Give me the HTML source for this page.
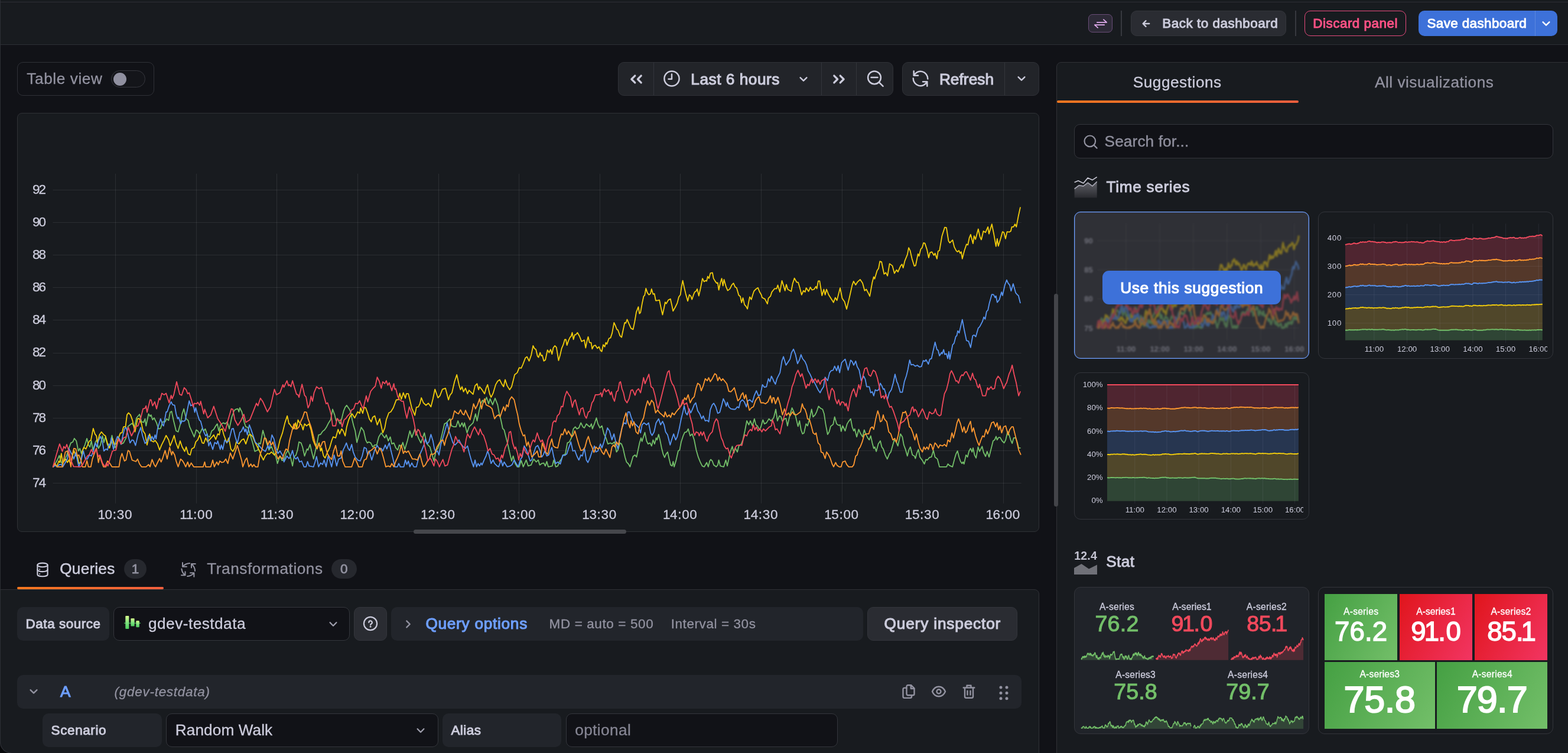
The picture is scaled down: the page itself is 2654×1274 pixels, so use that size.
<!DOCTYPE html>
<html lang="en"><head><meta charset="utf-8"><title>Edit panel - Grafana</title>
<style>
html,body{margin:0;padding:0;background:#111217;}
#app{width:2654px;height:1274px;overflow:hidden;position:relative;font-family:"Liberation Sans",sans-serif;}
.b{position:absolute;display:block;}
.t{position:absolute;white-space:nowrap;display:block;}
svg text{font-family:"Liberation Sans",sans-serif;}
</style></head><body><div id="app">
<div class="b" style="left:0px;top:0px;width:2654px;height:76px;background:#181b1f;"></div>
<div class="b" style="left:0px;top:3px;width:2654px;height:1px;background:#2d2f35;"></div>
<div class="b" style="left:0px;top:75px;width:2654px;height:1px;background:#2d2f35;"></div>
<div class="b" style="left:1842px;top:24px;width:41px;height:31px;background:#2d2a37;border:1px solid #6a4d78;border-radius:7px;box-sizing:border-box;"></div>
<svg class="b" style="left:1844.70px;top:21.60px;" width="36" height="36" viewBox="-18 -18 36 36" fill="none" stroke="#e3acf0" stroke-width="1.7" stroke-linecap="round" stroke-linejoin="round"><path d="M-6.2 -2.15H10.2L4.9 -6.9M6.2 2.15H-10.2L-4.9 6.9"/></svg>
<div class="b" style="left:1897px;top:18px;width:2px;height:43px;background:#37393f;"></div>
<div class="b" style="left:1914px;top:18px;width:263px;height:43px;background:#2a2c32;border:1px solid #33353b;border-radius:10px;box-sizing:border-box;"></div>
<svg class="b" style="left:1921.50px;top:21.60px;" width="36" height="36" viewBox="-18 -18 36 36" fill="none" stroke="#ccccdc" stroke-width="2.3" stroke-linecap="round" stroke-linejoin="round"><path d="M5.3 0H-5.3M-0.5 -4.9L-5.4 0 -0.5 4.9"/></svg>
<span class="t" style="left:1967.20px;top:25.04px;font-size:22.464000000000002px;line-height:29px;color:#ccccdc;letter-spacing:0.523px;-webkit-text-stroke:0.95px #ccccdc;">Back to dashboard</span>
<div class="b" style="left:2192px;top:18px;width:2px;height:43px;background:#37393f;"></div>
<div class="b" style="left:2208px;top:18px;width:172px;height:43px;border:1.5px solid #e64b7d;border-radius:10px;box-sizing:border-box;"></div>
<span class="t" style="left:2222.30px;top:25.04px;font-size:22.464000000000002px;line-height:29px;color:#ff5286;letter-spacing:0.487px;-webkit-text-stroke:0.95px #ff5286;">Discard panel</span>
<div class="b" style="left:2401px;top:18px;width:235px;height:43px;background:#3d71d9;border-radius:10px;"></div>
<div class="b" style="left:2597.5px;top:18px;width:1px;height:43px;background:#5b86de;"></div>
<span class="t" style="left:2415.50px;top:25.04px;font-size:22.464000000000002px;line-height:29px;color:#ffffff;letter-spacing:0.368px;-webkit-text-stroke:0.95px #ffffff;">Save dashboard</span>
<svg class="b" style="left:2599.20px;top:21.80px;" width="36" height="36" viewBox="-18 -18 36 36" fill="none" stroke="#ffffff" stroke-width="2.4" stroke-linecap="round" stroke-linejoin="round"><path d="M-5.4 -2.7L0 2.7 5.4 -2.7"/></svg>
<div class="b" style="left:29px;top:105px;width:232px;height:57px;border:1px solid #2f3137;border-radius:10px;box-sizing:border-box;"></div>
<span class="t" style="left:45.30px;top:116.43px;font-size:26.208px;line-height:34px;color:#9292a0;letter-spacing:0.593px;-webkit-text-stroke:0.3px #9292a0;">Table view</span>
<div class="b" style="left:188px;top:119px;width:58px;height:29px;background:#14151a;border:1px solid #36373e;border-radius:15px;box-sizing:border-box;"></div>
<div class="b" style="left:191.5px;top:122.5px;width:22px;height:22px;background:#9090a0;border-radius:11px;"></div>
<div class="b" style="left:1046px;top:105px;width:466px;height:57px;background:#222429;border:1px solid #2f3137;border-radius:10px;box-sizing:border-box;"></div>
<div class="b" style="left:1106px;top:106px;width:1px;height:55px;background:#33353b;"></div>
<div class="b" style="left:1390px;top:106px;width:1px;height:55px;background:#33353b;"></div>
<div class="b" style="left:1449px;top:106px;width:1px;height:55px;background:#33353b;"></div>
<svg class="b" style="left:1058.50px;top:115.80px;" width="36" height="36" viewBox="-18 -18 36 36" fill="none" stroke="#ccccdc" stroke-width="3.3" stroke-linecap="round" stroke-linejoin="round"><path d="M-2.2 -5.9L-8.1 0 -2.2 5.9M8.2 -5.9L2.4 0 8.2 5.9"/></svg>
<svg class="b" style="left:1119.30px;top:115.30px;" width="36" height="36" viewBox="-18 -18 36 36" fill="none" stroke="#ccccdc" stroke-width="2.5" stroke-linecap="round" stroke-linejoin="round"><circle cx="0" cy="0" r="12.6"/><path d="M0 -7.500V0.800H-5.500"/></svg>
<span class="t" style="left:1169.30px;top:117.13px;font-size:26.208px;line-height:34px;color:#ccccdc;letter-spacing:0.542px;-webkit-text-stroke:1.1px #ccccdc;">Last 6 hours</span>
<svg class="b" style="left:1341.50px;top:115.80px;" width="36" height="36" viewBox="-18 -18 36 36" fill="none" stroke="#ccccdc" stroke-width="2.4" stroke-linecap="round" stroke-linejoin="round"><path d="M-5.4 -2.7L0 2.7 5.4 -2.7"/></svg>
<svg class="b" style="left:1401.70px;top:115.80px;" width="36" height="36" viewBox="-18 -18 36 36" fill="none" stroke="#ccccdc" stroke-width="3.3" stroke-linecap="round" stroke-linejoin="round"><path d="M2.2 -5.9L8.1 0 2.2 5.9M-8.2 -5.9L-2.4 0 -8.2 5.9"/></svg>
<svg class="b" style="left:1462.70px;top:115.40px;" width="36" height="36" viewBox="-18 -18 36 36" fill="none" stroke="#ccccdc" stroke-width="2.5" stroke-linecap="round" stroke-linejoin="round"><circle cx="-1" cy="-1.700" r="10.9"/><path d="M7 6.300L13.600 12.900M-6.500 -1.900H4.500"/></svg>
<div class="b" style="left:1527px;top:105px;width:232px;height:57px;background:#222429;border:1px solid #2f3137;border-radius:10px;box-sizing:border-box;"></div>
<div class="b" style="left:1700px;top:106px;width:1px;height:55px;background:#33353b;"></div>
<svg class="b" style="left:1540.20px;top:115.00px;" width="36" height="36" viewBox="-18 -18 36 36" fill="none" stroke="#ccccdc" stroke-width="2.5" stroke-linecap="round" stroke-linejoin="round"><path d="M-11.300 -12.800V-5.200H-4"/><path d="M-11 -5.400A12.300 12.300 0 0 1 12.300 0.400"/><path d="M11.300 12.800V5.200H4"/><path d="M11 5.400A12.300 12.300 0 0 1 -12.300 -0.400"/></svg>
<span class="t" style="left:1589.90px;top:117.13px;font-size:26.208px;line-height:34px;color:#ccccdc;letter-spacing:0.072px;-webkit-text-stroke:1.1px #ccccdc;">Refresh</span>
<svg class="b" style="left:1711.30px;top:115.40px;" width="36" height="36" viewBox="-18 -18 36 36" fill="none" stroke="#ccccdc" stroke-width="2.4" stroke-linecap="round" stroke-linejoin="round"><path d="M-5.4 -2.7L0 2.7 5.4 -2.7"/></svg>
<div class="b" style="left:29px;top:191px;width:1730px;height:709px;background:#181b1f;border:1px solid #2f3136;border-radius:8px;box-sizing:border-box;"></div>
<svg class="b" style="left:0px;top:0px;" width="1790" height="900"><rect x="195" y="293.9" width="1" height="557.8" fill="rgba(204,204,220,0.105)"/><rect x="332" y="293.9" width="1" height="557.8" fill="rgba(204,204,220,0.105)"/><rect x="468" y="293.9" width="1" height="557.8" fill="rgba(204,204,220,0.105)"/><rect x="605" y="293.9" width="1" height="557.8" fill="rgba(204,204,220,0.105)"/><rect x="742" y="293.9" width="1" height="557.8" fill="rgba(204,204,220,0.105)"/><rect x="878" y="293.9" width="1" height="557.8" fill="rgba(204,204,220,0.105)"/><rect x="1015" y="293.9" width="1" height="557.8" fill="rgba(204,204,220,0.105)"/><rect x="1151" y="293.9" width="1" height="557.8" fill="rgba(204,204,220,0.105)"/><rect x="1288" y="293.9" width="1" height="557.8" fill="rgba(204,204,220,0.105)"/><rect x="1425" y="293.9" width="1" height="557.8" fill="rgba(204,204,220,0.105)"/><rect x="1561" y="293.9" width="1" height="557.8" fill="rgba(204,204,220,0.105)"/><rect x="1698" y="293.9" width="1" height="557.8" fill="rgba(204,204,220,0.105)"/><rect x="89.5" y="817" width="1639.1" height="1" fill="rgba(204,204,220,0.105)"/><rect x="89.5" y="762" width="1639.1" height="1" fill="rgba(204,204,220,0.105)"/><rect x="89.5" y="707" width="1639.1" height="1" fill="rgba(204,204,220,0.105)"/><rect x="89.5" y="652" width="1639.1" height="1" fill="rgba(204,204,220,0.105)"/><rect x="89.5" y="597" width="1639.1" height="1" fill="rgba(204,204,220,0.105)"/><rect x="89.5" y="541" width="1639.1" height="1" fill="rgba(204,204,220,0.105)"/><rect x="89.5" y="486" width="1639.1" height="1" fill="rgba(204,204,220,0.105)"/><rect x="89.5" y="431" width="1639.1" height="1" fill="rgba(204,204,220,0.105)"/><rect x="89.5" y="376" width="1639.1" height="1" fill="rgba(204,204,220,0.105)"/><rect x="89.5" y="321" width="1639.1" height="1" fill="rgba(204,204,220,0.105)"/><path d="M89.8 789.8L93.6 784.2L97.0 778.3L100.4 770.6L102.9 780.0L105.5 785.0L108.9 778.3L113.1 769.8L115.7 761.3L119.9 749.4L123.3 747.7L125.8 741.8L129.2 746.0L132.6 763.0L135.2 758.7L137.7 767.2L140.3 760.4L143.7 752.8L147.1 741.8L149.6 752.8L152.2 756.2L154.7 746.0L157.2 761.3L161.5 747.7L164.0 744.3L166.6 758.7L170.0 752.8L173.4 737.5L175.9 748.5L178.5 739.2L181.9 752.8L185.3 757.9L189.5 736.7L192.0 749.4L195.4 757.9L198.8 747.7L202.2 742.6L205.6 751.1L209.0 749.4L213.3 740.9L216.7 721.4L220.1 718.8L223.5 716.3L227.7 722.2L231.1 707.0L236.2 701.0L239.6 713.7L243.0 714.6L245.5 708.6L247.2 720.5L251.5 700.2L254.0 704.4L255.7 701.9L258.3 710.3L260.8 707.0L265.0 715.4L268.4 725.6L271.8 724.8L275.2 713.7L279.5 713.7L282.0 708.6L285.4 711.2L288.0 697.6L290.5 695.9L293.9 712.0L298.1 729.0L301.5 730.7L305.8 715.4L308.3 700.2L311.2 691.7L315.1 708.6L318.5 711.2L321.1 722.2L326.2 733.3L328.7 739.2L332.1 727.3L334.6 729.0L338.0 734.1L342.3 724.8L344.8 729.0L347.4 725.6L351.6 737.5L355.0 739.2L358.4 729.0L361.8 726.5L365.2 720.5L367.8 717.1L370.3 729.0L373.7 718.0L377.9 715.4L381.3 717.1L384.7 713.7L388.1 725.6L392.4 705.3L396.6 694.2L399.2 692.5L402.6 691.7L404.3 696.8L405.9 690.0L409.3 696.8L413.6 715.4L416.1 722.2L419.5 723.1L422.9 734.1L427.2 747.7L431.4 763.8L436.5 761.3L438.2 749.4L440.8 751.1L445.0 728.2L448.4 740.1L451.8 751.1L455.2 761.3L459.4 755.3L463.7 766.4L467.1 773.2L469.6 784.2L473.9 771.5L477.3 779.1L480.6 778.3L484.0 767.2L487.4 762.1L490.0 768.1L492.5 776.6L495.1 788.4L497.6 773.2L501.0 769.8L503.6 761.3L506.1 747.7L509.5 749.4L512.1 756.2L515.5 771.5L519.7 759.6L521.4 761.3L524.8 751.9L527.3 763.0L530.7 776.6L534.1 761.3L536.7 749.4L539.2 735.8L542.6 735.0L546.0 729.9L549.4 727.3L552.8 722.2L556.2 715.4L559.6 710.3L563.0 692.5L566.4 701.9L568.9 712.0L571.5 708.6L575.7 717.1L578.3 708.6L581.7 695.1L584.2 689.1L586.8 685.7L591.0 691.7L593.6 696.8L596.1 710.3L598.6 720.5L601.2 729.0L604.1 748.5L607.1 737.5L611.4 723.1L615.6 729.0L619.0 744.3L621.6 749.4L624.1 747.7L627.5 749.4L630.9 756.2L634.3 752.8L637.7 752.8L641.1 739.2L645.3 732.4L648.7 737.5L651.3 740.9L653.8 735.8L657.2 746.0L660.6 739.2L663.2 751.1L666.6 749.4L670.0 757.9L673.3 761.3L675.9 752.8L679.3 756.2L681.8 748.5L685.2 760.4L689.5 746.0L693.7 729.0L697.1 740.1L700.5 730.7L702.2 725.6L705.6 734.1L709.0 742.6L712.4 749.4L714.9 742.6L718.3 732.4L720.9 744.3L724.3 752.8L727.7 756.2L731.1 768.1L734.5 780.0L737.9 763.0L741.3 757.9L744.6 749.4L748.0 735.8L752.3 717.1L755.7 715.4L759.9 710.3L761.6 708.6L764.2 720.5L768.4 722.2L771.8 722.2L775.2 712.0L778.6 722.2L782.0 715.4L784.5 722.2L786.2 715.4L790.5 732.4L793.9 722.2L797.3 718.8L800.7 715.4L804.9 700.2L807.5 712.0L810.9 695.1L814.3 681.5L816.8 677.2L820.2 680.6L823.6 672.2L827.0 683.2L829.5 674.7L833.8 684.9L838.0 673.8L842.3 684.9L844.8 698.5L848.2 712.0L850.8 724.8L853.3 727.3L856.7 740.9L860.1 754.5L863.5 769.8L866.0 780.0L868.6 771.5L872.0 784.2L875.4 789.8L878.8 789.8L882.2 779.1L885.6 789.8L890.6 778.3L894.0 788.4L899.1 786.7L900.0 784.2L903.4 776.6L907.6 781.6L911.0 778.3L913.6 786.7L917.0 784.2L920.4 783.3L922.9 788.4L925.5 780.8L928.0 789.8L934.8 788.4L937.3 778.3L940.7 789.8L944.1 788.4L946.7 781.6L950.1 776.6L953.5 769.8L956.9 768.1L960.3 749.4L963.7 747.7L967.1 740.9L970.5 725.6L973.8 722.2L976.4 725.6L979.8 723.9L983.2 715.4L986.6 722.2L989.1 723.9L992.5 717.1L995.9 720.5L998.5 722.2L1001.0 717.1L1002.7 725.6L1006.1 717.1L1009.5 707.0L1012.0 717.1L1015.4 723.9L1018.8 720.5L1022.2 734.1L1025.6 740.9L1029.0 751.1L1033.3 749.4L1035.8 751.1L1040.1 747.7L1043.5 764.7L1046.0 761.3L1049.4 749.4L1051.9 751.1L1054.5 757.9L1057.9 773.2L1060.4 781.6L1063.8 785.0L1066.4 789.8L1069.8 778.3L1071.5 772.3L1074.9 769.8L1077.4 773.2L1080.0 761.3L1082.5 749.4L1085.0 740.9L1086.7 746.8L1091.5 731.6L1094.4 746.0L1096.9 751.1L1100.3 749.4L1102.9 754.5L1105.4 744.3L1108.0 751.1L1110.5 740.9L1112.2 744.3L1114.8 735.0L1117.3 745.1L1119.8 757.9L1122.4 768.1L1124.9 774.0L1127.5 768.1L1130.0 764.7L1132.6 776.6L1135.1 786.7L1137.7 788.4L1139.4 780.8L1141.1 789.8L1144.5 778.3L1147.9 763.0L1150.4 761.3L1153.0 747.7L1156.3 737.5L1158.9 731.6L1162.3 730.7L1164.8 725.6L1168.2 737.5L1171.6 734.1L1175.0 744.3L1178.4 761.3L1181.8 773.2L1185.2 781.6L1188.6 788.4L1192.0 789.8L1196.2 782.5L1198.8 789.8L1201.3 780.0L1203.0 777.4L1205.6 780.0L1208.1 786.7L1212.4 789.8L1214.9 786.7L1216.6 778.3L1219.2 788.4L1225.1 789.8L1228.5 778.3L1231.0 788.4L1233.6 776.6L1236.1 764.7L1239.5 755.3L1242.1 766.4L1244.6 757.9L1248.0 764.7L1250.6 754.5L1254.8 751.1L1257.4 744.3L1260.8 729.0L1264.1 712.0L1267.5 718.8L1270.1 712.0L1273.5 720.5L1276.9 708.6L1279.4 718.8L1282.0 720.5L1285.4 727.3L1287.9 722.2L1291.3 710.3L1293.9 717.1L1297.3 715.4L1301.5 708.6L1304.9 712.0L1308.3 708.6L1310.0 705.3L1313.1 692.5L1315.9 712.0L1319.3 703.6L1321.9 705.3L1324.4 712.9L1327.8 708.6L1330.4 707.8L1332.9 720.5L1335.5 708.6L1338.0 698.5L1340.6 690.0L1344.0 697.6L1346.5 703.6L1350.7 721.4L1353.3 712.0L1355.8 727.3L1358.4 734.1L1360.9 732.4L1364.3 717.1L1366.9 720.5L1370.3 708.6L1373.7 692.5L1376.2 705.3L1379.6 701.9L1382.2 696.8L1385.5 687.4L1388.9 690.8L1392.3 692.5L1394.9 700.2L1397.4 717.1L1400.8 735.0L1403.4 730.7L1405.9 721.4L1410.2 718.0L1412.7 705.3L1416.1 717.1L1419.5 719.7L1422.0 718.8L1423.7 729.9L1426.3 720.5L1430.5 729.0L1433.9 717.1L1436.5 712.9L1439.9 708.6L1442.4 722.2L1445.0 729.0L1446.7 725.6L1450.1 739.2L1453.5 726.5L1456.8 734.1L1460.2 739.2L1462.8 727.3L1465.3 734.1L1468.7 740.9L1471.3 744.3L1473.8 737.5L1476.4 749.4L1478.9 758.7L1480.6 756.2L1483.2 763.8L1486.6 751.1L1490.0 746.0L1492.5 756.2L1495.0 759.6L1498.4 769.8L1501.8 776.6L1505.2 768.1L1507.8 764.7L1511.2 752.8L1513.7 744.3L1517.1 747.7L1519.7 754.5L1524.2 734.1L1527.3 739.2L1529.8 752.8L1532.4 759.6L1535.8 771.5L1538.3 761.3L1540.9 756.2L1544.3 769.8L1547.7 771.5L1549.4 775.7L1551.9 766.4L1554.5 760.4L1557.0 773.2L1561.3 779.1L1564.6 785.0L1567.2 777.4L1569.7 778.3L1573.1 774.0L1576.5 773.2L1579.9 762.1L1582.5 773.2L1586.7 776.6L1590.1 789.8L1602.0 789.8L1604.5 785.0L1607.1 787.6L1612.2 789.8L1615.6 776.6L1618.1 768.1L1620.7 763.0L1623.2 773.2L1625.8 780.8L1628.3 784.2L1630.0 781.6L1631.7 785.0L1635.1 769.8L1637.6 773.2L1640.2 763.0L1642.7 758.7L1645.3 764.7L1647.0 757.9L1649.5 769.8L1652.1 774.9L1655.5 756.2L1658.0 763.8L1662.3 755.3L1664.8 765.5L1668.2 772.3L1670.8 763.8L1674.1 773.2L1677.5 759.6L1680.9 746.0L1683.5 744.3L1686.0 738.4L1687.7 744.3L1690.3 740.1L1692.8 740.1L1696.2 746.0L1699.6 749.4L1702.2 744.3L1705.6 729.9L1708.1 735.8L1710.6 744.3L1713.2 750.2L1715.7 740.9L1719.1 740.9L1721.7 747.7L1724.2 757.9L1726.8 757.9" fill="none" stroke="#73bf69" stroke-width="1.8" stroke-linejoin="round" stroke-linecap="round"/><path d="M89.8 789.8L92.7 784.2L96.1 789.8L99.5 780.0L101.2 782.5L103.8 767.2L106.3 783.3L111.4 776.6L114.0 782.5L116.5 778.3L119.9 785.9L122.4 773.2L125.0 762.1L128.4 771.5L130.9 769.8L133.5 784.2L136.9 781.6L139.4 763.0L142.0 757.0L145.4 759.6L151.3 746.0L153.8 745.1L157.8 724.8L160.6 734.1L163.2 737.5L164.9 749.4L168.3 735.8L171.7 730.7L175.9 735.8L178.5 737.5L181.9 750.2L185.3 757.9L188.6 747.7L190.3 741.8L193.7 752.8L197.1 750.2L200.5 740.9L203.9 732.4L206.5 732.4L209.0 722.2L212.4 722.2L215.0 701.9L217.5 698.5L220.9 701.9L224.3 711.2L228.5 730.7L232.8 708.6L235.3 707.8L239.6 717.1L242.1 729.0L245.5 734.1L248.9 752.8L253.2 734.1L256.6 746.0L260.0 747.7L262.5 745.1L266.7 751.1L270.1 761.3L273.5 752.8L277.8 744.3L281.2 736.7L285.4 744.3L288.0 754.5L292.2 744.3L294.8 736.7L297.3 747.7L301.5 758.7L304.9 746.0L308.3 756.2L312.6 763.8L315.1 756.2L318.5 768.1L321.9 769.8L324.5 759.6L328.7 757.0L331.3 747.7L334.6 744.3L338.0 735.8L342.3 749.4L344.8 750.2L348.2 740.9L351.6 747.7L355.9 742.6L361.8 735.8L365.2 743.5L368.6 734.1L371.1 735.8L372.8 727.3L376.2 725.6L378.8 735.8L383.9 749.4L387.3 740.9L390.7 759.6L394.1 763.8L397.5 757.9L400.0 747.7L404.3 751.1L409.3 744.3L412.7 742.6L416.1 751.1L421.2 735.8L423.8 735.0L428.0 739.2L431.4 747.7L436.5 757.9L439.1 763.0L442.4 771.5L445.8 778.3L448.4 772.3L452.6 767.2L456.0 768.1L459.4 764.7L464.5 769.8L467.9 765.5L470.5 758.7L473.9 744.3L478.1 732.4L482.3 715.4L486.2 703.6L489.1 717.1L490.0 717.1L493.4 722.2L496.8 725.6L500.2 715.4L501.9 725.6L504.4 710.3L507.0 715.4L510.4 718.8L512.9 727.3L515.5 717.1L518.9 720.5L523.1 717.1L526.5 727.3L529.9 744.3L533.3 752.8L536.7 759.6L540.1 749.4L542.6 763.0L544.3 757.9L547.7 771.5L550.3 774.9L554.5 764.7L557.9 757.9L561.3 746.0L563.8 739.2L568.1 740.9L572.3 726.5L574.9 734.1L578.3 725.6L580.8 729.0L584.2 737.5L586.8 722.2L590.2 710.3L592.7 704.4L596.1 700.2L600.3 707.0L603.7 700.2L605.4 696.8L608.8 699.3L610.5 690.0L613.9 699.3L616.5 689.1L619.0 690.0L622.4 699.3L625.0 708.6L628.4 713.7L630.9 706.1L634.3 703.6L638.5 718.8L642.8 708.6L647.9 732.4L651.3 723.9L653.8 710.3L658.1 698.5L661.5 696.8L665.7 690.0L670.8 676.4L674.2 676.4L676.7 665.4L679.3 675.5L682.7 664.5L686.1 673.8L687.8 666.2L691.2 666.2L693.7 676.4L697.1 690.8L702.2 702.7L704.8 689.1L708.1 688.3L710.7 683.2L713.2 673.0L716.6 681.5L720.9 685.7L725.1 682.3L729.4 688.3L732.8 674.7L736.2 658.6L741.3 673.0L744.6 669.6L748.9 658.6L754.0 656.9L759.1 676.4L761.6 668.8L765.0 664.5L769.3 645.8L773.2 634.0L776.9 650.9L779.5 659.4L782.0 654.3L784.5 662.8L787.9 656.9L791.3 666.2L793.9 660.3L800.7 667.1L804.1 652.6L807.5 649.2L810.0 659.4L811.7 654.3L815.9 659.4L820.2 666.2L822.7 656.9L825.3 650.9L828.7 666.2L831.2 672.2L834.6 665.4L838.9 650.9L842.3 645.0L845.7 642.4L849.1 649.2L852.4 654.3L855.0 642.4L858.4 652.6L862.6 659.4L866.0 654.3L871.1 634.0L875.4 630.6L878.8 622.1L882.2 622.9L884.9 617.0L889.3 605.4L892.0 603.6L895.6 610.8L899.1 601.0L902.3 585.0L904.5 589.4L907.1 591.2L909.8 602.7L911.6 604.5L914.2 596.5L916.0 601.9L917.8 601.0L920.5 610.8L923.1 609.0L926.7 592.1L929.4 596.5L932.0 591.2L934.3 599.2L936.5 588.5L939.1 585.0L941.8 587.6L945.4 609.9L948.0 601.0L950.7 589.4L953.4 583.2L956.0 574.3L957.8 574.3L959.6 584.1L962.3 576.1L964.9 570.7L966.7 569.0L968.5 562.7L970.6 574.3L972.9 566.3L974.7 566.3L977.4 562.7L980.9 569.0L984.5 577.8L988.9 575.2L991.3 588.5L993.4 577.8L995.5 569.8L997.8 579.6L1000.5 579.6L1002.3 590.3L1004.9 585.0L1007.6 584.1L1011.2 589.4L1013.8 586.7L1016.5 593.0L1018.6 594.7L1021.0 583.2L1023.6 586.7L1025.4 579.6L1027.2 582.3L1030.7 572.5L1033.4 571.6L1036.1 563.6L1039.3 545.8L1041.4 550.3L1044.1 557.4L1045.9 558.3L1049.4 568.1L1052.1 570.7L1054.7 558.3L1057.4 545.8L1059.2 546.7L1061.5 540.5L1064.5 547.6L1068.1 555.6L1071.6 557.4L1074.3 544.1L1077.0 528.1L1080.5 519.2L1082.3 530.7L1084.1 528.9L1086.8 513.8L1089.4 501.4L1091.2 499.6L1093.3 488.0L1095.7 495.1L1098.3 498.7L1101.0 496.9L1102.8 488.9L1105.4 497.8L1107.6 496.9L1109.9 508.5L1112.5 508.5L1116.1 507.6L1118.8 520.9L1121.4 532.5L1123.2 524.5L1125.9 511.2L1127.7 513.8L1131.2 507.6L1134.8 505.8L1137.4 517.4L1139.2 526.3L1142.8 520.0L1146.3 512.9L1149.0 502.3L1151.7 498.7L1153.5 485.4L1155.6 474.7L1157.9 485.4L1160.6 496.9L1164.1 509.4L1166.8 498.7L1169.5 501.4L1171.2 506.7L1173.9 498.7L1175.7 494.3L1178.4 492.5L1180.1 488.9L1182.8 500.5L1185.5 488.9L1189.0 471.1L1191.7 476.5L1194.4 474.7L1196.1 475.6L1197.9 467.6L1200.0 471.1L1202.4 462.2L1205.9 461.4L1207.7 471.1L1210.4 475.6L1213.0 479.1L1214.8 478.3L1216.6 490.7L1219.3 478.3L1221.6 471.1L1223.7 483.6L1225.5 472.9L1229.0 485.4L1231.7 491.6L1235.3 488.9L1238.8 481.8L1241.5 479.1L1244.2 485.4L1246.8 487.1L1250.4 499.6L1253.0 501.4L1255.2 512.0L1257.5 504.0L1260.2 515.6L1262.8 518.3L1265.1 522.7L1267.3 510.3L1269.1 502.3L1271.7 506.7L1274.4 497.8L1276.2 492.5L1279.7 488.9L1282.9 486.8L1285.9 494.3L1288.6 498.7L1290.0 503.5L1294.7 505.9L1298.9 514.1L1300.6 504.7L1304.1 501.2L1306.4 494.1L1311.1 488.3L1314.6 488.3L1316.5 482.4L1320.0 494.1L1323.5 474.9L1326.3 483.6L1328.7 491.8L1331.0 481.3L1333.4 489.5L1339.2 493.0L1341.6 480.1L1344.6 470.7L1348.6 477.7L1351.0 477.7L1353.8 487.1L1356.8 498.8L1359.9 491.8L1362.7 494.1L1364.6 487.1L1368.6 493.0L1371.6 485.9L1374.4 490.6L1377.9 489.5L1381.0 484.8L1382.6 488.3L1385.0 475.4L1387.3 475.4L1391.3 500.0L1394.4 489.5L1396.7 498.8L1399.0 489.5L1402.6 498.8L1407.2 505.9L1410.8 511.7L1413.8 503.5L1416.6 508.2L1422.0 487.1L1425.5 504.7L1429.5 510.6L1433.0 523.0L1437.7 503.5L1442.4 482.4L1444.8 475.9L1448.3 482.0L1451.8 476.6L1456.0 473.0L1460.0 478.9L1463.5 491.8L1466.3 489.5L1469.4 495.3L1472.2 501.2L1476.4 477.7L1478.8 468.4L1480.4 471.9L1484.6 457.8L1487.0 454.3L1489.3 442.1L1492.1 443.0L1496.4 463.7L1499.4 461.3L1502.2 466.7L1505.7 446.1L1510.4 449.6L1513.9 462.5L1517.5 456.6L1519.8 460.1L1524.5 449.6L1526.8 447.2L1528.7 453.1L1531.5 441.4L1535.8 430.8L1538.1 419.1L1540.4 423.8L1543.7 437.9L1547.5 450.1L1549.8 449.1L1553.8 429.7L1555.5 433.2L1558.5 421.5L1560.8 419.1L1563.2 410.9L1565.5 411.6L1569.1 422.6L1571.9 436.0L1574.2 427.3L1577.3 426.1L1580.8 432.0L1582.7 428.5L1585.9 437.9L1587.8 425.0L1590.2 423.8L1594.4 399.2L1599.1 384.6L1601.9 385.1L1605.4 407.4L1607.7 410.9L1612.4 406.2L1615.2 417.9L1618.3 423.8L1620.6 426.1L1623.0 423.8L1625.3 428.5L1627.0 426.1L1628.8 437.9L1632.4 423.8L1635.9 413.2L1638.2 414.4L1640.6 402.7L1642.9 396.8L1646.9 412.1L1648.8 399.2L1651.1 405.0L1655.8 387.5L1658.6 400.3L1661.0 405.5L1664.5 391.0L1668.0 393.3L1672.2 383.9L1673.9 395.7L1678.8 379.2L1682.1 395.7L1685.8 416.8L1687.9 403.9L1689.8 416.3L1693.3 405.0L1696.9 392.1L1699.2 393.3L1702.0 403.9L1704.6 392.1L1708.6 392.6L1710.9 391.0L1712.6 383.9L1715.6 383.9L1718.0 379.2L1720.3 383.9L1723.8 365.2L1726.9 351.1" fill="none" stroke="#f2cc0c" stroke-width="1.8" stroke-linejoin="round" stroke-linecap="round"/><path d="M89.8 789.8L93.6 787.6L97.0 789.8L100.4 785.9L103.8 785.9L106.3 789.8L110.6 782.5L114.0 776.6L116.5 758.7L119.9 765.5L122.4 769.8L125.0 776.6L128.4 765.5L130.9 778.3L133.5 789.8L136.9 780.0L138.6 773.2L141.1 763.0L144.5 776.6L147.9 776.6L151.3 769.8L154.7 771.5L158.1 763.0L161.5 749.4L164.0 756.2L166.6 746.0L170.0 738.4L173.4 747.7L175.9 763.0L179.3 759.6L181.9 761.3L184.4 751.1L186.1 753.6L188.6 740.9L192.0 760.4L195.4 747.7L198.8 738.4L202.2 742.6L204.8 751.9L208.2 735.8L210.7 725.6L213.3 723.1L215.8 732.4L220.1 749.4L223.5 744.3L226.0 745.1L229.4 753.6L233.6 735.8L238.2 723.1L241.3 737.5L245.5 750.2L248.1 747.7L251.5 736.7L254.9 746.0L257.4 738.4L260.0 744.3L262.5 735.8L264.2 742.6L266.7 725.6L271.8 708.6L275.2 718.8L276.9 720.5L281.2 696.8L282.9 696.8L286.3 686.6L289.7 679.8L292.2 684.9L295.6 685.7L298.1 700.2L300.7 708.6L302.4 706.1L305.8 717.1L308.3 712.0L310.9 712.9L313.4 711.2L316.8 695.1L320.2 678.1L322.8 686.6L325.3 684.9L327.9 688.3L329.6 697.6L331.3 690.0L334.6 701.9L337.2 710.3L339.7 712.9L343.1 725.6L345.7 732.4L348.2 737.5L350.8 734.1L353.3 754.5L355.9 747.7L360.1 760.4L363.5 748.5L366.9 751.1L368.6 746.0L372.8 760.4L374.5 752.8L377.1 760.4L380.5 744.3L383.9 748.5L387.3 746.0L392.4 725.6L394.9 724.8L398.3 739.2L401.7 750.2L405.9 731.6L408.5 729.9L411.9 722.2L414.4 730.7L416.1 725.6L418.7 735.8L422.1 718.8L424.6 725.6L428.0 735.8L432.3 748.5L436.5 751.9L443.3 759.6L449.2 763.8L453.5 753.6L456.0 759.6L460.3 735.8L463.7 742.6L467.1 757.9L470.5 767.2L473.9 763.0L478.9 771.5L480.6 781.6L485.7 771.5L489.1 775.7L490.0 774.9L492.5 769.8L495.1 762.1L497.6 773.2L501.0 776.6L503.6 773.2L507.0 781.6L510.4 780.0L514.6 789.8L518.0 789.8L520.6 780.8L523.1 788.4L530.7 789.8L533.3 781.6L535.8 772.3L539.2 789.8L542.6 783.3L546.0 785.9L548.6 778.3L552.0 789.8L555.4 771.5L557.9 778.3L561.3 789.8L565.5 769.8L569.8 788.4L573.2 776.6L577.4 774.9L580.8 761.3L583.4 756.2L586.3 749.4L589.3 758.7L591.9 762.1L595.3 751.9L597.8 764.7L601.2 773.2L605.4 778.3L609.7 780.0L613.1 771.5L616.5 757.0L619.9 758.7L622.4 769.8L625.0 763.0L629.2 778.3L631.8 769.8L634.3 761.3L638.5 753.6L641.9 759.6L645.3 758.7L647.9 763.0L652.1 752.8L654.7 759.6L658.9 749.4L661.5 761.3L664.9 774.9L668.3 789.8L672.5 789.8L675.0 784.2L677.6 789.8L683.5 789.8L686.1 778.3L688.6 785.9L691.2 780.0L693.7 789.8L697.1 783.3L700.5 789.8L704.8 789.8L708.1 776.6L711.5 767.2L714.1 761.3L717.5 752.8L720.0 742.6L722.6 751.1L726.0 747.7L729.4 735.0L732.8 746.0L735.3 759.6L737.9 764.7L740.4 763.0L743.0 769.8L746.3 751.1L749.7 740.9L753.1 729.0L756.9 715.4L759.9 729.0L763.3 739.2L766.7 749.4L770.1 752.8L773.5 749.4L776.9 744.3L780.3 751.1L784.5 756.2L787.9 758.7L791.3 754.5L794.7 768.1L798.1 780.0L801.5 789.8L804.1 778.3L806.6 789.8L809.2 784.2L811.7 788.4L814.3 783.3L815.9 786.7L820.2 776.6L822.7 771.5L825.3 763.0L827.8 769.8L831.2 784.2L834.6 778.3L837.2 784.2L841.4 788.4L844.0 789.8L848.2 778.3L850.8 788.4L853.3 781.6L858.4 789.8L863.5 788.4L866.9 785.9L870.3 778.3L873.7 784.2L877.1 789.8L881.3 776.6L883.9 773.2L887.3 754.5L890.6 760.4L894.0 769.8L897.4 780.0L900.0 778.3L903.4 766.4L906.8 756.2L910.2 753.6L913.6 761.3L917.0 773.2L919.5 769.8L922.1 763.0L925.5 771.5L928.9 769.8L931.4 763.0L934.0 757.0L937.3 773.2L940.7 784.2L944.1 781.6L948.4 785.0L952.6 769.8L956.0 770.6L959.4 768.1L962.0 759.6L966.2 747.7L969.6 763.0L973.0 762.1L976.4 771.5L979.8 778.3L983.2 769.8L985.7 771.5L989.1 757.9L992.5 778.3L995.1 782.5L998.5 774.9L1001.9 764.7L1006.1 754.5L1008.6 764.7L1012.0 763.0L1016.3 751.1L1018.8 757.9L1022.2 747.7L1025.6 734.1L1028.2 723.9L1031.6 729.0L1035.8 744.3L1039.2 734.1L1042.6 749.4L1046.0 759.6L1049.4 737.5L1052.8 723.9L1056.2 715.4L1059.6 717.1L1063.0 696.8L1065.5 696.8L1068.1 705.3L1071.5 713.7L1074.9 717.1L1078.3 720.5L1081.6 723.9L1084.2 732.4L1086.7 718.8L1090.1 715.4L1094.4 718.8L1097.8 715.4L1101.2 732.4L1103.7 736.7L1107.1 730.7L1110.5 715.4L1114.8 708.6L1118.1 718.8L1121.5 712.9L1124.1 718.8L1126.6 730.7L1130.0 735.8L1134.3 752.8L1136.8 744.3L1140.2 734.1L1143.6 744.3L1146.2 739.2L1149.6 725.6L1153.0 708.6L1156.3 695.1L1158.0 686.6L1160.6 698.5L1163.1 701.9L1166.5 691.7L1169.1 698.5L1171.6 693.4L1175.0 684.9L1177.6 681.5L1181.0 695.1L1184.4 700.2L1187.8 708.6L1190.3 703.6L1193.7 712.0L1197.1 711.2L1199.6 713.7L1202.2 693.4L1205.6 684.9L1208.1 682.3L1211.5 688.3L1214.9 699.3L1218.3 697.6L1221.7 684.9L1224.3 674.7L1226.8 679.8L1229.3 687.4L1231.0 680.6L1233.6 688.3L1237.0 691.7L1241.2 692.5L1244.6 692.5L1248.0 688.3L1250.6 690.0L1253.1 679.8L1256.5 676.4L1259.9 679.8L1263.3 688.3L1265.8 678.1L1269.2 676.4L1273.5 680.6L1276.9 668.8L1280.3 661.1L1283.7 669.6L1287.1 667.9L1290.5 650.9L1293.9 655.2L1297.3 654.3L1300.6 640.7L1303.2 645.8L1305.7 636.5L1308.3 641.6L1310.0 645.8L1312.5 650.1L1315.1 640.7L1320.2 630.6L1323.6 610.2L1326.1 603.4L1330.4 617.8L1333.8 612.7L1337.2 607.6L1339.7 596.6L1343.1 590.7L1346.5 600.0L1349.9 615.3L1353.3 608.5L1355.8 600.0L1358.4 606.8L1362.6 611.9L1365.2 617.8L1367.7 627.2L1371.1 633.1L1374.5 640.7L1377.9 645.8L1380.5 650.9L1384.7 659.4L1388.1 664.5L1390.6 659.4L1394.0 654.3L1396.6 638.2L1400.8 644.1L1404.2 630.6L1406.8 627.2L1410.2 626.3L1412.7 619.5L1416.1 627.2L1418.6 618.7L1421.2 630.6L1424.6 613.6L1427.1 611.0L1430.5 607.6L1435.6 626.3L1439.9 609.3L1442.4 611.9L1445.0 617.8L1448.4 611.0L1450.9 620.4L1454.3 626.3L1457.7 644.1L1461.9 636.5L1464.5 641.6L1467.0 654.3L1471.3 654.3L1473.8 664.5L1476.4 662.8L1478.9 669.6L1481.5 659.4L1484.0 661.1L1487.4 659.4L1490.0 648.4L1492.5 652.6L1495.0 658.6L1496.7 657.7L1499.3 666.2L1501.8 676.4L1505.2 664.5L1508.6 659.4L1512.0 647.5L1514.9 633.1L1518.0 645.8L1519.7 649.2L1523.9 663.7L1527.3 663.7L1530.7 645.8L1534.1 635.7L1536.6 625.5L1539.7 609.1L1542.1 617.3L1545.6 616.6L1549.1 619.6L1552.6 618.0L1556.2 620.8L1559.7 620.1L1562.7 610.2L1565.5 611.4L1567.4 608.6L1571.4 616.1L1573.7 607.9L1576.6 606.7L1582.7 579.0L1585.9 591.5L1587.8 592.6L1590.2 602.0L1593.7 596.2L1594.8 598.5L1597.2 591.5L1599.1 599.7L1601.9 598.5L1604.2 606.7L1606.1 595.0L1607.7 607.9L1612.4 583.3L1614.8 580.9L1617.8 569.2L1619.5 568.0L1621.1 559.8L1623.5 563.3L1628.8 540.6L1632.4 559.8L1635.9 576.2L1639.4 577.4L1642.9 587.9L1646.4 568.0L1648.8 566.8L1651.6 569.7L1655.8 555.1L1658.2 552.8L1662.9 543.9L1665.2 536.4L1667.5 539.9L1669.9 527.0L1672.2 524.6L1674.6 512.9L1678.8 498.1L1681.6 498.4L1684.4 503.5L1685.8 500.7L1687.9 511.7L1691.5 507.0L1695.2 494.1L1696.9 500.0L1700.8 482.4L1703.9 473.7L1706.2 478.9L1709.0 482.4L1711.4 492.3L1714.9 480.1L1719.1 495.3L1722.6 499.3L1723.8 500.0L1726.9 512.4" fill="none" stroke="#5794f2" stroke-width="1.8" stroke-linejoin="round" stroke-linecap="round"/><path d="M89.8 789.8L92.7 784.2L97.0 789.8L105.5 789.8L108.0 776.6L110.6 764.7L114.0 763.0L117.3 773.2L119.9 789.8L122.4 769.8L125.0 758.7L128.4 759.6L130.9 771.5L133.5 769.8L136.9 778.3L139.4 789.8L144.5 789.8L147.1 779.1L149.6 789.8L153.8 789.8L156.4 776.6L158.9 769.8L163.2 758.7L166.6 782.5L169.1 771.5L171.7 780.8L175.1 789.8L179.3 789.8L181.9 780.0L186.1 784.2L189.5 789.8L201.4 789.8L203.9 774.9L206.5 767.2L210.7 780.0L213.3 778.3L216.7 762.1L219.2 763.8L223.5 778.3L227.7 780.0L230.2 780.8L232.8 776.6L236.2 785.0L239.6 789.8L247.2 789.8L251.5 785.9L254.0 789.8L257.4 777.4L260.8 785.9L263.3 789.8L266.7 782.5L270.1 775.7L272.7 781.6L275.2 775.7L279.5 762.1L282.9 776.6L287.1 757.0L290.5 769.8L292.2 763.8L295.6 769.8L298.1 780.0L301.5 789.8L305.8 776.6L309.2 780.0L311.7 784.2L314.3 789.8L317.7 781.6L320.2 789.8L323.6 783.3L327.9 789.8L344.0 789.8L346.5 781.6L348.2 789.8L356.7 789.8L360.1 778.3L362.7 789.8L366.9 781.6L369.5 786.7L372.0 780.0L375.4 782.5L378.8 781.6L382.2 776.6L385.6 784.2L389.8 766.4L394.1 776.6L397.5 766.4L401.7 753.6L405.9 768.1L409.3 780.0L411.0 789.8L415.3 778.3L417.8 774.9L421.2 789.8L424.6 785.0L427.2 789.8L429.7 785.9L432.3 789.8L436.5 789.8L439.9 769.8L443.3 761.3L447.5 740.9L450.1 741.8L453.5 752.8L456.0 746.0L459.4 752.8L462.0 747.7L464.5 756.2L467.9 769.8L470.5 776.6L473.9 771.5L478.1 776.6L480.6 768.1L484.0 759.6L487.4 762.1L490.0 746.0L492.5 735.8L495.1 725.6L497.6 717.1L499.3 725.6L502.7 725.6L506.1 722.2L509.5 712.0L512.1 707.0L515.5 696.8L518.9 697.6L521.4 708.6L524.0 715.4L526.5 722.2L529.9 735.8L533.3 749.4L536.7 758.7L539.2 751.1L542.6 756.2L546.0 747.7L549.4 746.8L552.0 759.6L554.5 768.1L557.9 773.2L561.3 777.4L564.7 763.0L568.1 753.6L571.5 771.5L574.9 771.5L577.4 763.0L580.0 780.0L584.2 789.8L595.3 789.8L600.3 774.9L603.7 781.6L607.1 789.8L613.1 789.8L616.5 778.3L619.9 776.6L624.1 763.8L626.7 763.0L630.9 759.6L634.3 756.2L638.5 768.1L642.8 757.9L646.2 764.7L649.6 776.6L653.0 789.8L657.2 788.4L660.6 789.8L663.2 784.2L666.6 789.8L670.0 780.0L672.5 774.9L675.9 766.4L679.3 752.8L682.7 767.2L685.2 763.0L687.8 765.5L691.2 763.0L694.6 769.8L698.0 776.6L702.2 776.6L706.5 778.3L710.7 768.1L714.1 781.6L716.6 789.8L720.0 786.7L723.4 780.0L726.8 776.6L729.4 768.1L732.8 768.9L736.2 766.4L739.6 756.2L743.8 749.4L747.2 745.1L749.7 744.3L752.3 753.6L754.8 742.6L758.2 734.1L761.6 722.2L763.3 710.3L765.9 708.6L769.3 695.1L772.7 698.5L776.1 700.2L779.5 693.4L782.8 700.2L785.4 701.9L787.9 694.2L791.3 701.9L795.6 710.3L799.8 691.7L801.5 683.2L804.9 691.7L808.3 684.9L811.7 674.7L815.1 691.7L817.6 681.5L820.2 674.7L822.7 684.9L826.1 686.6L829.5 688.3L832.9 691.7L837.2 708.6L840.6 703.6L844.0 701.9L846.5 705.3L849.9 695.1L852.4 688.3L855.0 695.1L857.5 684.9L860.1 688.3L862.6 676.4L866.0 671.3L870.3 676.4L873.7 691.7L876.2 701.9L878.8 717.1L882.2 729.0L885.6 737.5L888.1 735.8L891.5 754.5L894.0 747.7L897.4 759.6L900.0 773.2L903.4 769.8L906.8 766.4L909.3 763.0L911.9 773.2L915.3 773.2L917.8 749.4L920.4 756.2L923.8 764.7L927.2 768.9L930.6 752.8L934.0 742.6L936.5 754.5L939.9 757.0L944.1 757.9L947.5 742.6L950.1 734.1L952.6 735.8L956.0 725.6L959.4 735.0L962.0 729.0L965.4 735.0L967.9 739.2L970.5 735.8L973.0 729.0L976.4 740.9L979.8 752.8L983.2 762.1L986.6 761.3L990.0 757.0L993.4 744.3L995.9 738.4L999.3 751.1L1001.9 756.2L1005.3 765.5L1008.6 756.2L1012.0 759.6L1015.4 757.0L1018.8 764.7L1022.2 768.9L1025.6 759.6L1029.0 767.2L1032.4 774.0L1035.8 756.2L1038.4 752.8L1040.9 756.2L1043.5 747.7L1046.8 752.8L1050.2 737.5L1052.8 723.9L1056.2 708.6L1059.6 698.5L1063.0 715.4L1066.4 723.9L1068.1 712.0L1070.6 720.5L1073.2 713.7L1076.6 730.7L1080.0 734.1L1082.5 722.2L1085.9 713.7L1089.3 707.0L1092.7 690.0L1096.1 678.1L1099.5 685.7L1102.9 677.2L1106.3 681.5L1109.7 698.5L1113.1 693.4L1116.5 698.5L1120.7 701.9L1124.1 705.3L1125.8 696.8L1129.2 705.3L1132.6 701.9L1135.1 706.1L1137.7 698.5L1141.1 701.9L1144.5 696.8L1147.9 692.5L1150.4 690.0L1153.8 684.9L1156.3 679.8L1158.9 673.0L1161.4 676.4L1164.8 667.9L1168.2 681.5L1171.6 674.7L1175.0 671.3L1178.4 656.0L1181.0 648.4L1184.4 650.9L1186.9 661.1L1190.3 652.6L1193.7 640.7L1197.1 644.1L1199.6 639.0L1202.2 645.8L1205.6 640.7L1209.8 632.3L1212.4 634.0L1214.9 644.1L1217.5 638.2L1220.9 644.1L1223.4 640.7L1226.8 645.0L1230.2 649.2L1233.6 662.0L1237.0 662.8L1240.4 659.4L1242.9 656.0L1245.5 665.4L1248.9 678.1L1252.3 674.7L1254.8 667.9L1257.4 664.5L1259.9 674.7L1262.4 667.9L1265.0 679.8L1268.4 694.2L1271.8 690.0L1275.2 688.3L1278.6 678.1L1282.0 673.0L1284.5 671.3L1287.9 681.5L1292.2 681.5L1295.6 683.2L1299.8 679.8L1304.0 669.6L1306.6 681.5L1308.3 673.0L1310.0 673.0L1312.5 683.2L1316.8 672.2L1320.2 683.2L1324.4 701.9L1327.8 691.7L1331.2 702.7L1334.6 698.5L1337.2 703.6L1341.4 696.8L1344.0 701.0L1348.2 701.9L1355.0 696.8L1357.9 683.2L1360.1 690.0L1362.6 692.5L1365.2 700.2L1366.9 708.6L1370.3 710.3L1373.7 722.2L1376.2 732.4L1379.6 735.0L1381.3 732.4L1384.7 749.4L1388.1 752.8L1389.8 764.7L1393.2 766.4L1396.6 775.7L1399.1 764.7L1402.5 769.8L1405.1 774.9L1408.5 785.0L1411.0 789.8L1414.4 782.5L1417.0 787.6L1420.3 789.8L1423.7 789.8L1426.3 781.6L1430.5 780.0L1433.1 785.9L1436.5 789.8L1442.4 789.8L1445.0 786.7L1448.4 771.5L1450.9 769.8L1453.5 759.6L1456.0 756.2L1459.4 747.7L1462.8 735.8L1466.2 734.1L1470.4 734.1L1473.8 723.9L1476.4 722.2L1478.9 726.5L1482.3 708.6L1485.7 695.1L1488.3 703.6L1490.0 713.7L1492.5 712.0L1495.0 701.9L1496.7 708.6L1501.0 713.7L1504.4 730.7L1507.8 734.1L1511.2 744.3L1514.6 741.8L1517.1 748.5L1520.5 735.8L1523.1 718.8L1525.6 708.6L1528.1 697.6L1530.7 698.5L1532.7 695.9L1535.8 705.3L1539.2 722.2L1541.7 723.9L1545.1 732.4L1548.5 744.3L1551.1 734.1L1554.5 749.4L1557.0 757.9L1561.3 764.7L1563.8 756.2L1566.3 760.4L1568.9 756.2L1571.4 760.4L1574.0 751.1L1576.5 752.8L1579.1 761.3L1582.5 749.4L1585.0 751.9L1588.4 757.9L1591.0 752.8L1595.2 754.5L1598.6 751.9L1602.0 755.3L1604.5 744.3L1607.9 747.7L1611.3 732.4L1613.9 740.9L1617.3 727.3L1619.8 715.4L1622.4 708.6L1625.8 717.1L1629.2 730.7L1631.7 722.2L1634.3 732.4L1636.8 729.0L1639.3 720.5L1642.7 712.9L1645.3 730.7L1647.8 723.9L1651.2 737.5L1654.6 747.7L1657.2 753.6L1659.7 746.0L1663.1 737.5L1665.7 739.2L1669.1 726.5L1671.6 734.1L1675.0 725.6L1678.4 715.4L1681.8 713.7L1685.2 722.2L1687.7 715.4L1690.3 727.3L1692.8 720.5L1695.4 732.4L1698.8 722.2L1702.2 720.5L1706.4 735.8L1708.9 727.3L1712.3 722.2L1714.9 722.2L1717.4 732.4L1720.8 746.0L1724.2 761.3L1727.6 768.9" fill="none" stroke="#ff9830" stroke-width="1.8" stroke-linejoin="round" stroke-linecap="round"/><path d="M89.8 789.3L95.3 769.8L100.9 751.1L105.5 763.8L108.0 755.3L110.6 758.7L113.1 751.9L116.5 763.0L120.7 780.0L124.5 789.3L136.0 789.8L139.4 786.7L147.9 771.5L151.3 768.9L154.7 760.4L158.1 768.1L162.3 759.6L166.6 772.3L169.1 769.8L173.4 783.3L177.6 789.8L180.2 783.3L182.7 788.4L186.1 776.6L190.3 763.0L196.3 761.3L200.5 742.6L204.8 751.1L209.0 740.9L213.3 739.2L217.2 723.1L222.6 737.5L226.0 730.7L229.4 721.4L233.6 720.5L237.9 708.6L242.1 691.7L245.5 690.8L247.2 686.6L248.9 697.6L254.0 676.4L255.7 676.4L258.3 686.6L262.0 679.8L265.0 691.7L269.3 673.8L271.0 676.4L273.9 665.4L277.8 667.9L281.2 665.4L286.3 681.5L289.7 668.8L291.4 674.7L294.2 667.9L299.0 645.8L304.1 667.1L307.5 668.8L311.7 656.0L315.1 659.4L317.7 666.2L320.2 664.5L324.5 678.1L327.0 688.3L328.7 682.3L333.0 683.2L334.6 680.6L338.0 685.7L339.7 678.9L344.8 700.2L346.5 692.5L351.6 707.0L356.7 701.9L361.8 687.4L368.6 708.6L375.4 718.8L381.3 729.9L385.6 712.0L391.5 691.7L394.1 692.5L397.5 710.3L402.6 719.7L407.6 712.0L412.7 701.0L416.1 714.6L422.9 710.3L428.0 697.6L434.0 682.3L436.5 686.6L440.8 673.8L445.0 679.8L452.6 696.8L457.7 688.3L464.5 658.6L467.9 667.9L473.9 664.5L478.9 650.9L480.6 655.2L485.7 644.1L488.3 652.6L490.0 650.9L492.5 654.3L495.1 644.1L498.5 656.0L501.9 667.1L504.4 667.9L506.1 672.2L511.2 650.1L515.5 668.8L518.0 671.3L521.4 690.0L524.0 684.9L526.5 670.5L529.0 678.9L531.6 664.5L535.8 654.3L540.1 657.7L544.3 655.2L547.7 667.9L552.0 683.2L554.5 681.5L558.8 695.1L560.5 701.9L563.0 720.5L568.1 720.5L570.6 707.8L574.0 712.0L576.6 710.3L579.1 722.2L582.5 710.3L585.1 708.6L588.5 703.6L591.9 700.2L595.3 693.4L598.6 691.7L602.0 682.3L605.4 683.2L608.8 678.1L612.2 686.6L614.8 691.7L619.9 669.6L622.4 679.8L627.5 662.0L630.9 657.7L635.1 653.5L638.5 638.2L641.9 645.0L645.3 656.9L647.9 645.8L651.3 649.2L653.8 644.1L656.4 651.8L658.9 647.5L663.2 661.1L666.6 649.2L668.3 658.6L670.0 657.7L673.3 671.3L676.7 676.4L680.1 678.9L682.7 678.9L685.2 693.4L688.6 707.8L692.9 688.3L696.3 696.8L699.7 709.5L702.2 722.2L703.9 736.7L707.3 726.5L709.8 729.0L712.4 737.5L715.8 740.9L718.3 752.8L720.9 763.0L724.3 780.0L727.7 774.9L730.2 778.3L734.5 788.4L737.0 776.6L739.6 780.0L743.8 789.8L746.3 784.2L749.7 777.4L753.1 788.4L757.4 786.7L761.6 771.5L765.0 759.6L767.6 753.6L771.0 738.4L775.2 747.7L778.6 749.4L782.0 754.5L785.4 764.7L788.8 744.3L791.3 734.1L795.6 740.9L799.0 730.7L803.2 722.2L806.6 729.0L810.0 735.8L812.6 725.6L815.9 734.1L818.5 736.7L822.7 749.4L826.1 763.0L829.5 758.7L832.9 768.1L836.3 769.8L839.7 776.6L843.1 774.9L845.7 780.8L849.1 769.8L850.8 774.9L855.0 757.9L859.2 749.4L861.8 731.6L864.3 729.9L867.7 749.4L871.1 759.6L872.8 756.2L876.2 768.1L877.9 778.3L880.5 767.2L883.0 773.2L886.4 757.0L889.8 765.5L894.0 769.8L897.4 757.9L900.0 749.4L902.5 744.3L905.1 747.7L909.3 732.4L912.7 742.6L915.3 747.7L917.8 744.3L921.2 752.8L923.8 763.0L927.2 744.3L929.7 738.4L932.3 735.8L935.7 715.4L938.2 712.0L940.7 713.7L943.3 703.6L946.7 700.2L950.1 687.4L952.6 688.3L956.0 671.3L959.4 662.0L962.8 667.9L965.4 671.3L968.8 689.1L971.3 679.8L973.8 676.4L977.2 690.0L980.6 701.9L983.2 691.7L986.6 690.0L990.0 703.6L992.5 707.8L995.9 696.8L998.5 695.9L1001.9 681.5L1004.4 678.1L1007.8 667.9L1012.0 667.9L1015.4 667.1L1017.1 664.5L1018.8 671.3L1021.4 661.1L1023.1 657.7L1025.6 662.8L1029.9 659.4L1033.3 667.9L1035.0 662.8L1037.5 673.0L1040.1 678.9L1043.5 662.8L1046.0 661.1L1048.5 647.5L1050.2 645.8L1052.8 657.7L1055.3 664.5L1057.9 676.4L1061.3 681.5L1064.7 674.7L1068.1 660.3L1070.6 659.4L1074.9 668.8L1077.4 661.1L1080.8 657.7L1084.2 664.5L1086.7 652.6L1089.3 639.0L1091.8 649.2L1095.2 640.7L1098.3 633.1L1102.0 654.3L1105.4 656.9L1108.8 669.6L1112.2 686.6L1113.9 691.7L1117.3 679.8L1120.7 666.2L1124.1 652.6L1127.5 639.0L1130.0 629.7L1132.6 627.2L1135.1 642.4L1137.7 649.2L1140.2 652.6L1143.6 662.8L1147.0 674.7L1150.4 690.0L1153.0 684.9L1155.5 676.4L1158.0 684.9L1162.3 681.5L1164.8 690.0L1168.2 705.3L1171.6 717.1L1174.2 732.4L1175.9 736.7L1178.4 730.7L1181.8 732.4L1183.5 737.5L1186.1 730.7L1188.6 736.7L1191.1 730.7L1194.5 742.6L1197.1 746.8L1199.6 738.4L1202.2 734.1L1205.6 730.7L1209.0 715.4L1212.4 708.6L1214.9 712.0L1217.5 725.6L1220.9 740.9L1223.4 746.0L1225.9 754.5L1229.3 759.6L1231.9 757.9L1235.3 769.8L1237.8 774.9L1241.2 765.5L1244.6 757.0L1247.2 753.6L1251.4 752.8L1255.7 753.6L1258.2 742.6L1260.8 735.8L1264.1 737.5L1266.7 730.7L1270.1 726.5L1272.6 729.0L1275.2 718.8L1277.7 727.3L1280.3 722.2L1282.8 729.0L1286.2 725.6L1289.6 730.7L1292.2 725.6L1295.6 729.0L1298.9 725.6L1302.3 722.2L1305.7 720.5L1307.4 710.3L1310.0 717.1L1312.5 727.3L1315.1 725.6L1320.2 734.1L1323.6 718.8L1327.0 705.3L1330.4 695.1L1333.8 681.5L1338.0 667.9L1340.6 654.3L1344.0 645.8L1347.3 633.1L1350.7 626.3L1355.0 637.3L1357.5 632.3L1360.9 644.1L1364.3 656.9L1366.9 650.1L1369.4 652.6L1373.7 640.7L1375.4 647.5L1379.6 640.7L1383.0 647.5L1384.7 642.4L1388.1 650.1L1390.6 644.1L1394.0 642.4L1396.6 639.9L1400.0 659.4L1403.4 676.4L1406.8 659.4L1408.5 656.9L1411.9 662.8L1413.6 674.7L1417.0 683.2L1419.5 676.4L1422.0 685.7L1424.6 679.8L1428.0 680.6L1430.5 686.6L1432.2 682.3L1435.6 695.1L1439.0 674.7L1442.4 662.8L1445.0 657.7L1449.2 671.3L1453.5 650.9L1456.0 658.6L1459.4 640.7L1463.6 623.8L1467.0 622.1L1470.4 634.0L1473.8 636.5L1478.1 626.3L1481.5 628.9L1484.9 639.0L1488.3 654.3L1491.6 673.0L1495.0 669.6L1496.7 674.7L1499.3 667.1L1502.7 679.8L1506.1 689.1L1508.6 687.4L1512.0 695.1L1515.4 705.3L1518.8 715.4L1521.9 729.0L1523.9 717.1L1526.5 714.6L1529.8 712.9L1533.2 707.8L1537.5 703.6L1540.0 701.9L1543.4 690.0L1545.1 688.3L1546.8 696.8L1548.5 692.5L1551.1 695.1L1554.5 705.3L1558.7 696.8L1561.3 691.7L1564.6 699.3L1567.2 707.0L1569.7 709.5L1573.1 696.8L1577.4 700.2L1580.8 698.5L1583.3 691.7L1585.9 700.2L1590.1 703.6L1592.7 701.9L1595.2 684.9L1598.6 666.2L1602.0 659.4L1605.4 645.8L1607.9 632.3L1610.5 627.2L1613.9 634.0L1618.1 645.0L1619.8 644.1L1622.4 648.4L1625.8 637.3L1628.3 634.0L1630.0 635.7L1633.4 629.7L1635.9 628.9L1639.3 635.7L1642.7 643.3L1646.1 631.4L1648.7 640.7L1651.2 642.4L1654.6 654.3L1656.3 656.0L1658.0 650.1L1660.6 659.4L1663.1 669.6L1668.2 669.6L1671.6 656.0L1673.3 659.4L1677.5 654.3L1680.1 658.6L1683.5 656.9L1686.0 642.4L1689.4 636.5L1692.8 640.7L1696.2 649.2L1698.8 657.7L1702.2 650.1L1703.9 647.5L1708.1 632.3L1710.6 627.2L1713.2 617.8L1716.6 634.0L1720.0 647.5L1724.2 669.6L1726.8 662.8" fill="none" stroke="#f2495c" stroke-width="1.8" stroke-linejoin="round" stroke-linecap="round"/></svg>
<span class="t" style="left:55.10px;top:801.92px;font-size:22.464000000000002px;line-height:29px;color:#ccccdc;letter-spacing:-2.088px;-webkit-text-stroke:0.3px #ccccdc;">74</span>
<span class="t" style="left:55.10px;top:746.80px;font-size:22.464000000000002px;line-height:29px;color:#ccccdc;letter-spacing:-2.088px;-webkit-text-stroke:0.3px #ccccdc;">76</span>
<span class="t" style="left:55.10px;top:691.68px;font-size:22.464000000000002px;line-height:29px;color:#ccccdc;letter-spacing:-2.088px;-webkit-text-stroke:0.3px #ccccdc;">78</span>
<span class="t" style="left:55.10px;top:636.56px;font-size:22.464000000000002px;line-height:29px;color:#ccccdc;letter-spacing:-2.088px;-webkit-text-stroke:0.3px #ccccdc;">80</span>
<span class="t" style="left:55.10px;top:581.44px;font-size:22.464000000000002px;line-height:29px;color:#ccccdc;letter-spacing:-2.088px;-webkit-text-stroke:0.3px #ccccdc;">82</span>
<span class="t" style="left:55.10px;top:526.32px;font-size:22.464000000000002px;line-height:29px;color:#ccccdc;letter-spacing:-2.088px;-webkit-text-stroke:0.3px #ccccdc;">84</span>
<span class="t" style="left:55.10px;top:471.20px;font-size:22.464000000000002px;line-height:29px;color:#ccccdc;letter-spacing:-2.088px;-webkit-text-stroke:0.3px #ccccdc;">86</span>
<span class="t" style="left:55.10px;top:416.08px;font-size:22.464000000000002px;line-height:29px;color:#ccccdc;letter-spacing:-2.088px;-webkit-text-stroke:0.3px #ccccdc;">88</span>
<span class="t" style="left:55.10px;top:360.96px;font-size:22.464000000000002px;line-height:29px;color:#ccccdc;letter-spacing:-2.088px;-webkit-text-stroke:0.3px #ccccdc;">90</span>
<span class="t" style="left:55.10px;top:305.84px;font-size:22.464000000000002px;line-height:29px;color:#ccccdc;letter-spacing:-2.088px;-webkit-text-stroke:0.3px #ccccdc;">92</span>
<span class="t" style="left:167.10px;top:855.64px;font-size:22.464000000000002px;line-height:29px;color:#ccccdc;letter-spacing:0.695px;-webkit-text-stroke:0.3px #ccccdc;"><span style="margin:0 -0.05em 0 -0.07em">1</span>0:30</span>
<span class="t" style="left:305.73px;top:855.64px;font-size:22.464000000000002px;line-height:29px;color:#ccccdc;letter-spacing:0.786px;-webkit-text-stroke:0.3px #ccccdc;"><span style="margin:0 -0.05em 0 -0.07em">1</span><span style="margin:0 -0.05em 0 -0.07em">1</span>:00</span>
<span class="t" style="left:442.36px;top:855.64px;font-size:22.464000000000002px;line-height:29px;color:#ccccdc;letter-spacing:0.786px;-webkit-text-stroke:0.3px #ccccdc;"><span style="margin:0 -0.05em 0 -0.07em">1</span><span style="margin:0 -0.05em 0 -0.07em">1</span>:30</span>
<span class="t" style="left:576.99px;top:855.64px;font-size:22.464000000000002px;line-height:29px;color:#ccccdc;letter-spacing:0.695px;-webkit-text-stroke:0.3px #ccccdc;"><span style="margin:0 -0.05em 0 -0.07em">1</span>2:00</span>
<span class="t" style="left:713.62px;top:855.64px;font-size:22.464000000000002px;line-height:29px;color:#ccccdc;letter-spacing:0.695px;-webkit-text-stroke:0.3px #ccccdc;"><span style="margin:0 -0.05em 0 -0.07em">1</span>2:30</span>
<span class="t" style="left:850.25px;top:855.64px;font-size:22.464000000000002px;line-height:29px;color:#ccccdc;letter-spacing:0.695px;-webkit-text-stroke:0.3px #ccccdc;"><span style="margin:0 -0.05em 0 -0.07em">1</span>3:00</span>
<span class="t" style="left:986.88px;top:855.64px;font-size:22.464000000000002px;line-height:29px;color:#ccccdc;letter-spacing:0.695px;-webkit-text-stroke:0.3px #ccccdc;"><span style="margin:0 -0.05em 0 -0.07em">1</span>3:30</span>
<span class="t" style="left:1123.51px;top:855.64px;font-size:22.464000000000002px;line-height:29px;color:#ccccdc;letter-spacing:0.695px;-webkit-text-stroke:0.3px #ccccdc;"><span style="margin:0 -0.05em 0 -0.07em">1</span>4:00</span>
<span class="t" style="left:1260.14px;top:855.64px;font-size:22.464000000000002px;line-height:29px;color:#ccccdc;letter-spacing:0.695px;-webkit-text-stroke:0.3px #ccccdc;"><span style="margin:0 -0.05em 0 -0.07em">1</span>4:30</span>
<span class="t" style="left:1396.77px;top:855.64px;font-size:22.464000000000002px;line-height:29px;color:#ccccdc;letter-spacing:0.695px;-webkit-text-stroke:0.3px #ccccdc;"><span style="margin:0 -0.05em 0 -0.07em">1</span>5:00</span>
<span class="t" style="left:1533.40px;top:855.64px;font-size:22.464000000000002px;line-height:29px;color:#ccccdc;letter-spacing:0.695px;-webkit-text-stroke:0.3px #ccccdc;"><span style="margin:0 -0.05em 0 -0.07em">1</span>5:30</span>
<span class="t" style="left:1670.03px;top:855.64px;font-size:22.464000000000002px;line-height:29px;color:#ccccdc;letter-spacing:0.695px;-webkit-text-stroke:0.3px #ccccdc;"><span style="margin:0 -0.05em 0 -0.07em">1</span>6:00</span>
<div class="b" style="left:700px;top:896px;width:360px;height:7px;background:#46474c;border-radius:4px;"></div>
<svg class="b" style="left:54.40px;top:946.30px;" width="36" height="36" viewBox="-18 -18 36 36" fill="none" stroke="#ccccdc" stroke-width="2.1" stroke-linecap="round" stroke-linejoin="round"><ellipse cx="0" cy="-8.1" rx="8.6" ry="3.3"/><path d="M-8.6 -8.1V7.9C-8.6 9.8 -4.8 11.2 0 11.2S8.6 9.8 8.6 7.9V-8.1"/><path d="M-8.6 -0.2C-8.6 1.7 -4.8 3.1 0 3.1S8.6 1.7 8.6 -0.2"/><circle cx="-4.9" cy="-0.7" r="1.1" fill="#ccccdc" stroke="none"/><circle cx="-4.9" cy="7" r="1.1" fill="#ccccdc" stroke="none"/></svg>
<span class="t" style="left:101.30px;top:944.93px;font-size:26.208px;line-height:34px;color:#ccccdc;letter-spacing:0.205px;-webkit-text-stroke:0.5px #ccccdc;">Queries</span>
<div class="b" style="left:210px;top:946px;width:38px;height:33px;background:#26282e;border-radius:17px;"></div>
<span class="t" style="left:222.75px;top:948.04px;font-size:22.464000000000002px;line-height:29px;color:#9292a0;-webkit-text-stroke:0.8px #9292a0;">1</span>
<div class="b" style="left:29px;top:993px;width:248px;height:4px;border-radius:2px;background:linear-gradient(90deg,#f8771f,#f55f3e);"></div>
<svg class="b" style="left:301.40px;top:946.30px;" width="36" height="36" viewBox="-18 -18 36 36" fill="none" stroke="#9292a0" stroke-width="2.0" stroke-linecap="round" stroke-linejoin="round"><path d="M-10 -12.1V-5.3H-3.1M2.1 -11.1Q-5 -11 -10 -5.3"/><path d="M11.8 -10.1H5V-3.6M5 -10.1Q11 -5 11 2"/><path d="M3 5.3H9.4V11.7M-1.9 10.9Q5 10.5 9.4 5.3"/><path d="M-5.5 3.2V9.3H-12M-11.6 -1.6Q-11 5 -5.5 9.3"/></svg>
<span class="t" style="left:350.30px;top:944.93px;font-size:26.208px;line-height:34px;color:#9292a0;letter-spacing:0.537px;-webkit-text-stroke:0.3px #9292a0;">Transformations</span>
<div class="b" style="left:561px;top:946px;width:43px;height:33px;background:#26282e;border-radius:17px;"></div>
<span class="t" style="left:576.05px;top:948.04px;font-size:22.464000000000002px;line-height:29px;color:#9292a0;-webkit-text-stroke:0.8px #9292a0;">0</span>
<div class="b" style="left:-12px;top:997px;width:1771px;height:300px;background:#181b1f;border:1px solid #2f3136;border-radius:8px;box-sizing:border-box;"></div>
<div class="b" style="left:29px;top:1027px;width:156px;height:57px;background:#22252b;border-radius:10px;"></div>
<span class="t" style="left:43.60px;top:1040.84px;font-size:22.464000000000002px;line-height:29px;color:#ccccdc;letter-spacing:0.538px;-webkit-text-stroke:0.95px #ccccdc;">Data source</span>
<div class="b" style="left:192px;top:1027px;width:400px;height:57px;background:#111217;border:1px solid #34363c;border-radius:10px;box-sizing:border-box;"></div>
<svg class="b" style="left:210px;top:1042px;" width="28" height="22"><defs><linearGradient id="dsg" x1="0" y1="0" x2="0" y2="1"><stop offset="0" stop-color="#d8fa8c"/><stop offset="0.55" stop-color="#7be07e"/><stop offset="1" stop-color="#4ccf5e"/></linearGradient></defs><rect x="0" y="11.600" width="28" height="1.500" fill="#3fa84f"/><rect x="2.300" y="0" width="6" height="22" rx="1" fill="url(#dsg)"/><rect x="11.400" y="4.200" width="6.200" height="13.200" rx="1" fill="url(#dsg)"/><rect x="20.300" y="8.200" width="5.500" height="11" rx="1" fill="url(#dsg)"/></svg>
<span class="t" style="left:251.00px;top:1038.33px;font-size:26.208px;line-height:34px;color:#ccccdc;letter-spacing:0.482px;-webkit-text-stroke:0.3px #ccccdc;">gdev-testdata</span>
<svg class="b" style="left:545.60px;top:1037.80px;" width="36" height="36" viewBox="-18 -18 36 36" fill="none" stroke="#a0a0ae" stroke-width="2.3" stroke-linecap="round" stroke-linejoin="round"><path d="M-5.4 -2.7L0 2.7 5.4 -2.7"/></svg>
<div class="b" style="left:599px;top:1027px;width:56px;height:57px;background:#2a2c32;border:1px solid #33353b;border-radius:10px;box-sizing:border-box;"></div>
<svg class="b" style="left:609.40px;top:1037.40px;" width="36" height="36" viewBox="-18 -18 36 36" fill="none" stroke="#ccccdc" stroke-width="2.2" stroke-linecap="round" stroke-linejoin="round"><circle cx="0" cy="0" r="11.1"/><path d="M-2.7 -1.8A2.75 2.75 0 1 1 1.4 0.5C0.5 1 0.1 1.5 0.1 2.5"/><circle cx="0.1" cy="5.3" r="1.4" fill="#ccccdc" stroke="none"/></svg>
<div class="b" style="left:662px;top:1027px;width:799px;height:57px;background:#22252b;border-radius:10px;"></div>
<svg class="b" style="left:673.20px;top:1037.90px;" width="36" height="36" viewBox="-18 -18 36 36" fill="none" stroke="#9292a0" stroke-width="2.4" stroke-linecap="round" stroke-linejoin="round"><path d="M-2.7 -5.4L2.7 0 -2.7 5.4"/></svg>
<span class="t" style="left:720.40px;top:1038.33px;font-size:26.208px;line-height:34px;color:#6e9fff;letter-spacing:0.736px;-webkit-text-stroke:1.1px #6e9fff;">Query options</span>
<span class="t" style="left:929.60px;top:1040.84px;font-size:22.464000000000002px;line-height:29px;color:#9292a0;letter-spacing:0.626px;-webkit-text-stroke:0.3px #9292a0;">MD = auto = 500</span>
<span class="t" style="left:1135.70px;top:1040.84px;font-size:22.464000000000002px;line-height:29px;color:#9292a0;letter-spacing:0.601px;-webkit-text-stroke:0.3px #9292a0;">Interval = 30s</span>
<div class="b" style="left:1468px;top:1027px;width:254px;height:57px;background:#2a2c32;border:1px solid #33353b;border-radius:10px;box-sizing:border-box;"></div>
<span class="t" style="left:1496.50px;top:1038.33px;font-size:26.208px;line-height:34px;color:#ccccdc;letter-spacing:0.857px;-webkit-text-stroke:1.1px #ccccdc;">Query inspector</span>
<div class="b" style="left:29px;top:1142px;width:1700px;height:57px;background:#22252b;border-radius:10px;"></div>
<svg class="b" style="left:39.40px;top:1152.20px;" width="36" height="36" viewBox="-18 -18 36 36" fill="none" stroke="#9292a0" stroke-width="2.4" stroke-linecap="round" stroke-linejoin="round"><path d="M-5.4 -2.7L0 2.7 5.4 -2.7"/></svg>
<span class="t" style="left:101.90px;top:1153.33px;font-size:26.208px;line-height:34px;color:#6e9fff;-webkit-text-stroke:1.1px #6e9fff;">A</span>
<span class="t" style="left:193.60px;top:1155.84px;font-size:22.464000000000002px;line-height:29px;color:#9292a0;letter-spacing:0.737px;font-style:italic;-webkit-text-stroke:0.3px #9292a0;">(gdev-testdata)</span>
<svg class="b" style="left:1520.20px;top:1152.40px;" width="36" height="36" viewBox="-18 -18 36 36" fill="none" stroke="#9292a0" stroke-width="2.4" stroke-linecap="round" stroke-linejoin="round"><path d="M-3.500 -6.200V-8.500A2.300 2.300 0 0 1 -1.200 -10.800H4L9.500 -5.300V4A2.300 2.300 0 0 1 7.200 6.300H5"/><path d="M3.800 -10.500V-5H9.300"/><path d="M-9.500 -3.800A2.300 2.300 0 0 1 -7.200 -6.100H-3.500V4A2.300 2.300 0 0 0 -1.200 6.300H5V8.600A2.300 2.300 0 0 1 2.700 10.900H-7.200A2.300 2.300 0 0 1 -9.500 8.600z"/></svg>
<svg class="b" style="left:1571.20px;top:1152.40px;" width="36" height="36" viewBox="-18 -18 36 36" fill="none" stroke="#9292a0" stroke-width="2.4" stroke-linecap="round" stroke-linejoin="round"><path d="M-11 0C-8.800 -5.200 -4.800 -8.300 0 -8.300S8.800 -5.200 11 0C8.800 5.200 4.800 8.300 0 8.300S-8.800 5.200 -11 0z"/><circle cx="0" cy="0" r="3.500"/></svg>
<svg class="b" style="left:1621.50px;top:1152.40px;" width="36" height="36" viewBox="-18 -18 36 36" fill="none" stroke="#9292a0" stroke-width="2.4" stroke-linecap="round" stroke-linejoin="round"><path d="M-9.300 -6.500H9.300M-3.500 -6.500V-10.300H3.500V-6.500M-7 -6.500V8.500A2.200 2.200 0 0 0 -4.800 10.700H4.800A2.200 2.200 0 0 0 7 8.500V-6.500M-2.500 -1V5.500M2.500 -1V5.500"/></svg>
<svg class="b" style="left:1691.4px;top:1159.8px;" width="16" height="25"><circle cx="3" cy="3" r="2.500" fill="#9292a0"/><circle cx="3" cy="12.4" r="2.500" fill="#9292a0"/><circle cx="3" cy="21.8" r="2.500" fill="#9292a0"/><circle cx="13" cy="3" r="2.500" fill="#9292a0"/><circle cx="13" cy="12.4" r="2.500" fill="#9292a0"/><circle cx="13" cy="21.8" r="2.500" fill="#9292a0"/></svg>
<div class="b" style="left:72px;top:1207px;width:201.5px;height:57px;background:#22252b;border-radius:10px;"></div>
<span class="t" style="left:86.60px;top:1220.84px;font-size:22.464000000000002px;line-height:29px;color:#ccccdc;letter-spacing:0.619px;-webkit-text-stroke:0.95px #ccccdc;">Scenario</span>
<div class="b" style="left:281px;top:1207px;width:460.5px;height:57px;background:#111217;border:1px solid #34363c;border-radius:10px;box-sizing:border-box;"></div>
<span class="t" style="left:296.80px;top:1218.33px;font-size:26.208px;line-height:34px;color:#ccccdc;letter-spacing:0.089px;-webkit-text-stroke:0.3px #ccccdc;">Random Walk</span>
<svg class="b" style="left:693.90px;top:1217.80px;" width="36" height="36" viewBox="-18 -18 36 36" fill="none" stroke="#a0a0ae" stroke-width="2.3" stroke-linecap="round" stroke-linejoin="round"><path d="M-5.4 -2.7L0 2.7 5.4 -2.7"/></svg>
<div class="b" style="left:749px;top:1207px;width:201px;height:57px;background:#22252b;border-radius:10px;"></div>
<span class="t" style="left:763.40px;top:1220.84px;font-size:22.464000000000002px;line-height:29px;color:#ccccdc;letter-spacing:0.477px;-webkit-text-stroke:0.95px #ccccdc;">Alias</span>
<div class="b" style="left:958px;top:1207px;width:460px;height:57px;background:#111217;border:1px solid #34363c;border-radius:10px;box-sizing:border-box;"></div>
<span class="t" style="left:973.20px;top:1218.33px;font-size:26.208px;line-height:34px;color:#858593;letter-spacing:0.399px;-webkit-text-stroke:0.3px #858593;">optional</span>
<div class="b" style="left:1788px;top:105px;width:880px;height:1200px;background:#181b1f;border:1px solid #2f3136;border-radius:8px;box-sizing:border-box;"></div>
<span class="t" style="left:1917.70px;top:121.53px;font-size:26.208px;line-height:34px;color:#ccccdc;letter-spacing:0.535px;-webkit-text-stroke:0.3px #ccccdc;">Suggestions</span>
<div class="b" style="left:1789px;top:170px;width:409px;height:4px;border-radius:2px;background:linear-gradient(90deg,#f8771f,#f55f3e);"></div>
<span class="t" style="left:2327.00px;top:121.53px;font-size:26.208px;line-height:34px;color:#9292a0;letter-spacing:0.513px;-webkit-text-stroke:0.3px #9292a0;">All visualizations</span>
<div class="b" style="left:1818px;top:210px;width:811px;height:58px;background:#111217;border:1px solid #34363c;border-radius:10px;box-sizing:border-box;"></div>
<svg class="b" style="left:1828.20px;top:221.70px;" width="36" height="36" viewBox="-18 -18 36 36" fill="none" stroke="#9292a0" stroke-width="2.2" stroke-linecap="round" stroke-linejoin="round"><circle cx="-1.2" cy="-1.2" r="9.3"/><path d="M5.6 5.6L10.6 10.6"/></svg>
<span class="t" style="left:1869.60px;top:221.93px;font-size:26.208px;line-height:34px;color:#8e8e9c;letter-spacing:0.124px;-webkit-text-stroke:0.45px #8e8e9c;">Search for...</span>
<svg class="b" style="left:1818px;top:298px;" width="39" height="37"><defs><linearGradient id="tsg" x1="0" y1="0" x2="0" y2="1"><stop offset="0" stop-color="#606168"/><stop offset="1" stop-color="#292a2f"/></linearGradient></defs><path d="M0.6 21.5L8.2 15.7 15.7 16.9 23.3 11.1 30.9 16.9 38.7 9.3V36.5H0.6z" fill="url(#tsg)"/><path d="M0.6 10.5L7 7.8 15.700 12 23.3 2.9 30.9 6.6 38.7 1.500" fill="none" stroke="#c8c8d4" stroke-width="1.700" stroke-linejoin="round"/><path d="M0.6 21.5L8.2 15.7 15.7 16.9 23.3 11.1 30.9 16.9 38.7 9.3" fill="none" stroke="#a6a6b2" stroke-width="1.700" stroke-linejoin="round"/></svg>
<span class="t" style="left:1872.60px;top:299.43px;font-size:26.208px;line-height:34px;color:#ccccdc;letter-spacing:0.674px;-webkit-text-stroke:0.9px #ccccdc;">Time series</span>
<div class="b" style="left:1818px;top:358px;width:398px;height:249px;background:#2f3036;border:1px solid #6e9fff;border-radius:11px;box-sizing:border-box;box-shadow:inset 0 0 0 0.6px rgba(110,159,255,0.55);"></div>
<svg class="b" style="left:1819px;top:359px;filter:blur(1.4px);" width="389" height="247" viewBox="1819 359 389 247"><g opacity="0.55"><rect x="1905.5" y="378" width="1.2" height="198" fill="rgba(204,204,220,0.13)"/><rect x="1962.5" y="378" width="1.2" height="198" fill="rgba(204,204,220,0.13)"/><rect x="2019.4" y="378" width="1.2" height="198" fill="rgba(204,204,220,0.13)"/><rect x="2076.3" y="378" width="1.2" height="198" fill="rgba(204,204,220,0.13)"/><rect x="2133.3" y="378" width="1.2" height="198" fill="rgba(204,204,220,0.13)"/><rect x="2190.2" y="378" width="1.2" height="198" fill="rgba(204,204,220,0.13)"/><rect x="1857.0" y="554.4" width="341.3" height="1.2" fill="rgba(204,204,220,0.13)"/><rect x="1857.0" y="505.2" width="341.3" height="1.2" fill="rgba(204,204,220,0.13)"/><rect x="1857.0" y="456.0" width="341.3" height="1.2" fill="rgba(204,204,220,0.13)"/><rect x="1857.0" y="406.8" width="341.3" height="1.2" fill="rgba(204,204,220,0.13)"/></g><g opacity="0.43"><path d="M1857.0 554.9L1858.0 552.3L1858.9 549.1L1859.9 552.3L1860.8 551.3L1861.8 548.0L1862.7 543.0L1863.7 540.3L1864.6 538.3L1865.6 543.0L1866.5 544.7L1867.5 544.5L1868.4 540.4L1869.4 541.7L1870.3 540.4L1871.3 543.4L1872.2 539.3L1873.2 543.3L1874.1 538.2L1875.1 539.2L1876.0 541.2L1877.0 542.5L1877.9 537.9L1878.9 543.4L1879.8 539.6L1880.8 540.0L1881.7 540.7L1882.7 537.6L1883.6 530.3L1884.6 529.1L1885.5 530.6L1886.5 525.3L1887.4 523.4L1888.4 528.0L1889.3 526.4L1890.3 526.0L1891.2 524.4L1892.2 526.4L1893.1 527.4L1894.1 531.7L1895.0 531.0L1896.0 527.9L1896.9 526.4L1897.9 525.4L1898.8 522.1L1899.8 529.4L1900.7 533.7L1901.7 530.2L1902.6 522.3L1903.6 523.8L1904.5 526.9L1905.5 532.3L1906.4 535.8L1907.4 533.1L1908.3 534.3L1909.3 532.9L1910.2 533.1L1911.2 534.9L1912.1 537.0L1913.1 533.2L1914.0 531.3L1915.0 530.1L1915.9 530.4L1916.9 528.7L1917.8 528.9L1918.8 530.2L1919.7 527.1L1920.7 521.8L1921.6 520.3L1922.6 521.1L1923.5 521.9L1924.5 528.9L1925.5 531.2L1926.4 535.3L1927.4 540.6L1928.3 545.7L1929.3 544.4L1930.2 540.3L1931.2 534.1L1932.1 539.6L1933.1 544.7L1934.0 542.9L1935.0 547.0L1935.9 551.6L1936.9 549.3L1937.8 551.2L1938.8 549.0L1939.7 545.5L1940.7 549.0L1941.6 552.7L1942.6 548.1L1943.5 542.0L1944.5 540.8L1945.4 546.5L1946.4 545.2L1947.3 543.0L1948.3 546.3L1949.2 547.6L1950.2 540.0L1951.1 535.6L1952.1 533.7L1953.0 532.1L1954.0 529.2L1954.9 526.3L1955.9 521.7L1956.8 527.3L1957.8 527.6L1958.7 526.4L1959.7 520.5L1960.6 518.1L1961.6 520.6L1962.5 527.0L1963.5 533.0L1964.4 538.7L1965.4 533.0L1966.3 532.8L1967.3 538.9L1968.2 540.2L1969.2 541.2L1970.1 542.4L1971.1 541.9L1972.0 536.6L1973.0 535.2L1973.9 537.5L1974.9 537.7L1975.8 537.4L1976.8 541.0L1977.7 543.1L1978.7 544.4L1979.6 542.8L1980.6 541.7L1981.5 541.9L1982.5 535.8L1983.4 536.7L1984.4 533.3L1985.3 535.3L1986.3 539.1L1987.2 538.3L1988.2 536.4L1989.1 541.6L1990.1 544.1L1991.0 549.8L1992.0 545.9L1992.9 542.9L1993.9 537.7L1994.9 530.7L1995.8 528.5L1996.8 526.6L1997.7 530.5L1998.7 531.0L1999.6 528.5L2000.6 530.9L2001.5 529.7L2002.5 530.7L2003.4 532.6L2004.4 529.9L2005.3 527.5L2006.3 524.9L2007.2 521.8L2008.2 515.9L2009.1 515.9L2010.1 513.9L2011.0 514.9L2012.0 517.3L2012.9 513.8L2013.9 518.1L2014.8 525.7L2015.8 532.2L2016.7 536.9L2017.7 543.5L2018.6 550.5L2019.6 550.2L2020.5 554.5L2021.5 554.9L2022.4 552.8L2023.4 553.0L2024.3 553.1L2025.3 554.2L2026.2 551.7L2027.2 551.6L2028.1 551.0L2029.1 553.5L2030.0 552.8L2031.0 552.8L2031.9 555.0L2032.9 554.7L2033.8 552.0L2034.8 554.8L2035.7 551.8L2036.7 549.0L2037.6 547.4L2038.6 540.5L2039.5 538.7L2040.5 532.7L2041.4 531.4L2042.4 531.7L2043.3 529.0L2044.3 531.4L2045.2 529.3L2046.2 530.7L2047.1 531.0L2048.1 528.6L2049.0 527.9L2050.0 531.5L2050.9 532.5L2051.9 537.1L2052.8 541.2L2053.8 540.8L2054.7 540.5L2055.7 545.5L2056.6 542.8L2057.6 541.5L2058.5 547.4L2059.5 552.5L2060.4 554.8L2061.4 550.1L2062.4 548.0L2063.3 545.5L2064.3 538.7L2065.2 537.5L2066.2 537.4L2067.1 541.1L2068.1 542.1L2069.0 540.3L2070.0 538.3L2070.9 537.4L2071.9 544.8L2072.8 549.3L2073.8 546.3L2074.7 552.8L2075.7 552.7L2076.6 552.2L2077.6 545.5L2078.5 540.9L2079.5 535.8L2080.4 534.1L2081.4 533.9L2082.3 535.5L2083.3 539.4L2084.2 546.7L2085.2 551.5L2086.1 554.7L2087.1 554.1L2088.0 554.4L2089.0 550.8L2089.9 553.1L2090.9 554.9L2091.8 551.4L2092.8 554.7L2093.7 554.6L2094.7 553.2L2095.6 548.7L2096.6 543.2L2097.5 544.8L2098.5 545.8L2099.4 541.8L2100.4 538.8L2101.3 531.3L2102.3 529.0L2103.2 528.2L2104.2 527.7L2105.1 529.9L2106.1 532.3L2107.0 529.2L2108.0 529.1L2108.9 527.9L2109.9 526.7L2110.8 526.4L2111.8 521.8L2112.7 526.7L2113.7 524.8L2114.6 527.0L2115.6 525.8L2116.5 527.1L2117.5 520.8L2118.4 522.2L2119.4 527.4L2120.3 527.5L2121.3 534.6L2122.2 532.5L2123.2 530.3L2124.1 524.2L2125.1 524.4L2126.0 523.1L2127.0 519.0L2127.9 519.9L2128.9 522.3L2129.8 531.6L2130.8 534.0L2131.8 530.1L2132.7 525.4L2133.7 529.4L2134.6 529.8L2135.6 530.6L2136.5 533.3L2137.5 528.4L2138.4 526.2L2139.4 532.8L2140.3 535.3L2141.3 532.5L2142.2 535.8L2143.2 533.2L2144.1 536.5L2145.1 538.5L2146.0 540.4L2147.0 543.3L2147.9 542.9L2148.9 539.5L2149.8 544.0L2150.8 548.4L2151.7 548.8L2152.7 545.6L2153.6 540.0L2154.6 540.2L2155.5 539.0L2156.5 536.5L2157.4 542.9L2158.4 548.2L2159.3 543.7L2160.3 548.0L2161.2 549.9L2162.2 545.2L2163.1 549.8L2164.1 552.3L2165.0 550.7L2166.0 550.0L2166.9 549.1L2167.9 547.0L2168.8 550.1L2169.8 555.0L2170.7 555.0L2171.7 555.0L2172.6 553.8L2173.6 554.5L2174.5 553.9L2175.5 548.0L2176.4 547.6L2177.4 552.3L2178.3 553.1L2179.3 548.3L2180.2 545.4L2181.2 545.8L2182.1 547.9L2183.1 545.9L2184.0 545.4L2185.0 544.1L2185.9 548.5L2186.9 547.3L2187.8 545.3L2188.8 539.3L2189.7 536.8L2190.7 537.3L2191.6 538.7L2192.6 540.6L2193.5 535.7L2194.5 536.6L2195.4 540.8L2196.4 537.6L2197.3 541.1L2198.3 543.7" fill="none" stroke="#73bf69" stroke-width="2.9" stroke-linejoin="round"/><path d="M1857.0 554.8L1858.0 554.3L1858.9 551.8L1859.9 547.3L1860.8 551.8L1861.8 551.7L1862.7 551.8L1863.7 549.7L1864.6 546.9L1865.6 548.5L1866.5 552.5L1867.5 544.7L1868.4 544.2L1869.4 540.9L1870.3 538.8L1871.3 532.8L1872.2 536.4L1873.2 536.6L1874.1 534.3L1875.1 536.0L1876.0 540.3L1877.0 543.0L1877.9 538.1L1878.9 541.5L1879.8 538.5L1880.8 534.6L1881.7 531.4L1882.7 528.4L1883.6 522.6L1884.6 525.2L1885.5 531.4L1886.5 528.4L1887.4 526.4L1888.4 530.9L1889.3 535.0L1890.3 540.5L1891.2 536.7L1892.2 539.9L1893.1 539.6L1894.1 542.6L1895.0 542.7L1896.0 539.3L1896.9 536.5L1897.9 540.0L1898.8 540.0L1899.8 537.1L1900.7 542.5L1901.7 540.1L1902.6 543.5L1903.6 544.7L1904.5 546.9L1905.5 546.8L1906.4 543.7L1907.4 539.8L1908.3 537.3L1909.3 539.1L1910.2 540.3L1911.2 539.0L1912.1 538.8L1913.1 536.9L1914.0 537.4L1915.0 535.5L1915.9 532.8L1916.9 533.9L1917.8 538.9L1918.8 538.3L1919.7 544.5L1920.7 544.8L1921.6 540.1L1922.6 541.0L1923.5 538.8L1924.5 539.3L1925.5 538.8L1926.4 535.6L1927.4 536.9L1928.3 540.6L1929.3 543.8L1930.2 547.5L1931.2 550.9L1932.1 548.0L1933.1 547.2L1934.0 546.1L1935.0 547.8L1935.9 545.7L1936.9 539.9L1937.8 535.0L1938.8 528.6L1939.7 525.3L1940.7 529.9L1941.6 531.9L1942.6 529.3L1943.5 527.2L1944.5 529.5L1945.4 530.9L1946.4 530.3L1947.3 529.4L1948.3 535.3L1949.2 541.1L1950.2 543.9L1951.1 543.5L1952.1 546.3L1953.0 549.4L1954.0 545.6L1954.9 541.3L1955.9 537.1L1956.8 536.6L1957.8 533.7L1958.7 532.4L1959.7 535.0L1960.6 530.5L1961.6 525.4L1962.5 523.2L1963.5 525.2L1964.4 521.9L1965.4 520.6L1966.3 521.9L1967.3 519.5L1968.2 524.4L1969.2 527.9L1970.1 524.7L1971.1 528.2L1972.0 526.9L1973.0 532.2L1973.9 531.8L1974.9 525.0L1975.8 522.1L1976.8 520.0L1977.7 516.1L1978.7 514.6L1979.6 513.0L1980.6 510.6L1981.5 511.5L1982.5 512.2L1983.4 519.0L1984.4 523.1L1985.3 519.1L1986.3 517.3L1987.2 514.8L1988.2 517.4L1989.1 517.1L1990.1 518.4L1991.0 513.5L1992.0 509.7L1992.9 513.1L1993.9 510.2L1994.9 508.0L1995.8 510.2L1996.8 513.2L1997.7 510.4L1998.7 503.4L1999.6 501.0L2000.6 507.6L2001.5 508.2L2002.5 507.7L2003.4 510.1L2004.4 509.9L2005.3 510.1L2006.3 505.4L2007.2 507.9L2008.2 508.2L2009.1 510.7L2010.1 506.4L2011.0 511.1L2012.0 511.6L2012.9 506.7L2013.9 503.3L2014.8 503.5L2015.8 506.3L2016.7 503.8L2017.7 507.5L2018.6 507.1L2019.6 501.3L2020.5 498.5L2021.5 495.2L2022.4 494.5L2023.4 490.5L2024.3 489.1L2025.3 489.6L2026.2 483.0L2027.2 484.0L2028.1 488.7L2029.1 487.4L2030.0 490.6L2031.0 488.1L2031.9 486.0L2032.9 486.2L2033.8 482.4L2034.8 485.1L2035.7 488.5L2036.7 482.6L2037.6 478.2L2038.6 480.1L2039.5 476.7L2040.5 477.3L2041.4 475.3L2042.4 475.2L2043.3 478.9L2044.3 478.6L2045.2 480.2L2046.2 479.6L2047.1 483.4L2048.1 481.8L2049.0 483.6L2050.0 484.2L2050.9 482.5L2051.9 480.8L2052.8 478.8L2053.8 476.6L2054.7 469.5L2055.7 471.2L2056.6 474.2L2057.6 476.7L2058.5 469.1L2059.5 466.3L2060.4 469.8L2061.4 471.9L2062.4 465.9L2063.3 459.4L2064.3 461.9L2065.2 453.4L2066.2 447.6L2067.1 451.0L2068.1 448.3L2069.0 450.7L2070.0 454.7L2070.9 454.4L2071.9 462.0L2072.8 456.9L2073.8 455.3L2074.7 453.8L2075.7 460.4L2076.6 458.4L2077.6 454.0L2078.5 448.9L2079.5 445.1L2080.4 451.9L2081.4 452.0L2082.3 453.6L2083.3 449.9L2084.2 447.9L2085.2 449.3L2086.1 441.4L2087.1 442.8L2088.0 440.2L2089.0 438.2L2089.9 440.5L2090.9 443.6L2091.8 447.8L2092.8 442.1L2093.7 442.0L2094.7 447.3L2095.6 447.9L2096.6 445.1L2097.5 446.1L2098.5 448.9L2099.4 452.1L2100.4 453.2L2101.3 457.9L2102.3 456.9L2103.2 453.7L2104.2 449.6L2105.1 447.6L2106.1 448.6L2107.0 452.1L2108.0 453.6L2108.9 456.4L2109.9 452.5L2110.8 449.1L2111.8 447.5L2112.7 445.6L2113.7 447.2L2114.6 445.2L2115.6 446.1L2116.5 448.2L2117.5 448.7L2118.4 441.9L2119.4 443.7L2120.3 446.3L2121.3 450.5L2122.2 449.4L2123.2 448.2L2124.1 446.8L2125.1 448.1L2126.0 446.5L2127.0 442.9L2127.9 447.9L2128.9 448.1L2129.8 448.4L2130.8 451.6L2131.8 454.1L2132.7 454.3L2133.7 454.1L2134.6 447.8L2135.6 453.6L2136.5 456.8L2137.5 456.7L2138.4 449.7L2139.4 443.5L2140.3 444.9L2141.3 442.8L2142.2 443.1L2143.2 447.5L2144.1 448.4L2145.1 451.7L2146.0 444.1L2147.0 441.2L2147.9 436.2L2148.9 431.1L2149.8 435.4L2150.8 438.0L2151.7 436.9L2152.7 433.1L2153.6 436.7L2154.6 436.3L2155.5 435.8L2156.5 433.0L2157.4 431.6L2158.4 427.2L2159.3 424.2L2160.3 430.5L2161.2 433.6L2162.2 426.7L2163.1 423.9L2164.1 420.3L2165.0 422.2L2166.0 428.7L2166.9 425.4L2167.9 427.2L2168.8 429.2L2169.8 424.3L2170.7 415.2L2171.7 410.5L2172.6 415.2L2173.6 419.6L2174.5 419.1L2175.5 424.0L2176.4 424.8L2177.4 425.5L2178.3 426.1L2179.3 420.8L2180.2 417.3L2181.2 417.6L2182.1 416.3L2183.1 413.9L2184.0 416.1L2185.0 414.7L2185.9 413.5L2186.9 410.4L2187.8 410.9L2188.8 413.2L2189.7 421.7L2190.7 421.0L2191.6 415.5L2192.6 414.2L2193.5 413.8L2194.5 413.3L2195.4 410.2L2196.4 408.6L2197.3 406.2L2198.3 398.5" fill="none" stroke="#f2cc0c" stroke-width="2.9" stroke-linejoin="round"/><path d="M1857.0 555.0L1858.0 554.6L1858.9 554.1L1859.9 553.7L1860.8 553.8L1861.8 551.0L1862.7 544.7L1863.7 547.7L1864.6 548.4L1865.6 551.5L1866.5 552.7L1867.5 546.6L1868.4 550.4L1869.4 549.2L1870.3 548.4L1871.3 544.8L1872.2 542.2L1873.2 538.5L1874.1 539.0L1875.1 545.2L1876.0 544.8L1877.0 542.1L1877.9 541.4L1878.9 540.6L1879.8 537.1L1880.8 540.8L1881.7 535.0L1882.7 531.3L1883.6 537.5L1884.6 539.4L1885.5 540.0L1886.5 539.0L1887.4 533.4L1888.4 535.4L1889.3 540.6L1890.3 538.1L1891.2 538.9L1892.2 538.0L1893.1 537.2L1894.1 530.7L1895.0 526.9L1896.0 530.0L1896.9 521.9L1897.9 518.3L1898.8 516.6L1899.8 517.9L1900.7 525.2L1901.7 527.6L1902.6 527.4L1903.6 526.7L1904.5 518.9L1905.5 518.2L1906.4 518.6L1907.4 520.2L1908.3 525.8L1909.3 529.3L1910.2 534.5L1911.2 535.5L1912.1 541.2L1913.1 543.6L1914.0 540.4L1915.0 539.8L1915.9 544.5L1916.9 544.0L1917.8 539.5L1918.8 539.6L1919.7 534.0L1920.7 533.0L1921.6 539.3L1922.6 536.1L1923.5 533.0L1924.5 533.4L1925.5 535.5L1926.4 530.7L1927.4 535.4L1928.3 540.2L1929.3 541.7L1930.2 543.5L1931.2 544.9L1932.1 544.8L1933.1 543.4L1934.0 537.4L1935.0 538.9L1935.9 545.2L1936.9 545.8L1937.8 547.8L1938.8 551.0L1939.7 549.0L1940.7 548.7L1941.6 546.6L1942.6 550.2L1943.5 550.5L1944.5 551.7L1945.4 554.7L1946.4 554.1L1947.3 554.6L1948.3 554.9L1949.2 553.1L1950.2 551.0L1951.1 553.5L1952.1 553.6L1953.0 553.5L1954.0 548.7L1954.9 553.3L1955.9 549.9L1956.8 553.2L1957.8 550.3L1958.7 548.9L1959.7 543.6L1960.6 541.7L1961.6 545.1L1962.5 543.4L1963.5 548.8L1964.4 550.9L1965.4 551.3L1966.3 546.3L1967.3 543.9L1968.2 546.8L1969.2 549.7L1970.1 546.7L1971.1 543.0L1972.0 544.3L1973.0 544.6L1973.9 542.8L1974.9 543.5L1975.8 542.7L1976.8 549.5L1977.7 555.0L1978.7 554.1L1979.6 555.0L1980.6 555.0L1981.5 552.5L1982.5 552.8L1983.4 553.1L1984.4 555.0L1985.3 553.7L1986.3 548.3L1987.2 544.2L1988.2 539.2L1989.1 540.8L1990.1 536.7L1991.0 540.0L1992.0 545.9L1992.9 547.2L1993.9 540.8L1994.9 535.7L1995.8 529.9L1996.8 533.9L1997.7 538.8L1998.7 541.7L1999.6 540.3L2000.6 540.1L2001.5 542.5L2002.5 544.0L2003.4 543.9L2004.4 550.0L2005.3 555.0L2006.3 554.1L2007.2 553.9L2008.2 553.4L2009.1 550.8L2010.1 546.7L2011.0 549.4L2012.0 551.7L2012.9 553.4L2013.9 554.8L2014.8 552.1L2015.8 553.8L2016.7 553.8L2017.7 554.9L2018.6 554.1L2019.6 551.3L2020.5 553.5L2021.5 553.0L2022.4 549.3L2023.4 543.0L2024.3 546.6L2025.3 551.3L2026.2 548.8L2027.2 543.6L2028.1 542.7L2029.1 547.2L2030.0 547.5L2031.0 547.7L2031.9 547.7L2032.9 543.6L2033.8 550.2L2034.8 552.5L2035.7 553.1L2036.7 548.8L2037.6 548.1L2038.6 545.4L2039.5 540.7L2040.5 545.5L2041.4 546.9L2042.4 550.6L2043.3 548.1L2044.3 544.7L2045.2 551.2L2046.2 550.5L2047.1 545.9L2048.1 543.2L2049.0 545.7L2050.0 541.8L2050.9 542.1L2051.9 536.3L2052.8 532.2L2053.8 536.5L2054.7 535.9L2055.7 541.2L2056.6 540.4L2057.6 532.4L2058.5 528.7L2059.5 525.4L2060.4 522.3L2061.4 527.0L2062.4 529.2L2063.3 530.8L2064.3 534.5L2065.2 529.1L2066.2 529.4L2067.1 528.6L2068.1 535.3L2069.0 534.1L2070.0 528.0L2070.9 527.5L2071.9 528.2L2072.8 531.6L2073.8 535.7L2074.7 541.9L2075.7 536.7L2076.6 538.6L2077.6 534.5L2078.5 526.9L2079.5 520.0L2080.4 523.0L2081.4 520.4L2082.3 521.3L2083.3 517.5L2084.2 519.7L2085.2 523.2L2086.1 525.2L2087.1 527.2L2088.0 527.4L2089.0 520.2L2089.9 517.0L2090.9 519.2L2091.8 522.5L2092.8 518.7L2093.7 514.9L2094.7 517.6L2095.6 519.2L2096.6 520.2L2097.5 520.4L2098.5 518.9L2099.4 516.2L2100.4 514.9L2101.3 517.6L2102.3 515.1L2103.2 515.3L2104.2 513.5L2105.1 509.2L2106.1 512.0L2107.0 507.6L2108.0 507.0L2108.9 505.1L2109.9 503.6L2110.8 501.7L2111.8 505.0L2112.7 500.8L2113.7 496.0L2114.6 488.9L2115.6 493.7L2116.5 491.3L2117.5 486.5L2118.4 484.9L2119.4 490.7L2120.3 490.5L2121.3 489.1L2122.2 491.4L2123.2 495.9L2124.1 499.4L2125.1 502.7L2126.0 505.6L2127.0 508.7L2127.9 509.3L2128.9 506.4L2129.8 502.1L2130.8 499.6L2131.8 496.9L2132.7 494.6L2133.7 496.0L2134.6 497.7L2135.6 491.7L2136.5 490.2L2137.5 496.2L2138.4 490.8L2139.4 493.2L2140.3 492.0L2141.3 496.2L2142.2 502.9L2143.2 500.8L2144.1 506.7L2145.1 507.3L2146.0 509.8L2147.0 509.5L2147.9 508.9L2148.9 504.7L2149.8 507.8L2150.8 510.7L2151.7 512.4L2152.7 508.8L2153.6 503.1L2154.6 502.7L2155.5 507.6L2156.5 510.1L2157.4 503.4L2158.4 498.0L2159.3 491.0L2160.3 493.3L2161.2 494.3L2162.2 494.1L2163.1 494.6L2164.1 491.0L2165.0 490.4L2166.0 492.4L2166.9 489.7L2167.9 482.4L2168.8 483.9L2169.8 488.0L2170.7 486.8L2171.7 487.2L2172.6 489.3L2173.6 488.8L2174.5 481.2L2175.5 476.7L2176.4 473.6L2177.4 469.4L2178.3 470.8L2179.3 478.7L2180.2 480.3L2181.2 479.0L2182.1 475.8L2183.1 473.5L2184.0 470.2L2185.0 467.0L2185.9 465.5L2186.9 460.4L2187.8 453.4L2188.8 451.1L2189.7 452.2L2190.7 454.6L2191.6 449.7L2192.6 447.3L2193.5 442.5L2194.5 445.3L2195.4 446.5L2196.4 448.4L2197.3 451.3L2198.3 456.1" fill="none" stroke="#5794f2" stroke-width="2.9" stroke-linejoin="round"/><path d="M1857.0 554.8L1858.0 554.0L1858.9 555.0L1859.9 555.0L1860.8 549.6L1861.8 545.7L1862.7 549.6L1863.7 548.8L1864.6 544.1L1865.6 548.5L1866.5 550.0L1867.5 555.0L1868.4 554.5L1869.4 554.9L1870.3 554.7L1871.3 548.3L1872.2 544.0L1873.2 550.7L1874.1 552.4L1875.1 555.0L1876.0 552.2L1877.0 553.0L1877.9 555.0L1878.9 555.0L1879.8 555.0L1880.8 549.5L1881.7 549.4L1882.7 550.9L1883.6 545.5L1884.6 549.7L1885.5 551.5L1886.5 551.1L1887.4 553.3L1888.4 555.0L1889.3 555.0L1890.3 554.2L1891.2 554.7L1892.2 552.0L1893.1 555.0L1894.1 551.6L1895.0 552.1L1896.0 547.9L1896.9 548.6L1897.9 544.8L1898.8 547.6L1899.8 547.8L1900.7 553.4L1901.7 551.8L1902.6 551.5L1903.6 554.6L1904.5 552.7L1905.5 553.4L1906.4 554.8L1907.4 555.0L1908.3 555.0L1909.3 555.0L1910.2 553.3L1911.2 555.0L1912.1 555.0L1913.1 552.1L1914.0 554.3L1915.0 553.2L1915.9 551.8L1916.9 552.3L1917.8 550.5L1918.8 551.6L1919.7 547.8L1920.7 548.6L1921.6 543.8L1922.6 545.9L1923.5 551.6L1924.5 552.3L1925.5 550.8L1926.4 554.2L1927.4 554.8L1928.3 555.0L1929.3 554.7L1930.2 546.7L1931.2 540.6L1932.1 538.3L1933.1 540.5L1934.0 541.8L1935.0 542.5L1935.9 548.6L1936.9 548.9L1937.8 550.2L1938.8 545.8L1939.7 545.1L1940.7 537.4L1941.6 531.1L1942.6 532.2L1943.5 531.3L1944.5 527.2L1945.4 523.2L1946.4 522.2L1947.3 528.0L1948.3 533.0L1949.2 539.5L1950.2 543.6L1951.1 542.5L1952.1 540.0L1953.0 542.0L1954.0 547.7L1954.9 550.0L1955.9 546.0L1956.8 543.7L1957.8 548.5L1958.7 547.0L1959.7 553.7L1960.6 555.0L1961.6 555.0L1962.5 554.0L1963.5 550.1L1964.4 553.6L1965.4 555.0L1966.3 553.3L1967.3 550.5L1968.2 546.3L1969.2 545.1L1970.1 543.6L1971.1 546.1L1972.0 544.5L1973.0 546.4L1973.9 552.3L1974.9 554.8L1975.8 555.0L1976.8 554.0L1977.7 552.3L1978.7 548.6L1979.6 543.2L1980.6 546.9L1981.5 546.3L1982.5 546.1L1983.4 549.4L1984.4 550.4L1985.3 550.9L1986.3 547.7L1987.2 553.0L1988.2 554.2L1989.1 551.4L1990.1 548.4L1991.0 547.5L1992.0 545.2L1992.9 541.6L1993.9 539.3L1994.9 540.9L1995.8 537.3L1996.8 532.5L1997.7 526.3L1998.7 521.4L1999.6 522.7L2000.6 521.2L2001.5 523.2L2002.5 521.1L2003.4 524.4L2004.4 524.7L2005.3 517.1L2006.3 519.3L2007.2 515.2L2008.2 520.0L2009.1 514.5L2010.1 517.9L2011.0 518.7L2012.0 520.7L2012.9 525.7L2013.9 524.0L2014.8 524.3L2015.8 519.7L2016.7 519.6L2017.7 517.8L2018.6 513.2L2019.6 514.4L2020.5 521.1L2021.5 529.4L2022.4 534.6L2023.4 535.8L2024.3 541.4L2025.3 544.0L2026.2 548.5L2027.2 546.9L2028.1 547.7L2029.1 548.6L2030.0 542.7L2031.0 546.5L2031.9 544.3L2032.9 538.5L2033.8 542.9L2034.8 543.6L2035.7 538.5L2036.7 535.6L2037.6 532.6L2038.6 534.2L2039.5 535.7L2040.5 536.0L2041.4 535.5L2042.4 541.2L2043.3 545.1L2044.3 544.1L2045.2 539.4L2046.2 538.9L2047.1 543.3L2048.1 545.1L2049.0 544.0L2050.0 543.6L2050.9 546.8L2051.9 545.0L2052.8 547.3L2053.8 546.5L2054.7 542.0L2055.7 540.5L2056.6 540.6L2057.6 532.7L2058.5 525.5L2059.5 525.6L2060.4 531.2L2061.4 530.2L2062.4 531.2L2063.3 535.1L2064.3 529.5L2065.2 525.9L2066.2 518.7L2067.1 516.6L2068.1 515.4L2069.0 517.6L2070.0 521.5L2070.9 522.3L2071.9 523.7L2072.8 523.0L2073.8 524.7L2074.7 524.7L2075.7 522.9L2076.6 522.4L2077.6 520.3L2078.5 518.3L2079.5 515.1L2080.4 514.4L2081.4 513.5L2082.3 514.6L2083.3 512.3L2084.2 505.8L2085.2 505.6L2086.1 507.3L2087.1 502.1L2088.0 502.4L2089.0 503.4L2089.9 500.7L2090.9 499.3L2091.8 501.9L2092.8 503.1L2093.7 502.8L2094.7 504.8L2095.6 509.6L2096.6 509.0L2097.5 508.4L2098.5 514.4L2099.4 513.5L2100.4 510.4L2101.3 512.1L2102.3 518.1L2103.2 519.8L2104.2 518.4L2105.1 514.4L2106.1 513.0L2107.0 516.4L2108.0 516.7L2108.9 516.2L2109.9 513.1L2110.8 514.7L2111.8 516.4L2112.7 513.2L2113.7 518.7L2114.6 522.3L2115.6 523.0L2116.5 522.7L2117.5 523.0L2118.4 523.4L2119.4 523.6L2120.3 522.4L2121.3 517.3L2122.2 520.2L2123.2 526.0L2124.1 528.1L2125.1 534.2L2126.0 535.0L2127.0 540.8L2127.9 545.7L2128.9 547.7L2129.8 546.7L2130.8 548.5L2131.8 552.7L2132.7 554.0L2133.7 554.3L2134.6 555.0L2135.6 552.4L2136.5 551.7L2137.5 554.6L2138.4 555.0L2139.4 554.3L2140.3 548.4L2141.3 544.3L2142.2 541.3L2143.2 536.1L2144.1 535.2L2145.1 533.9L2146.0 531.0L2147.0 529.0L2147.9 521.8L2148.9 527.9L2149.8 524.5L2150.8 527.1L2151.7 532.6L2152.7 535.6L2153.6 538.4L2154.6 540.1L2155.5 532.7L2156.5 524.9L2157.4 522.4L2158.4 524.6L2159.3 531.2L2160.3 534.2L2161.2 537.9L2162.2 539.5L2163.1 544.4L2164.1 544.2L2165.0 544.0L2166.0 543.9L2166.9 541.9L2167.9 542.4L2168.8 542.0L2169.8 542.4L2170.7 542.4L2171.7 541.8L2172.6 539.8L2173.6 539.2L2174.5 536.6L2175.5 532.3L2176.4 526.3L2177.4 530.5L2178.3 531.5L2179.3 533.9L2180.2 529.5L2181.2 533.1L2182.1 533.9L2183.1 539.4L2184.0 540.6L2185.0 536.4L2185.9 534.3L2186.9 534.6L2187.8 530.2L2188.8 528.0L2189.7 530.2L2190.7 532.5L2191.6 534.1L2192.6 530.8L2193.5 533.0L2194.5 533.0L2195.4 531.0L2196.4 535.2L2197.3 542.0L2198.3 547.1" fill="none" stroke="#ff9830" stroke-width="2.9" stroke-linejoin="round"/><path d="M1857.0 554.4L1858.0 548.6L1858.9 543.1L1859.9 544.2L1860.8 543.0L1861.8 541.7L1862.7 547.0L1863.7 552.8L1864.6 554.9L1865.6 555.0L1866.5 555.0L1867.5 553.4L1868.4 550.5L1869.4 548.1L1870.3 545.2L1871.3 547.0L1872.2 545.2L1873.2 548.4L1874.1 551.5L1875.1 554.7L1876.0 553.7L1877.0 550.6L1877.9 545.5L1878.9 545.0L1879.8 539.7L1880.8 540.8L1881.7 537.9L1882.7 537.0L1883.6 531.9L1884.6 536.2L1885.5 533.0L1886.5 530.5L1887.4 527.9L1888.4 522.2L1889.3 519.8L1890.3 520.9L1891.2 514.6L1892.2 517.8L1893.1 517.9L1894.1 515.6L1895.0 512.4L1896.0 511.4L1896.9 511.3L1897.9 516.4L1898.8 513.3L1899.8 509.7L1900.7 505.1L1901.7 511.4L1902.6 510.2L1903.6 508.0L1904.5 510.9L1905.5 513.2L1906.4 518.5L1907.4 517.0L1908.3 517.1L1909.3 517.3L1910.2 522.0L1911.2 524.0L1912.1 524.4L1913.1 521.2L1914.0 520.7L1915.0 525.8L1915.9 528.4L1916.9 531.1L1917.8 532.7L1918.8 526.1L1919.7 520.6L1920.7 523.4L1921.6 528.5L1922.6 528.9L1923.5 526.0L1924.5 525.1L1925.5 527.7L1926.4 526.6L1927.4 522.6L1928.3 518.4L1929.3 518.0L1930.2 514.0L1931.2 516.5L1932.1 520.1L1933.1 520.5L1934.0 516.1L1935.0 509.0L1935.9 511.4L1936.9 510.5L1937.8 506.7L1938.8 505.8L1939.7 504.4L1940.7 506.2L1941.6 504.2L1942.6 509.7L1943.5 512.2L1944.5 507.6L1945.4 509.9L1946.4 514.3L1947.3 518.1L1948.3 514.2L1949.2 509.6L1950.2 507.1L1951.1 507.6L1952.1 509.5L1953.0 515.4L1954.0 517.3L1954.9 522.8L1955.9 530.4L1956.8 528.9L1957.8 527.1L1958.7 529.2L1959.7 526.7L1960.6 525.0L1961.6 523.1L1962.5 520.5L1963.5 517.9L1964.4 517.0L1965.4 516.2L1966.3 519.9L1967.3 513.4L1968.2 514.3L1969.2 509.2L1970.1 507.3L1971.1 502.9L1972.0 503.4L1973.0 505.9L1973.9 504.8L1974.9 505.0L1975.8 505.7L1976.8 507.3L1977.7 508.1L1978.7 513.0L1979.6 515.0L1980.6 516.0L1981.5 524.1L1982.5 520.2L1983.4 522.3L1984.4 529.1L1985.3 534.2L1986.3 533.9L1987.2 537.3L1988.2 543.4L1989.1 551.0L1990.1 550.1L1991.0 553.4L1992.0 550.6L1992.9 553.7L1993.9 552.8L1994.9 552.5L1995.8 554.2L1996.8 550.1L1997.7 544.3L1998.7 539.0L1999.6 539.2L2000.6 540.7L2001.5 543.8L2002.5 541.0L2003.4 535.8L2004.4 536.2L2005.3 532.2L2006.3 533.0L2007.2 535.0L2008.2 534.5L2009.1 537.4L2010.1 542.8L2011.0 544.3L2012.0 547.4L2012.9 549.1L2013.9 549.9L2014.8 550.3L2015.8 548.5L2016.7 542.9L2017.7 536.9L2018.6 535.7L2019.6 542.9L2020.5 545.1L2021.5 549.3L2022.4 548.3L2023.4 544.9L2024.3 547.4L2025.3 544.0L2026.2 539.4L2027.2 538.5L2028.1 536.3L2029.1 540.0L2030.0 540.8L2031.0 544.0L2031.9 537.2L2032.9 532.8L2033.8 527.3L2034.8 525.0L2035.7 522.2L2036.7 518.8L2037.6 512.4L2038.6 510.5L2039.5 513.2L2040.5 517.3L2041.4 515.8L2042.4 522.0L2043.3 519.9L2044.3 522.0L2045.2 525.3L2046.2 521.7L2047.1 516.3L2048.1 512.8L2049.0 511.6L2050.0 511.1L2050.9 510.7L2051.9 509.2L2052.8 508.7L2053.8 510.8L2054.7 514.3L2055.7 510.4L2056.6 506.0L2057.6 507.0L2058.5 512.8L2059.5 516.4L2060.4 512.1L2061.4 508.6L2062.4 511.7L2063.3 508.4L2064.3 510.3L2065.2 502.4L2066.2 503.7L2067.1 499.6L2068.1 506.8L2069.0 509.7L2070.0 517.0L2070.9 517.4L2071.9 511.1L2072.8 504.6L2073.8 498.4L2074.7 500.7L2075.7 505.5L2076.6 509.5L2077.6 515.5L2078.5 517.9L2079.5 516.5L2080.4 516.6L2081.4 521.7L2082.3 528.1L2083.3 535.6L2084.2 534.3L2085.2 535.5L2086.1 535.8L2087.1 537.0L2088.0 538.5L2089.0 535.0L2089.9 531.3L2090.9 526.5L2091.8 530.1L2092.8 537.7L2093.7 541.9L2094.7 544.1L2095.6 547.1L2096.6 548.5L2097.5 544.2L2098.5 542.1L2099.4 542.0L2100.4 539.5L2101.3 536.0L2102.3 534.2L2103.2 532.8L2104.2 530.3L2105.1 531.0L2106.1 532.7L2107.0 533.8L2108.0 532.8L2108.9 532.4L2109.9 530.9L2110.8 526.8L2111.8 532.1L2112.7 533.1L2113.7 533.5L2114.6 526.6L2115.6 521.3L2116.5 515.1L2117.5 508.8L2118.4 503.6L2119.4 498.3L2120.3 499.0L2121.3 499.1L2122.2 504.9L2123.2 505.3L2124.1 504.2L2125.1 504.0L2126.0 502.5L2127.0 502.8L2127.9 504.0L2128.9 502.4L2129.8 506.0L2130.8 514.5L2131.8 508.0L2132.7 511.1L2133.7 517.0L2134.6 517.3L2135.6 516.0L2136.5 518.1L2137.5 520.7L2138.4 513.1L2139.4 508.4L2140.3 512.4L2141.3 505.5L2142.2 504.5L2143.2 497.4L2144.1 495.3L2145.1 499.8L2146.0 498.3L2147.0 497.5L2147.9 502.1L2148.9 510.0L2149.8 512.4L2150.8 511.6L2151.7 516.7L2152.7 518.7L2153.6 522.0L2154.6 526.9L2155.5 533.3L2156.5 528.3L2157.4 527.0L2158.4 525.0L2159.3 523.7L2160.3 519.0L2161.2 520.6L2162.2 524.1L2163.1 522.2L2164.1 521.4L2165.0 525.6L2166.0 523.4L2166.9 522.9L2167.9 522.2L2168.8 522.8L2169.8 524.3L2170.7 518.7L2171.7 510.5L2172.6 505.8L2173.6 498.5L2174.5 498.9L2175.5 502.9L2176.4 504.5L2177.4 500.2L2178.3 499.3L2179.3 497.7L2180.2 500.9L2181.2 500.1L2182.1 502.1L2183.1 506.0L2184.0 506.0L2185.0 512.2L2185.9 512.2L2186.9 507.8L2187.8 507.0L2188.8 508.0L2189.7 502.6L2190.7 500.9L2191.6 503.9L2192.6 507.2L2193.5 503.9L2194.5 498.4L2195.4 493.9L2196.4 501.3L2197.3 508.9L2198.3 509.8" fill="none" stroke="#f2495c" stroke-width="2.9" stroke-linejoin="round"/></g><g opacity="0.4" font-weight="700"><text x="1849.7" y="559.6" font-size="13" fill="#ccccdc" text-anchor="end">75</text><text x="1849.7" y="510.4" font-size="13" fill="#ccccdc" text-anchor="end">80</text><text x="1849.7" y="461.2" font-size="13" fill="#ccccdc" text-anchor="end">85</text><text x="1849.7" y="412.0" font-size="13" fill="#ccccdc" text-anchor="end">90</text><text x="1906.1" y="594.6" font-size="13" fill="#ccccdc" text-anchor="middle">11:00</text><text x="1963.0" y="594.6" font-size="13" fill="#ccccdc" text-anchor="middle">12:00</text><text x="2020.0" y="594.6" font-size="13" fill="#ccccdc" text-anchor="middle">13:00</text><text x="2076.9" y="594.6" font-size="13" fill="#ccccdc" text-anchor="middle">14:00</text><text x="2133.9" y="594.6" font-size="13" fill="#ccccdc" text-anchor="middle">15:00</text><text x="2190.8" y="594.6" font-size="13" fill="#ccccdc" text-anchor="middle">16:00</text></g></svg>
<div class="b" style="left:1866px;top:458px;width:302px;height:57px;background:#3d71d9;border-radius:11px;"></div>
<span class="t" style="left:1896.20px;top:470.13px;font-size:26.208px;line-height:34px;color:#ffffff;letter-spacing:0.715px;-webkit-text-stroke:1.1px #ffffff;">Use this suggestion</span>
<div class="b" style="left:2231px;top:358px;width:398px;height:249px;background:#181b1f;border:1px solid #33353b;border-radius:11px;box-sizing:border-box;overflow:hidden;"></div>
<svg class="b" style="left:2232px;top:359px;" width="387" height="247" viewBox="2232 359 387 247"><path d="M2277.0 558.8 L2277.9 558.7 L2278.9 558.5 L2279.8 558.7 L2280.7 558.6 L2281.6 558.5 L2282.6 558.2 L2283.5 558.1 L2284.4 558.0 L2285.4 558.2 L2286.3 558.3 L2287.2 558.3 L2288.2 558.1 L2289.1 558.2 L2290.0 558.1 L2290.9 558.3 L2291.9 558.1 L2292.8 558.3 L2293.7 558.0 L2294.7 558.1 L2295.6 558.2 L2296.5 558.2 L2297.5 558.0 L2298.4 558.3 L2299.3 558.1 L2300.2 558.1 L2301.2 558.1 L2302.1 558.0 L2303.0 557.6 L2304.0 557.6 L2304.9 557.6 L2305.8 557.4 L2306.8 557.3 L2307.7 557.5 L2308.6 557.4 L2309.5 557.4 L2310.5 557.3 L2311.4 557.4 L2312.3 557.5 L2313.3 557.7 L2314.2 557.7 L2315.1 557.5 L2316.1 557.4 L2317.0 557.4 L2317.9 557.2 L2318.8 557.6 L2319.8 557.8 L2320.7 557.6 L2321.6 557.2 L2322.6 557.3 L2323.5 557.5 L2324.4 557.7 L2325.3 557.9 L2326.3 557.8 L2327.2 557.8 L2328.1 557.8 L2329.1 557.8 L2330.0 557.8 L2330.9 557.9 L2331.9 557.8 L2332.8 557.7 L2333.7 557.6 L2334.6 557.6 L2335.6 557.5 L2336.5 557.6 L2337.4 557.6 L2338.4 557.5 L2339.3 557.2 L2340.2 557.1 L2341.2 557.2 L2342.1 557.2 L2343.0 557.6 L2343.9 557.7 L2344.9 557.9 L2345.8 558.1 L2346.7 558.4 L2347.7 558.3 L2348.6 558.1 L2349.5 557.8 L2350.5 558.1 L2351.4 558.3 L2352.3 558.2 L2353.2 558.4 L2354.2 558.7 L2355.1 558.5 L2356.0 558.6 L2357.0 558.5 L2357.9 558.4 L2358.8 558.5 L2359.8 558.7 L2360.7 558.5 L2361.6 558.2 L2362.5 558.1 L2363.5 558.4 L2364.4 558.4 L2365.3 558.2 L2366.3 558.4 L2367.2 558.5 L2368.1 558.1 L2369.1 557.9 L2370.0 557.8 L2370.9 557.7 L2371.8 557.6 L2372.8 557.4 L2373.7 557.2 L2374.6 557.5 L2375.6 557.5 L2376.5 557.4 L2377.4 557.1 L2378.3 557.0 L2379.3 557.1 L2380.2 557.5 L2381.1 557.8 L2382.1 558.0 L2383.0 557.8 L2383.9 557.7 L2384.9 558.0 L2385.8 558.1 L2386.7 558.2 L2387.6 558.2 L2388.6 558.2 L2389.5 557.9 L2390.4 557.9 L2391.4 558.0 L2392.3 558.0 L2393.2 558.0 L2394.2 558.1 L2395.1 558.2 L2396.0 558.3 L2396.9 558.2 L2397.9 558.2 L2398.8 558.2 L2399.7 557.9 L2400.7 557.9 L2401.6 557.8 L2402.5 557.9 L2403.5 558.1 L2404.4 558.0 L2405.3 557.9 L2406.2 558.2 L2407.2 558.3 L2408.1 558.6 L2409.0 558.4 L2410.0 558.2 L2410.9 558.0 L2411.8 557.6 L2412.8 557.5 L2413.7 557.4 L2414.6 557.6 L2415.5 557.7 L2416.5 557.5 L2417.4 557.7 L2418.3 557.6 L2419.3 557.6 L2420.2 557.7 L2421.1 557.6 L2422.0 557.5 L2423.0 557.4 L2423.9 557.2 L2424.8 556.9 L2425.8 556.9 L2426.7 556.8 L2427.6 556.9 L2428.6 557.0 L2429.5 556.8 L2430.4 557.0 L2431.3 557.4 L2432.3 557.7 L2433.2 557.9 L2434.1 558.3 L2435.1 558.6 L2436.0 558.6 L2436.9 558.8 L2437.9 558.8 L2438.8 558.7 L2439.7 558.7 L2440.6 558.7 L2441.6 558.8 L2442.5 558.7 L2443.4 558.7 L2444.4 558.6 L2445.3 558.8 L2446.2 558.7 L2447.2 558.7 L2448.1 558.8 L2449.0 558.8 L2449.9 558.7 L2450.9 558.8 L2451.8 558.7 L2452.7 558.5 L2453.7 558.5 L2454.6 558.1 L2455.5 558.0 L2456.5 557.7 L2457.4 557.7 L2458.3 557.7 L2459.2 557.6 L2460.2 557.7 L2461.1 557.6 L2462.0 557.6 L2463.0 557.7 L2463.9 557.5 L2464.8 557.5 L2465.8 557.7 L2466.7 557.7 L2467.6 558.0 L2468.5 558.2 L2469.5 558.1 L2470.4 558.1 L2471.3 558.4 L2472.3 558.2 L2473.2 558.2 L2474.1 558.5 L2475.0 558.7 L2476.0 558.8 L2476.9 558.6 L2477.8 558.5 L2478.8 558.4 L2479.7 558.0 L2480.6 558.0 L2481.6 558.0 L2482.5 558.2 L2483.4 558.2 L2484.3 558.1 L2485.3 558.0 L2486.2 558.0 L2487.1 558.3 L2488.1 558.5 L2489.0 558.4 L2489.9 558.7 L2490.9 558.7 L2491.8 558.7 L2492.7 558.4 L2493.6 558.1 L2494.6 557.9 L2495.5 557.8 L2496.4 557.8 L2497.4 557.9 L2498.3 558.1 L2499.2 558.4 L2500.2 558.7 L2501.1 558.8 L2502.0 558.8 L2502.9 558.8 L2503.9 558.6 L2504.8 558.7 L2505.7 558.8 L2506.7 558.7 L2507.6 558.8 L2508.5 558.8 L2509.5 558.7 L2510.4 558.5 L2511.3 558.3 L2512.2 558.3 L2513.2 558.4 L2514.1 558.2 L2515.0 558.0 L2516.0 557.7 L2516.9 557.6 L2517.8 557.5 L2518.7 557.5 L2519.7 557.6 L2520.6 557.7 L2521.5 557.6 L2522.5 557.6 L2523.4 557.5 L2524.3 557.4 L2525.3 557.4 L2526.2 557.2 L2527.1 557.4 L2528.0 557.4 L2529.0 557.5 L2529.9 557.4 L2530.8 557.5 L2531.8 557.2 L2532.7 557.2 L2533.6 557.5 L2534.6 557.5 L2535.5 557.8 L2536.4 557.7 L2537.3 557.6 L2538.3 557.3 L2539.2 557.3 L2540.1 557.3 L2541.1 557.1 L2542.0 557.1 L2542.9 557.2 L2543.9 557.7 L2544.8 557.8 L2545.7 557.6 L2546.6 557.4 L2547.6 557.6 L2548.5 557.6 L2549.4 557.6 L2550.4 557.8 L2551.3 557.5 L2552.2 557.4 L2553.2 557.7 L2554.1 557.9 L2555.0 557.7 L2555.9 557.9 L2556.9 557.8 L2557.8 557.9 L2558.7 558.0 L2559.7 558.1 L2560.6 558.3 L2561.5 558.2 L2562.5 558.1 L2563.4 558.3 L2564.3 558.5 L2565.2 558.5 L2566.2 558.4 L2567.1 558.1 L2568.0 558.1 L2569.0 558.0 L2569.9 557.9 L2570.8 558.2 L2571.7 558.5 L2572.7 558.3 L2573.6 558.5 L2574.5 558.6 L2575.5 558.4 L2576.4 558.6 L2577.3 558.7 L2578.3 558.6 L2579.2 558.6 L2580.1 558.5 L2581.0 558.4 L2582.0 558.6 L2582.9 558.8 L2583.8 558.8 L2584.8 558.8 L2585.7 558.8 L2586.6 558.8 L2587.6 558.8 L2588.5 558.5 L2589.4 558.5 L2590.3 558.7 L2591.3 558.7 L2592.2 558.5 L2593.1 558.4 L2594.1 558.4 L2595.0 558.5 L2595.9 558.4 L2596.9 558.4 L2597.8 558.3 L2598.7 558.5 L2599.6 558.5 L2600.6 558.4 L2601.5 558.1 L2602.4 557.9 L2603.4 558.0 L2604.3 558.0 L2605.2 558.1 L2606.2 557.9 L2607.1 557.9 L2608.0 558.1 L2608.9 558.0 L2609.9 558.2 L2610.8 558.3 L2610.8 575.8 L2277.0 575.8Z" fill="#2f4535"/><path d="M2277.0 522.7 L2277.9 522.6 L2278.9 522.3 L2279.8 522.2 L2280.7 522.4 L2281.6 522.2 L2282.6 522.0 L2283.5 521.8 L2284.4 521.5 L2285.4 521.8 L2286.3 522.1 L2287.2 521.7 L2288.2 521.5 L2289.1 521.4 L2290.0 521.2 L2290.9 521.1 L2291.9 521.1 L2292.8 521.3 L2293.7 520.9 L2294.7 521.0 L2295.6 521.3 L2296.5 521.5 L2297.5 521.1 L2298.4 521.5 L2299.3 521.2 L2300.2 521.0 L2301.2 520.9 L2302.1 520.6 L2303.0 520.0 L2304.0 520.0 L2304.9 520.4 L2305.8 520.0 L2306.8 519.8 L2307.7 520.2 L2308.6 520.4 L2309.5 520.6 L2310.5 520.3 L2311.4 520.6 L2312.3 520.6 L2313.3 521.0 L2314.2 521.0 L2315.1 520.6 L2316.1 520.4 L2317.0 520.6 L2317.9 520.4 L2318.8 520.6 L2319.8 521.1 L2320.7 520.8 L2321.6 520.6 L2322.6 520.7 L2323.5 521.0 L2324.4 521.2 L2325.3 521.3 L2326.3 520.9 L2327.2 520.9 L2328.1 520.9 L2329.1 520.9 L2330.0 521.0 L2330.9 521.1 L2331.9 520.8 L2332.8 520.7 L2333.7 520.6 L2334.6 520.5 L2335.6 520.4 L2336.5 520.7 L2337.4 520.7 L2338.4 520.9 L2339.3 520.6 L2340.2 520.3 L2341.2 520.4 L2342.1 520.3 L2343.0 520.7 L2343.9 520.8 L2344.9 520.8 L2345.8 521.2 L2346.7 521.6 L2347.7 521.7 L2348.6 521.7 L2349.5 521.5 L2350.5 521.6 L2351.4 521.9 L2352.3 521.7 L2353.2 522.0 L2354.2 522.1 L2355.1 521.7 L2356.0 521.6 L2357.0 521.2 L2357.9 520.8 L2358.8 521.2 L2359.8 521.5 L2360.7 521.1 L2361.6 520.7 L2362.5 520.8 L2363.5 521.1 L2364.4 521.1 L2365.3 520.9 L2366.3 521.3 L2367.2 521.7 L2368.1 521.5 L2369.1 521.2 L2370.0 521.3 L2370.9 521.3 L2371.8 521.0 L2372.8 520.7 L2373.7 520.2 L2374.6 520.5 L2375.6 520.4 L2376.5 520.2 L2377.4 520.1 L2378.3 519.7 L2379.3 519.6 L2380.2 519.8 L2381.1 520.2 L2382.1 520.3 L2383.0 520.0 L2383.9 520.0 L2384.9 520.2 L2385.8 520.5 L2386.7 520.7 L2387.6 520.6 L2388.6 520.8 L2389.5 520.5 L2390.4 520.7 L2391.4 520.8 L2392.3 520.4 L2393.2 520.3 L2394.2 520.3 L2395.1 520.3 L2396.0 520.2 L2396.9 520.1 L2397.9 519.9 L2398.8 520.0 L2399.7 519.7 L2400.7 520.1 L2401.6 520.1 L2402.5 520.0 L2403.5 520.1 L2404.4 520.0 L2405.3 520.0 L2406.2 520.2 L2407.2 520.4 L2408.1 520.5 L2409.0 520.1 L2410.0 520.1 L2410.9 519.7 L2411.8 519.3 L2412.8 519.3 L2413.7 519.3 L2414.6 519.4 L2415.5 519.0 L2416.5 518.8 L2417.4 519.2 L2418.3 519.2 L2419.3 519.2 L2420.2 519.5 L2421.1 519.3 L2422.0 519.2 L2423.0 518.8 L2423.9 518.8 L2424.8 518.5 L2425.8 518.7 L2426.7 518.4 L2427.6 518.6 L2428.6 518.8 L2429.5 518.4 L2430.4 518.4 L2431.3 518.8 L2432.3 519.2 L2433.2 519.3 L2434.1 519.9 L2435.1 520.2 L2436.0 519.9 L2436.9 520.0 L2437.9 519.8 L2438.8 519.7 L2439.7 519.5 L2440.6 519.4 L2441.6 519.5 L2442.5 519.1 L2443.4 519.1 L2444.4 519.3 L2445.3 519.4 L2446.2 519.5 L2447.2 519.4 L2448.1 519.4 L2449.0 519.4 L2449.9 519.0 L2450.9 519.3 L2451.8 519.3 L2452.7 518.9 L2453.7 518.6 L2454.6 518.4 L2455.5 518.1 L2456.5 517.8 L2457.4 517.7 L2458.3 517.7 L2459.2 517.7 L2460.2 517.9 L2461.1 517.8 L2462.0 517.9 L2463.0 518.1 L2463.9 517.9 L2464.8 517.9 L2465.8 518.1 L2466.7 518.1 L2467.6 518.2 L2468.5 518.3 L2469.5 518.2 L2470.4 517.8 L2471.3 518.2 L2472.3 518.2 L2473.2 518.3 L2474.1 518.2 L2475.0 518.3 L2476.0 518.6 L2476.9 518.4 L2477.8 518.0 L2478.8 517.6 L2479.7 517.4 L2480.6 516.9 L2481.6 516.6 L2482.5 517.0 L2483.4 516.9 L2484.3 516.9 L2485.3 517.0 L2486.2 517.0 L2487.1 517.7 L2488.1 517.7 L2489.0 517.4 L2489.9 517.7 L2490.9 518.0 L2491.8 517.9 L2492.7 517.3 L2493.6 516.9 L2494.6 516.4 L2495.5 516.7 L2496.4 516.7 L2497.4 516.8 L2498.3 516.8 L2499.2 517.1 L2500.2 517.4 L2501.1 517.2 L2502.0 517.2 L2502.9 517.1 L2503.9 516.8 L2504.8 517.0 L2505.7 517.3 L2506.7 517.3 L2507.6 517.2 L2508.5 517.2 L2509.5 517.4 L2510.4 517.2 L2511.3 516.8 L2512.2 516.9 L2513.2 517.1 L2514.1 517.1 L2515.0 517.0 L2516.0 516.8 L2516.9 516.7 L2517.8 516.5 L2518.7 516.2 L2519.7 516.3 L2520.6 516.4 L2521.5 516.4 L2522.5 516.5 L2523.4 516.6 L2524.3 516.3 L2525.3 516.2 L2526.2 515.9 L2527.1 516.0 L2528.0 516.0 L2529.0 516.0 L2529.9 516.0 L2530.8 516.2 L2531.8 515.9 L2532.7 515.6 L2533.6 515.9 L2534.6 516.1 L2535.5 516.6 L2536.4 516.5 L2537.3 516.3 L2538.3 515.9 L2539.2 516.0 L2540.1 515.9 L2541.1 515.5 L2542.0 515.8 L2542.9 515.9 L2543.9 516.4 L2544.8 516.7 L2545.7 516.6 L2546.6 516.4 L2547.6 516.6 L2548.5 516.3 L2549.4 516.6 L2550.4 516.9 L2551.3 516.6 L2552.2 516.2 L2553.2 516.2 L2554.1 516.4 L2555.0 516.2 L2555.9 516.3 L2556.9 516.4 L2557.8 516.6 L2558.7 516.9 L2559.7 516.6 L2560.6 516.6 L2561.5 516.3 L2562.5 515.9 L2563.4 516.4 L2564.3 516.7 L2565.2 516.7 L2566.2 516.3 L2567.1 516.2 L2568.0 516.2 L2569.0 516.1 L2569.9 515.9 L2570.8 516.1 L2571.7 516.2 L2572.7 515.8 L2573.6 516.3 L2574.5 516.6 L2575.5 516.0 L2576.4 516.1 L2577.3 516.0 L2578.3 516.0 L2579.2 516.3 L2580.1 516.1 L2581.0 516.1 L2582.0 516.3 L2582.9 516.4 L2583.8 515.9 L2584.8 515.7 L2585.7 515.8 L2586.6 516.1 L2587.6 516.0 L2588.5 516.0 L2589.4 516.0 L2590.3 516.3 L2591.3 516.3 L2592.2 515.8 L2593.1 515.5 L2594.1 515.6 L2595.0 515.6 L2595.9 515.4 L2596.9 515.5 L2597.8 515.3 L2598.7 515.5 L2599.6 515.3 L2600.6 515.2 L2601.5 515.0 L2602.4 515.3 L2603.4 515.3 L2604.3 515.1 L2605.2 515.2 L2606.2 514.9 L2607.1 514.9 L2608.0 515.0 L2608.9 514.7 L2609.9 514.8 L2610.8 514.5 L2610.8 558.3 L2609.9 558.2 L2608.9 558.0 L2608.0 558.1 L2607.1 557.9 L2606.2 557.9 L2605.2 558.1 L2604.3 558.0 L2603.4 558.0 L2602.4 557.9 L2601.5 558.1 L2600.6 558.4 L2599.6 558.5 L2598.7 558.5 L2597.8 558.3 L2596.9 558.4 L2595.9 558.4 L2595.0 558.5 L2594.1 558.4 L2593.1 558.4 L2592.2 558.5 L2591.3 558.7 L2590.3 558.7 L2589.4 558.5 L2588.5 558.5 L2587.6 558.8 L2586.6 558.8 L2585.7 558.8 L2584.8 558.8 L2583.8 558.8 L2582.9 558.8 L2582.0 558.6 L2581.0 558.4 L2580.1 558.5 L2579.2 558.6 L2578.3 558.6 L2577.3 558.7 L2576.4 558.6 L2575.5 558.4 L2574.5 558.6 L2573.6 558.5 L2572.7 558.3 L2571.7 558.5 L2570.8 558.2 L2569.9 557.9 L2569.0 558.0 L2568.0 558.1 L2567.1 558.1 L2566.2 558.4 L2565.2 558.5 L2564.3 558.5 L2563.4 558.3 L2562.5 558.1 L2561.5 558.2 L2560.6 558.3 L2559.7 558.1 L2558.7 558.0 L2557.8 557.9 L2556.9 557.8 L2555.9 557.9 L2555.0 557.7 L2554.1 557.9 L2553.2 557.7 L2552.2 557.4 L2551.3 557.5 L2550.4 557.8 L2549.4 557.6 L2548.5 557.6 L2547.6 557.6 L2546.6 557.4 L2545.7 557.6 L2544.8 557.8 L2543.9 557.7 L2542.9 557.2 L2542.0 557.1 L2541.1 557.1 L2540.1 557.3 L2539.2 557.3 L2538.3 557.3 L2537.3 557.6 L2536.4 557.7 L2535.5 557.8 L2534.6 557.5 L2533.6 557.5 L2532.7 557.2 L2531.8 557.2 L2530.8 557.5 L2529.9 557.4 L2529.0 557.5 L2528.0 557.4 L2527.1 557.4 L2526.2 557.2 L2525.3 557.4 L2524.3 557.4 L2523.4 557.5 L2522.5 557.6 L2521.5 557.6 L2520.6 557.7 L2519.7 557.6 L2518.7 557.5 L2517.8 557.5 L2516.9 557.6 L2516.0 557.7 L2515.0 558.0 L2514.1 558.2 L2513.2 558.4 L2512.2 558.3 L2511.3 558.3 L2510.4 558.5 L2509.5 558.7 L2508.5 558.8 L2507.6 558.8 L2506.7 558.7 L2505.7 558.8 L2504.8 558.7 L2503.9 558.6 L2502.9 558.8 L2502.0 558.8 L2501.1 558.8 L2500.2 558.7 L2499.2 558.4 L2498.3 558.1 L2497.4 557.9 L2496.4 557.8 L2495.5 557.8 L2494.6 557.9 L2493.6 558.1 L2492.7 558.4 L2491.8 558.7 L2490.9 558.7 L2489.9 558.7 L2489.0 558.4 L2488.1 558.5 L2487.1 558.3 L2486.2 558.0 L2485.3 558.0 L2484.3 558.1 L2483.4 558.2 L2482.5 558.2 L2481.6 558.0 L2480.6 558.0 L2479.7 558.0 L2478.8 558.4 L2477.8 558.5 L2476.9 558.6 L2476.0 558.8 L2475.0 558.7 L2474.1 558.5 L2473.2 558.2 L2472.3 558.2 L2471.3 558.4 L2470.4 558.1 L2469.5 558.1 L2468.5 558.2 L2467.6 558.0 L2466.7 557.7 L2465.8 557.7 L2464.8 557.5 L2463.9 557.5 L2463.0 557.7 L2462.0 557.6 L2461.1 557.6 L2460.2 557.7 L2459.2 557.6 L2458.3 557.7 L2457.4 557.7 L2456.5 557.7 L2455.5 558.0 L2454.6 558.1 L2453.7 558.5 L2452.7 558.5 L2451.8 558.7 L2450.9 558.8 L2449.9 558.7 L2449.0 558.8 L2448.1 558.8 L2447.2 558.7 L2446.2 558.7 L2445.3 558.8 L2444.4 558.6 L2443.4 558.7 L2442.5 558.7 L2441.6 558.8 L2440.6 558.7 L2439.7 558.7 L2438.8 558.7 L2437.9 558.8 L2436.9 558.8 L2436.0 558.6 L2435.1 558.6 L2434.1 558.3 L2433.2 557.9 L2432.3 557.7 L2431.3 557.4 L2430.4 557.0 L2429.5 556.8 L2428.6 557.0 L2427.6 556.9 L2426.7 556.8 L2425.8 556.9 L2424.8 556.9 L2423.9 557.2 L2423.0 557.4 L2422.0 557.5 L2421.1 557.6 L2420.2 557.7 L2419.3 557.6 L2418.3 557.6 L2417.4 557.7 L2416.5 557.5 L2415.5 557.7 L2414.6 557.6 L2413.7 557.4 L2412.8 557.5 L2411.8 557.6 L2410.9 558.0 L2410.0 558.2 L2409.0 558.4 L2408.1 558.6 L2407.2 558.3 L2406.2 558.2 L2405.3 557.9 L2404.4 558.0 L2403.5 558.1 L2402.5 557.9 L2401.6 557.8 L2400.7 557.9 L2399.7 557.9 L2398.8 558.2 L2397.9 558.2 L2396.9 558.2 L2396.0 558.3 L2395.1 558.2 L2394.2 558.1 L2393.2 558.0 L2392.3 558.0 L2391.4 558.0 L2390.4 557.9 L2389.5 557.9 L2388.6 558.2 L2387.6 558.2 L2386.7 558.2 L2385.8 558.1 L2384.9 558.0 L2383.9 557.7 L2383.0 557.8 L2382.1 558.0 L2381.1 557.8 L2380.2 557.5 L2379.3 557.1 L2378.3 557.0 L2377.4 557.1 L2376.5 557.4 L2375.6 557.5 L2374.6 557.5 L2373.7 557.2 L2372.8 557.4 L2371.8 557.6 L2370.9 557.7 L2370.0 557.8 L2369.1 557.9 L2368.1 558.1 L2367.2 558.5 L2366.3 558.4 L2365.3 558.2 L2364.4 558.4 L2363.5 558.4 L2362.5 558.1 L2361.6 558.2 L2360.7 558.5 L2359.8 558.7 L2358.8 558.5 L2357.9 558.4 L2357.0 558.5 L2356.0 558.6 L2355.1 558.5 L2354.2 558.7 L2353.2 558.4 L2352.3 558.2 L2351.4 558.3 L2350.5 558.1 L2349.5 557.8 L2348.6 558.1 L2347.7 558.3 L2346.7 558.4 L2345.8 558.1 L2344.9 557.9 L2343.9 557.7 L2343.0 557.6 L2342.1 557.2 L2341.2 557.2 L2340.2 557.1 L2339.3 557.2 L2338.4 557.5 L2337.4 557.6 L2336.5 557.6 L2335.6 557.5 L2334.6 557.6 L2333.7 557.6 L2332.8 557.7 L2331.9 557.8 L2330.9 557.9 L2330.0 557.8 L2329.1 557.8 L2328.1 557.8 L2327.2 557.8 L2326.3 557.8 L2325.3 557.9 L2324.4 557.7 L2323.5 557.5 L2322.6 557.3 L2321.6 557.2 L2320.7 557.6 L2319.8 557.8 L2318.8 557.6 L2317.9 557.2 L2317.0 557.4 L2316.1 557.4 L2315.1 557.5 L2314.2 557.7 L2313.3 557.7 L2312.3 557.5 L2311.4 557.4 L2310.5 557.3 L2309.5 557.4 L2308.6 557.4 L2307.7 557.5 L2306.8 557.3 L2305.8 557.4 L2304.9 557.6 L2304.0 557.6 L2303.0 557.6 L2302.1 558.0 L2301.2 558.1 L2300.2 558.1 L2299.3 558.1 L2298.4 558.3 L2297.5 558.0 L2296.5 558.2 L2295.6 558.2 L2294.7 558.1 L2293.7 558.0 L2292.8 558.3 L2291.9 558.1 L2290.9 558.3 L2290.0 558.1 L2289.1 558.2 L2288.2 558.1 L2287.2 558.3 L2286.3 558.3 L2285.4 558.2 L2284.4 558.0 L2283.5 558.1 L2282.6 558.2 L2281.6 558.5 L2280.7 558.6 L2279.8 558.7 L2278.9 558.5 L2277.9 558.7 L2277.0 558.8Z" fill="#50472a"/><path d="M2277.0 486.6 L2277.9 486.5 L2278.9 486.2 L2279.8 486.1 L2280.7 486.2 L2281.6 485.9 L2282.6 485.4 L2283.5 485.3 L2284.4 485.1 L2285.4 485.6 L2286.3 485.9 L2287.2 485.2 L2288.2 485.2 L2289.1 485.0 L2290.0 484.8 L2290.9 484.5 L2291.9 484.3 L2292.8 484.4 L2293.7 484.0 L2294.7 484.5 L2295.6 484.8 L2296.5 484.8 L2297.5 484.3 L2298.4 484.7 L2299.3 484.2 L2300.2 484.2 L2301.2 483.8 L2302.1 483.3 L2303.0 483.0 L2304.0 483.2 L2304.9 483.6 L2305.8 483.1 L2306.8 482.7 L2307.7 483.2 L2308.6 483.6 L2309.5 483.7 L2310.5 483.5 L2311.4 483.7 L2312.3 483.7 L2313.3 483.7 L2314.2 483.5 L2315.1 483.3 L2316.1 482.7 L2317.0 482.7 L2317.9 482.4 L2318.8 482.7 L2319.8 483.5 L2320.7 483.4 L2321.6 483.1 L2322.6 483.2 L2323.5 483.1 L2324.4 483.3 L2325.3 483.4 L2326.3 483.1 L2327.2 483.3 L2328.1 483.5 L2329.1 483.9 L2330.0 483.9 L2330.9 484.3 L2331.9 484.1 L2332.8 483.9 L2333.7 483.7 L2334.6 483.8 L2335.6 483.8 L2336.5 483.8 L2337.4 483.9 L2338.4 483.7 L2339.3 483.5 L2340.2 483.5 L2341.2 483.4 L2342.1 483.2 L2343.0 483.5 L2343.9 483.7 L2344.9 483.5 L2345.8 484.1 L2346.7 484.8 L2347.7 484.9 L2348.6 485.0 L2349.5 484.9 L2350.5 485.1 L2351.4 485.2 L2352.3 484.8 L2353.2 485.1 L2354.2 485.6 L2355.1 485.2 L2356.0 485.1 L2357.0 484.9 L2357.9 484.4 L2358.8 484.8 L2359.8 485.0 L2360.7 484.8 L2361.6 484.4 L2362.5 484.5 L2363.5 485.0 L2364.4 484.9 L2365.3 484.8 L2366.3 485.3 L2367.2 485.5 L2368.1 485.2 L2369.1 485.1 L2370.0 485.1 L2370.9 485.2 L2371.8 484.6 L2372.8 484.5 L2373.7 483.9 L2374.6 484.3 L2375.6 484.0 L2376.5 483.8 L2377.4 483.4 L2378.3 483.0 L2379.3 483.0 L2380.2 483.2 L2381.1 483.8 L2382.1 484.0 L2383.0 483.7 L2383.9 483.5 L2384.9 483.6 L2385.8 484.0 L2386.7 484.4 L2387.6 484.1 L2388.6 484.1 L2389.5 483.8 L2390.4 484.1 L2391.4 484.1 L2392.3 483.8 L2393.2 483.6 L2394.2 484.0 L2395.1 484.2 L2396.0 484.1 L2396.9 484.0 L2397.9 483.8 L2398.8 483.8 L2399.7 483.5 L2400.7 483.9 L2401.6 484.0 L2402.5 483.9 L2403.5 483.7 L2404.4 483.3 L2405.3 483.1 L2406.2 483.4 L2407.2 483.4 L2408.1 483.6 L2409.0 483.5 L2410.0 483.6 L2410.9 482.9 L2411.8 482.2 L2412.8 481.9 L2413.7 482.2 L2414.6 482.5 L2415.5 482.3 L2416.5 482.0 L2417.4 482.4 L2418.3 482.5 L2419.3 482.6 L2420.2 482.8 L2421.1 483.0 L2422.0 483.1 L2423.0 482.7 L2423.9 482.7 L2424.8 482.4 L2425.8 482.4 L2426.7 481.9 L2427.6 482.3 L2428.6 482.5 L2429.5 482.2 L2430.4 482.3 L2431.3 482.6 L2432.3 483.1 L2433.2 483.2 L2434.1 483.8 L2435.1 484.0 L2436.0 483.6 L2436.9 483.8 L2437.9 483.6 L2438.8 483.3 L2439.7 482.8 L2440.6 482.9 L2441.6 483.2 L2442.5 482.7 L2443.4 482.5 L2444.4 482.6 L2445.3 482.9 L2446.2 483.0 L2447.2 482.9 L2448.1 482.9 L2449.0 482.7 L2449.9 482.7 L2450.9 483.1 L2451.8 483.1 L2452.7 482.5 L2453.7 482.2 L2454.6 481.8 L2455.5 481.3 L2456.5 481.3 L2457.4 481.2 L2458.3 481.4 L2459.2 481.3 L2460.2 481.3 L2461.1 481.6 L2462.0 481.6 L2463.0 481.5 L2463.9 481.2 L2464.8 481.4 L2465.8 481.4 L2466.7 481.4 L2467.6 481.2 L2468.5 481.1 L2469.5 481.2 L2470.4 480.8 L2471.3 481.4 L2472.3 481.4 L2473.2 481.1 L2474.1 480.8 L2475.0 480.7 L2476.0 480.9 L2476.9 481.0 L2477.8 480.7 L2478.8 480.3 L2479.7 480.3 L2480.6 479.6 L2481.6 479.3 L2482.5 479.6 L2483.4 479.8 L2484.3 479.8 L2485.3 479.6 L2486.2 479.5 L2487.1 480.3 L2488.1 480.4 L2489.0 480.4 L2489.9 481.0 L2490.9 481.0 L2491.8 481.0 L2492.7 480.2 L2493.6 479.4 L2494.6 478.6 L2495.5 479.0 L2496.4 478.9 L2497.4 479.1 L2498.3 478.9 L2499.2 479.3 L2500.2 479.8 L2501.1 479.6 L2502.0 479.8 L2502.9 479.7 L2503.9 479.0 L2504.8 479.1 L2505.7 479.4 L2506.7 479.6 L2507.6 479.3 L2508.5 479.1 L2509.5 479.5 L2510.4 479.4 L2511.3 479.0 L2512.2 479.1 L2513.2 479.2 L2514.1 479.1 L2515.0 478.9 L2516.0 478.9 L2516.9 478.6 L2517.8 478.4 L2518.7 478.1 L2519.7 477.9 L2520.6 478.2 L2521.5 478.0 L2522.5 478.1 L2523.4 478.1 L2524.3 477.7 L2525.3 477.5 L2526.2 477.3 L2527.1 477.3 L2528.0 477.0 L2529.0 476.7 L2529.9 476.9 L2530.8 476.9 L2531.8 476.4 L2532.7 476.1 L2533.6 476.7 L2534.6 476.8 L2535.5 477.3 L2536.4 477.3 L2537.3 477.3 L2538.3 477.1 L2539.2 477.4 L2540.1 477.4 L2541.1 477.1 L2542.0 477.5 L2542.9 477.5 L2543.9 477.7 L2544.8 477.9 L2545.7 477.7 L2546.6 477.3 L2547.6 477.6 L2548.5 477.4 L2549.4 477.4 L2550.4 477.6 L2551.3 477.7 L2552.2 477.0 L2553.2 477.1 L2554.1 477.2 L2555.0 477.2 L2555.9 477.7 L2556.9 477.7 L2557.8 478.2 L2558.7 478.5 L2559.7 478.3 L2560.6 478.3 L2561.5 478.0 L2562.5 477.4 L2563.4 478.0 L2564.3 478.4 L2565.2 478.5 L2566.2 478.0 L2567.1 477.6 L2568.0 477.6 L2569.0 477.7 L2569.9 477.6 L2570.8 477.5 L2571.7 477.3 L2572.7 476.6 L2573.6 477.2 L2574.5 477.5 L2575.5 476.9 L2576.4 477.0 L2577.3 476.8 L2578.3 476.8 L2579.2 477.2 L2580.1 476.8 L2581.0 476.5 L2582.0 476.8 L2582.9 477.0 L2583.8 476.5 L2584.8 476.3 L2585.7 476.5 L2586.6 476.8 L2587.6 476.3 L2588.5 476.1 L2589.4 475.9 L2590.3 476.0 L2591.3 476.1 L2592.2 476.0 L2593.1 475.8 L2594.1 475.8 L2595.0 475.6 L2595.9 475.3 L2596.9 475.2 L2597.8 474.9 L2598.7 475.0 L2599.6 474.6 L2600.6 474.2 L2601.5 473.9 L2602.4 474.2 L2603.4 474.3 L2604.3 473.9 L2605.2 473.8 L2606.2 473.3 L2607.1 473.5 L2608.0 473.6 L2608.9 473.4 L2609.9 473.6 L2610.8 473.6 L2610.8 514.5 L2609.9 514.8 L2608.9 514.7 L2608.0 515.0 L2607.1 514.9 L2606.2 514.9 L2605.2 515.2 L2604.3 515.1 L2603.4 515.3 L2602.4 515.3 L2601.5 515.0 L2600.6 515.2 L2599.6 515.3 L2598.7 515.5 L2597.8 515.3 L2596.9 515.5 L2595.9 515.4 L2595.0 515.6 L2594.1 515.6 L2593.1 515.5 L2592.2 515.8 L2591.3 516.3 L2590.3 516.3 L2589.4 516.0 L2588.5 516.0 L2587.6 516.0 L2586.6 516.1 L2585.7 515.8 L2584.8 515.7 L2583.8 515.9 L2582.9 516.4 L2582.0 516.3 L2581.0 516.1 L2580.1 516.1 L2579.2 516.3 L2578.3 516.0 L2577.3 516.0 L2576.4 516.1 L2575.5 516.0 L2574.5 516.6 L2573.6 516.3 L2572.7 515.8 L2571.7 516.2 L2570.8 516.1 L2569.9 515.9 L2569.0 516.1 L2568.0 516.2 L2567.1 516.2 L2566.2 516.3 L2565.2 516.7 L2564.3 516.7 L2563.4 516.4 L2562.5 515.9 L2561.5 516.3 L2560.6 516.6 L2559.7 516.6 L2558.7 516.9 L2557.8 516.6 L2556.9 516.4 L2555.9 516.3 L2555.0 516.2 L2554.1 516.4 L2553.2 516.2 L2552.2 516.2 L2551.3 516.6 L2550.4 516.9 L2549.4 516.6 L2548.5 516.3 L2547.6 516.6 L2546.6 516.4 L2545.7 516.6 L2544.8 516.7 L2543.9 516.4 L2542.9 515.9 L2542.0 515.8 L2541.1 515.5 L2540.1 515.9 L2539.2 516.0 L2538.3 515.9 L2537.3 516.3 L2536.4 516.5 L2535.5 516.6 L2534.6 516.1 L2533.6 515.9 L2532.7 515.6 L2531.8 515.9 L2530.8 516.2 L2529.9 516.0 L2529.0 516.0 L2528.0 516.0 L2527.1 516.0 L2526.2 515.9 L2525.3 516.2 L2524.3 516.3 L2523.4 516.6 L2522.5 516.5 L2521.5 516.4 L2520.6 516.4 L2519.7 516.3 L2518.7 516.2 L2517.8 516.5 L2516.9 516.7 L2516.0 516.8 L2515.0 517.0 L2514.1 517.1 L2513.2 517.1 L2512.2 516.9 L2511.3 516.8 L2510.4 517.2 L2509.5 517.4 L2508.5 517.2 L2507.6 517.2 L2506.7 517.3 L2505.7 517.3 L2504.8 517.0 L2503.9 516.8 L2502.9 517.1 L2502.0 517.2 L2501.1 517.2 L2500.2 517.4 L2499.2 517.1 L2498.3 516.8 L2497.4 516.8 L2496.4 516.7 L2495.5 516.7 L2494.6 516.4 L2493.6 516.9 L2492.7 517.3 L2491.8 517.9 L2490.9 518.0 L2489.9 517.7 L2489.0 517.4 L2488.1 517.7 L2487.1 517.7 L2486.2 517.0 L2485.3 517.0 L2484.3 516.9 L2483.4 516.9 L2482.5 517.0 L2481.6 516.6 L2480.6 516.9 L2479.7 517.4 L2478.8 517.6 L2477.8 518.0 L2476.9 518.4 L2476.0 518.6 L2475.0 518.3 L2474.1 518.2 L2473.2 518.3 L2472.3 518.2 L2471.3 518.2 L2470.4 517.8 L2469.5 518.2 L2468.5 518.3 L2467.6 518.2 L2466.7 518.1 L2465.8 518.1 L2464.8 517.9 L2463.9 517.9 L2463.0 518.1 L2462.0 517.9 L2461.1 517.8 L2460.2 517.9 L2459.2 517.7 L2458.3 517.7 L2457.4 517.7 L2456.5 517.8 L2455.5 518.1 L2454.6 518.4 L2453.7 518.6 L2452.7 518.9 L2451.8 519.3 L2450.9 519.3 L2449.9 519.0 L2449.0 519.4 L2448.1 519.4 L2447.2 519.4 L2446.2 519.5 L2445.3 519.4 L2444.4 519.3 L2443.4 519.1 L2442.5 519.1 L2441.6 519.5 L2440.6 519.4 L2439.7 519.5 L2438.8 519.7 L2437.9 519.8 L2436.9 520.0 L2436.0 519.9 L2435.1 520.2 L2434.1 519.9 L2433.2 519.3 L2432.3 519.2 L2431.3 518.8 L2430.4 518.4 L2429.5 518.4 L2428.6 518.8 L2427.6 518.6 L2426.7 518.4 L2425.8 518.7 L2424.8 518.5 L2423.9 518.8 L2423.0 518.8 L2422.0 519.2 L2421.1 519.3 L2420.2 519.5 L2419.3 519.2 L2418.3 519.2 L2417.4 519.2 L2416.5 518.8 L2415.5 519.0 L2414.6 519.4 L2413.7 519.3 L2412.8 519.3 L2411.8 519.3 L2410.9 519.7 L2410.0 520.1 L2409.0 520.1 L2408.1 520.5 L2407.2 520.4 L2406.2 520.2 L2405.3 520.0 L2404.4 520.0 L2403.5 520.1 L2402.5 520.0 L2401.6 520.1 L2400.7 520.1 L2399.7 519.7 L2398.8 520.0 L2397.9 519.9 L2396.9 520.1 L2396.0 520.2 L2395.1 520.3 L2394.2 520.3 L2393.2 520.3 L2392.3 520.4 L2391.4 520.8 L2390.4 520.7 L2389.5 520.5 L2388.6 520.8 L2387.6 520.6 L2386.7 520.7 L2385.8 520.5 L2384.9 520.2 L2383.9 520.0 L2383.0 520.0 L2382.1 520.3 L2381.1 520.2 L2380.2 519.8 L2379.3 519.6 L2378.3 519.7 L2377.4 520.1 L2376.5 520.2 L2375.6 520.4 L2374.6 520.5 L2373.7 520.2 L2372.8 520.7 L2371.8 521.0 L2370.9 521.3 L2370.0 521.3 L2369.1 521.2 L2368.1 521.5 L2367.2 521.7 L2366.3 521.3 L2365.3 520.9 L2364.4 521.1 L2363.5 521.1 L2362.5 520.8 L2361.6 520.7 L2360.7 521.1 L2359.8 521.5 L2358.8 521.2 L2357.9 520.8 L2357.0 521.2 L2356.0 521.6 L2355.1 521.7 L2354.2 522.1 L2353.2 522.0 L2352.3 521.7 L2351.4 521.9 L2350.5 521.6 L2349.5 521.5 L2348.6 521.7 L2347.7 521.7 L2346.7 521.6 L2345.8 521.2 L2344.9 520.8 L2343.9 520.8 L2343.0 520.7 L2342.1 520.3 L2341.2 520.4 L2340.2 520.3 L2339.3 520.6 L2338.4 520.9 L2337.4 520.7 L2336.5 520.7 L2335.6 520.4 L2334.6 520.5 L2333.7 520.6 L2332.8 520.7 L2331.9 520.8 L2330.9 521.1 L2330.0 521.0 L2329.1 520.9 L2328.1 520.9 L2327.2 520.9 L2326.3 520.9 L2325.3 521.3 L2324.4 521.2 L2323.5 521.0 L2322.6 520.7 L2321.6 520.6 L2320.7 520.8 L2319.8 521.1 L2318.8 520.6 L2317.9 520.4 L2317.0 520.6 L2316.1 520.4 L2315.1 520.6 L2314.2 521.0 L2313.3 521.0 L2312.3 520.6 L2311.4 520.6 L2310.5 520.3 L2309.5 520.6 L2308.6 520.4 L2307.7 520.2 L2306.8 519.8 L2305.8 520.0 L2304.9 520.4 L2304.0 520.0 L2303.0 520.0 L2302.1 520.6 L2301.2 520.9 L2300.2 521.0 L2299.3 521.2 L2298.4 521.5 L2297.5 521.1 L2296.5 521.5 L2295.6 521.3 L2294.7 521.0 L2293.7 520.9 L2292.8 521.3 L2291.9 521.1 L2290.9 521.1 L2290.0 521.2 L2289.1 521.4 L2288.2 521.5 L2287.2 521.7 L2286.3 522.1 L2285.4 521.8 L2284.4 521.5 L2283.5 521.8 L2282.6 522.0 L2281.6 522.2 L2280.7 522.4 L2279.8 522.2 L2278.9 522.3 L2277.9 522.6 L2277.0 522.7Z" fill="#273650"/><path d="M2277.0 450.5 L2277.9 450.3 L2278.9 450.1 L2279.8 450.0 L2280.7 449.9 L2281.6 449.4 L2282.6 449.1 L2283.5 448.9 L2284.4 448.5 L2285.4 449.2 L2286.3 449.6 L2287.2 449.1 L2288.2 449.1 L2289.1 448.9 L2290.0 448.7 L2290.9 448.1 L2291.9 447.7 L2292.8 448.1 L2293.7 447.8 L2294.7 448.4 L2295.6 448.5 L2296.5 448.6 L2297.5 448.2 L2298.4 448.6 L2299.3 448.1 L2300.2 447.9 L2301.2 447.5 L2302.1 447.0 L2303.0 446.5 L2304.0 446.8 L2304.9 447.3 L2305.8 446.8 L2306.8 446.5 L2307.7 447.1 L2308.6 447.5 L2309.5 447.6 L2310.5 447.4 L2311.4 447.4 L2312.3 447.6 L2313.3 447.5 L2314.2 447.3 L2315.1 446.9 L2316.1 446.3 L2317.0 446.1 L2317.9 446.0 L2318.8 446.3 L2319.8 447.4 L2320.7 447.1 L2321.6 446.9 L2322.6 447.1 L2323.5 446.9 L2324.4 447.2 L2325.3 447.3 L2326.3 447.0 L2327.2 447.3 L2328.1 447.4 L2329.1 447.7 L2330.0 447.8 L2330.9 448.2 L2331.9 447.9 L2332.8 447.8 L2333.7 447.6 L2334.6 447.6 L2335.6 447.6 L2336.5 447.5 L2337.4 447.6 L2338.4 447.3 L2339.3 447.1 L2340.2 446.8 L2341.2 446.9 L2342.1 446.9 L2343.0 447.3 L2343.9 447.4 L2344.9 447.4 L2345.8 448.0 L2346.7 448.7 L2347.7 448.8 L2348.6 448.5 L2349.5 448.1 L2350.5 448.2 L2351.4 448.4 L2352.3 448.0 L2353.2 448.4 L2354.2 449.1 L2355.1 448.8 L2356.0 448.8 L2357.0 448.3 L2357.9 447.9 L2358.8 447.9 L2359.8 447.7 L2360.7 447.6 L2361.6 447.2 L2362.5 447.1 L2363.5 447.4 L2364.4 447.2 L2365.3 447.4 L2366.3 448.1 L2367.2 448.7 L2368.1 448.5 L2369.1 448.4 L2370.0 448.3 L2370.9 448.5 L2371.8 448.2 L2372.8 448.2 L2373.7 447.4 L2374.6 447.7 L2375.6 447.6 L2376.5 447.4 L2377.4 447.3 L2378.3 446.9 L2379.3 446.9 L2380.2 447.0 L2381.1 447.5 L2382.1 447.9 L2383.0 447.6 L2383.9 447.4 L2384.9 447.3 L2385.8 447.5 L2386.7 447.8 L2387.6 447.5 L2388.6 447.6 L2389.5 447.2 L2390.4 447.6 L2391.4 447.8 L2392.3 447.7 L2393.2 447.5 L2394.2 447.8 L2395.1 447.9 L2396.0 447.7 L2396.9 447.3 L2397.9 447.3 L2398.8 447.2 L2399.7 447.0 L2400.7 447.5 L2401.6 447.7 L2402.5 447.6 L2403.5 447.3 L2404.4 447.2 L2405.3 447.0 L2406.2 447.2 L2407.2 447.0 L2408.1 447.2 L2409.0 447.0 L2410.0 446.9 L2410.9 446.1 L2411.8 445.4 L2412.8 445.0 L2413.7 445.0 L2414.6 445.0 L2415.5 444.6 L2416.5 444.3 L2417.4 444.7 L2418.3 444.9 L2419.3 444.9 L2420.2 445.2 L2421.1 445.4 L2422.0 445.2 L2423.0 444.9 L2423.9 444.6 L2424.8 444.6 L2425.8 444.3 L2426.7 444.0 L2427.6 444.4 L2428.6 444.8 L2429.5 444.7 L2430.4 444.7 L2431.3 445.0 L2432.3 445.3 L2433.2 445.4 L2434.1 445.8 L2435.1 445.9 L2436.0 445.5 L2436.9 446.0 L2437.9 446.3 L2438.8 446.2 L2439.7 445.8 L2440.6 446.2 L2441.6 446.6 L2442.5 446.3 L2443.4 446.0 L2444.4 446.2 L2445.3 446.5 L2446.2 446.3 L2447.2 446.4 L2448.1 446.3 L2449.0 445.8 L2449.9 446.0 L2450.9 446.5 L2451.8 446.3 L2452.7 445.5 L2453.7 445.0 L2454.6 444.7 L2455.5 444.3 L2456.5 444.3 L2457.4 444.2 L2458.3 444.6 L2459.2 444.7 L2460.2 444.6 L2461.1 444.7 L2462.0 444.7 L2463.0 444.9 L2463.9 444.6 L2464.8 444.7 L2465.8 444.7 L2466.7 444.9 L2467.6 444.7 L2468.5 444.7 L2469.5 444.7 L2470.4 444.1 L2471.3 444.6 L2472.3 444.6 L2473.2 443.9 L2474.1 443.3 L2475.0 443.2 L2476.0 443.6 L2476.9 443.7 L2477.8 443.4 L2478.8 443.3 L2479.7 443.0 L2480.6 442.0 L2481.6 441.4 L2482.5 441.6 L2483.4 441.8 L2484.3 441.9 L2485.3 441.9 L2486.2 441.8 L2487.1 442.7 L2488.1 442.8 L2489.0 442.8 L2489.9 443.4 L2490.9 443.4 L2491.8 443.3 L2492.7 442.5 L2493.6 441.5 L2494.6 440.6 L2495.5 440.9 L2496.4 440.8 L2497.4 441.0 L2498.3 440.7 L2499.2 440.8 L2500.2 441.2 L2501.1 441.2 L2502.0 441.1 L2502.9 441.0 L2503.9 440.4 L2504.8 440.4 L2505.7 440.6 L2506.7 441.0 L2507.6 440.7 L2508.5 440.5 L2509.5 440.9 L2510.4 441.0 L2511.3 440.7 L2512.2 440.8 L2513.2 441.2 L2514.1 441.0 L2515.0 440.7 L2516.0 440.7 L2516.9 440.7 L2517.8 440.6 L2518.7 440.2 L2519.7 439.9 L2520.6 440.1 L2521.5 440.1 L2522.5 440.1 L2523.4 440.1 L2524.3 439.6 L2525.3 439.4 L2526.2 439.3 L2527.1 439.1 L2528.0 439.2 L2529.0 439.0 L2529.9 439.2 L2530.8 439.3 L2531.8 438.8 L2532.7 438.5 L2533.6 439.1 L2534.6 439.2 L2535.5 439.4 L2536.4 439.5 L2537.3 439.8 L2538.3 439.7 L2539.2 440.3 L2540.1 440.3 L2541.1 440.4 L2542.0 440.9 L2542.9 441.0 L2543.9 441.2 L2544.8 441.5 L2545.7 441.5 L2546.6 441.2 L2547.6 441.5 L2548.5 441.3 L2549.4 441.2 L2550.4 441.4 L2551.3 441.6 L2552.2 440.9 L2553.2 441.0 L2554.1 440.8 L2555.0 440.6 L2555.9 440.9 L2556.9 440.7 L2557.8 441.1 L2558.7 441.3 L2559.7 441.0 L2560.6 440.9 L2561.5 440.3 L2562.5 440.0 L2563.4 440.4 L2564.3 441.0 L2565.2 441.3 L2566.2 440.9 L2567.1 440.7 L2568.0 440.7 L2569.0 440.5 L2569.9 440.0 L2570.8 439.8 L2571.7 439.7 L2572.7 439.3 L2573.6 440.1 L2574.5 440.6 L2575.5 440.1 L2576.4 440.4 L2577.3 440.2 L2578.3 440.2 L2579.2 440.5 L2580.1 440.1 L2581.0 439.8 L2582.0 440.1 L2582.9 440.3 L2583.8 439.8 L2584.8 439.5 L2585.7 439.7 L2586.6 439.9 L2587.6 439.3 L2588.5 438.9 L2589.4 438.4 L2590.3 438.7 L2591.3 438.9 L2592.2 438.9 L2593.1 438.5 L2594.1 438.6 L2595.0 438.5 L2595.9 438.5 L2596.9 438.4 L2597.8 438.0 L2598.7 437.9 L2599.6 437.5 L2600.6 436.9 L2601.5 436.5 L2602.4 436.9 L2603.4 437.1 L2604.3 436.8 L2605.2 436.5 L2606.2 436.1 L2607.1 436.3 L2608.0 436.3 L2608.9 436.4 L2609.9 436.9 L2610.8 437.1 L2610.8 473.6 L2609.9 473.6 L2608.9 473.4 L2608.0 473.6 L2607.1 473.5 L2606.2 473.3 L2605.2 473.8 L2604.3 473.9 L2603.4 474.3 L2602.4 474.2 L2601.5 473.9 L2600.6 474.2 L2599.6 474.6 L2598.7 475.0 L2597.8 474.9 L2596.9 475.2 L2595.9 475.3 L2595.0 475.6 L2594.1 475.8 L2593.1 475.8 L2592.2 476.0 L2591.3 476.1 L2590.3 476.0 L2589.4 475.9 L2588.5 476.1 L2587.6 476.3 L2586.6 476.8 L2585.7 476.5 L2584.8 476.3 L2583.8 476.5 L2582.9 477.0 L2582.0 476.8 L2581.0 476.5 L2580.1 476.8 L2579.2 477.2 L2578.3 476.8 L2577.3 476.8 L2576.4 477.0 L2575.5 476.9 L2574.5 477.5 L2573.6 477.2 L2572.7 476.6 L2571.7 477.3 L2570.8 477.5 L2569.9 477.6 L2569.0 477.7 L2568.0 477.6 L2567.1 477.6 L2566.2 478.0 L2565.2 478.5 L2564.3 478.4 L2563.4 478.0 L2562.5 477.4 L2561.5 478.0 L2560.6 478.3 L2559.7 478.3 L2558.7 478.5 L2557.8 478.2 L2556.9 477.7 L2555.9 477.7 L2555.0 477.2 L2554.1 477.2 L2553.2 477.1 L2552.2 477.0 L2551.3 477.7 L2550.4 477.6 L2549.4 477.4 L2548.5 477.4 L2547.6 477.6 L2546.6 477.3 L2545.7 477.7 L2544.8 477.9 L2543.9 477.7 L2542.9 477.5 L2542.0 477.5 L2541.1 477.1 L2540.1 477.4 L2539.2 477.4 L2538.3 477.1 L2537.3 477.3 L2536.4 477.3 L2535.5 477.3 L2534.6 476.8 L2533.6 476.7 L2532.7 476.1 L2531.8 476.4 L2530.8 476.9 L2529.9 476.9 L2529.0 476.7 L2528.0 477.0 L2527.1 477.3 L2526.2 477.3 L2525.3 477.5 L2524.3 477.7 L2523.4 478.1 L2522.5 478.1 L2521.5 478.0 L2520.6 478.2 L2519.7 477.9 L2518.7 478.1 L2517.8 478.4 L2516.9 478.6 L2516.0 478.9 L2515.0 478.9 L2514.1 479.1 L2513.2 479.2 L2512.2 479.1 L2511.3 479.0 L2510.4 479.4 L2509.5 479.5 L2508.5 479.1 L2507.6 479.3 L2506.7 479.6 L2505.7 479.4 L2504.8 479.1 L2503.9 479.0 L2502.9 479.7 L2502.0 479.8 L2501.1 479.6 L2500.2 479.8 L2499.2 479.3 L2498.3 478.9 L2497.4 479.1 L2496.4 478.9 L2495.5 479.0 L2494.6 478.6 L2493.6 479.4 L2492.7 480.2 L2491.8 481.0 L2490.9 481.0 L2489.9 481.0 L2489.0 480.4 L2488.1 480.4 L2487.1 480.3 L2486.2 479.5 L2485.3 479.6 L2484.3 479.8 L2483.4 479.8 L2482.5 479.6 L2481.6 479.3 L2480.6 479.6 L2479.7 480.3 L2478.8 480.3 L2477.8 480.7 L2476.9 481.0 L2476.0 480.9 L2475.0 480.7 L2474.1 480.8 L2473.2 481.1 L2472.3 481.4 L2471.3 481.4 L2470.4 480.8 L2469.5 481.2 L2468.5 481.1 L2467.6 481.2 L2466.7 481.4 L2465.8 481.4 L2464.8 481.4 L2463.9 481.2 L2463.0 481.5 L2462.0 481.6 L2461.1 481.6 L2460.2 481.3 L2459.2 481.3 L2458.3 481.4 L2457.4 481.2 L2456.5 481.3 L2455.5 481.3 L2454.6 481.8 L2453.7 482.2 L2452.7 482.5 L2451.8 483.1 L2450.9 483.1 L2449.9 482.7 L2449.0 482.7 L2448.1 482.9 L2447.2 482.9 L2446.2 483.0 L2445.3 482.9 L2444.4 482.6 L2443.4 482.5 L2442.5 482.7 L2441.6 483.2 L2440.6 482.9 L2439.7 482.8 L2438.8 483.3 L2437.9 483.6 L2436.9 483.8 L2436.0 483.6 L2435.1 484.0 L2434.1 483.8 L2433.2 483.2 L2432.3 483.1 L2431.3 482.6 L2430.4 482.3 L2429.5 482.2 L2428.6 482.5 L2427.6 482.3 L2426.7 481.9 L2425.8 482.4 L2424.8 482.4 L2423.9 482.7 L2423.0 482.7 L2422.0 483.1 L2421.1 483.0 L2420.2 482.8 L2419.3 482.6 L2418.3 482.5 L2417.4 482.4 L2416.5 482.0 L2415.5 482.3 L2414.6 482.5 L2413.7 482.2 L2412.8 481.9 L2411.8 482.2 L2410.9 482.9 L2410.0 483.6 L2409.0 483.5 L2408.1 483.6 L2407.2 483.4 L2406.2 483.4 L2405.3 483.1 L2404.4 483.3 L2403.5 483.7 L2402.5 483.9 L2401.6 484.0 L2400.7 483.9 L2399.7 483.5 L2398.8 483.8 L2397.9 483.8 L2396.9 484.0 L2396.0 484.1 L2395.1 484.2 L2394.2 484.0 L2393.2 483.6 L2392.3 483.8 L2391.4 484.1 L2390.4 484.1 L2389.5 483.8 L2388.6 484.1 L2387.6 484.1 L2386.7 484.4 L2385.8 484.0 L2384.9 483.6 L2383.9 483.5 L2383.0 483.7 L2382.1 484.0 L2381.1 483.8 L2380.2 483.2 L2379.3 483.0 L2378.3 483.0 L2377.4 483.4 L2376.5 483.8 L2375.6 484.0 L2374.6 484.3 L2373.7 483.9 L2372.8 484.5 L2371.8 484.6 L2370.9 485.2 L2370.0 485.1 L2369.1 485.1 L2368.1 485.2 L2367.2 485.5 L2366.3 485.3 L2365.3 484.8 L2364.4 484.9 L2363.5 485.0 L2362.5 484.5 L2361.6 484.4 L2360.7 484.8 L2359.8 485.0 L2358.8 484.8 L2357.9 484.4 L2357.0 484.9 L2356.0 485.1 L2355.1 485.2 L2354.2 485.6 L2353.2 485.1 L2352.3 484.8 L2351.4 485.2 L2350.5 485.1 L2349.5 484.9 L2348.6 485.0 L2347.7 484.9 L2346.7 484.8 L2345.8 484.1 L2344.9 483.5 L2343.9 483.7 L2343.0 483.5 L2342.1 483.2 L2341.2 483.4 L2340.2 483.5 L2339.3 483.5 L2338.4 483.7 L2337.4 483.9 L2336.5 483.8 L2335.6 483.8 L2334.6 483.8 L2333.7 483.7 L2332.8 483.9 L2331.9 484.1 L2330.9 484.3 L2330.0 483.9 L2329.1 483.9 L2328.1 483.5 L2327.2 483.3 L2326.3 483.1 L2325.3 483.4 L2324.4 483.3 L2323.5 483.1 L2322.6 483.2 L2321.6 483.1 L2320.7 483.4 L2319.8 483.5 L2318.8 482.7 L2317.9 482.4 L2317.0 482.7 L2316.1 482.7 L2315.1 483.3 L2314.2 483.5 L2313.3 483.7 L2312.3 483.7 L2311.4 483.7 L2310.5 483.5 L2309.5 483.7 L2308.6 483.6 L2307.7 483.2 L2306.8 482.7 L2305.8 483.1 L2304.9 483.6 L2304.0 483.2 L2303.0 483.0 L2302.1 483.3 L2301.2 483.8 L2300.2 484.2 L2299.3 484.2 L2298.4 484.7 L2297.5 484.3 L2296.5 484.8 L2295.6 484.8 L2294.7 484.5 L2293.7 484.0 L2292.8 484.4 L2291.9 484.3 L2290.9 484.5 L2290.0 484.8 L2289.1 485.0 L2288.2 485.2 L2287.2 485.2 L2286.3 485.9 L2285.4 485.6 L2284.4 485.1 L2283.5 485.3 L2282.6 485.4 L2281.6 485.9 L2280.7 486.2 L2279.8 486.1 L2278.9 486.2 L2277.9 486.5 L2277.0 486.6Z" fill="#54382a"/><path d="M2277.0 414.4 L2277.9 413.9 L2278.9 413.4 L2279.8 413.4 L2280.7 413.2 L2281.6 412.7 L2282.6 412.6 L2283.5 412.7 L2284.4 412.4 L2285.4 413.1 L2286.3 413.5 L2287.2 413.0 L2288.2 412.8 L2289.1 412.5 L2290.0 412.2 L2290.9 411.6 L2291.9 411.1 L2292.8 411.7 L2293.7 411.6 L2294.7 412.3 L2295.6 412.4 L2296.5 412.3 L2297.5 411.7 L2298.4 412.0 L2299.3 411.3 L2300.2 411.1 L2301.2 410.5 L2302.1 410.1 L2303.0 409.2 L2304.0 409.8 L2304.9 410.1 L2305.8 409.5 L2306.8 409.1 L2307.7 409.4 L2308.6 409.7 L2309.5 409.8 L2310.5 409.3 L2311.4 409.5 L2312.3 409.7 L2313.3 409.4 L2314.2 409.1 L2315.1 408.7 L2316.1 408.1 L2317.0 408.1 L2317.9 407.9 L2318.8 408.0 L2319.8 408.8 L2320.7 408.9 L2321.6 408.6 L2322.6 408.7 L2323.5 408.7 L2324.4 409.0 L2325.3 409.4 L2326.3 409.1 L2327.2 409.3 L2328.1 409.5 L2329.1 410.0 L2330.0 410.2 L2330.9 410.6 L2331.9 410.2 L2332.8 410.0 L2333.7 410.0 L2334.6 410.2 L2335.6 410.3 L2336.5 410.3 L2337.4 410.1 L2338.4 409.5 L2339.3 409.4 L2340.2 409.4 L2341.2 409.5 L2342.1 409.4 L2343.0 409.8 L2343.9 410.0 L2344.9 409.9 L2345.8 410.3 L2346.7 410.8 L2347.7 410.9 L2348.6 410.4 L2349.5 410.2 L2350.5 410.4 L2351.4 410.6 L2352.3 410.0 L2353.2 410.1 L2354.2 410.9 L2355.1 410.5 L2356.0 410.4 L2357.0 409.8 L2357.9 409.3 L2358.8 409.4 L2359.8 409.2 L2360.7 409.3 L2361.6 409.0 L2362.5 408.7 L2363.5 409.1 L2364.4 409.1 L2365.3 409.5 L2366.3 410.0 L2367.2 410.4 L2368.1 410.1 L2369.1 410.0 L2370.0 410.0 L2370.9 410.4 L2371.8 410.2 L2372.8 410.5 L2373.7 410.1 L2374.6 410.3 L2375.6 410.2 L2376.5 410.0 L2377.4 409.8 L2378.3 409.3 L2379.3 409.3 L2380.2 409.2 L2381.1 409.6 L2382.1 409.9 L2383.0 409.6 L2383.9 409.5 L2384.9 409.1 L2385.8 409.4 L2386.7 409.5 L2387.6 409.1 L2388.6 408.9 L2389.5 408.6 L2390.4 409.1 L2391.4 409.3 L2392.3 409.1 L2393.2 409.0 L2394.2 409.4 L2395.1 409.6 L2396.0 409.6 L2396.9 409.3 L2397.9 409.3 L2398.8 409.6 L2399.7 409.2 L2400.7 409.8 L2401.6 410.4 L2402.5 410.5 L2403.5 410.1 L2404.4 410.2 L2405.3 410.3 L2406.2 410.9 L2407.2 410.7 L2408.1 411.0 L2409.0 410.7 L2410.0 410.7 L2410.9 409.9 L2411.8 409.2 L2412.8 408.8 L2413.7 408.7 L2414.6 408.4 L2415.5 407.7 L2416.5 407.5 L2417.4 407.9 L2418.3 408.2 L2419.3 408.1 L2420.2 408.2 L2421.1 408.4 L2422.0 408.0 L2423.0 407.7 L2423.9 407.6 L2424.8 407.5 L2425.8 407.3 L2426.7 407.3 L2427.6 407.8 L2428.6 408.3 L2429.5 408.3 L2430.4 408.4 L2431.3 408.6 L2432.3 408.9 L2433.2 408.7 L2434.1 408.9 L2435.1 408.9 L2436.0 408.9 L2436.9 409.5 L2437.9 409.9 L2438.8 409.8 L2439.7 409.2 L2440.6 409.7 L2441.6 410.0 L2442.5 409.4 L2443.4 409.1 L2444.4 409.2 L2445.3 409.7 L2446.2 409.5 L2447.2 409.8 L2448.1 409.3 L2449.0 408.6 L2449.9 408.6 L2450.9 408.9 L2451.8 408.6 L2452.7 407.6 L2453.7 406.8 L2454.6 406.4 L2455.5 406.2 L2456.5 406.3 L2457.4 406.2 L2458.3 406.9 L2459.2 406.9 L2460.2 406.9 L2461.1 407.2 L2462.0 407.0 L2463.0 406.9 L2463.9 406.5 L2464.8 406.5 L2465.8 406.5 L2466.7 406.6 L2467.6 406.3 L2468.5 406.3 L2469.5 406.5 L2470.4 406.0 L2471.3 406.3 L2472.3 406.1 L2473.2 405.4 L2474.1 405.1 L2475.0 405.2 L2476.0 405.4 L2476.9 405.3 L2477.8 405.2 L2478.8 404.9 L2479.7 404.7 L2480.6 403.4 L2481.6 402.8 L2482.5 402.8 L2483.4 403.4 L2484.3 403.6 L2485.3 403.9 L2486.2 403.9 L2487.1 404.4 L2488.1 404.2 L2489.0 404.0 L2489.9 404.6 L2490.9 404.8 L2491.8 405.0 L2492.7 404.4 L2493.6 403.6 L2494.6 402.6 L2495.5 403.0 L2496.4 403.1 L2497.4 403.6 L2498.3 403.7 L2499.2 403.7 L2500.2 404.2 L2501.1 404.2 L2502.0 404.1 L2502.9 404.1 L2503.9 403.4 L2504.8 403.1 L2505.7 403.2 L2506.7 403.6 L2507.6 403.8 L2508.5 403.8 L2509.5 404.3 L2510.4 404.6 L2511.3 404.2 L2512.2 404.1 L2513.2 404.4 L2514.1 404.2 L2515.0 403.8 L2516.0 403.7 L2516.9 403.6 L2517.8 403.5 L2518.7 402.9 L2519.7 402.6 L2520.6 402.9 L2521.5 402.9 L2522.5 402.9 L2523.4 402.9 L2524.3 402.3 L2525.3 401.9 L2526.2 402.1 L2527.1 402.0 L2528.0 402.0 L2529.0 401.5 L2529.9 401.5 L2530.8 401.2 L2531.8 400.4 L2532.7 399.9 L2533.6 400.2 L2534.6 400.3 L2535.5 400.6 L2536.4 400.9 L2537.3 401.3 L2538.3 401.2 L2539.2 401.7 L2540.1 401.6 L2541.1 401.7 L2542.0 402.3 L2542.9 402.3 L2543.9 402.7 L2544.8 403.4 L2545.7 403.1 L2546.6 403.0 L2547.6 403.5 L2548.5 403.3 L2549.4 403.2 L2550.4 403.5 L2551.3 403.8 L2552.2 402.7 L2553.2 402.6 L2554.1 402.6 L2555.0 402.1 L2555.9 402.4 L2556.9 401.8 L2557.8 402.1 L2558.7 402.5 L2559.7 402.2 L2560.6 402.0 L2561.5 401.6 L2562.5 401.7 L2563.4 402.2 L2564.3 402.8 L2565.2 403.3 L2566.2 403.1 L2567.1 403.0 L2568.0 403.3 L2569.0 403.4 L2569.9 402.6 L2570.8 402.4 L2571.7 402.1 L2572.7 401.7 L2573.6 402.2 L2574.5 402.8 L2575.5 402.5 L2576.4 402.7 L2577.3 402.4 L2578.3 402.6 L2579.2 402.9 L2580.1 402.4 L2581.0 402.1 L2582.0 402.4 L2582.9 402.7 L2583.8 401.9 L2584.8 401.3 L2585.7 401.2 L2586.6 401.1 L2587.6 400.5 L2588.5 400.2 L2589.4 399.9 L2590.3 399.9 L2591.3 400.1 L2592.2 400.0 L2593.1 399.7 L2594.1 399.8 L2595.0 399.8 L2595.9 400.0 L2596.9 400.0 L2597.8 399.8 L2598.7 399.8 L2599.6 399.1 L2600.6 398.4 L2601.5 398.1 L2602.4 398.3 L2603.4 398.4 L2604.3 398.2 L2605.2 398.1 L2606.2 397.5 L2607.1 397.4 L2608.0 397.2 L2608.9 397.7 L2609.9 398.6 L2610.8 398.8 L2610.8 437.1 L2609.9 436.9 L2608.9 436.4 L2608.0 436.3 L2607.1 436.3 L2606.2 436.1 L2605.2 436.5 L2604.3 436.8 L2603.4 437.1 L2602.4 436.9 L2601.5 436.5 L2600.6 436.9 L2599.6 437.5 L2598.7 437.9 L2597.8 438.0 L2596.9 438.4 L2595.9 438.5 L2595.0 438.5 L2594.1 438.6 L2593.1 438.5 L2592.2 438.9 L2591.3 438.9 L2590.3 438.7 L2589.4 438.4 L2588.5 438.9 L2587.6 439.3 L2586.6 439.9 L2585.7 439.7 L2584.8 439.5 L2583.8 439.8 L2582.9 440.3 L2582.0 440.1 L2581.0 439.8 L2580.1 440.1 L2579.2 440.5 L2578.3 440.2 L2577.3 440.2 L2576.4 440.4 L2575.5 440.1 L2574.5 440.6 L2573.6 440.1 L2572.7 439.3 L2571.7 439.7 L2570.8 439.8 L2569.9 440.0 L2569.0 440.5 L2568.0 440.7 L2567.1 440.7 L2566.2 440.9 L2565.2 441.3 L2564.3 441.0 L2563.4 440.4 L2562.5 440.0 L2561.5 440.3 L2560.6 440.9 L2559.7 441.0 L2558.7 441.3 L2557.8 441.1 L2556.9 440.7 L2555.9 440.9 L2555.0 440.6 L2554.1 440.8 L2553.2 441.0 L2552.2 440.9 L2551.3 441.6 L2550.4 441.4 L2549.4 441.2 L2548.5 441.3 L2547.6 441.5 L2546.6 441.2 L2545.7 441.5 L2544.8 441.5 L2543.9 441.2 L2542.9 441.0 L2542.0 440.9 L2541.1 440.4 L2540.1 440.3 L2539.2 440.3 L2538.3 439.7 L2537.3 439.8 L2536.4 439.5 L2535.5 439.4 L2534.6 439.2 L2533.6 439.1 L2532.7 438.5 L2531.8 438.8 L2530.8 439.3 L2529.9 439.2 L2529.0 439.0 L2528.0 439.2 L2527.1 439.1 L2526.2 439.3 L2525.3 439.4 L2524.3 439.6 L2523.4 440.1 L2522.5 440.1 L2521.5 440.1 L2520.6 440.1 L2519.7 439.9 L2518.7 440.2 L2517.8 440.6 L2516.9 440.7 L2516.0 440.7 L2515.0 440.7 L2514.1 441.0 L2513.2 441.2 L2512.2 440.8 L2511.3 440.7 L2510.4 441.0 L2509.5 440.9 L2508.5 440.5 L2507.6 440.7 L2506.7 441.0 L2505.7 440.6 L2504.8 440.4 L2503.9 440.4 L2502.9 441.0 L2502.0 441.1 L2501.1 441.2 L2500.2 441.2 L2499.2 440.8 L2498.3 440.7 L2497.4 441.0 L2496.4 440.8 L2495.5 440.9 L2494.6 440.6 L2493.6 441.5 L2492.7 442.5 L2491.8 443.3 L2490.9 443.4 L2489.9 443.4 L2489.0 442.8 L2488.1 442.8 L2487.1 442.7 L2486.2 441.8 L2485.3 441.9 L2484.3 441.9 L2483.4 441.8 L2482.5 441.6 L2481.6 441.4 L2480.6 442.0 L2479.7 443.0 L2478.8 443.3 L2477.8 443.4 L2476.9 443.7 L2476.0 443.6 L2475.0 443.2 L2474.1 443.3 L2473.2 443.9 L2472.3 444.6 L2471.3 444.6 L2470.4 444.1 L2469.5 444.7 L2468.5 444.7 L2467.6 444.7 L2466.7 444.9 L2465.8 444.7 L2464.8 444.7 L2463.9 444.6 L2463.0 444.9 L2462.0 444.7 L2461.1 444.7 L2460.2 444.6 L2459.2 444.7 L2458.3 444.6 L2457.4 444.2 L2456.5 444.3 L2455.5 444.3 L2454.6 444.7 L2453.7 445.0 L2452.7 445.5 L2451.8 446.3 L2450.9 446.5 L2449.9 446.0 L2449.0 445.8 L2448.1 446.3 L2447.2 446.4 L2446.2 446.3 L2445.3 446.5 L2444.4 446.2 L2443.4 446.0 L2442.5 446.3 L2441.6 446.6 L2440.6 446.2 L2439.7 445.8 L2438.8 446.2 L2437.9 446.3 L2436.9 446.0 L2436.0 445.5 L2435.1 445.9 L2434.1 445.8 L2433.2 445.4 L2432.3 445.3 L2431.3 445.0 L2430.4 444.7 L2429.5 444.7 L2428.6 444.8 L2427.6 444.4 L2426.7 444.0 L2425.8 444.3 L2424.8 444.6 L2423.9 444.6 L2423.0 444.9 L2422.0 445.2 L2421.1 445.4 L2420.2 445.2 L2419.3 444.9 L2418.3 444.9 L2417.4 444.7 L2416.5 444.3 L2415.5 444.6 L2414.6 445.0 L2413.7 445.0 L2412.8 445.0 L2411.8 445.4 L2410.9 446.1 L2410.0 446.9 L2409.0 447.0 L2408.1 447.2 L2407.2 447.0 L2406.2 447.2 L2405.3 447.0 L2404.4 447.2 L2403.5 447.3 L2402.5 447.6 L2401.6 447.7 L2400.7 447.5 L2399.7 447.0 L2398.8 447.2 L2397.9 447.3 L2396.9 447.3 L2396.0 447.7 L2395.1 447.9 L2394.2 447.8 L2393.2 447.5 L2392.3 447.7 L2391.4 447.8 L2390.4 447.6 L2389.5 447.2 L2388.6 447.6 L2387.6 447.5 L2386.7 447.8 L2385.8 447.5 L2384.9 447.3 L2383.9 447.4 L2383.0 447.6 L2382.1 447.9 L2381.1 447.5 L2380.2 447.0 L2379.3 446.9 L2378.3 446.9 L2377.4 447.3 L2376.5 447.4 L2375.6 447.6 L2374.6 447.7 L2373.7 447.4 L2372.8 448.2 L2371.8 448.2 L2370.9 448.5 L2370.0 448.3 L2369.1 448.4 L2368.1 448.5 L2367.2 448.7 L2366.3 448.1 L2365.3 447.4 L2364.4 447.2 L2363.5 447.4 L2362.5 447.1 L2361.6 447.2 L2360.7 447.6 L2359.8 447.7 L2358.8 447.9 L2357.9 447.9 L2357.0 448.3 L2356.0 448.8 L2355.1 448.8 L2354.2 449.1 L2353.2 448.4 L2352.3 448.0 L2351.4 448.4 L2350.5 448.2 L2349.5 448.1 L2348.6 448.5 L2347.7 448.8 L2346.7 448.7 L2345.8 448.0 L2344.9 447.4 L2343.9 447.4 L2343.0 447.3 L2342.1 446.9 L2341.2 446.9 L2340.2 446.8 L2339.3 447.1 L2338.4 447.3 L2337.4 447.6 L2336.5 447.5 L2335.6 447.6 L2334.6 447.6 L2333.7 447.6 L2332.8 447.8 L2331.9 447.9 L2330.9 448.2 L2330.0 447.8 L2329.1 447.7 L2328.1 447.4 L2327.2 447.3 L2326.3 447.0 L2325.3 447.3 L2324.4 447.2 L2323.5 446.9 L2322.6 447.1 L2321.6 446.9 L2320.7 447.1 L2319.8 447.4 L2318.8 446.3 L2317.9 446.0 L2317.0 446.1 L2316.1 446.3 L2315.1 446.9 L2314.2 447.3 L2313.3 447.5 L2312.3 447.6 L2311.4 447.4 L2310.5 447.4 L2309.5 447.6 L2308.6 447.5 L2307.7 447.1 L2306.8 446.5 L2305.8 446.8 L2304.9 447.3 L2304.0 446.8 L2303.0 446.5 L2302.1 447.0 L2301.2 447.5 L2300.2 447.9 L2299.3 448.1 L2298.4 448.6 L2297.5 448.2 L2296.5 448.6 L2295.6 448.5 L2294.7 448.4 L2293.7 447.8 L2292.8 448.1 L2291.9 447.7 L2290.9 448.1 L2290.0 448.7 L2289.1 448.9 L2288.2 449.1 L2287.2 449.1 L2286.3 449.6 L2285.4 449.2 L2284.4 448.5 L2283.5 448.9 L2282.6 449.1 L2281.6 449.4 L2280.7 449.9 L2279.8 450.0 L2278.9 450.1 L2277.9 450.3 L2277.0 450.5Z" fill="#4f2530"/><path d="M2277.0 558.8 L2277.9 558.7 L2278.9 558.5 L2279.8 558.7 L2280.7 558.6 L2281.6 558.5 L2282.6 558.2 L2283.5 558.1 L2284.4 558.0 L2285.4 558.2 L2286.3 558.3 L2287.2 558.3 L2288.2 558.1 L2289.1 558.2 L2290.0 558.1 L2290.9 558.3 L2291.9 558.1 L2292.8 558.3 L2293.7 558.0 L2294.7 558.1 L2295.6 558.2 L2296.5 558.2 L2297.5 558.0 L2298.4 558.3 L2299.3 558.1 L2300.2 558.1 L2301.2 558.1 L2302.1 558.0 L2303.0 557.6 L2304.0 557.6 L2304.9 557.6 L2305.8 557.4 L2306.8 557.3 L2307.7 557.5 L2308.6 557.4 L2309.5 557.4 L2310.5 557.3 L2311.4 557.4 L2312.3 557.5 L2313.3 557.7 L2314.2 557.7 L2315.1 557.5 L2316.1 557.4 L2317.0 557.4 L2317.9 557.2 L2318.8 557.6 L2319.8 557.8 L2320.7 557.6 L2321.6 557.2 L2322.6 557.3 L2323.5 557.5 L2324.4 557.7 L2325.3 557.9 L2326.3 557.8 L2327.2 557.8 L2328.1 557.8 L2329.1 557.8 L2330.0 557.8 L2330.9 557.9 L2331.9 557.8 L2332.8 557.7 L2333.7 557.6 L2334.6 557.6 L2335.6 557.5 L2336.5 557.6 L2337.4 557.6 L2338.4 557.5 L2339.3 557.2 L2340.2 557.1 L2341.2 557.2 L2342.1 557.2 L2343.0 557.6 L2343.9 557.7 L2344.9 557.9 L2345.8 558.1 L2346.7 558.4 L2347.7 558.3 L2348.6 558.1 L2349.5 557.8 L2350.5 558.1 L2351.4 558.3 L2352.3 558.2 L2353.2 558.4 L2354.2 558.7 L2355.1 558.5 L2356.0 558.6 L2357.0 558.5 L2357.9 558.4 L2358.8 558.5 L2359.8 558.7 L2360.7 558.5 L2361.6 558.2 L2362.5 558.1 L2363.5 558.4 L2364.4 558.4 L2365.3 558.2 L2366.3 558.4 L2367.2 558.5 L2368.1 558.1 L2369.1 557.9 L2370.0 557.8 L2370.9 557.7 L2371.8 557.6 L2372.8 557.4 L2373.7 557.2 L2374.6 557.5 L2375.6 557.5 L2376.5 557.4 L2377.4 557.1 L2378.3 557.0 L2379.3 557.1 L2380.2 557.5 L2381.1 557.8 L2382.1 558.0 L2383.0 557.8 L2383.9 557.7 L2384.9 558.0 L2385.8 558.1 L2386.7 558.2 L2387.6 558.2 L2388.6 558.2 L2389.5 557.9 L2390.4 557.9 L2391.4 558.0 L2392.3 558.0 L2393.2 558.0 L2394.2 558.1 L2395.1 558.2 L2396.0 558.3 L2396.9 558.2 L2397.9 558.2 L2398.8 558.2 L2399.7 557.9 L2400.7 557.9 L2401.6 557.8 L2402.5 557.9 L2403.5 558.1 L2404.4 558.0 L2405.3 557.9 L2406.2 558.2 L2407.2 558.3 L2408.1 558.6 L2409.0 558.4 L2410.0 558.2 L2410.9 558.0 L2411.8 557.6 L2412.8 557.5 L2413.7 557.4 L2414.6 557.6 L2415.5 557.7 L2416.5 557.5 L2417.4 557.7 L2418.3 557.6 L2419.3 557.6 L2420.2 557.7 L2421.1 557.6 L2422.0 557.5 L2423.0 557.4 L2423.9 557.2 L2424.8 556.9 L2425.8 556.9 L2426.7 556.8 L2427.6 556.9 L2428.6 557.0 L2429.5 556.8 L2430.4 557.0 L2431.3 557.4 L2432.3 557.7 L2433.2 557.9 L2434.1 558.3 L2435.1 558.6 L2436.0 558.6 L2436.9 558.8 L2437.9 558.8 L2438.8 558.7 L2439.7 558.7 L2440.6 558.7 L2441.6 558.8 L2442.5 558.7 L2443.4 558.7 L2444.4 558.6 L2445.3 558.8 L2446.2 558.7 L2447.2 558.7 L2448.1 558.8 L2449.0 558.8 L2449.9 558.7 L2450.9 558.8 L2451.8 558.7 L2452.7 558.5 L2453.7 558.5 L2454.6 558.1 L2455.5 558.0 L2456.5 557.7 L2457.4 557.7 L2458.3 557.7 L2459.2 557.6 L2460.2 557.7 L2461.1 557.6 L2462.0 557.6 L2463.0 557.7 L2463.9 557.5 L2464.8 557.5 L2465.8 557.7 L2466.7 557.7 L2467.6 558.0 L2468.5 558.2 L2469.5 558.1 L2470.4 558.1 L2471.3 558.4 L2472.3 558.2 L2473.2 558.2 L2474.1 558.5 L2475.0 558.7 L2476.0 558.8 L2476.9 558.6 L2477.8 558.5 L2478.8 558.4 L2479.7 558.0 L2480.6 558.0 L2481.6 558.0 L2482.5 558.2 L2483.4 558.2 L2484.3 558.1 L2485.3 558.0 L2486.2 558.0 L2487.1 558.3 L2488.1 558.5 L2489.0 558.4 L2489.9 558.7 L2490.9 558.7 L2491.8 558.7 L2492.7 558.4 L2493.6 558.1 L2494.6 557.9 L2495.5 557.8 L2496.4 557.8 L2497.4 557.9 L2498.3 558.1 L2499.2 558.4 L2500.2 558.7 L2501.1 558.8 L2502.0 558.8 L2502.9 558.8 L2503.9 558.6 L2504.8 558.7 L2505.7 558.8 L2506.7 558.7 L2507.6 558.8 L2508.5 558.8 L2509.5 558.7 L2510.4 558.5 L2511.3 558.3 L2512.2 558.3 L2513.2 558.4 L2514.1 558.2 L2515.0 558.0 L2516.0 557.7 L2516.9 557.6 L2517.8 557.5 L2518.7 557.5 L2519.7 557.6 L2520.6 557.7 L2521.5 557.6 L2522.5 557.6 L2523.4 557.5 L2524.3 557.4 L2525.3 557.4 L2526.2 557.2 L2527.1 557.4 L2528.0 557.4 L2529.0 557.5 L2529.9 557.4 L2530.8 557.5 L2531.8 557.2 L2532.7 557.2 L2533.6 557.5 L2534.6 557.5 L2535.5 557.8 L2536.4 557.7 L2537.3 557.6 L2538.3 557.3 L2539.2 557.3 L2540.1 557.3 L2541.1 557.1 L2542.0 557.1 L2542.9 557.2 L2543.9 557.7 L2544.8 557.8 L2545.7 557.6 L2546.6 557.4 L2547.6 557.6 L2548.5 557.6 L2549.4 557.6 L2550.4 557.8 L2551.3 557.5 L2552.2 557.4 L2553.2 557.7 L2554.1 557.9 L2555.0 557.7 L2555.9 557.9 L2556.9 557.8 L2557.8 557.9 L2558.7 558.0 L2559.7 558.1 L2560.6 558.3 L2561.5 558.2 L2562.5 558.1 L2563.4 558.3 L2564.3 558.5 L2565.2 558.5 L2566.2 558.4 L2567.1 558.1 L2568.0 558.1 L2569.0 558.0 L2569.9 557.9 L2570.8 558.2 L2571.7 558.5 L2572.7 558.3 L2573.6 558.5 L2574.5 558.6 L2575.5 558.4 L2576.4 558.6 L2577.3 558.7 L2578.3 558.6 L2579.2 558.6 L2580.1 558.5 L2581.0 558.4 L2582.0 558.6 L2582.9 558.8 L2583.8 558.8 L2584.8 558.8 L2585.7 558.8 L2586.6 558.8 L2587.6 558.8 L2588.5 558.5 L2589.4 558.5 L2590.3 558.7 L2591.3 558.7 L2592.2 558.5 L2593.1 558.4 L2594.1 558.4 L2595.0 558.5 L2595.9 558.4 L2596.9 558.4 L2597.8 558.3 L2598.7 558.5 L2599.6 558.5 L2600.6 558.4 L2601.5 558.1 L2602.4 557.9 L2603.4 558.0 L2604.3 558.0 L2605.2 558.1 L2606.2 557.9 L2607.1 557.9 L2608.0 558.1 L2608.9 558.0 L2609.9 558.2 L2610.8 558.3" fill="none" stroke="#73bf69" stroke-width="1.9" stroke-linejoin="round"/><path d="M2277.0 522.7 L2277.9 522.6 L2278.9 522.3 L2279.8 522.2 L2280.7 522.4 L2281.6 522.2 L2282.6 522.0 L2283.5 521.8 L2284.4 521.5 L2285.4 521.8 L2286.3 522.1 L2287.2 521.7 L2288.2 521.5 L2289.1 521.4 L2290.0 521.2 L2290.9 521.1 L2291.9 521.1 L2292.8 521.3 L2293.7 520.9 L2294.7 521.0 L2295.6 521.3 L2296.5 521.5 L2297.5 521.1 L2298.4 521.5 L2299.3 521.2 L2300.2 521.0 L2301.2 520.9 L2302.1 520.6 L2303.0 520.0 L2304.0 520.0 L2304.9 520.4 L2305.8 520.0 L2306.8 519.8 L2307.7 520.2 L2308.6 520.4 L2309.5 520.6 L2310.5 520.3 L2311.4 520.6 L2312.3 520.6 L2313.3 521.0 L2314.2 521.0 L2315.1 520.6 L2316.1 520.4 L2317.0 520.6 L2317.9 520.4 L2318.8 520.6 L2319.8 521.1 L2320.7 520.8 L2321.6 520.6 L2322.6 520.7 L2323.5 521.0 L2324.4 521.2 L2325.3 521.3 L2326.3 520.9 L2327.2 520.9 L2328.1 520.9 L2329.1 520.9 L2330.0 521.0 L2330.9 521.1 L2331.9 520.8 L2332.8 520.7 L2333.7 520.6 L2334.6 520.5 L2335.6 520.4 L2336.5 520.7 L2337.4 520.7 L2338.4 520.9 L2339.3 520.6 L2340.2 520.3 L2341.2 520.4 L2342.1 520.3 L2343.0 520.7 L2343.9 520.8 L2344.9 520.8 L2345.8 521.2 L2346.7 521.6 L2347.7 521.7 L2348.6 521.7 L2349.5 521.5 L2350.5 521.6 L2351.4 521.9 L2352.3 521.7 L2353.2 522.0 L2354.2 522.1 L2355.1 521.7 L2356.0 521.6 L2357.0 521.2 L2357.9 520.8 L2358.8 521.2 L2359.8 521.5 L2360.7 521.1 L2361.6 520.7 L2362.5 520.8 L2363.5 521.1 L2364.4 521.1 L2365.3 520.9 L2366.3 521.3 L2367.2 521.7 L2368.1 521.5 L2369.1 521.2 L2370.0 521.3 L2370.9 521.3 L2371.8 521.0 L2372.8 520.7 L2373.7 520.2 L2374.6 520.5 L2375.6 520.4 L2376.5 520.2 L2377.4 520.1 L2378.3 519.7 L2379.3 519.6 L2380.2 519.8 L2381.1 520.2 L2382.1 520.3 L2383.0 520.0 L2383.9 520.0 L2384.9 520.2 L2385.8 520.5 L2386.7 520.7 L2387.6 520.6 L2388.6 520.8 L2389.5 520.5 L2390.4 520.7 L2391.4 520.8 L2392.3 520.4 L2393.2 520.3 L2394.2 520.3 L2395.1 520.3 L2396.0 520.2 L2396.9 520.1 L2397.9 519.9 L2398.8 520.0 L2399.7 519.7 L2400.7 520.1 L2401.6 520.1 L2402.5 520.0 L2403.5 520.1 L2404.4 520.0 L2405.3 520.0 L2406.2 520.2 L2407.2 520.4 L2408.1 520.5 L2409.0 520.1 L2410.0 520.1 L2410.9 519.7 L2411.8 519.3 L2412.8 519.3 L2413.7 519.3 L2414.6 519.4 L2415.5 519.0 L2416.5 518.8 L2417.4 519.2 L2418.3 519.2 L2419.3 519.2 L2420.2 519.5 L2421.1 519.3 L2422.0 519.2 L2423.0 518.8 L2423.9 518.8 L2424.8 518.5 L2425.8 518.7 L2426.7 518.4 L2427.6 518.6 L2428.6 518.8 L2429.5 518.4 L2430.4 518.4 L2431.3 518.8 L2432.3 519.2 L2433.2 519.3 L2434.1 519.9 L2435.1 520.2 L2436.0 519.9 L2436.9 520.0 L2437.9 519.8 L2438.8 519.7 L2439.7 519.5 L2440.6 519.4 L2441.6 519.5 L2442.5 519.1 L2443.4 519.1 L2444.4 519.3 L2445.3 519.4 L2446.2 519.5 L2447.2 519.4 L2448.1 519.4 L2449.0 519.4 L2449.9 519.0 L2450.9 519.3 L2451.8 519.3 L2452.7 518.9 L2453.7 518.6 L2454.6 518.4 L2455.5 518.1 L2456.5 517.8 L2457.4 517.7 L2458.3 517.7 L2459.2 517.7 L2460.2 517.9 L2461.1 517.8 L2462.0 517.9 L2463.0 518.1 L2463.9 517.9 L2464.8 517.9 L2465.8 518.1 L2466.7 518.1 L2467.6 518.2 L2468.5 518.3 L2469.5 518.2 L2470.4 517.8 L2471.3 518.2 L2472.3 518.2 L2473.2 518.3 L2474.1 518.2 L2475.0 518.3 L2476.0 518.6 L2476.9 518.4 L2477.8 518.0 L2478.8 517.6 L2479.7 517.4 L2480.6 516.9 L2481.6 516.6 L2482.5 517.0 L2483.4 516.9 L2484.3 516.9 L2485.3 517.0 L2486.2 517.0 L2487.1 517.7 L2488.1 517.7 L2489.0 517.4 L2489.9 517.7 L2490.9 518.0 L2491.8 517.9 L2492.7 517.3 L2493.6 516.9 L2494.6 516.4 L2495.5 516.7 L2496.4 516.7 L2497.4 516.8 L2498.3 516.8 L2499.2 517.1 L2500.2 517.4 L2501.1 517.2 L2502.0 517.2 L2502.9 517.1 L2503.9 516.8 L2504.8 517.0 L2505.7 517.3 L2506.7 517.3 L2507.6 517.2 L2508.5 517.2 L2509.5 517.4 L2510.4 517.2 L2511.3 516.8 L2512.2 516.9 L2513.2 517.1 L2514.1 517.1 L2515.0 517.0 L2516.0 516.8 L2516.9 516.7 L2517.8 516.5 L2518.7 516.2 L2519.7 516.3 L2520.6 516.4 L2521.5 516.4 L2522.5 516.5 L2523.4 516.6 L2524.3 516.3 L2525.3 516.2 L2526.2 515.9 L2527.1 516.0 L2528.0 516.0 L2529.0 516.0 L2529.9 516.0 L2530.8 516.2 L2531.8 515.9 L2532.7 515.6 L2533.6 515.9 L2534.6 516.1 L2535.5 516.6 L2536.4 516.5 L2537.3 516.3 L2538.3 515.9 L2539.2 516.0 L2540.1 515.9 L2541.1 515.5 L2542.0 515.8 L2542.9 515.9 L2543.9 516.4 L2544.8 516.7 L2545.7 516.6 L2546.6 516.4 L2547.6 516.6 L2548.5 516.3 L2549.4 516.6 L2550.4 516.9 L2551.3 516.6 L2552.2 516.2 L2553.2 516.2 L2554.1 516.4 L2555.0 516.2 L2555.9 516.3 L2556.9 516.4 L2557.8 516.6 L2558.7 516.9 L2559.7 516.6 L2560.6 516.6 L2561.5 516.3 L2562.5 515.9 L2563.4 516.4 L2564.3 516.7 L2565.2 516.7 L2566.2 516.3 L2567.1 516.2 L2568.0 516.2 L2569.0 516.1 L2569.9 515.9 L2570.8 516.1 L2571.7 516.2 L2572.7 515.8 L2573.6 516.3 L2574.5 516.6 L2575.5 516.0 L2576.4 516.1 L2577.3 516.0 L2578.3 516.0 L2579.2 516.3 L2580.1 516.1 L2581.0 516.1 L2582.0 516.3 L2582.9 516.4 L2583.8 515.9 L2584.8 515.7 L2585.7 515.8 L2586.6 516.1 L2587.6 516.0 L2588.5 516.0 L2589.4 516.0 L2590.3 516.3 L2591.3 516.3 L2592.2 515.8 L2593.1 515.5 L2594.1 515.6 L2595.0 515.6 L2595.9 515.4 L2596.9 515.5 L2597.8 515.3 L2598.7 515.5 L2599.6 515.3 L2600.6 515.2 L2601.5 515.0 L2602.4 515.3 L2603.4 515.3 L2604.3 515.1 L2605.2 515.2 L2606.2 514.9 L2607.1 514.9 L2608.0 515.0 L2608.9 514.7 L2609.9 514.8 L2610.8 514.5" fill="none" stroke="#f2cc0c" stroke-width="1.9" stroke-linejoin="round"/><path d="M2277.0 486.6 L2277.9 486.5 L2278.9 486.2 L2279.8 486.1 L2280.7 486.2 L2281.6 485.9 L2282.6 485.4 L2283.5 485.3 L2284.4 485.1 L2285.4 485.6 L2286.3 485.9 L2287.2 485.2 L2288.2 485.2 L2289.1 485.0 L2290.0 484.8 L2290.9 484.5 L2291.9 484.3 L2292.8 484.4 L2293.7 484.0 L2294.7 484.5 L2295.6 484.8 L2296.5 484.8 L2297.5 484.3 L2298.4 484.7 L2299.3 484.2 L2300.2 484.2 L2301.2 483.8 L2302.1 483.3 L2303.0 483.0 L2304.0 483.2 L2304.9 483.6 L2305.8 483.1 L2306.8 482.7 L2307.7 483.2 L2308.6 483.6 L2309.5 483.7 L2310.5 483.5 L2311.4 483.7 L2312.3 483.7 L2313.3 483.7 L2314.2 483.5 L2315.1 483.3 L2316.1 482.7 L2317.0 482.7 L2317.9 482.4 L2318.8 482.7 L2319.8 483.5 L2320.7 483.4 L2321.6 483.1 L2322.6 483.2 L2323.5 483.1 L2324.4 483.3 L2325.3 483.4 L2326.3 483.1 L2327.2 483.3 L2328.1 483.5 L2329.1 483.9 L2330.0 483.9 L2330.9 484.3 L2331.9 484.1 L2332.8 483.9 L2333.7 483.7 L2334.6 483.8 L2335.6 483.8 L2336.5 483.8 L2337.4 483.9 L2338.4 483.7 L2339.3 483.5 L2340.2 483.5 L2341.2 483.4 L2342.1 483.2 L2343.0 483.5 L2343.9 483.7 L2344.9 483.5 L2345.8 484.1 L2346.7 484.8 L2347.7 484.9 L2348.6 485.0 L2349.5 484.9 L2350.5 485.1 L2351.4 485.2 L2352.3 484.8 L2353.2 485.1 L2354.2 485.6 L2355.1 485.2 L2356.0 485.1 L2357.0 484.9 L2357.9 484.4 L2358.8 484.8 L2359.8 485.0 L2360.7 484.8 L2361.6 484.4 L2362.5 484.5 L2363.5 485.0 L2364.4 484.9 L2365.3 484.8 L2366.3 485.3 L2367.2 485.5 L2368.1 485.2 L2369.1 485.1 L2370.0 485.1 L2370.9 485.2 L2371.8 484.6 L2372.8 484.5 L2373.7 483.9 L2374.6 484.3 L2375.6 484.0 L2376.5 483.8 L2377.4 483.4 L2378.3 483.0 L2379.3 483.0 L2380.2 483.2 L2381.1 483.8 L2382.1 484.0 L2383.0 483.7 L2383.9 483.5 L2384.9 483.6 L2385.8 484.0 L2386.7 484.4 L2387.6 484.1 L2388.6 484.1 L2389.5 483.8 L2390.4 484.1 L2391.4 484.1 L2392.3 483.8 L2393.2 483.6 L2394.2 484.0 L2395.1 484.2 L2396.0 484.1 L2396.9 484.0 L2397.9 483.8 L2398.8 483.8 L2399.7 483.5 L2400.7 483.9 L2401.6 484.0 L2402.5 483.9 L2403.5 483.7 L2404.4 483.3 L2405.3 483.1 L2406.2 483.4 L2407.2 483.4 L2408.1 483.6 L2409.0 483.5 L2410.0 483.6 L2410.9 482.9 L2411.8 482.2 L2412.8 481.9 L2413.7 482.2 L2414.6 482.5 L2415.5 482.3 L2416.5 482.0 L2417.4 482.4 L2418.3 482.5 L2419.3 482.6 L2420.2 482.8 L2421.1 483.0 L2422.0 483.1 L2423.0 482.7 L2423.9 482.7 L2424.8 482.4 L2425.8 482.4 L2426.7 481.9 L2427.6 482.3 L2428.6 482.5 L2429.5 482.2 L2430.4 482.3 L2431.3 482.6 L2432.3 483.1 L2433.2 483.2 L2434.1 483.8 L2435.1 484.0 L2436.0 483.6 L2436.9 483.8 L2437.9 483.6 L2438.8 483.3 L2439.7 482.8 L2440.6 482.9 L2441.6 483.2 L2442.5 482.7 L2443.4 482.5 L2444.4 482.6 L2445.3 482.9 L2446.2 483.0 L2447.2 482.9 L2448.1 482.9 L2449.0 482.7 L2449.9 482.7 L2450.9 483.1 L2451.8 483.1 L2452.7 482.5 L2453.7 482.2 L2454.6 481.8 L2455.5 481.3 L2456.5 481.3 L2457.4 481.2 L2458.3 481.4 L2459.2 481.3 L2460.2 481.3 L2461.1 481.6 L2462.0 481.6 L2463.0 481.5 L2463.9 481.2 L2464.8 481.4 L2465.8 481.4 L2466.7 481.4 L2467.6 481.2 L2468.5 481.1 L2469.5 481.2 L2470.4 480.8 L2471.3 481.4 L2472.3 481.4 L2473.2 481.1 L2474.1 480.8 L2475.0 480.7 L2476.0 480.9 L2476.9 481.0 L2477.8 480.7 L2478.8 480.3 L2479.7 480.3 L2480.6 479.6 L2481.6 479.3 L2482.5 479.6 L2483.4 479.8 L2484.3 479.8 L2485.3 479.6 L2486.2 479.5 L2487.1 480.3 L2488.1 480.4 L2489.0 480.4 L2489.9 481.0 L2490.9 481.0 L2491.8 481.0 L2492.7 480.2 L2493.6 479.4 L2494.6 478.6 L2495.5 479.0 L2496.4 478.9 L2497.4 479.1 L2498.3 478.9 L2499.2 479.3 L2500.2 479.8 L2501.1 479.6 L2502.0 479.8 L2502.9 479.7 L2503.9 479.0 L2504.8 479.1 L2505.7 479.4 L2506.7 479.6 L2507.6 479.3 L2508.5 479.1 L2509.5 479.5 L2510.4 479.4 L2511.3 479.0 L2512.2 479.1 L2513.2 479.2 L2514.1 479.1 L2515.0 478.9 L2516.0 478.9 L2516.9 478.6 L2517.8 478.4 L2518.7 478.1 L2519.7 477.9 L2520.6 478.2 L2521.5 478.0 L2522.5 478.1 L2523.4 478.1 L2524.3 477.7 L2525.3 477.5 L2526.2 477.3 L2527.1 477.3 L2528.0 477.0 L2529.0 476.7 L2529.9 476.9 L2530.8 476.9 L2531.8 476.4 L2532.7 476.1 L2533.6 476.7 L2534.6 476.8 L2535.5 477.3 L2536.4 477.3 L2537.3 477.3 L2538.3 477.1 L2539.2 477.4 L2540.1 477.4 L2541.1 477.1 L2542.0 477.5 L2542.9 477.5 L2543.9 477.7 L2544.8 477.9 L2545.7 477.7 L2546.6 477.3 L2547.6 477.6 L2548.5 477.4 L2549.4 477.4 L2550.4 477.6 L2551.3 477.7 L2552.2 477.0 L2553.2 477.1 L2554.1 477.2 L2555.0 477.2 L2555.9 477.7 L2556.9 477.7 L2557.8 478.2 L2558.7 478.5 L2559.7 478.3 L2560.6 478.3 L2561.5 478.0 L2562.5 477.4 L2563.4 478.0 L2564.3 478.4 L2565.2 478.5 L2566.2 478.0 L2567.1 477.6 L2568.0 477.6 L2569.0 477.7 L2569.9 477.6 L2570.8 477.5 L2571.7 477.3 L2572.7 476.6 L2573.6 477.2 L2574.5 477.5 L2575.5 476.9 L2576.4 477.0 L2577.3 476.8 L2578.3 476.8 L2579.2 477.2 L2580.1 476.8 L2581.0 476.5 L2582.0 476.8 L2582.9 477.0 L2583.8 476.5 L2584.8 476.3 L2585.7 476.5 L2586.6 476.8 L2587.6 476.3 L2588.5 476.1 L2589.4 475.9 L2590.3 476.0 L2591.3 476.1 L2592.2 476.0 L2593.1 475.8 L2594.1 475.8 L2595.0 475.6 L2595.9 475.3 L2596.9 475.2 L2597.8 474.9 L2598.7 475.0 L2599.6 474.6 L2600.6 474.2 L2601.5 473.9 L2602.4 474.2 L2603.4 474.3 L2604.3 473.9 L2605.2 473.8 L2606.2 473.3 L2607.1 473.5 L2608.0 473.6 L2608.9 473.4 L2609.9 473.6 L2610.8 473.6" fill="none" stroke="#5794f2" stroke-width="1.9" stroke-linejoin="round"/><path d="M2277.0 450.5 L2277.9 450.3 L2278.9 450.1 L2279.8 450.0 L2280.7 449.9 L2281.6 449.4 L2282.6 449.1 L2283.5 448.9 L2284.4 448.5 L2285.4 449.2 L2286.3 449.6 L2287.2 449.1 L2288.2 449.1 L2289.1 448.9 L2290.0 448.7 L2290.9 448.1 L2291.9 447.7 L2292.8 448.1 L2293.7 447.8 L2294.7 448.4 L2295.6 448.5 L2296.5 448.6 L2297.5 448.2 L2298.4 448.6 L2299.3 448.1 L2300.2 447.9 L2301.2 447.5 L2302.1 447.0 L2303.0 446.5 L2304.0 446.8 L2304.9 447.3 L2305.8 446.8 L2306.8 446.5 L2307.7 447.1 L2308.6 447.5 L2309.5 447.6 L2310.5 447.4 L2311.4 447.4 L2312.3 447.6 L2313.3 447.5 L2314.2 447.3 L2315.1 446.9 L2316.1 446.3 L2317.0 446.1 L2317.9 446.0 L2318.8 446.3 L2319.8 447.4 L2320.7 447.1 L2321.6 446.9 L2322.6 447.1 L2323.5 446.9 L2324.4 447.2 L2325.3 447.3 L2326.3 447.0 L2327.2 447.3 L2328.1 447.4 L2329.1 447.7 L2330.0 447.8 L2330.9 448.2 L2331.9 447.9 L2332.8 447.8 L2333.7 447.6 L2334.6 447.6 L2335.6 447.6 L2336.5 447.5 L2337.4 447.6 L2338.4 447.3 L2339.3 447.1 L2340.2 446.8 L2341.2 446.9 L2342.1 446.9 L2343.0 447.3 L2343.9 447.4 L2344.9 447.4 L2345.8 448.0 L2346.7 448.7 L2347.7 448.8 L2348.6 448.5 L2349.5 448.1 L2350.5 448.2 L2351.4 448.4 L2352.3 448.0 L2353.2 448.4 L2354.2 449.1 L2355.1 448.8 L2356.0 448.8 L2357.0 448.3 L2357.9 447.9 L2358.8 447.9 L2359.8 447.7 L2360.7 447.6 L2361.6 447.2 L2362.5 447.1 L2363.5 447.4 L2364.4 447.2 L2365.3 447.4 L2366.3 448.1 L2367.2 448.7 L2368.1 448.5 L2369.1 448.4 L2370.0 448.3 L2370.9 448.5 L2371.8 448.2 L2372.8 448.2 L2373.7 447.4 L2374.6 447.7 L2375.6 447.6 L2376.5 447.4 L2377.4 447.3 L2378.3 446.9 L2379.3 446.9 L2380.2 447.0 L2381.1 447.5 L2382.1 447.9 L2383.0 447.6 L2383.9 447.4 L2384.9 447.3 L2385.8 447.5 L2386.7 447.8 L2387.6 447.5 L2388.6 447.6 L2389.5 447.2 L2390.4 447.6 L2391.4 447.8 L2392.3 447.7 L2393.2 447.5 L2394.2 447.8 L2395.1 447.9 L2396.0 447.7 L2396.9 447.3 L2397.9 447.3 L2398.8 447.2 L2399.7 447.0 L2400.7 447.5 L2401.6 447.7 L2402.5 447.6 L2403.5 447.3 L2404.4 447.2 L2405.3 447.0 L2406.2 447.2 L2407.2 447.0 L2408.1 447.2 L2409.0 447.0 L2410.0 446.9 L2410.9 446.1 L2411.8 445.4 L2412.8 445.0 L2413.7 445.0 L2414.6 445.0 L2415.5 444.6 L2416.5 444.3 L2417.4 444.7 L2418.3 444.9 L2419.3 444.9 L2420.2 445.2 L2421.1 445.4 L2422.0 445.2 L2423.0 444.9 L2423.9 444.6 L2424.8 444.6 L2425.8 444.3 L2426.7 444.0 L2427.6 444.4 L2428.6 444.8 L2429.5 444.7 L2430.4 444.7 L2431.3 445.0 L2432.3 445.3 L2433.2 445.4 L2434.1 445.8 L2435.1 445.9 L2436.0 445.5 L2436.9 446.0 L2437.9 446.3 L2438.8 446.2 L2439.7 445.8 L2440.6 446.2 L2441.6 446.6 L2442.5 446.3 L2443.4 446.0 L2444.4 446.2 L2445.3 446.5 L2446.2 446.3 L2447.2 446.4 L2448.1 446.3 L2449.0 445.8 L2449.9 446.0 L2450.9 446.5 L2451.8 446.3 L2452.7 445.5 L2453.7 445.0 L2454.6 444.7 L2455.5 444.3 L2456.5 444.3 L2457.4 444.2 L2458.3 444.6 L2459.2 444.7 L2460.2 444.6 L2461.1 444.7 L2462.0 444.7 L2463.0 444.9 L2463.9 444.6 L2464.8 444.7 L2465.8 444.7 L2466.7 444.9 L2467.6 444.7 L2468.5 444.7 L2469.5 444.7 L2470.4 444.1 L2471.3 444.6 L2472.3 444.6 L2473.2 443.9 L2474.1 443.3 L2475.0 443.2 L2476.0 443.6 L2476.9 443.7 L2477.8 443.4 L2478.8 443.3 L2479.7 443.0 L2480.6 442.0 L2481.6 441.4 L2482.5 441.6 L2483.4 441.8 L2484.3 441.9 L2485.3 441.9 L2486.2 441.8 L2487.1 442.7 L2488.1 442.8 L2489.0 442.8 L2489.9 443.4 L2490.9 443.4 L2491.8 443.3 L2492.7 442.5 L2493.6 441.5 L2494.6 440.6 L2495.5 440.9 L2496.4 440.8 L2497.4 441.0 L2498.3 440.7 L2499.2 440.8 L2500.2 441.2 L2501.1 441.2 L2502.0 441.1 L2502.9 441.0 L2503.9 440.4 L2504.8 440.4 L2505.7 440.6 L2506.7 441.0 L2507.6 440.7 L2508.5 440.5 L2509.5 440.9 L2510.4 441.0 L2511.3 440.7 L2512.2 440.8 L2513.2 441.2 L2514.1 441.0 L2515.0 440.7 L2516.0 440.7 L2516.9 440.7 L2517.8 440.6 L2518.7 440.2 L2519.7 439.9 L2520.6 440.1 L2521.5 440.1 L2522.5 440.1 L2523.4 440.1 L2524.3 439.6 L2525.3 439.4 L2526.2 439.3 L2527.1 439.1 L2528.0 439.2 L2529.0 439.0 L2529.9 439.2 L2530.8 439.3 L2531.8 438.8 L2532.7 438.5 L2533.6 439.1 L2534.6 439.2 L2535.5 439.4 L2536.4 439.5 L2537.3 439.8 L2538.3 439.7 L2539.2 440.3 L2540.1 440.3 L2541.1 440.4 L2542.0 440.9 L2542.9 441.0 L2543.9 441.2 L2544.8 441.5 L2545.7 441.5 L2546.6 441.2 L2547.6 441.5 L2548.5 441.3 L2549.4 441.2 L2550.4 441.4 L2551.3 441.6 L2552.2 440.9 L2553.2 441.0 L2554.1 440.8 L2555.0 440.6 L2555.9 440.9 L2556.9 440.7 L2557.8 441.1 L2558.7 441.3 L2559.7 441.0 L2560.6 440.9 L2561.5 440.3 L2562.5 440.0 L2563.4 440.4 L2564.3 441.0 L2565.2 441.3 L2566.2 440.9 L2567.1 440.7 L2568.0 440.7 L2569.0 440.5 L2569.9 440.0 L2570.8 439.8 L2571.7 439.7 L2572.7 439.3 L2573.6 440.1 L2574.5 440.6 L2575.5 440.1 L2576.4 440.4 L2577.3 440.2 L2578.3 440.2 L2579.2 440.5 L2580.1 440.1 L2581.0 439.8 L2582.0 440.1 L2582.9 440.3 L2583.8 439.8 L2584.8 439.5 L2585.7 439.7 L2586.6 439.9 L2587.6 439.3 L2588.5 438.9 L2589.4 438.4 L2590.3 438.7 L2591.3 438.9 L2592.2 438.9 L2593.1 438.5 L2594.1 438.6 L2595.0 438.5 L2595.9 438.5 L2596.9 438.4 L2597.8 438.0 L2598.7 437.9 L2599.6 437.5 L2600.6 436.9 L2601.5 436.5 L2602.4 436.9 L2603.4 437.1 L2604.3 436.8 L2605.2 436.5 L2606.2 436.1 L2607.1 436.3 L2608.0 436.3 L2608.9 436.4 L2609.9 436.9 L2610.8 437.1" fill="none" stroke="#ff9830" stroke-width="1.9" stroke-linejoin="round"/><path d="M2277.0 414.4 L2277.9 413.9 L2278.9 413.4 L2279.8 413.4 L2280.7 413.2 L2281.6 412.7 L2282.6 412.6 L2283.5 412.7 L2284.4 412.4 L2285.4 413.1 L2286.3 413.5 L2287.2 413.0 L2288.2 412.8 L2289.1 412.5 L2290.0 412.2 L2290.9 411.6 L2291.9 411.1 L2292.8 411.7 L2293.7 411.6 L2294.7 412.3 L2295.6 412.4 L2296.5 412.3 L2297.5 411.7 L2298.4 412.0 L2299.3 411.3 L2300.2 411.1 L2301.2 410.5 L2302.1 410.1 L2303.0 409.2 L2304.0 409.8 L2304.9 410.1 L2305.8 409.5 L2306.8 409.1 L2307.7 409.4 L2308.6 409.7 L2309.5 409.8 L2310.5 409.3 L2311.4 409.5 L2312.3 409.7 L2313.3 409.4 L2314.2 409.1 L2315.1 408.7 L2316.1 408.1 L2317.0 408.1 L2317.9 407.9 L2318.8 408.0 L2319.8 408.8 L2320.7 408.9 L2321.6 408.6 L2322.6 408.7 L2323.5 408.7 L2324.4 409.0 L2325.3 409.4 L2326.3 409.1 L2327.2 409.3 L2328.1 409.5 L2329.1 410.0 L2330.0 410.2 L2330.9 410.6 L2331.9 410.2 L2332.8 410.0 L2333.7 410.0 L2334.6 410.2 L2335.6 410.3 L2336.5 410.3 L2337.4 410.1 L2338.4 409.5 L2339.3 409.4 L2340.2 409.4 L2341.2 409.5 L2342.1 409.4 L2343.0 409.8 L2343.9 410.0 L2344.9 409.9 L2345.8 410.3 L2346.7 410.8 L2347.7 410.9 L2348.6 410.4 L2349.5 410.2 L2350.5 410.4 L2351.4 410.6 L2352.3 410.0 L2353.2 410.1 L2354.2 410.9 L2355.1 410.5 L2356.0 410.4 L2357.0 409.8 L2357.9 409.3 L2358.8 409.4 L2359.8 409.2 L2360.7 409.3 L2361.6 409.0 L2362.5 408.7 L2363.5 409.1 L2364.4 409.1 L2365.3 409.5 L2366.3 410.0 L2367.2 410.4 L2368.1 410.1 L2369.1 410.0 L2370.0 410.0 L2370.9 410.4 L2371.8 410.2 L2372.8 410.5 L2373.7 410.1 L2374.6 410.3 L2375.6 410.2 L2376.5 410.0 L2377.4 409.8 L2378.3 409.3 L2379.3 409.3 L2380.2 409.2 L2381.1 409.6 L2382.1 409.9 L2383.0 409.6 L2383.9 409.5 L2384.9 409.1 L2385.8 409.4 L2386.7 409.5 L2387.6 409.1 L2388.6 408.9 L2389.5 408.6 L2390.4 409.1 L2391.4 409.3 L2392.3 409.1 L2393.2 409.0 L2394.2 409.4 L2395.1 409.6 L2396.0 409.6 L2396.9 409.3 L2397.9 409.3 L2398.8 409.6 L2399.7 409.2 L2400.7 409.8 L2401.6 410.4 L2402.5 410.5 L2403.5 410.1 L2404.4 410.2 L2405.3 410.3 L2406.2 410.9 L2407.2 410.7 L2408.1 411.0 L2409.0 410.7 L2410.0 410.7 L2410.9 409.9 L2411.8 409.2 L2412.8 408.8 L2413.7 408.7 L2414.6 408.4 L2415.5 407.7 L2416.5 407.5 L2417.4 407.9 L2418.3 408.2 L2419.3 408.1 L2420.2 408.2 L2421.1 408.4 L2422.0 408.0 L2423.0 407.7 L2423.9 407.6 L2424.8 407.5 L2425.8 407.3 L2426.7 407.3 L2427.6 407.8 L2428.6 408.3 L2429.5 408.3 L2430.4 408.4 L2431.3 408.6 L2432.3 408.9 L2433.2 408.7 L2434.1 408.9 L2435.1 408.9 L2436.0 408.9 L2436.9 409.5 L2437.9 409.9 L2438.8 409.8 L2439.7 409.2 L2440.6 409.7 L2441.6 410.0 L2442.5 409.4 L2443.4 409.1 L2444.4 409.2 L2445.3 409.7 L2446.2 409.5 L2447.2 409.8 L2448.1 409.3 L2449.0 408.6 L2449.9 408.6 L2450.9 408.9 L2451.8 408.6 L2452.7 407.6 L2453.7 406.8 L2454.6 406.4 L2455.5 406.2 L2456.5 406.3 L2457.4 406.2 L2458.3 406.9 L2459.2 406.9 L2460.2 406.9 L2461.1 407.2 L2462.0 407.0 L2463.0 406.9 L2463.9 406.5 L2464.8 406.5 L2465.8 406.5 L2466.7 406.6 L2467.6 406.3 L2468.5 406.3 L2469.5 406.5 L2470.4 406.0 L2471.3 406.3 L2472.3 406.1 L2473.2 405.4 L2474.1 405.1 L2475.0 405.2 L2476.0 405.4 L2476.9 405.3 L2477.8 405.2 L2478.8 404.9 L2479.7 404.7 L2480.6 403.4 L2481.6 402.8 L2482.5 402.8 L2483.4 403.4 L2484.3 403.6 L2485.3 403.9 L2486.2 403.9 L2487.1 404.4 L2488.1 404.2 L2489.0 404.0 L2489.9 404.6 L2490.9 404.8 L2491.8 405.0 L2492.7 404.4 L2493.6 403.6 L2494.6 402.6 L2495.5 403.0 L2496.4 403.1 L2497.4 403.6 L2498.3 403.7 L2499.2 403.7 L2500.2 404.2 L2501.1 404.2 L2502.0 404.1 L2502.9 404.1 L2503.9 403.4 L2504.8 403.1 L2505.7 403.2 L2506.7 403.6 L2507.6 403.8 L2508.5 403.8 L2509.5 404.3 L2510.4 404.6 L2511.3 404.2 L2512.2 404.1 L2513.2 404.4 L2514.1 404.2 L2515.0 403.8 L2516.0 403.7 L2516.9 403.6 L2517.8 403.5 L2518.7 402.9 L2519.7 402.6 L2520.6 402.9 L2521.5 402.9 L2522.5 402.9 L2523.4 402.9 L2524.3 402.3 L2525.3 401.9 L2526.2 402.1 L2527.1 402.0 L2528.0 402.0 L2529.0 401.5 L2529.9 401.5 L2530.8 401.2 L2531.8 400.4 L2532.7 399.9 L2533.6 400.2 L2534.6 400.3 L2535.5 400.6 L2536.4 400.9 L2537.3 401.3 L2538.3 401.2 L2539.2 401.7 L2540.1 401.6 L2541.1 401.7 L2542.0 402.3 L2542.9 402.3 L2543.9 402.7 L2544.8 403.4 L2545.7 403.1 L2546.6 403.0 L2547.6 403.5 L2548.5 403.3 L2549.4 403.2 L2550.4 403.5 L2551.3 403.8 L2552.2 402.7 L2553.2 402.6 L2554.1 402.6 L2555.0 402.1 L2555.9 402.4 L2556.9 401.8 L2557.8 402.1 L2558.7 402.5 L2559.7 402.2 L2560.6 402.0 L2561.5 401.6 L2562.5 401.7 L2563.4 402.2 L2564.3 402.8 L2565.2 403.3 L2566.2 403.1 L2567.1 403.0 L2568.0 403.3 L2569.0 403.4 L2569.9 402.6 L2570.8 402.4 L2571.7 402.1 L2572.7 401.7 L2573.6 402.2 L2574.5 402.8 L2575.5 402.5 L2576.4 402.7 L2577.3 402.4 L2578.3 402.6 L2579.2 402.9 L2580.1 402.4 L2581.0 402.1 L2582.0 402.4 L2582.9 402.7 L2583.8 401.9 L2584.8 401.3 L2585.7 401.2 L2586.6 401.1 L2587.6 400.5 L2588.5 400.2 L2589.4 399.9 L2590.3 399.9 L2591.3 400.1 L2592.2 400.0 L2593.1 399.7 L2594.1 399.8 L2595.0 399.8 L2595.9 400.0 L2596.9 400.0 L2597.8 399.8 L2598.7 399.8 L2599.6 399.1 L2600.6 398.4 L2601.5 398.1 L2602.4 398.3 L2603.4 398.4 L2604.3 398.2 L2605.2 398.1 L2606.2 397.5 L2607.1 397.4 L2608.0 397.2 L2608.9 397.7 L2609.9 398.6 L2610.8 398.8" fill="none" stroke="#f2495c" stroke-width="1.9" stroke-linejoin="round"/><rect x="2325.4" y="378.500" width="1" height="202" fill="rgba(204,204,220,0.09)"/><rect x="2381.1" y="378.500" width="1" height="202" fill="rgba(204,204,220,0.09)"/><rect x="2436.7" y="378.500" width="1" height="202" fill="rgba(204,204,220,0.09)"/><rect x="2492.4" y="378.500" width="1" height="202" fill="rgba(204,204,220,0.09)"/><rect x="2548.0" y="378.500" width="1" height="202" fill="rgba(204,204,220,0.09)"/><rect x="2603.7" y="378.500" width="1" height="202" fill="rgba(204,204,220,0.09)"/><rect x="2277" y="546.3" width="333.8" height="1" fill="rgba(204,204,220,0.09)"/><rect x="2277" y="498.2" width="333.8" height="1" fill="rgba(204,204,220,0.09)"/><rect x="2277" y="450.1" width="333.8" height="1" fill="rgba(204,204,220,0.09)"/><rect x="2277" y="401.9" width="333.8" height="1" fill="rgba(204,204,220,0.09)"/><text x="2271" y="550.9" font-size="13.3" letter-spacing="0.7" fill="#ccccdc" text-anchor="end">100</text><text x="2271" y="502.8" font-size="13.3" letter-spacing="0.7" fill="#ccccdc" text-anchor="end">200</text><text x="2271" y="454.7" font-size="13.3" letter-spacing="0.7" fill="#ccccdc" text-anchor="end">300</text><text x="2271" y="406.5" font-size="13.3" letter-spacing="0.7" fill="#ccccdc" text-anchor="end">400</text><text x="2325.9" y="594.8" font-size="13.3" fill="#ccccdc" text-anchor="middle">11:00</text><text x="2381.6" y="594.8" font-size="13.3" fill="#ccccdc" text-anchor="middle">12:00</text><text x="2437.2" y="594.8" font-size="13.3" fill="#ccccdc" text-anchor="middle">13:00</text><text x="2492.9" y="594.8" font-size="13.3" fill="#ccccdc" text-anchor="middle">14:00</text><text x="2548.5" y="594.8" font-size="13.3" fill="#ccccdc" text-anchor="middle">15:00</text><text x="2604.2" y="594.8" font-size="13.3" fill="#ccccdc" text-anchor="middle">16:00</text></svg>
<div class="b" style="left:1818px;top:630px;width:398px;height:249px;background:#181b1f;border:1px solid #33353b;border-radius:11px;box-sizing:border-box;overflow:hidden;"></div>
<svg class="b" style="left:1819px;top:631px;" width="387" height="247" viewBox="1819 631 387 247"><path d="M1874.0 808.4 L1874.9 808.3 L1875.8 808.3 L1876.7 808.5 L1877.6 808.4 L1878.5 808.4 L1879.4 808.1 L1880.3 808.0 L1881.2 807.9 L1882.1 808.0 L1883.0 808.0 L1883.9 808.1 L1884.8 808.0 L1885.7 808.1 L1886.6 808.1 L1887.5 808.4 L1888.4 808.2 L1889.3 808.3 L1890.2 808.1 L1891.1 808.0 L1892.0 808.1 L1892.9 808.2 L1893.8 808.1 L1894.8 808.3 L1895.7 808.2 L1896.6 808.3 L1897.5 808.5 L1898.4 808.4 L1899.3 808.2 L1900.2 808.0 L1901.1 808.0 L1902.0 807.9 L1902.9 807.9 L1903.8 808.0 L1904.7 807.9 L1905.6 807.8 L1906.5 807.9 L1907.4 807.9 L1908.3 807.9 L1909.2 808.2 L1910.1 808.3 L1911.0 808.2 L1911.9 808.2 L1912.8 808.2 L1913.7 808.1 L1914.6 808.4 L1915.5 808.4 L1916.4 808.3 L1917.3 807.9 L1918.2 808.0 L1919.1 808.1 L1920.0 808.3 L1920.9 808.4 L1921.8 808.4 L1922.7 808.4 L1923.6 808.3 L1924.5 808.2 L1925.4 808.2 L1926.3 808.2 L1927.2 808.1 L1928.1 808.1 L1929.0 808.0 L1929.9 808.0 L1930.8 807.9 L1931.7 807.9 L1932.6 808.0 L1933.5 808.0 L1934.4 807.7 L1935.4 807.6 L1936.3 807.7 L1937.2 807.7 L1938.1 808.0 L1939.0 808.1 L1939.9 808.3 L1940.8 808.5 L1941.7 808.7 L1942.6 808.6 L1943.5 808.5 L1944.4 808.2 L1945.3 808.4 L1946.2 808.6 L1947.1 808.7 L1948.0 808.9 L1948.9 808.9 L1949.8 808.9 L1950.7 809.0 L1951.6 809.0 L1952.5 809.0 L1953.4 809.1 L1954.3 809.4 L1955.2 809.1 L1956.1 808.8 L1957.0 808.8 L1957.9 809.1 L1958.8 809.0 L1959.7 808.8 L1960.6 808.9 L1961.5 808.9 L1962.4 808.5 L1963.3 808.3 L1964.2 808.2 L1965.1 808.0 L1966.0 807.9 L1966.9 807.7 L1967.8 807.6 L1968.7 807.8 L1969.6 807.8 L1970.5 807.8 L1971.4 807.6 L1972.3 807.5 L1973.2 807.7 L1974.1 808.0 L1975.0 808.3 L1976.0 808.5 L1976.9 808.2 L1977.8 808.3 L1978.7 808.7 L1979.6 808.7 L1980.5 808.7 L1981.4 808.8 L1982.3 808.8 L1983.2 808.6 L1984.1 808.5 L1985.0 808.5 L1985.9 808.6 L1986.8 808.6 L1987.7 808.7 L1988.6 808.8 L1989.5 808.8 L1990.4 808.8 L1991.3 808.8 L1992.2 808.7 L1993.1 808.5 L1994.0 808.4 L1994.9 808.1 L1995.8 808.2 L1996.7 808.5 L1997.6 808.4 L1998.5 808.3 L1999.4 808.4 L2000.3 808.6 L2001.2 808.8 L2002.1 808.7 L2003.0 808.5 L2003.9 808.4 L2004.8 808.2 L2005.7 808.2 L2006.6 808.1 L2007.5 808.4 L2008.4 808.5 L2009.3 808.5 L2010.2 808.5 L2011.1 808.4 L2012.0 808.5 L2012.9 808.5 L2013.8 808.3 L2014.7 808.3 L2015.6 808.2 L2016.6 808.1 L2017.5 807.8 L2018.4 807.9 L2019.3 807.8 L2020.2 807.7 L2021.1 807.7 L2022.0 807.5 L2022.9 807.7 L2023.8 808.1 L2024.7 808.4 L2025.6 808.6 L2026.5 808.9 L2027.4 809.3 L2028.3 809.3 L2029.2 809.4 L2030.1 809.3 L2031.0 809.2 L2031.9 809.4 L2032.8 809.3 L2033.7 809.3 L2034.6 809.3 L2035.5 809.3 L2036.4 809.3 L2037.3 809.3 L2038.2 809.3 L2039.1 809.2 L2040.0 809.4 L2040.9 809.6 L2041.8 809.4 L2042.7 809.5 L2043.6 809.4 L2044.5 809.5 L2045.4 809.6 L2046.3 809.3 L2047.2 809.3 L2048.1 808.9 L2049.0 808.9 L2049.9 808.7 L2050.8 808.6 L2051.7 808.7 L2052.6 808.6 L2053.5 808.7 L2054.4 808.7 L2055.3 808.7 L2056.3 808.6 L2057.2 808.8 L2058.1 808.8 L2059.0 809.1 L2059.9 809.4 L2060.8 809.3 L2061.7 809.4 L2062.6 809.6 L2063.5 809.5 L2064.4 809.6 L2065.3 809.9 L2066.2 810.1 L2067.1 810.2 L2068.0 810.0 L2068.9 809.9 L2069.8 809.9 L2070.7 809.6 L2071.6 809.8 L2072.5 809.9 L2073.4 810.0 L2074.3 810.0 L2075.2 809.9 L2076.1 809.7 L2077.0 809.6 L2077.9 809.9 L2078.8 810.2 L2079.7 810.1 L2080.6 810.3 L2081.5 810.2 L2082.4 810.2 L2083.3 810.0 L2084.2 809.9 L2085.1 809.8 L2086.0 809.7 L2086.9 809.6 L2087.8 809.6 L2088.7 809.8 L2089.6 810.2 L2090.5 810.3 L2091.4 810.5 L2092.3 810.5 L2093.2 810.5 L2094.1 810.4 L2095.0 810.6 L2095.9 810.7 L2096.9 810.4 L2097.8 810.5 L2098.7 810.5 L2099.6 810.4 L2100.5 810.1 L2101.4 809.9 L2102.3 810.0 L2103.2 810.0 L2104.1 809.8 L2105.0 809.7 L2105.9 809.4 L2106.8 809.3 L2107.7 809.3 L2108.6 809.4 L2109.5 809.5 L2110.4 809.6 L2111.3 809.4 L2112.2 809.4 L2113.1 809.4 L2114.0 809.4 L2114.9 809.5 L2115.8 809.2 L2116.7 809.5 L2117.6 809.4 L2118.5 809.6 L2119.4 809.5 L2120.3 809.7 L2121.2 809.5 L2122.1 809.7 L2123.0 809.9 L2123.9 809.9 L2124.8 810.2 L2125.7 810.0 L2126.6 809.8 L2127.5 809.5 L2128.4 809.4 L2129.3 809.4 L2130.2 809.2 L2131.1 809.1 L2132.0 809.2 L2132.9 809.6 L2133.8 809.6 L2134.7 809.4 L2135.6 809.2 L2136.5 809.3 L2137.5 809.4 L2138.4 809.5 L2139.3 809.5 L2140.2 809.2 L2141.1 809.3 L2142.0 809.7 L2142.9 809.8 L2143.8 809.8 L2144.7 809.9 L2145.6 809.9 L2146.5 810.0 L2147.4 810.0 L2148.3 810.1 L2149.2 810.3 L2150.1 810.4 L2151.0 810.2 L2151.9 810.3 L2152.8 810.4 L2153.7 810.3 L2154.6 810.2 L2155.5 810.0 L2156.4 809.9 L2157.3 809.8 L2158.2 809.9 L2159.1 810.2 L2160.0 810.5 L2160.9 810.4 L2161.8 810.5 L2162.7 810.5 L2163.6 810.3 L2164.5 810.5 L2165.4 810.7 L2166.3 810.6 L2167.2 810.5 L2168.1 810.5 L2169.0 810.5 L2169.9 810.6 L2170.8 810.8 L2171.7 810.9 L2172.6 811.0 L2173.5 811.0 L2174.4 811.1 L2175.3 811.1 L2176.2 810.9 L2177.1 810.9 L2178.1 811.2 L2179.0 811.2 L2179.9 810.9 L2180.8 810.9 L2181.7 810.9 L2182.6 811.0 L2183.5 810.8 L2184.4 810.8 L2185.3 810.8 L2186.2 811.0 L2187.1 811.1 L2188.0 811.1 L2188.9 810.9 L2189.8 810.7 L2190.7 810.7 L2191.6 810.8 L2192.5 810.9 L2193.4 810.8 L2194.3 810.9 L2195.2 811.1 L2196.1 810.9 L2197.0 810.9 L2197.9 810.9 L2197.9 847.7 L1874.0 847.7Z" fill="#2f4535"/><path d="M1874.0 769.0 L1874.9 769.1 L1875.8 769.0 L1876.7 768.9 L1877.6 769.2 L1878.5 769.3 L1879.4 769.0 L1880.3 768.7 L1881.2 768.6 L1882.1 768.6 L1883.0 768.8 L1883.9 768.6 L1884.8 768.4 L1885.7 768.4 L1886.6 768.4 L1887.5 768.5 L1888.4 768.6 L1889.3 768.6 L1890.2 768.3 L1891.1 768.1 L1892.0 768.4 L1892.9 768.7 L1893.8 768.4 L1894.8 768.7 L1895.7 768.7 L1896.6 768.6 L1897.5 768.7 L1898.4 768.6 L1899.3 768.3 L1900.2 768.1 L1901.1 768.4 L1902.0 768.2 L1902.9 768.2 L1903.8 768.5 L1904.7 768.5 L1905.6 768.7 L1906.5 768.7 L1907.4 768.8 L1908.3 768.8 L1909.2 769.3 L1910.1 769.4 L1911.0 769.3 L1911.9 769.3 L1912.8 769.4 L1913.7 769.3 L1914.6 769.5 L1915.5 769.7 L1916.4 769.3 L1917.3 769.2 L1918.2 769.3 L1919.1 769.6 L1920.0 769.7 L1920.9 769.6 L1921.8 769.4 L1922.7 769.2 L1923.6 769.2 L1924.5 769.0 L1925.4 768.9 L1926.3 768.9 L1927.2 768.8 L1928.1 768.8 L1929.0 768.6 L1929.9 768.4 L1930.8 768.3 L1931.7 768.6 L1932.6 768.7 L1933.5 769.1 L1934.4 768.9 L1935.4 768.6 L1936.3 768.7 L1937.2 768.6 L1938.1 768.8 L1939.0 768.8 L1939.9 768.9 L1940.8 769.1 L1941.7 769.3 L1942.6 769.4 L1943.5 769.6 L1944.4 769.6 L1945.3 769.6 L1946.2 769.7 L1947.1 769.8 L1948.0 770.1 L1948.9 769.9 L1949.8 769.6 L1950.7 769.5 L1951.6 769.3 L1952.5 769.2 L1953.4 769.6 L1954.3 770.0 L1955.2 769.5 L1956.1 769.2 L1957.0 769.4 L1957.9 769.6 L1958.8 769.5 L1959.7 769.2 L1960.6 769.4 L1961.5 769.7 L1962.4 769.5 L1963.3 769.3 L1964.2 769.4 L1965.1 769.3 L1966.0 769.0 L1966.9 768.5 L1967.8 768.2 L1968.7 768.4 L1969.6 768.3 L1970.5 768.3 L1971.4 768.2 L1972.3 768.0 L1973.2 767.9 L1974.1 768.1 L1975.0 768.4 L1976.0 768.4 L1976.9 768.1 L1977.8 768.2 L1978.7 768.6 L1979.6 768.8 L1980.5 769.0 L1981.4 769.1 L1982.3 769.3 L1983.2 769.1 L1984.1 769.1 L1985.0 769.1 L1985.9 768.8 L1986.8 768.7 L1987.7 768.6 L1988.6 768.5 L1989.5 768.5 L1990.4 768.4 L1991.3 768.2 L1992.2 768.1 L1993.1 768.0 L1994.0 768.2 L1994.9 768.0 L1995.8 767.8 L1996.7 768.1 L1997.6 767.9 L1998.5 767.9 L1999.4 767.9 L2000.3 768.2 L2001.2 768.1 L2002.1 767.8 L2003.0 767.8 L2003.9 767.7 L2004.8 767.5 L2005.7 767.7 L2006.6 767.8 L2007.5 768.0 L2008.4 768.0 L2009.3 767.8 L2010.2 768.1 L2011.1 767.9 L2012.0 768.0 L2012.9 768.2 L2013.8 768.0 L2014.7 768.0 L2015.6 767.8 L2016.6 767.8 L2017.5 767.5 L2018.4 767.7 L2019.3 767.4 L2020.2 767.5 L2021.1 767.4 L2022.0 767.0 L2022.9 767.0 L2023.8 767.3 L2024.7 767.7 L2025.6 767.9 L2026.5 768.3 L2027.4 768.7 L2028.3 768.4 L2029.2 768.2 L2030.1 767.8 L2031.0 767.7 L2031.9 767.8 L2032.8 767.5 L2033.7 767.5 L2034.6 767.3 L2035.5 767.5 L2036.4 767.6 L2037.3 767.5 L2038.2 767.7 L2039.1 767.4 L2040.0 767.6 L2040.9 767.9 L2041.8 767.6 L2042.7 767.8 L2043.6 767.9 L2044.5 767.9 L2045.4 767.9 L2046.3 767.8 L2047.2 767.7 L2048.1 767.3 L2049.0 767.2 L2049.9 766.9 L2050.8 766.9 L2051.7 767.1 L2052.6 766.9 L2053.5 767.1 L2054.4 767.3 L2055.3 767.3 L2056.3 767.3 L2057.2 767.5 L2058.1 767.4 L2059.0 767.7 L2059.9 767.8 L2060.8 767.6 L2061.7 767.4 L2062.6 767.7 L2063.5 767.8 L2064.4 768.1 L2065.3 768.2 L2066.2 768.2 L2067.1 768.4 L2068.0 768.4 L2068.9 768.0 L2069.8 767.7 L2070.7 767.5 L2071.6 767.6 L2072.5 767.5 L2073.4 767.9 L2074.3 767.6 L2075.2 767.5 L2076.1 767.5 L2077.0 767.4 L2077.9 768.0 L2078.8 768.0 L2079.7 767.9 L2080.6 767.9 L2081.5 768.1 L2082.4 767.9 L2083.3 767.6 L2084.2 767.4 L2085.1 767.4 L2086.0 767.5 L2086.9 767.5 L2087.8 767.4 L2088.7 767.4 L2089.6 767.7 L2090.5 767.7 L2091.4 767.5 L2092.3 767.6 L2093.2 767.5 L2094.1 767.5 L2095.0 767.8 L2095.9 768.1 L2096.9 767.9 L2097.8 767.7 L2098.7 767.7 L2099.6 767.7 L2100.5 767.4 L2101.4 767.1 L2102.3 767.3 L2103.2 767.3 L2104.1 767.4 L2105.0 767.5 L2105.9 767.4 L2106.8 767.2 L2107.7 767.1 L2108.6 767.1 L2109.5 767.3 L2110.4 767.3 L2111.3 767.3 L2112.2 767.4 L2113.1 767.5 L2114.0 767.4 L2114.9 767.4 L2115.8 767.0 L2116.7 767.3 L2117.6 767.2 L2118.5 767.4 L2119.4 767.4 L2120.3 767.7 L2121.2 767.8 L2122.1 767.7 L2123.0 767.9 L2123.9 768.0 L2124.8 768.5 L2125.7 768.2 L2126.6 767.8 L2127.5 767.5 L2128.4 767.4 L2129.3 767.3 L2130.2 766.8 L2131.1 766.9 L2132.0 767.0 L2132.9 767.3 L2133.8 767.3 L2134.7 767.4 L2135.6 767.2 L2136.5 767.2 L2137.5 766.9 L2138.4 767.3 L2139.3 767.5 L2140.2 767.1 L2141.1 767.1 L2142.0 767.2 L2142.9 767.4 L2143.8 767.4 L2144.7 767.4 L2145.6 767.8 L2146.5 767.8 L2147.4 767.9 L2148.3 767.8 L2149.2 767.8 L2150.1 767.7 L2151.0 767.3 L2151.9 767.5 L2152.8 767.6 L2153.7 767.3 L2154.6 767.1 L2155.5 767.0 L2156.4 766.9 L2157.3 766.8 L2158.2 766.8 L2159.1 767.2 L2160.0 767.3 L2160.9 767.1 L2161.8 767.4 L2162.7 767.5 L2163.6 767.0 L2164.5 767.0 L2165.4 767.1 L2166.3 767.0 L2167.2 767.2 L2168.1 767.2 L2169.0 767.3 L2169.9 767.4 L2170.8 767.3 L2171.7 767.2 L2172.6 767.2 L2173.5 767.4 L2174.4 767.7 L2175.3 767.9 L2176.2 768.0 L2177.1 768.1 L2178.1 768.4 L2179.0 768.4 L2179.9 767.9 L2180.8 767.7 L2181.7 767.7 L2182.6 767.7 L2183.5 767.5 L2184.4 767.5 L2185.3 767.5 L2186.2 767.7 L2187.1 767.7 L2188.0 767.9 L2188.9 767.9 L2189.8 768.1 L2190.7 768.0 L2191.6 767.9 L2192.5 768.0 L2193.4 767.9 L2194.3 768.0 L2195.2 768.1 L2196.1 767.7 L2197.0 767.4 L2197.9 767.1 L2197.9 810.9 L2197.0 810.9 L2196.1 810.9 L2195.2 811.1 L2194.3 810.9 L2193.4 810.8 L2192.5 810.9 L2191.6 810.8 L2190.7 810.7 L2189.8 810.7 L2188.9 810.9 L2188.0 811.1 L2187.1 811.1 L2186.2 811.0 L2185.3 810.8 L2184.4 810.8 L2183.5 810.8 L2182.6 811.0 L2181.7 810.9 L2180.8 810.9 L2179.9 810.9 L2179.0 811.2 L2178.1 811.2 L2177.1 810.9 L2176.2 810.9 L2175.3 811.1 L2174.4 811.1 L2173.5 811.0 L2172.6 811.0 L2171.7 810.9 L2170.8 810.8 L2169.9 810.6 L2169.0 810.5 L2168.1 810.5 L2167.2 810.5 L2166.3 810.6 L2165.4 810.7 L2164.5 810.5 L2163.6 810.3 L2162.7 810.5 L2161.8 810.5 L2160.9 810.4 L2160.0 810.5 L2159.1 810.2 L2158.2 809.9 L2157.3 809.8 L2156.4 809.9 L2155.5 810.0 L2154.6 810.2 L2153.7 810.3 L2152.8 810.4 L2151.9 810.3 L2151.0 810.2 L2150.1 810.4 L2149.2 810.3 L2148.3 810.1 L2147.4 810.0 L2146.5 810.0 L2145.6 809.9 L2144.7 809.9 L2143.8 809.8 L2142.9 809.8 L2142.0 809.7 L2141.1 809.3 L2140.2 809.2 L2139.3 809.5 L2138.4 809.5 L2137.5 809.4 L2136.5 809.3 L2135.6 809.2 L2134.7 809.4 L2133.8 809.6 L2132.9 809.6 L2132.0 809.2 L2131.1 809.1 L2130.2 809.2 L2129.3 809.4 L2128.4 809.4 L2127.5 809.5 L2126.6 809.8 L2125.7 810.0 L2124.8 810.2 L2123.9 809.9 L2123.0 809.9 L2122.1 809.7 L2121.2 809.5 L2120.3 809.7 L2119.4 809.5 L2118.5 809.6 L2117.6 809.4 L2116.7 809.5 L2115.8 809.2 L2114.9 809.5 L2114.0 809.4 L2113.1 809.4 L2112.2 809.4 L2111.3 809.4 L2110.4 809.6 L2109.5 809.5 L2108.6 809.4 L2107.7 809.3 L2106.8 809.3 L2105.9 809.4 L2105.0 809.7 L2104.1 809.8 L2103.2 810.0 L2102.3 810.0 L2101.4 809.9 L2100.5 810.1 L2099.6 810.4 L2098.7 810.5 L2097.8 810.5 L2096.9 810.4 L2095.9 810.7 L2095.0 810.6 L2094.1 810.4 L2093.2 810.5 L2092.3 810.5 L2091.4 810.5 L2090.5 810.3 L2089.6 810.2 L2088.7 809.8 L2087.8 809.6 L2086.9 809.6 L2086.0 809.7 L2085.1 809.8 L2084.2 809.9 L2083.3 810.0 L2082.4 810.2 L2081.5 810.2 L2080.6 810.3 L2079.7 810.1 L2078.8 810.2 L2077.9 809.9 L2077.0 809.6 L2076.1 809.7 L2075.2 809.9 L2074.3 810.0 L2073.4 810.0 L2072.5 809.9 L2071.6 809.8 L2070.7 809.6 L2069.8 809.9 L2068.9 809.9 L2068.0 810.0 L2067.1 810.2 L2066.2 810.1 L2065.3 809.9 L2064.4 809.6 L2063.5 809.5 L2062.6 809.6 L2061.7 809.4 L2060.8 809.3 L2059.9 809.4 L2059.0 809.1 L2058.1 808.8 L2057.2 808.8 L2056.3 808.6 L2055.3 808.7 L2054.4 808.7 L2053.5 808.7 L2052.6 808.6 L2051.7 808.7 L2050.8 808.6 L2049.9 808.7 L2049.0 808.9 L2048.1 808.9 L2047.2 809.3 L2046.3 809.3 L2045.4 809.6 L2044.5 809.5 L2043.6 809.4 L2042.7 809.5 L2041.8 809.4 L2040.9 809.6 L2040.0 809.4 L2039.1 809.2 L2038.2 809.3 L2037.3 809.3 L2036.4 809.3 L2035.5 809.3 L2034.6 809.3 L2033.7 809.3 L2032.8 809.3 L2031.9 809.4 L2031.0 809.2 L2030.1 809.3 L2029.2 809.4 L2028.3 809.3 L2027.4 809.3 L2026.5 808.9 L2025.6 808.6 L2024.7 808.4 L2023.8 808.1 L2022.9 807.7 L2022.0 807.5 L2021.1 807.7 L2020.2 807.7 L2019.3 807.8 L2018.4 807.9 L2017.5 807.8 L2016.6 808.1 L2015.6 808.2 L2014.7 808.3 L2013.8 808.3 L2012.9 808.5 L2012.0 808.5 L2011.1 808.4 L2010.2 808.5 L2009.3 808.5 L2008.4 808.5 L2007.5 808.4 L2006.6 808.1 L2005.7 808.2 L2004.8 808.2 L2003.9 808.4 L2003.0 808.5 L2002.1 808.7 L2001.2 808.8 L2000.3 808.6 L1999.4 808.4 L1998.5 808.3 L1997.6 808.4 L1996.7 808.5 L1995.8 808.2 L1994.9 808.1 L1994.0 808.4 L1993.1 808.5 L1992.2 808.7 L1991.3 808.8 L1990.4 808.8 L1989.5 808.8 L1988.6 808.8 L1987.7 808.7 L1986.8 808.6 L1985.9 808.6 L1985.0 808.5 L1984.1 808.5 L1983.2 808.6 L1982.3 808.8 L1981.4 808.8 L1980.5 808.7 L1979.6 808.7 L1978.7 808.7 L1977.8 808.3 L1976.9 808.2 L1976.0 808.5 L1975.0 808.3 L1974.1 808.0 L1973.2 807.7 L1972.3 807.5 L1971.4 807.6 L1970.5 807.8 L1969.6 807.8 L1968.7 807.8 L1967.8 807.6 L1966.9 807.7 L1966.0 807.9 L1965.1 808.0 L1964.2 808.2 L1963.3 808.3 L1962.4 808.5 L1961.5 808.9 L1960.6 808.9 L1959.7 808.8 L1958.8 809.0 L1957.9 809.1 L1957.0 808.8 L1956.1 808.8 L1955.2 809.1 L1954.3 809.4 L1953.4 809.1 L1952.5 809.0 L1951.6 809.0 L1950.7 809.0 L1949.8 808.9 L1948.9 808.9 L1948.0 808.9 L1947.1 808.7 L1946.2 808.6 L1945.3 808.4 L1944.4 808.2 L1943.5 808.5 L1942.6 808.6 L1941.7 808.7 L1940.8 808.5 L1939.9 808.3 L1939.0 808.1 L1938.1 808.0 L1937.2 807.7 L1936.3 807.7 L1935.4 807.6 L1934.4 807.7 L1933.5 808.0 L1932.6 808.0 L1931.7 807.9 L1930.8 807.9 L1929.9 808.0 L1929.0 808.0 L1928.1 808.1 L1927.2 808.1 L1926.3 808.2 L1925.4 808.2 L1924.5 808.2 L1923.6 808.3 L1922.7 808.4 L1921.8 808.4 L1920.9 808.4 L1920.0 808.3 L1919.1 808.1 L1918.2 808.0 L1917.3 807.9 L1916.4 808.3 L1915.5 808.4 L1914.6 808.4 L1913.7 808.1 L1912.8 808.2 L1911.9 808.2 L1911.0 808.2 L1910.1 808.3 L1909.2 808.2 L1908.3 807.9 L1907.4 807.9 L1906.5 807.9 L1905.6 807.8 L1904.7 807.9 L1903.8 808.0 L1902.9 807.9 L1902.0 807.9 L1901.1 808.0 L1900.2 808.0 L1899.3 808.2 L1898.4 808.4 L1897.5 808.5 L1896.6 808.3 L1895.7 808.2 L1894.8 808.3 L1893.8 808.1 L1892.9 808.2 L1892.0 808.1 L1891.1 808.0 L1890.2 808.1 L1889.3 808.3 L1888.4 808.2 L1887.5 808.4 L1886.6 808.1 L1885.7 808.1 L1884.8 808.0 L1883.9 808.1 L1883.0 808.0 L1882.1 808.0 L1881.2 807.9 L1880.3 808.0 L1879.4 808.1 L1878.5 808.4 L1877.6 808.4 L1876.7 808.5 L1875.8 808.3 L1874.9 808.3 L1874.0 808.4Z" fill="#50472a"/><path d="M1874.0 729.7 L1874.9 729.8 L1875.8 729.8 L1876.7 729.8 L1877.6 730.1 L1878.5 730.1 L1879.4 729.6 L1880.3 729.4 L1881.2 729.4 L1882.1 729.4 L1883.0 729.5 L1883.9 729.1 L1884.8 729.2 L1885.7 729.2 L1886.6 729.2 L1887.5 729.2 L1888.4 729.3 L1889.3 729.0 L1890.2 728.7 L1891.1 728.8 L1892.0 729.0 L1892.9 729.1 L1893.8 729.0 L1894.8 729.2 L1895.7 729.1 L1896.6 729.3 L1897.5 729.2 L1898.4 729.0 L1899.3 729.1 L1900.2 728.9 L1901.1 729.2 L1902.0 729.1 L1902.9 728.9 L1903.8 729.2 L1904.7 729.5 L1905.6 729.5 L1906.5 729.6 L1907.4 729.7 L1908.3 729.6 L1909.2 729.8 L1910.1 729.8 L1911.0 729.9 L1911.9 729.6 L1912.8 729.5 L1913.7 729.4 L1914.6 729.6 L1915.5 730.0 L1916.4 729.7 L1917.3 729.7 L1918.2 729.7 L1919.1 729.6 L1920.0 729.6 L1920.9 729.4 L1921.8 729.4 L1922.7 729.5 L1923.6 729.5 L1924.5 729.6 L1925.4 729.5 L1926.3 729.6 L1927.2 729.8 L1928.1 729.6 L1929.0 729.4 L1929.9 729.4 L1930.8 729.3 L1931.7 729.3 L1932.6 729.5 L1933.5 729.7 L1934.4 729.5 L1935.4 729.5 L1936.3 729.4 L1937.2 729.2 L1938.1 729.4 L1939.0 729.4 L1939.9 729.3 L1940.8 729.6 L1941.7 730.0 L1942.6 730.1 L1943.5 730.5 L1944.4 730.6 L1945.3 730.6 L1946.2 730.6 L1947.1 730.5 L1948.0 730.9 L1948.9 730.8 L1949.8 730.6 L1950.7 730.7 L1951.6 730.7 L1952.5 730.6 L1953.4 731.0 L1954.3 731.3 L1955.2 731.0 L1956.1 730.8 L1957.0 731.1 L1957.9 731.4 L1958.8 731.2 L1959.7 730.9 L1960.6 731.0 L1961.5 731.1 L1962.4 730.9 L1963.3 730.9 L1964.2 730.9 L1965.1 730.7 L1966.0 730.2 L1966.9 729.9 L1967.8 729.6 L1968.7 729.9 L1969.6 729.6 L1970.5 729.5 L1971.4 729.2 L1972.3 729.1 L1973.2 729.1 L1974.1 729.3 L1975.0 729.8 L1976.0 729.8 L1976.9 729.6 L1977.8 729.5 L1978.7 729.8 L1979.6 730.1 L1980.5 730.5 L1981.4 730.5 L1982.3 730.5 L1983.2 730.4 L1984.1 730.4 L1985.0 730.2 L1985.9 730.0 L1986.8 729.9 L1987.7 730.1 L1988.6 730.2 L1989.5 730.1 L1990.4 730.2 L1991.3 729.9 L1992.2 729.7 L1993.1 729.7 L1994.0 729.7 L1994.9 729.5 L1995.8 729.3 L1996.7 729.3 L1997.6 728.9 L1998.5 728.6 L1999.4 728.5 L2000.3 728.7 L2001.2 728.7 L2002.1 728.8 L2003.0 728.8 L2003.9 728.7 L2004.8 728.3 L2005.7 728.3 L2006.6 728.6 L2007.5 729.1 L2008.4 729.4 L2009.3 729.2 L2010.2 729.4 L2011.1 729.3 L2012.0 729.5 L2012.9 729.6 L2013.8 729.6 L2014.7 730.1 L2015.6 729.8 L2016.6 729.9 L2017.5 729.6 L2018.4 729.7 L2019.3 729.2 L2020.2 729.3 L2021.1 729.2 L2022.0 728.9 L2022.9 729.0 L2023.8 729.0 L2024.7 729.5 L2025.6 729.7 L2026.5 730.2 L2027.4 730.5 L2028.3 730.0 L2029.2 729.8 L2030.1 729.4 L2031.0 729.1 L2031.9 729.0 L2032.8 728.8 L2033.7 728.9 L2034.6 728.7 L2035.5 728.7 L2036.4 728.8 L2037.3 728.7 L2038.2 729.0 L2039.1 728.7 L2040.0 729.0 L2040.9 729.2 L2041.8 729.3 L2042.7 729.5 L2043.6 729.7 L2044.5 729.7 L2045.4 729.8 L2046.3 729.7 L2047.2 729.3 L2048.1 729.2 L2049.0 729.2 L2049.9 728.9 L2050.8 728.8 L2051.7 728.8 L2052.6 728.9 L2053.5 729.1 L2054.4 729.1 L2055.3 729.0 L2056.3 729.1 L2057.2 729.2 L2058.1 729.1 L2059.0 729.1 L2059.9 729.0 L2060.8 729.0 L2061.7 728.9 L2062.6 729.3 L2063.5 729.4 L2064.4 729.5 L2065.3 729.4 L2066.2 729.3 L2067.1 729.3 L2068.0 729.5 L2068.9 729.2 L2069.8 729.1 L2070.7 729.2 L2071.6 729.2 L2072.5 729.3 L2073.4 729.6 L2074.3 729.5 L2075.2 729.4 L2076.1 728.9 L2077.0 728.9 L2077.9 729.3 L2078.8 729.6 L2079.7 729.7 L2080.6 729.9 L2081.5 729.8 L2082.4 729.7 L2083.3 729.3 L2084.2 728.9 L2085.1 728.7 L2086.0 728.9 L2086.9 728.7 L2087.8 728.6 L2088.7 728.4 L2089.6 728.8 L2090.5 728.9 L2091.4 728.8 L2092.3 729.0 L2093.2 728.9 L2094.1 728.7 L2095.0 728.9 L2095.9 729.3 L2096.9 729.2 L2097.8 728.8 L2098.7 728.6 L2099.6 728.6 L2100.5 728.3 L2101.4 728.1 L2102.3 728.3 L2103.2 728.2 L2104.1 728.2 L2105.0 728.3 L2105.9 728.4 L2106.8 728.1 L2107.7 728.0 L2108.6 728.0 L2109.5 728.1 L2110.4 728.2 L2111.3 727.9 L2112.2 728.0 L2113.1 728.0 L2114.0 728.0 L2114.9 728.0 L2115.8 727.7 L2116.7 727.8 L2117.6 727.5 L2118.5 727.4 L2119.4 727.7 L2120.3 727.9 L2121.2 727.9 L2122.1 727.9 L2123.0 728.3 L2123.9 728.3 L2124.8 728.7 L2125.7 728.4 L2126.6 728.2 L2127.5 728.1 L2128.4 728.0 L2129.3 728.1 L2130.2 727.8 L2131.1 727.7 L2132.0 727.7 L2132.9 727.7 L2133.8 727.5 L2134.7 727.5 L2135.6 727.2 L2136.5 727.1 L2137.5 727.0 L2138.4 727.1 L2139.3 727.2 L2140.2 727.0 L2141.1 727.0 L2142.0 727.2 L2142.9 727.3 L2143.8 727.6 L2144.7 727.9 L2145.6 728.3 L2146.5 728.6 L2147.4 728.6 L2148.3 728.7 L2149.2 728.8 L2150.1 728.7 L2151.0 728.1 L2151.9 728.3 L2152.8 728.5 L2153.7 728.2 L2154.6 727.8 L2155.5 727.5 L2156.4 727.2 L2157.3 727.3 L2158.2 727.7 L2159.1 727.8 L2160.0 727.7 L2160.9 727.2 L2161.8 727.5 L2162.7 727.5 L2163.6 727.1 L2164.5 727.0 L2165.4 727.0 L2166.3 726.9 L2167.2 727.1 L2168.1 727.0 L2169.0 726.9 L2169.9 727.0 L2170.8 727.0 L2171.7 727.0 L2172.6 727.2 L2173.5 727.5 L2174.4 727.8 L2175.3 727.7 L2176.2 727.6 L2177.1 727.7 L2178.1 727.7 L2179.0 727.8 L2179.9 727.7 L2180.8 727.7 L2181.7 727.6 L2182.6 727.4 L2183.5 727.0 L2184.4 727.0 L2185.3 726.8 L2186.2 726.9 L2187.1 726.8 L2188.0 726.8 L2188.9 726.7 L2189.8 727.0 L2190.7 727.0 L2191.6 726.7 L2192.5 726.7 L2193.4 726.5 L2194.3 726.7 L2195.2 727.0 L2196.1 726.6 L2197.0 726.2 L2197.9 726.0 L2197.9 767.1 L2197.0 767.4 L2196.1 767.7 L2195.2 768.1 L2194.3 768.0 L2193.4 767.9 L2192.5 768.0 L2191.6 767.9 L2190.7 768.0 L2189.8 768.1 L2188.9 767.9 L2188.0 767.9 L2187.1 767.7 L2186.2 767.7 L2185.3 767.5 L2184.4 767.5 L2183.5 767.5 L2182.6 767.7 L2181.7 767.7 L2180.8 767.7 L2179.9 767.9 L2179.0 768.4 L2178.1 768.4 L2177.1 768.1 L2176.2 768.0 L2175.3 767.9 L2174.4 767.7 L2173.5 767.4 L2172.6 767.2 L2171.7 767.2 L2170.8 767.3 L2169.9 767.4 L2169.0 767.3 L2168.1 767.2 L2167.2 767.2 L2166.3 767.0 L2165.4 767.1 L2164.5 767.0 L2163.6 767.0 L2162.7 767.5 L2161.8 767.4 L2160.9 767.1 L2160.0 767.3 L2159.1 767.2 L2158.2 766.8 L2157.3 766.8 L2156.4 766.9 L2155.5 767.0 L2154.6 767.1 L2153.7 767.3 L2152.8 767.6 L2151.9 767.5 L2151.0 767.3 L2150.1 767.7 L2149.2 767.8 L2148.3 767.8 L2147.4 767.9 L2146.5 767.8 L2145.6 767.8 L2144.7 767.4 L2143.8 767.4 L2142.9 767.4 L2142.0 767.2 L2141.1 767.1 L2140.2 767.1 L2139.3 767.5 L2138.4 767.3 L2137.5 766.9 L2136.5 767.2 L2135.6 767.2 L2134.7 767.4 L2133.8 767.3 L2132.9 767.3 L2132.0 767.0 L2131.1 766.9 L2130.2 766.8 L2129.3 767.3 L2128.4 767.4 L2127.5 767.5 L2126.6 767.8 L2125.7 768.2 L2124.8 768.5 L2123.9 768.0 L2123.0 767.9 L2122.1 767.7 L2121.2 767.8 L2120.3 767.7 L2119.4 767.4 L2118.5 767.4 L2117.6 767.2 L2116.7 767.3 L2115.8 767.0 L2114.9 767.4 L2114.0 767.4 L2113.1 767.5 L2112.2 767.4 L2111.3 767.3 L2110.4 767.3 L2109.5 767.3 L2108.6 767.1 L2107.7 767.1 L2106.8 767.2 L2105.9 767.4 L2105.0 767.5 L2104.1 767.4 L2103.2 767.3 L2102.3 767.3 L2101.4 767.1 L2100.5 767.4 L2099.6 767.7 L2098.7 767.7 L2097.8 767.7 L2096.9 767.9 L2095.9 768.1 L2095.0 767.8 L2094.1 767.5 L2093.2 767.5 L2092.3 767.6 L2091.4 767.5 L2090.5 767.7 L2089.6 767.7 L2088.7 767.4 L2087.8 767.4 L2086.9 767.5 L2086.0 767.5 L2085.1 767.4 L2084.2 767.4 L2083.3 767.6 L2082.4 767.9 L2081.5 768.1 L2080.6 767.9 L2079.7 767.9 L2078.8 768.0 L2077.9 768.0 L2077.0 767.4 L2076.1 767.5 L2075.2 767.5 L2074.3 767.6 L2073.4 767.9 L2072.5 767.5 L2071.6 767.6 L2070.7 767.5 L2069.8 767.7 L2068.9 768.0 L2068.0 768.4 L2067.1 768.4 L2066.2 768.2 L2065.3 768.2 L2064.4 768.1 L2063.5 767.8 L2062.6 767.7 L2061.7 767.4 L2060.8 767.6 L2059.9 767.8 L2059.0 767.7 L2058.1 767.4 L2057.2 767.5 L2056.3 767.3 L2055.3 767.3 L2054.4 767.3 L2053.5 767.1 L2052.6 766.9 L2051.7 767.1 L2050.8 766.9 L2049.9 766.9 L2049.0 767.2 L2048.1 767.3 L2047.2 767.7 L2046.3 767.8 L2045.4 767.9 L2044.5 767.9 L2043.6 767.9 L2042.7 767.8 L2041.8 767.6 L2040.9 767.9 L2040.0 767.6 L2039.1 767.4 L2038.2 767.7 L2037.3 767.5 L2036.4 767.6 L2035.5 767.5 L2034.6 767.3 L2033.7 767.5 L2032.8 767.5 L2031.9 767.8 L2031.0 767.7 L2030.1 767.8 L2029.2 768.2 L2028.3 768.4 L2027.4 768.7 L2026.5 768.3 L2025.6 767.9 L2024.7 767.7 L2023.8 767.3 L2022.9 767.0 L2022.0 767.0 L2021.1 767.4 L2020.2 767.5 L2019.3 767.4 L2018.4 767.7 L2017.5 767.5 L2016.6 767.8 L2015.6 767.8 L2014.7 768.0 L2013.8 768.0 L2012.9 768.2 L2012.0 768.0 L2011.1 767.9 L2010.2 768.1 L2009.3 767.8 L2008.4 768.0 L2007.5 768.0 L2006.6 767.8 L2005.7 767.7 L2004.8 767.5 L2003.9 767.7 L2003.0 767.8 L2002.1 767.8 L2001.2 768.1 L2000.3 768.2 L1999.4 767.9 L1998.5 767.9 L1997.6 767.9 L1996.7 768.1 L1995.8 767.8 L1994.9 768.0 L1994.0 768.2 L1993.1 768.0 L1992.2 768.1 L1991.3 768.2 L1990.4 768.4 L1989.5 768.5 L1988.6 768.5 L1987.7 768.6 L1986.8 768.7 L1985.9 768.8 L1985.0 769.1 L1984.1 769.1 L1983.2 769.1 L1982.3 769.3 L1981.4 769.1 L1980.5 769.0 L1979.6 768.8 L1978.7 768.6 L1977.8 768.2 L1976.9 768.1 L1976.0 768.4 L1975.0 768.4 L1974.1 768.1 L1973.2 767.9 L1972.3 768.0 L1971.4 768.2 L1970.5 768.3 L1969.6 768.3 L1968.7 768.4 L1967.8 768.2 L1966.9 768.5 L1966.0 769.0 L1965.1 769.3 L1964.2 769.4 L1963.3 769.3 L1962.4 769.5 L1961.5 769.7 L1960.6 769.4 L1959.7 769.2 L1958.8 769.5 L1957.9 769.6 L1957.0 769.4 L1956.1 769.2 L1955.2 769.5 L1954.3 770.0 L1953.4 769.6 L1952.5 769.2 L1951.6 769.3 L1950.7 769.5 L1949.8 769.6 L1948.9 769.9 L1948.0 770.1 L1947.1 769.8 L1946.2 769.7 L1945.3 769.6 L1944.4 769.6 L1943.5 769.6 L1942.6 769.4 L1941.7 769.3 L1940.8 769.1 L1939.9 768.9 L1939.0 768.8 L1938.1 768.8 L1937.2 768.6 L1936.3 768.7 L1935.4 768.6 L1934.4 768.9 L1933.5 769.1 L1932.6 768.7 L1931.7 768.6 L1930.8 768.3 L1929.9 768.4 L1929.0 768.6 L1928.1 768.8 L1927.2 768.8 L1926.3 768.9 L1925.4 768.9 L1924.5 769.0 L1923.6 769.2 L1922.7 769.2 L1921.8 769.4 L1920.9 769.6 L1920.0 769.7 L1919.1 769.6 L1918.2 769.3 L1917.3 769.2 L1916.4 769.3 L1915.5 769.7 L1914.6 769.5 L1913.7 769.3 L1912.8 769.4 L1911.9 769.3 L1911.0 769.3 L1910.1 769.4 L1909.2 769.3 L1908.3 768.8 L1907.4 768.8 L1906.5 768.7 L1905.6 768.7 L1904.7 768.5 L1903.8 768.5 L1902.9 768.2 L1902.0 768.2 L1901.1 768.4 L1900.2 768.1 L1899.3 768.3 L1898.4 768.6 L1897.5 768.7 L1896.6 768.6 L1895.7 768.7 L1894.8 768.7 L1893.8 768.4 L1892.9 768.7 L1892.0 768.4 L1891.1 768.1 L1890.2 768.3 L1889.3 768.6 L1888.4 768.6 L1887.5 768.5 L1886.6 768.4 L1885.7 768.4 L1884.8 768.4 L1883.9 768.6 L1883.0 768.8 L1882.1 768.6 L1881.2 768.6 L1880.3 768.7 L1879.4 769.0 L1878.5 769.3 L1877.6 769.2 L1876.7 768.9 L1875.8 769.0 L1874.9 769.1 L1874.0 769.0Z" fill="#273650"/><path d="M1874.0 690.4 L1874.9 690.6 L1875.8 690.7 L1876.7 690.7 L1877.6 690.7 L1878.5 690.7 L1879.4 690.4 L1880.3 690.1 L1881.2 689.9 L1882.1 690.0 L1883.0 690.1 L1883.9 690.1 L1884.8 690.2 L1885.7 690.3 L1886.6 690.4 L1887.5 690.1 L1888.4 690.1 L1889.3 690.1 L1890.2 689.9 L1891.1 689.9 L1892.0 690.0 L1892.9 690.1 L1893.8 690.2 L1894.8 690.3 L1895.7 690.5 L1896.6 690.4 L1897.5 690.4 L1898.4 690.3 L1899.3 690.4 L1900.2 690.3 L1901.1 690.6 L1902.0 690.6 L1902.9 690.6 L1903.8 691.0 L1904.7 691.1 L1905.6 691.1 L1906.5 691.3 L1907.4 691.2 L1908.3 691.3 L1909.2 691.3 L1910.1 691.4 L1911.0 691.4 L1911.9 691.2 L1912.8 691.0 L1913.7 691.1 L1914.6 691.3 L1915.5 691.7 L1916.4 691.4 L1917.3 691.4 L1918.2 691.6 L1919.1 691.4 L1920.0 691.4 L1920.9 691.2 L1921.8 691.2 L1922.7 691.2 L1923.6 691.2 L1924.5 691.1 L1925.4 691.1 L1926.3 691.1 L1927.2 691.2 L1928.1 691.2 L1929.0 690.9 L1929.9 690.8 L1930.8 690.7 L1931.7 690.6 L1932.6 690.9 L1933.5 691.1 L1934.4 690.9 L1935.4 690.6 L1936.3 690.6 L1937.2 690.8 L1938.1 690.9 L1939.0 690.8 L1939.9 690.9 L1940.8 691.1 L1941.7 691.5 L1942.6 691.5 L1943.5 691.6 L1944.4 691.4 L1945.3 691.3 L1946.2 691.3 L1947.1 691.4 L1948.0 691.8 L1948.9 691.9 L1949.8 691.8 L1950.7 692.0 L1951.6 691.9 L1952.5 691.9 L1953.4 691.8 L1954.3 691.8 L1955.2 691.6 L1956.1 691.4 L1957.0 691.6 L1957.9 691.5 L1958.8 691.3 L1959.7 691.2 L1960.6 691.5 L1961.5 691.8 L1962.4 691.9 L1963.3 691.8 L1964.2 691.8 L1965.1 691.5 L1966.0 691.4 L1966.9 691.2 L1967.8 690.7 L1968.7 690.8 L1969.6 690.9 L1970.5 690.7 L1971.4 690.8 L1972.3 690.8 L1973.2 690.9 L1974.1 691.0 L1975.0 691.2 L1976.0 691.3 L1976.9 691.3 L1977.8 691.1 L1978.7 691.4 L1979.6 691.4 L1980.5 691.7 L1981.4 691.7 L1982.3 691.9 L1983.2 691.8 L1984.1 691.7 L1985.0 691.8 L1985.9 691.8 L1986.8 691.7 L1987.7 691.7 L1988.6 691.7 L1989.5 691.5 L1990.4 691.3 L1991.3 691.3 L1992.2 690.9 L1993.1 691.0 L1994.0 691.1 L1994.9 690.8 L1995.8 690.6 L1996.7 690.5 L1997.6 690.4 L1998.5 690.1 L1999.4 689.8 L2000.3 689.8 L2001.2 689.7 L2002.1 689.8 L2003.0 689.6 L2003.9 689.5 L2004.8 689.4 L2005.7 689.2 L2006.6 689.4 L2007.5 689.6 L2008.4 689.7 L2009.3 689.7 L2010.2 689.7 L2011.1 689.6 L2012.0 689.7 L2012.9 690.0 L2013.8 690.0 L2014.7 690.1 L2015.6 690.1 L2016.6 689.9 L2017.5 689.9 L2018.4 689.7 L2019.3 689.5 L2020.2 689.5 L2021.1 689.4 L2022.0 689.3 L2022.9 689.3 L2023.8 689.4 L2024.7 689.5 L2025.6 689.7 L2026.5 690.1 L2027.4 690.2 L2028.3 689.8 L2029.2 689.8 L2030.1 689.7 L2031.0 689.7 L2031.9 689.7 L2032.8 689.7 L2033.7 690.0 L2034.6 690.1 L2035.5 690.1 L2036.4 690.2 L2037.3 690.1 L2038.2 690.0 L2039.1 689.9 L2040.0 690.2 L2040.9 690.3 L2041.8 690.5 L2042.7 690.7 L2043.6 690.8 L2044.5 690.8 L2045.4 690.9 L2046.3 690.9 L2047.2 690.7 L2048.1 690.6 L2049.0 690.6 L2049.9 690.5 L2050.8 690.6 L2051.7 690.4 L2052.6 690.3 L2053.5 690.5 L2054.4 690.7 L2055.3 690.8 L2056.3 690.9 L2057.2 690.9 L2058.1 691.0 L2059.0 691.0 L2059.9 691.0 L2060.8 690.9 L2061.7 690.7 L2062.6 690.9 L2063.5 691.1 L2064.4 690.9 L2065.3 690.5 L2066.2 690.4 L2067.1 690.6 L2068.0 690.8 L2068.9 690.6 L2069.8 690.7 L2070.7 690.6 L2071.6 690.7 L2072.5 690.5 L2073.4 690.7 L2074.3 690.5 L2075.2 690.4 L2076.1 690.1 L2077.0 690.1 L2077.9 690.5 L2078.8 690.8 L2079.7 691.0 L2080.6 691.1 L2081.5 690.9 L2082.4 690.7 L2083.3 690.3 L2084.2 690.0 L2085.1 689.8 L2086.0 689.9 L2086.9 689.7 L2087.8 689.5 L2088.7 689.1 L2089.6 689.2 L2090.5 689.2 L2091.4 689.2 L2092.3 689.1 L2093.2 689.0 L2094.1 689.1 L2095.0 689.2 L2095.9 689.4 L2096.9 689.4 L2097.8 689.0 L2098.7 688.8 L2099.6 688.8 L2100.5 688.7 L2101.4 688.6 L2102.3 688.8 L2103.2 688.9 L2104.1 688.9 L2105.0 688.9 L2105.9 689.1 L2106.8 689.2 L2107.7 689.2 L2108.6 689.2 L2109.5 689.1 L2110.4 689.1 L2111.3 689.0 L2112.2 689.1 L2113.1 689.1 L2114.0 689.1 L2114.9 689.2 L2115.8 689.0 L2116.7 688.9 L2117.6 688.9 L2118.5 689.1 L2119.4 689.4 L2120.3 689.6 L2121.2 689.8 L2122.1 689.9 L2123.0 690.3 L2123.9 690.2 L2124.8 690.3 L2125.7 690.1 L2126.6 690.1 L2127.5 690.2 L2128.4 690.3 L2129.3 690.3 L2130.2 690.3 L2131.1 690.4 L2132.0 690.5 L2132.9 690.4 L2133.8 690.1 L2134.7 690.4 L2135.6 690.2 L2136.5 690.0 L2137.5 690.0 L2138.4 690.0 L2139.3 689.9 L2140.2 689.9 L2141.1 690.0 L2142.0 690.2 L2142.9 690.0 L2143.8 690.3 L2144.7 690.4 L2145.6 690.6 L2146.5 690.8 L2147.4 690.7 L2148.3 690.7 L2149.2 690.7 L2150.1 690.4 L2151.0 690.0 L2151.9 690.0 L2152.8 690.1 L2153.7 690.0 L2154.6 689.8 L2155.5 689.6 L2156.4 689.5 L2157.3 689.2 L2158.2 689.3 L2159.1 689.3 L2160.0 689.3 L2160.9 689.3 L2161.8 689.6 L2162.7 689.7 L2163.6 689.4 L2164.5 689.6 L2165.4 689.6 L2166.3 689.4 L2167.2 689.6 L2168.1 689.5 L2169.0 689.4 L2169.9 689.5 L2170.8 689.5 L2171.7 689.6 L2172.6 689.9 L2173.5 690.1 L2174.4 690.4 L2175.3 690.3 L2176.2 690.0 L2177.1 689.9 L2178.1 690.1 L2179.0 690.2 L2179.9 690.3 L2180.8 690.0 L2181.7 690.1 L2182.6 690.0 L2183.5 689.8 L2184.4 689.8 L2185.3 689.5 L2186.2 689.5 L2187.1 689.6 L2188.0 689.5 L2188.9 689.4 L2189.8 689.7 L2190.7 689.8 L2191.6 689.6 L2192.5 689.4 L2193.4 689.5 L2194.3 689.7 L2195.2 689.9 L2196.1 689.6 L2197.0 689.4 L2197.9 689.4 L2197.9 726.0 L2197.0 726.2 L2196.1 726.6 L2195.2 727.0 L2194.3 726.7 L2193.4 726.5 L2192.5 726.7 L2191.6 726.7 L2190.7 727.0 L2189.8 727.0 L2188.9 726.7 L2188.0 726.8 L2187.1 726.8 L2186.2 726.9 L2185.3 726.8 L2184.4 727.0 L2183.5 727.0 L2182.6 727.4 L2181.7 727.6 L2180.8 727.7 L2179.9 727.7 L2179.0 727.8 L2178.1 727.7 L2177.1 727.7 L2176.2 727.6 L2175.3 727.7 L2174.4 727.8 L2173.5 727.5 L2172.6 727.2 L2171.7 727.0 L2170.8 727.0 L2169.9 727.0 L2169.0 726.9 L2168.1 727.0 L2167.2 727.1 L2166.3 726.9 L2165.4 727.0 L2164.5 727.0 L2163.6 727.1 L2162.7 727.5 L2161.8 727.5 L2160.9 727.2 L2160.0 727.7 L2159.1 727.8 L2158.2 727.7 L2157.3 727.3 L2156.4 727.2 L2155.5 727.5 L2154.6 727.8 L2153.7 728.2 L2152.8 728.5 L2151.9 728.3 L2151.0 728.1 L2150.1 728.7 L2149.2 728.8 L2148.3 728.7 L2147.4 728.6 L2146.5 728.6 L2145.6 728.3 L2144.7 727.9 L2143.8 727.6 L2142.9 727.3 L2142.0 727.2 L2141.1 727.0 L2140.2 727.0 L2139.3 727.2 L2138.4 727.1 L2137.5 727.0 L2136.5 727.1 L2135.6 727.2 L2134.7 727.5 L2133.8 727.5 L2132.9 727.7 L2132.0 727.7 L2131.1 727.7 L2130.2 727.8 L2129.3 728.1 L2128.4 728.0 L2127.5 728.1 L2126.6 728.2 L2125.7 728.4 L2124.8 728.7 L2123.9 728.3 L2123.0 728.3 L2122.1 727.9 L2121.2 727.9 L2120.3 727.9 L2119.4 727.7 L2118.5 727.4 L2117.6 727.5 L2116.7 727.8 L2115.8 727.7 L2114.9 728.0 L2114.0 728.0 L2113.1 728.0 L2112.2 728.0 L2111.3 727.9 L2110.4 728.2 L2109.5 728.1 L2108.6 728.0 L2107.7 728.0 L2106.8 728.1 L2105.9 728.4 L2105.0 728.3 L2104.1 728.2 L2103.2 728.2 L2102.3 728.3 L2101.4 728.1 L2100.5 728.3 L2099.6 728.6 L2098.7 728.6 L2097.8 728.8 L2096.9 729.2 L2095.9 729.3 L2095.0 728.9 L2094.1 728.7 L2093.2 728.9 L2092.3 729.0 L2091.4 728.8 L2090.5 728.9 L2089.6 728.8 L2088.7 728.4 L2087.8 728.6 L2086.9 728.7 L2086.0 728.9 L2085.1 728.7 L2084.2 728.9 L2083.3 729.3 L2082.4 729.7 L2081.5 729.8 L2080.6 729.9 L2079.7 729.7 L2078.8 729.6 L2077.9 729.3 L2077.0 728.9 L2076.1 728.9 L2075.2 729.4 L2074.3 729.5 L2073.4 729.6 L2072.5 729.3 L2071.6 729.2 L2070.7 729.2 L2069.8 729.1 L2068.9 729.2 L2068.0 729.5 L2067.1 729.3 L2066.2 729.3 L2065.3 729.4 L2064.4 729.5 L2063.5 729.4 L2062.6 729.3 L2061.7 728.9 L2060.8 729.0 L2059.9 729.0 L2059.0 729.1 L2058.1 729.1 L2057.2 729.2 L2056.3 729.1 L2055.3 729.0 L2054.4 729.1 L2053.5 729.1 L2052.6 728.9 L2051.7 728.8 L2050.8 728.8 L2049.9 728.9 L2049.0 729.2 L2048.1 729.2 L2047.2 729.3 L2046.3 729.7 L2045.4 729.8 L2044.5 729.7 L2043.6 729.7 L2042.7 729.5 L2041.8 729.3 L2040.9 729.2 L2040.0 729.0 L2039.1 728.7 L2038.2 729.0 L2037.3 728.7 L2036.4 728.8 L2035.5 728.7 L2034.6 728.7 L2033.7 728.9 L2032.8 728.8 L2031.9 729.0 L2031.0 729.1 L2030.1 729.4 L2029.2 729.8 L2028.3 730.0 L2027.4 730.5 L2026.5 730.2 L2025.6 729.7 L2024.7 729.5 L2023.8 729.0 L2022.9 729.0 L2022.0 728.9 L2021.1 729.2 L2020.2 729.3 L2019.3 729.2 L2018.4 729.7 L2017.5 729.6 L2016.6 729.9 L2015.6 729.8 L2014.7 730.1 L2013.8 729.6 L2012.9 729.6 L2012.0 729.5 L2011.1 729.3 L2010.2 729.4 L2009.3 729.2 L2008.4 729.4 L2007.5 729.1 L2006.6 728.6 L2005.7 728.3 L2004.8 728.3 L2003.9 728.7 L2003.0 728.8 L2002.1 728.8 L2001.2 728.7 L2000.3 728.7 L1999.4 728.5 L1998.5 728.6 L1997.6 728.9 L1996.7 729.3 L1995.8 729.3 L1994.9 729.5 L1994.0 729.7 L1993.1 729.7 L1992.2 729.7 L1991.3 729.9 L1990.4 730.2 L1989.5 730.1 L1988.6 730.2 L1987.7 730.1 L1986.8 729.9 L1985.9 730.0 L1985.0 730.2 L1984.1 730.4 L1983.2 730.4 L1982.3 730.5 L1981.4 730.5 L1980.5 730.5 L1979.6 730.1 L1978.7 729.8 L1977.8 729.5 L1976.9 729.6 L1976.0 729.8 L1975.0 729.8 L1974.1 729.3 L1973.2 729.1 L1972.3 729.1 L1971.4 729.2 L1970.5 729.5 L1969.6 729.6 L1968.7 729.9 L1967.8 729.6 L1966.9 729.9 L1966.0 730.2 L1965.1 730.7 L1964.2 730.9 L1963.3 730.9 L1962.4 730.9 L1961.5 731.1 L1960.6 731.0 L1959.7 730.9 L1958.8 731.2 L1957.9 731.4 L1957.0 731.1 L1956.1 730.8 L1955.2 731.0 L1954.3 731.3 L1953.4 731.0 L1952.5 730.6 L1951.6 730.7 L1950.7 730.7 L1949.8 730.6 L1948.9 730.8 L1948.0 730.9 L1947.1 730.5 L1946.2 730.6 L1945.3 730.6 L1944.4 730.6 L1943.5 730.5 L1942.6 730.1 L1941.7 730.0 L1940.8 729.6 L1939.9 729.3 L1939.0 729.4 L1938.1 729.4 L1937.2 729.2 L1936.3 729.4 L1935.4 729.5 L1934.4 729.5 L1933.5 729.7 L1932.6 729.5 L1931.7 729.3 L1930.8 729.3 L1929.9 729.4 L1929.0 729.4 L1928.1 729.6 L1927.2 729.8 L1926.3 729.6 L1925.4 729.5 L1924.5 729.6 L1923.6 729.5 L1922.7 729.5 L1921.8 729.4 L1920.9 729.4 L1920.0 729.6 L1919.1 729.6 L1918.2 729.7 L1917.3 729.7 L1916.4 729.7 L1915.5 730.0 L1914.6 729.6 L1913.7 729.4 L1912.8 729.5 L1911.9 729.6 L1911.0 729.9 L1910.1 729.8 L1909.2 729.8 L1908.3 729.6 L1907.4 729.7 L1906.5 729.6 L1905.6 729.5 L1904.7 729.5 L1903.8 729.2 L1902.9 728.9 L1902.0 729.1 L1901.1 729.2 L1900.2 728.9 L1899.3 729.1 L1898.4 729.0 L1897.5 729.2 L1896.6 729.3 L1895.7 729.1 L1894.8 729.2 L1893.8 729.0 L1892.9 729.1 L1892.0 729.0 L1891.1 728.8 L1890.2 728.7 L1889.3 729.0 L1888.4 729.3 L1887.5 729.2 L1886.6 729.2 L1885.7 729.2 L1884.8 729.2 L1883.9 729.1 L1883.0 729.5 L1882.1 729.4 L1881.2 729.4 L1880.3 729.4 L1879.4 729.6 L1878.5 730.1 L1877.6 730.1 L1876.7 729.8 L1875.8 729.8 L1874.9 729.8 L1874.0 729.7Z" fill="#54382a"/><path d="M1874.0 651.0 L1874.9 651.0 L1875.8 651.0 L1876.7 651.0 L1877.6 651.0 L1878.5 651.0 L1879.4 651.0 L1880.3 651.0 L1881.2 651.0 L1882.1 651.0 L1883.0 651.0 L1883.9 651.0 L1884.8 651.0 L1885.7 651.0 L1886.6 651.0 L1887.5 651.0 L1888.4 651.0 L1889.3 651.0 L1890.2 651.0 L1891.1 651.0 L1892.0 651.0 L1892.9 651.0 L1893.8 651.0 L1894.8 651.0 L1895.7 651.0 L1896.6 651.0 L1897.5 651.0 L1898.4 651.0 L1899.3 651.0 L1900.2 651.0 L1901.1 651.0 L1902.0 651.0 L1902.9 651.0 L1903.8 651.0 L1904.7 651.0 L1905.6 651.0 L1906.5 651.0 L1907.4 651.0 L1908.3 651.0 L1909.2 651.0 L1910.1 651.0 L1911.0 651.0 L1911.9 651.0 L1912.8 651.0 L1913.7 651.0 L1914.6 651.0 L1915.5 651.0 L1916.4 651.0 L1917.3 651.0 L1918.2 651.0 L1919.1 651.0 L1920.0 651.0 L1920.9 651.0 L1921.8 651.0 L1922.7 651.0 L1923.6 651.0 L1924.5 651.0 L1925.4 651.0 L1926.3 651.0 L1927.2 651.0 L1928.1 651.0 L1929.0 651.0 L1929.9 651.0 L1930.8 651.0 L1931.7 651.0 L1932.6 651.0 L1933.5 651.0 L1934.4 651.0 L1935.4 651.0 L1936.3 651.0 L1937.2 651.0 L1938.1 651.0 L1939.0 651.0 L1939.9 651.0 L1940.8 651.0 L1941.7 651.0 L1942.6 651.0 L1943.5 651.0 L1944.4 651.0 L1945.3 651.0 L1946.2 651.0 L1947.1 651.0 L1948.0 651.0 L1948.9 651.0 L1949.8 651.0 L1950.7 651.0 L1951.6 651.0 L1952.5 651.0 L1953.4 651.0 L1954.3 651.0 L1955.2 651.0 L1956.1 651.0 L1957.0 651.0 L1957.9 651.0 L1958.8 651.0 L1959.7 651.0 L1960.6 651.0 L1961.5 651.0 L1962.4 651.0 L1963.3 651.0 L1964.2 651.0 L1965.1 651.0 L1966.0 651.0 L1966.9 651.0 L1967.8 651.0 L1968.7 651.0 L1969.6 651.0 L1970.5 651.0 L1971.4 651.0 L1972.3 651.0 L1973.2 651.0 L1974.1 651.0 L1975.0 651.0 L1976.0 651.0 L1976.9 651.0 L1977.8 651.0 L1978.7 651.0 L1979.6 651.0 L1980.5 651.0 L1981.4 651.0 L1982.3 651.0 L1983.2 651.0 L1984.1 651.0 L1985.0 651.0 L1985.9 651.0 L1986.8 651.0 L1987.7 651.0 L1988.6 651.0 L1989.5 651.0 L1990.4 651.0 L1991.3 651.0 L1992.2 651.0 L1993.1 651.0 L1994.0 651.0 L1994.9 651.0 L1995.8 651.0 L1996.7 651.0 L1997.6 651.0 L1998.5 651.0 L1999.4 651.0 L2000.3 651.0 L2001.2 651.0 L2002.1 651.0 L2003.0 651.0 L2003.9 651.0 L2004.8 651.0 L2005.7 651.0 L2006.6 651.0 L2007.5 651.0 L2008.4 651.0 L2009.3 651.0 L2010.2 651.0 L2011.1 651.0 L2012.0 651.0 L2012.9 651.0 L2013.8 651.0 L2014.7 651.0 L2015.6 651.0 L2016.6 651.0 L2017.5 651.0 L2018.4 651.0 L2019.3 651.0 L2020.2 651.0 L2021.1 651.0 L2022.0 651.0 L2022.9 651.0 L2023.8 651.0 L2024.7 651.0 L2025.6 651.0 L2026.5 651.0 L2027.4 651.0 L2028.3 651.0 L2029.2 651.0 L2030.1 651.0 L2031.0 651.0 L2031.9 651.0 L2032.8 651.0 L2033.7 651.0 L2034.6 651.0 L2035.5 651.0 L2036.4 651.0 L2037.3 651.0 L2038.2 651.0 L2039.1 651.0 L2040.0 651.0 L2040.9 651.0 L2041.8 651.0 L2042.7 651.0 L2043.6 651.0 L2044.5 651.0 L2045.4 651.0 L2046.3 651.0 L2047.2 651.0 L2048.1 651.0 L2049.0 651.0 L2049.9 651.0 L2050.8 651.0 L2051.7 651.0 L2052.6 651.0 L2053.5 651.0 L2054.4 651.0 L2055.3 651.0 L2056.3 651.0 L2057.2 651.0 L2058.1 651.0 L2059.0 651.0 L2059.9 651.0 L2060.8 651.0 L2061.7 651.0 L2062.6 651.0 L2063.5 651.0 L2064.4 651.0 L2065.3 651.0 L2066.2 651.0 L2067.1 651.0 L2068.0 651.0 L2068.9 651.0 L2069.8 651.0 L2070.7 651.0 L2071.6 651.0 L2072.5 651.0 L2073.4 651.0 L2074.3 651.0 L2075.2 651.0 L2076.1 651.0 L2077.0 651.0 L2077.9 651.0 L2078.8 651.0 L2079.7 651.0 L2080.6 651.0 L2081.5 651.0 L2082.4 651.0 L2083.3 651.0 L2084.2 651.0 L2085.1 651.0 L2086.0 651.0 L2086.9 651.0 L2087.8 651.0 L2088.7 651.0 L2089.6 651.0 L2090.5 651.0 L2091.4 651.0 L2092.3 651.0 L2093.2 651.0 L2094.1 651.0 L2095.0 651.0 L2095.9 651.0 L2096.9 651.0 L2097.8 651.0 L2098.7 651.0 L2099.6 651.0 L2100.5 651.0 L2101.4 651.0 L2102.3 651.0 L2103.2 651.0 L2104.1 651.0 L2105.0 651.0 L2105.9 651.0 L2106.8 651.0 L2107.7 651.0 L2108.6 651.0 L2109.5 651.0 L2110.4 651.0 L2111.3 651.0 L2112.2 651.0 L2113.1 651.0 L2114.0 651.0 L2114.9 651.0 L2115.8 651.0 L2116.7 651.0 L2117.6 651.0 L2118.5 651.0 L2119.4 651.0 L2120.3 651.0 L2121.2 651.0 L2122.1 651.0 L2123.0 651.0 L2123.9 651.0 L2124.8 651.0 L2125.7 651.0 L2126.6 651.0 L2127.5 651.0 L2128.4 651.0 L2129.3 651.0 L2130.2 651.0 L2131.1 651.0 L2132.0 651.0 L2132.9 651.0 L2133.8 651.0 L2134.7 651.0 L2135.6 651.0 L2136.5 651.0 L2137.5 651.0 L2138.4 651.0 L2139.3 651.0 L2140.2 651.0 L2141.1 651.0 L2142.0 651.0 L2142.9 651.0 L2143.8 651.0 L2144.7 651.0 L2145.6 651.0 L2146.5 651.0 L2147.4 651.0 L2148.3 651.0 L2149.2 651.0 L2150.1 651.0 L2151.0 651.0 L2151.9 651.0 L2152.8 651.0 L2153.7 651.0 L2154.6 651.0 L2155.5 651.0 L2156.4 651.0 L2157.3 651.0 L2158.2 651.0 L2159.1 651.0 L2160.0 651.0 L2160.9 651.0 L2161.8 651.0 L2162.7 651.0 L2163.6 651.0 L2164.5 651.0 L2165.4 651.0 L2166.3 651.0 L2167.2 651.0 L2168.1 651.0 L2169.0 651.0 L2169.9 651.0 L2170.8 651.0 L2171.7 651.0 L2172.6 651.0 L2173.5 651.0 L2174.4 651.0 L2175.3 651.0 L2176.2 651.0 L2177.1 651.0 L2178.1 651.0 L2179.0 651.0 L2179.9 651.0 L2180.8 651.0 L2181.7 651.0 L2182.6 651.0 L2183.5 651.0 L2184.4 651.0 L2185.3 651.0 L2186.2 651.0 L2187.1 651.0 L2188.0 651.0 L2188.9 651.0 L2189.8 651.0 L2190.7 651.0 L2191.6 651.0 L2192.5 651.0 L2193.4 651.0 L2194.3 651.0 L2195.2 651.0 L2196.1 651.0 L2197.0 651.0 L2197.9 651.0 L2197.9 689.4 L2197.0 689.4 L2196.1 689.6 L2195.2 689.9 L2194.3 689.7 L2193.4 689.5 L2192.5 689.4 L2191.6 689.6 L2190.7 689.8 L2189.8 689.7 L2188.9 689.4 L2188.0 689.5 L2187.1 689.6 L2186.2 689.5 L2185.3 689.5 L2184.4 689.8 L2183.5 689.8 L2182.6 690.0 L2181.7 690.1 L2180.8 690.0 L2179.9 690.3 L2179.0 690.2 L2178.1 690.1 L2177.1 689.9 L2176.2 690.0 L2175.3 690.3 L2174.4 690.4 L2173.5 690.1 L2172.6 689.9 L2171.7 689.6 L2170.8 689.5 L2169.9 689.5 L2169.0 689.4 L2168.1 689.5 L2167.2 689.6 L2166.3 689.4 L2165.4 689.6 L2164.5 689.6 L2163.6 689.4 L2162.7 689.7 L2161.8 689.6 L2160.9 689.3 L2160.0 689.3 L2159.1 689.3 L2158.2 689.3 L2157.3 689.2 L2156.4 689.5 L2155.5 689.6 L2154.6 689.8 L2153.7 690.0 L2152.8 690.1 L2151.9 690.0 L2151.0 690.0 L2150.1 690.4 L2149.2 690.7 L2148.3 690.7 L2147.4 690.7 L2146.5 690.8 L2145.6 690.6 L2144.7 690.4 L2143.8 690.3 L2142.9 690.0 L2142.0 690.2 L2141.1 690.0 L2140.2 689.9 L2139.3 689.9 L2138.4 690.0 L2137.5 690.0 L2136.5 690.0 L2135.6 690.2 L2134.7 690.4 L2133.8 690.1 L2132.9 690.4 L2132.0 690.5 L2131.1 690.4 L2130.2 690.3 L2129.3 690.3 L2128.4 690.3 L2127.5 690.2 L2126.6 690.1 L2125.7 690.1 L2124.8 690.3 L2123.9 690.2 L2123.0 690.3 L2122.1 689.9 L2121.2 689.8 L2120.3 689.6 L2119.4 689.4 L2118.5 689.1 L2117.6 688.9 L2116.7 688.9 L2115.8 689.0 L2114.9 689.2 L2114.0 689.1 L2113.1 689.1 L2112.2 689.1 L2111.3 689.0 L2110.4 689.1 L2109.5 689.1 L2108.6 689.2 L2107.7 689.2 L2106.8 689.2 L2105.9 689.1 L2105.0 688.9 L2104.1 688.9 L2103.2 688.9 L2102.3 688.8 L2101.4 688.6 L2100.5 688.7 L2099.6 688.8 L2098.7 688.8 L2097.8 689.0 L2096.9 689.4 L2095.9 689.4 L2095.0 689.2 L2094.1 689.1 L2093.2 689.0 L2092.3 689.1 L2091.4 689.2 L2090.5 689.2 L2089.6 689.2 L2088.7 689.1 L2087.8 689.5 L2086.9 689.7 L2086.0 689.9 L2085.1 689.8 L2084.2 690.0 L2083.3 690.3 L2082.4 690.7 L2081.5 690.9 L2080.6 691.1 L2079.7 691.0 L2078.8 690.8 L2077.9 690.5 L2077.0 690.1 L2076.1 690.1 L2075.2 690.4 L2074.3 690.5 L2073.4 690.7 L2072.5 690.5 L2071.6 690.7 L2070.7 690.6 L2069.8 690.7 L2068.9 690.6 L2068.0 690.8 L2067.1 690.6 L2066.2 690.4 L2065.3 690.5 L2064.4 690.9 L2063.5 691.1 L2062.6 690.9 L2061.7 690.7 L2060.8 690.9 L2059.9 691.0 L2059.0 691.0 L2058.1 691.0 L2057.2 690.9 L2056.3 690.9 L2055.3 690.8 L2054.4 690.7 L2053.5 690.5 L2052.6 690.3 L2051.7 690.4 L2050.8 690.6 L2049.9 690.5 L2049.0 690.6 L2048.1 690.6 L2047.2 690.7 L2046.3 690.9 L2045.4 690.9 L2044.5 690.8 L2043.6 690.8 L2042.7 690.7 L2041.8 690.5 L2040.9 690.3 L2040.0 690.2 L2039.1 689.9 L2038.2 690.0 L2037.3 690.1 L2036.4 690.2 L2035.5 690.1 L2034.6 690.1 L2033.7 690.0 L2032.8 689.7 L2031.9 689.7 L2031.0 689.7 L2030.1 689.7 L2029.2 689.8 L2028.3 689.8 L2027.4 690.2 L2026.5 690.1 L2025.6 689.7 L2024.7 689.5 L2023.8 689.4 L2022.9 689.3 L2022.0 689.3 L2021.1 689.4 L2020.2 689.5 L2019.3 689.5 L2018.4 689.7 L2017.5 689.9 L2016.6 689.9 L2015.6 690.1 L2014.7 690.1 L2013.8 690.0 L2012.9 690.0 L2012.0 689.7 L2011.1 689.6 L2010.2 689.7 L2009.3 689.7 L2008.4 689.7 L2007.5 689.6 L2006.6 689.4 L2005.7 689.2 L2004.8 689.4 L2003.9 689.5 L2003.0 689.6 L2002.1 689.8 L2001.2 689.7 L2000.3 689.8 L1999.4 689.8 L1998.5 690.1 L1997.6 690.4 L1996.7 690.5 L1995.8 690.6 L1994.9 690.8 L1994.0 691.1 L1993.1 691.0 L1992.2 690.9 L1991.3 691.3 L1990.4 691.3 L1989.5 691.5 L1988.6 691.7 L1987.7 691.7 L1986.8 691.7 L1985.9 691.8 L1985.0 691.8 L1984.1 691.7 L1983.2 691.8 L1982.3 691.9 L1981.4 691.7 L1980.5 691.7 L1979.6 691.4 L1978.7 691.4 L1977.8 691.1 L1976.9 691.3 L1976.0 691.3 L1975.0 691.2 L1974.1 691.0 L1973.2 690.9 L1972.3 690.8 L1971.4 690.8 L1970.5 690.7 L1969.6 690.9 L1968.7 690.8 L1967.8 690.7 L1966.9 691.2 L1966.0 691.4 L1965.1 691.5 L1964.2 691.8 L1963.3 691.8 L1962.4 691.9 L1961.5 691.8 L1960.6 691.5 L1959.7 691.2 L1958.8 691.3 L1957.9 691.5 L1957.0 691.6 L1956.1 691.4 L1955.2 691.6 L1954.3 691.8 L1953.4 691.8 L1952.5 691.9 L1951.6 691.9 L1950.7 692.0 L1949.8 691.8 L1948.9 691.9 L1948.0 691.8 L1947.1 691.4 L1946.2 691.3 L1945.3 691.3 L1944.4 691.4 L1943.5 691.6 L1942.6 691.5 L1941.7 691.5 L1940.8 691.1 L1939.9 690.9 L1939.0 690.8 L1938.1 690.9 L1937.2 690.8 L1936.3 690.6 L1935.4 690.6 L1934.4 690.9 L1933.5 691.1 L1932.6 690.9 L1931.7 690.6 L1930.8 690.7 L1929.9 690.8 L1929.0 690.9 L1928.1 691.2 L1927.2 691.2 L1926.3 691.1 L1925.4 691.1 L1924.5 691.1 L1923.6 691.2 L1922.7 691.2 L1921.8 691.2 L1920.9 691.2 L1920.0 691.4 L1919.1 691.4 L1918.2 691.6 L1917.3 691.4 L1916.4 691.4 L1915.5 691.7 L1914.6 691.3 L1913.7 691.1 L1912.8 691.0 L1911.9 691.2 L1911.0 691.4 L1910.1 691.4 L1909.2 691.3 L1908.3 691.3 L1907.4 691.2 L1906.5 691.3 L1905.6 691.1 L1904.7 691.1 L1903.8 691.0 L1902.9 690.6 L1902.0 690.6 L1901.1 690.6 L1900.2 690.3 L1899.3 690.4 L1898.4 690.3 L1897.5 690.4 L1896.6 690.4 L1895.7 690.5 L1894.8 690.3 L1893.8 690.2 L1892.9 690.1 L1892.0 690.0 L1891.1 689.9 L1890.2 689.9 L1889.3 690.1 L1888.4 690.1 L1887.5 690.1 L1886.6 690.4 L1885.7 690.3 L1884.8 690.2 L1883.9 690.1 L1883.0 690.1 L1882.1 690.0 L1881.2 689.9 L1880.3 690.1 L1879.4 690.4 L1878.5 690.7 L1877.6 690.7 L1876.7 690.7 L1875.8 690.7 L1874.9 690.6 L1874.0 690.4Z" fill="#4f2530"/><path d="M1874.0 808.4 L1874.9 808.3 L1875.8 808.3 L1876.7 808.5 L1877.6 808.4 L1878.5 808.4 L1879.4 808.1 L1880.3 808.0 L1881.2 807.9 L1882.1 808.0 L1883.0 808.0 L1883.9 808.1 L1884.8 808.0 L1885.7 808.1 L1886.6 808.1 L1887.5 808.4 L1888.4 808.2 L1889.3 808.3 L1890.2 808.1 L1891.1 808.0 L1892.0 808.1 L1892.9 808.2 L1893.8 808.1 L1894.8 808.3 L1895.7 808.2 L1896.6 808.3 L1897.5 808.5 L1898.4 808.4 L1899.3 808.2 L1900.2 808.0 L1901.1 808.0 L1902.0 807.9 L1902.9 807.9 L1903.8 808.0 L1904.7 807.9 L1905.6 807.8 L1906.5 807.9 L1907.4 807.9 L1908.3 807.9 L1909.2 808.2 L1910.1 808.3 L1911.0 808.2 L1911.9 808.2 L1912.8 808.2 L1913.7 808.1 L1914.6 808.4 L1915.5 808.4 L1916.4 808.3 L1917.3 807.9 L1918.2 808.0 L1919.1 808.1 L1920.0 808.3 L1920.9 808.4 L1921.8 808.4 L1922.7 808.4 L1923.6 808.3 L1924.5 808.2 L1925.4 808.2 L1926.3 808.2 L1927.2 808.1 L1928.1 808.1 L1929.0 808.0 L1929.9 808.0 L1930.8 807.9 L1931.7 807.9 L1932.6 808.0 L1933.5 808.0 L1934.4 807.7 L1935.4 807.6 L1936.3 807.7 L1937.2 807.7 L1938.1 808.0 L1939.0 808.1 L1939.9 808.3 L1940.8 808.5 L1941.7 808.7 L1942.6 808.6 L1943.5 808.5 L1944.4 808.2 L1945.3 808.4 L1946.2 808.6 L1947.1 808.7 L1948.0 808.9 L1948.9 808.9 L1949.8 808.9 L1950.7 809.0 L1951.6 809.0 L1952.5 809.0 L1953.4 809.1 L1954.3 809.4 L1955.2 809.1 L1956.1 808.8 L1957.0 808.8 L1957.9 809.1 L1958.8 809.0 L1959.7 808.8 L1960.6 808.9 L1961.5 808.9 L1962.4 808.5 L1963.3 808.3 L1964.2 808.2 L1965.1 808.0 L1966.0 807.9 L1966.9 807.7 L1967.8 807.6 L1968.7 807.8 L1969.6 807.8 L1970.5 807.8 L1971.4 807.6 L1972.3 807.5 L1973.2 807.7 L1974.1 808.0 L1975.0 808.3 L1976.0 808.5 L1976.9 808.2 L1977.8 808.3 L1978.7 808.7 L1979.6 808.7 L1980.5 808.7 L1981.4 808.8 L1982.3 808.8 L1983.2 808.6 L1984.1 808.5 L1985.0 808.5 L1985.9 808.6 L1986.8 808.6 L1987.7 808.7 L1988.6 808.8 L1989.5 808.8 L1990.4 808.8 L1991.3 808.8 L1992.2 808.7 L1993.1 808.5 L1994.0 808.4 L1994.9 808.1 L1995.8 808.2 L1996.7 808.5 L1997.6 808.4 L1998.5 808.3 L1999.4 808.4 L2000.3 808.6 L2001.2 808.8 L2002.1 808.7 L2003.0 808.5 L2003.9 808.4 L2004.8 808.2 L2005.7 808.2 L2006.6 808.1 L2007.5 808.4 L2008.4 808.5 L2009.3 808.5 L2010.2 808.5 L2011.1 808.4 L2012.0 808.5 L2012.9 808.5 L2013.8 808.3 L2014.7 808.3 L2015.6 808.2 L2016.6 808.1 L2017.5 807.8 L2018.4 807.9 L2019.3 807.8 L2020.2 807.7 L2021.1 807.7 L2022.0 807.5 L2022.9 807.7 L2023.8 808.1 L2024.7 808.4 L2025.6 808.6 L2026.5 808.9 L2027.4 809.3 L2028.3 809.3 L2029.2 809.4 L2030.1 809.3 L2031.0 809.2 L2031.9 809.4 L2032.8 809.3 L2033.7 809.3 L2034.6 809.3 L2035.5 809.3 L2036.4 809.3 L2037.3 809.3 L2038.2 809.3 L2039.1 809.2 L2040.0 809.4 L2040.9 809.6 L2041.8 809.4 L2042.7 809.5 L2043.6 809.4 L2044.5 809.5 L2045.4 809.6 L2046.3 809.3 L2047.2 809.3 L2048.1 808.9 L2049.0 808.9 L2049.9 808.7 L2050.8 808.6 L2051.7 808.7 L2052.6 808.6 L2053.5 808.7 L2054.4 808.7 L2055.3 808.7 L2056.3 808.6 L2057.2 808.8 L2058.1 808.8 L2059.0 809.1 L2059.9 809.4 L2060.8 809.3 L2061.7 809.4 L2062.6 809.6 L2063.5 809.5 L2064.4 809.6 L2065.3 809.9 L2066.2 810.1 L2067.1 810.2 L2068.0 810.0 L2068.9 809.9 L2069.8 809.9 L2070.7 809.6 L2071.6 809.8 L2072.5 809.9 L2073.4 810.0 L2074.3 810.0 L2075.2 809.9 L2076.1 809.7 L2077.0 809.6 L2077.9 809.9 L2078.8 810.2 L2079.7 810.1 L2080.6 810.3 L2081.5 810.2 L2082.4 810.2 L2083.3 810.0 L2084.2 809.9 L2085.1 809.8 L2086.0 809.7 L2086.9 809.6 L2087.8 809.6 L2088.7 809.8 L2089.6 810.2 L2090.5 810.3 L2091.4 810.5 L2092.3 810.5 L2093.2 810.5 L2094.1 810.4 L2095.0 810.6 L2095.9 810.7 L2096.9 810.4 L2097.8 810.5 L2098.7 810.5 L2099.6 810.4 L2100.5 810.1 L2101.4 809.9 L2102.3 810.0 L2103.2 810.0 L2104.1 809.8 L2105.0 809.7 L2105.9 809.4 L2106.8 809.3 L2107.7 809.3 L2108.6 809.4 L2109.5 809.5 L2110.4 809.6 L2111.3 809.4 L2112.2 809.4 L2113.1 809.4 L2114.0 809.4 L2114.9 809.5 L2115.8 809.2 L2116.7 809.5 L2117.6 809.4 L2118.5 809.6 L2119.4 809.5 L2120.3 809.7 L2121.2 809.5 L2122.1 809.7 L2123.0 809.9 L2123.9 809.9 L2124.8 810.2 L2125.7 810.0 L2126.6 809.8 L2127.5 809.5 L2128.4 809.4 L2129.3 809.4 L2130.2 809.2 L2131.1 809.1 L2132.0 809.2 L2132.9 809.6 L2133.8 809.6 L2134.7 809.4 L2135.6 809.2 L2136.5 809.3 L2137.5 809.4 L2138.4 809.5 L2139.3 809.5 L2140.2 809.2 L2141.1 809.3 L2142.0 809.7 L2142.9 809.8 L2143.8 809.8 L2144.7 809.9 L2145.6 809.9 L2146.5 810.0 L2147.4 810.0 L2148.3 810.1 L2149.2 810.3 L2150.1 810.4 L2151.0 810.2 L2151.9 810.3 L2152.8 810.4 L2153.7 810.3 L2154.6 810.2 L2155.5 810.0 L2156.4 809.9 L2157.3 809.8 L2158.2 809.9 L2159.1 810.2 L2160.0 810.5 L2160.9 810.4 L2161.8 810.5 L2162.7 810.5 L2163.6 810.3 L2164.5 810.5 L2165.4 810.7 L2166.3 810.6 L2167.2 810.5 L2168.1 810.5 L2169.0 810.5 L2169.9 810.6 L2170.8 810.8 L2171.7 810.9 L2172.6 811.0 L2173.5 811.0 L2174.4 811.1 L2175.3 811.1 L2176.2 810.9 L2177.1 810.9 L2178.1 811.2 L2179.0 811.2 L2179.9 810.9 L2180.8 810.9 L2181.7 810.9 L2182.6 811.0 L2183.5 810.8 L2184.4 810.8 L2185.3 810.8 L2186.2 811.0 L2187.1 811.1 L2188.0 811.1 L2188.9 810.9 L2189.8 810.7 L2190.7 810.7 L2191.6 810.8 L2192.5 810.9 L2193.4 810.8 L2194.3 810.9 L2195.2 811.1 L2196.1 810.9 L2197.0 810.9 L2197.9 810.9" fill="none" stroke="#73bf69" stroke-width="1.9" stroke-linejoin="round"/><path d="M1874.0 769.0 L1874.9 769.1 L1875.8 769.0 L1876.7 768.9 L1877.6 769.2 L1878.5 769.3 L1879.4 769.0 L1880.3 768.7 L1881.2 768.6 L1882.1 768.6 L1883.0 768.8 L1883.9 768.6 L1884.8 768.4 L1885.7 768.4 L1886.6 768.4 L1887.5 768.5 L1888.4 768.6 L1889.3 768.6 L1890.2 768.3 L1891.1 768.1 L1892.0 768.4 L1892.9 768.7 L1893.8 768.4 L1894.8 768.7 L1895.7 768.7 L1896.6 768.6 L1897.5 768.7 L1898.4 768.6 L1899.3 768.3 L1900.2 768.1 L1901.1 768.4 L1902.0 768.2 L1902.9 768.2 L1903.8 768.5 L1904.7 768.5 L1905.6 768.7 L1906.5 768.7 L1907.4 768.8 L1908.3 768.8 L1909.2 769.3 L1910.1 769.4 L1911.0 769.3 L1911.9 769.3 L1912.8 769.4 L1913.7 769.3 L1914.6 769.5 L1915.5 769.7 L1916.4 769.3 L1917.3 769.2 L1918.2 769.3 L1919.1 769.6 L1920.0 769.7 L1920.9 769.6 L1921.8 769.4 L1922.7 769.2 L1923.6 769.2 L1924.5 769.0 L1925.4 768.9 L1926.3 768.9 L1927.2 768.8 L1928.1 768.8 L1929.0 768.6 L1929.9 768.4 L1930.8 768.3 L1931.7 768.6 L1932.6 768.7 L1933.5 769.1 L1934.4 768.9 L1935.4 768.6 L1936.3 768.7 L1937.2 768.6 L1938.1 768.8 L1939.0 768.8 L1939.9 768.9 L1940.8 769.1 L1941.7 769.3 L1942.6 769.4 L1943.5 769.6 L1944.4 769.6 L1945.3 769.6 L1946.2 769.7 L1947.1 769.8 L1948.0 770.1 L1948.9 769.9 L1949.8 769.6 L1950.7 769.5 L1951.6 769.3 L1952.5 769.2 L1953.4 769.6 L1954.3 770.0 L1955.2 769.5 L1956.1 769.2 L1957.0 769.4 L1957.9 769.6 L1958.8 769.5 L1959.7 769.2 L1960.6 769.4 L1961.5 769.7 L1962.4 769.5 L1963.3 769.3 L1964.2 769.4 L1965.1 769.3 L1966.0 769.0 L1966.9 768.5 L1967.8 768.2 L1968.7 768.4 L1969.6 768.3 L1970.5 768.3 L1971.4 768.2 L1972.3 768.0 L1973.2 767.9 L1974.1 768.1 L1975.0 768.4 L1976.0 768.4 L1976.9 768.1 L1977.8 768.2 L1978.7 768.6 L1979.6 768.8 L1980.5 769.0 L1981.4 769.1 L1982.3 769.3 L1983.2 769.1 L1984.1 769.1 L1985.0 769.1 L1985.9 768.8 L1986.8 768.7 L1987.7 768.6 L1988.6 768.5 L1989.5 768.5 L1990.4 768.4 L1991.3 768.2 L1992.2 768.1 L1993.1 768.0 L1994.0 768.2 L1994.9 768.0 L1995.8 767.8 L1996.7 768.1 L1997.6 767.9 L1998.5 767.9 L1999.4 767.9 L2000.3 768.2 L2001.2 768.1 L2002.1 767.8 L2003.0 767.8 L2003.9 767.7 L2004.8 767.5 L2005.7 767.7 L2006.6 767.8 L2007.5 768.0 L2008.4 768.0 L2009.3 767.8 L2010.2 768.1 L2011.1 767.9 L2012.0 768.0 L2012.9 768.2 L2013.8 768.0 L2014.7 768.0 L2015.6 767.8 L2016.6 767.8 L2017.5 767.5 L2018.4 767.7 L2019.3 767.4 L2020.2 767.5 L2021.1 767.4 L2022.0 767.0 L2022.9 767.0 L2023.8 767.3 L2024.7 767.7 L2025.6 767.9 L2026.5 768.3 L2027.4 768.7 L2028.3 768.4 L2029.2 768.2 L2030.1 767.8 L2031.0 767.7 L2031.9 767.8 L2032.8 767.5 L2033.7 767.5 L2034.6 767.3 L2035.5 767.5 L2036.4 767.6 L2037.3 767.5 L2038.2 767.7 L2039.1 767.4 L2040.0 767.6 L2040.9 767.9 L2041.8 767.6 L2042.7 767.8 L2043.6 767.9 L2044.5 767.9 L2045.4 767.9 L2046.3 767.8 L2047.2 767.7 L2048.1 767.3 L2049.0 767.2 L2049.9 766.9 L2050.8 766.9 L2051.7 767.1 L2052.6 766.9 L2053.5 767.1 L2054.4 767.3 L2055.3 767.3 L2056.3 767.3 L2057.2 767.5 L2058.1 767.4 L2059.0 767.7 L2059.9 767.8 L2060.8 767.6 L2061.7 767.4 L2062.6 767.7 L2063.5 767.8 L2064.4 768.1 L2065.3 768.2 L2066.2 768.2 L2067.1 768.4 L2068.0 768.4 L2068.9 768.0 L2069.8 767.7 L2070.7 767.5 L2071.6 767.6 L2072.5 767.5 L2073.4 767.9 L2074.3 767.6 L2075.2 767.5 L2076.1 767.5 L2077.0 767.4 L2077.9 768.0 L2078.8 768.0 L2079.7 767.9 L2080.6 767.9 L2081.5 768.1 L2082.4 767.9 L2083.3 767.6 L2084.2 767.4 L2085.1 767.4 L2086.0 767.5 L2086.9 767.5 L2087.8 767.4 L2088.7 767.4 L2089.6 767.7 L2090.5 767.7 L2091.4 767.5 L2092.3 767.6 L2093.2 767.5 L2094.1 767.5 L2095.0 767.8 L2095.9 768.1 L2096.9 767.9 L2097.8 767.7 L2098.7 767.7 L2099.6 767.7 L2100.5 767.4 L2101.4 767.1 L2102.3 767.3 L2103.2 767.3 L2104.1 767.4 L2105.0 767.5 L2105.9 767.4 L2106.8 767.2 L2107.7 767.1 L2108.6 767.1 L2109.5 767.3 L2110.4 767.3 L2111.3 767.3 L2112.2 767.4 L2113.1 767.5 L2114.0 767.4 L2114.9 767.4 L2115.8 767.0 L2116.7 767.3 L2117.6 767.2 L2118.5 767.4 L2119.4 767.4 L2120.3 767.7 L2121.2 767.8 L2122.1 767.7 L2123.0 767.9 L2123.9 768.0 L2124.8 768.5 L2125.7 768.2 L2126.6 767.8 L2127.5 767.5 L2128.4 767.4 L2129.3 767.3 L2130.2 766.8 L2131.1 766.9 L2132.0 767.0 L2132.9 767.3 L2133.8 767.3 L2134.7 767.4 L2135.6 767.2 L2136.5 767.2 L2137.5 766.9 L2138.4 767.3 L2139.3 767.5 L2140.2 767.1 L2141.1 767.1 L2142.0 767.2 L2142.9 767.4 L2143.8 767.4 L2144.7 767.4 L2145.6 767.8 L2146.5 767.8 L2147.4 767.9 L2148.3 767.8 L2149.2 767.8 L2150.1 767.7 L2151.0 767.3 L2151.9 767.5 L2152.8 767.6 L2153.7 767.3 L2154.6 767.1 L2155.5 767.0 L2156.4 766.9 L2157.3 766.8 L2158.2 766.8 L2159.1 767.2 L2160.0 767.3 L2160.9 767.1 L2161.8 767.4 L2162.7 767.5 L2163.6 767.0 L2164.5 767.0 L2165.4 767.1 L2166.3 767.0 L2167.2 767.2 L2168.1 767.2 L2169.0 767.3 L2169.9 767.4 L2170.8 767.3 L2171.7 767.2 L2172.6 767.2 L2173.5 767.4 L2174.4 767.7 L2175.3 767.9 L2176.2 768.0 L2177.1 768.1 L2178.1 768.4 L2179.0 768.4 L2179.9 767.9 L2180.8 767.7 L2181.7 767.7 L2182.6 767.7 L2183.5 767.5 L2184.4 767.5 L2185.3 767.5 L2186.2 767.7 L2187.1 767.7 L2188.0 767.9 L2188.9 767.9 L2189.8 768.1 L2190.7 768.0 L2191.6 767.9 L2192.5 768.0 L2193.4 767.9 L2194.3 768.0 L2195.2 768.1 L2196.1 767.7 L2197.0 767.4 L2197.9 767.1" fill="none" stroke="#f2cc0c" stroke-width="1.9" stroke-linejoin="round"/><path d="M1874.0 729.7 L1874.9 729.8 L1875.8 729.8 L1876.7 729.8 L1877.6 730.1 L1878.5 730.1 L1879.4 729.6 L1880.3 729.4 L1881.2 729.4 L1882.1 729.4 L1883.0 729.5 L1883.9 729.1 L1884.8 729.2 L1885.7 729.2 L1886.6 729.2 L1887.5 729.2 L1888.4 729.3 L1889.3 729.0 L1890.2 728.7 L1891.1 728.8 L1892.0 729.0 L1892.9 729.1 L1893.8 729.0 L1894.8 729.2 L1895.7 729.1 L1896.6 729.3 L1897.5 729.2 L1898.4 729.0 L1899.3 729.1 L1900.2 728.9 L1901.1 729.2 L1902.0 729.1 L1902.9 728.9 L1903.8 729.2 L1904.7 729.5 L1905.6 729.5 L1906.5 729.6 L1907.4 729.7 L1908.3 729.6 L1909.2 729.8 L1910.1 729.8 L1911.0 729.9 L1911.9 729.6 L1912.8 729.5 L1913.7 729.4 L1914.6 729.6 L1915.5 730.0 L1916.4 729.7 L1917.3 729.7 L1918.2 729.7 L1919.1 729.6 L1920.0 729.6 L1920.9 729.4 L1921.8 729.4 L1922.7 729.5 L1923.6 729.5 L1924.5 729.6 L1925.4 729.5 L1926.3 729.6 L1927.2 729.8 L1928.1 729.6 L1929.0 729.4 L1929.9 729.4 L1930.8 729.3 L1931.7 729.3 L1932.6 729.5 L1933.5 729.7 L1934.4 729.5 L1935.4 729.5 L1936.3 729.4 L1937.2 729.2 L1938.1 729.4 L1939.0 729.4 L1939.9 729.3 L1940.8 729.6 L1941.7 730.0 L1942.6 730.1 L1943.5 730.5 L1944.4 730.6 L1945.3 730.6 L1946.2 730.6 L1947.1 730.5 L1948.0 730.9 L1948.9 730.8 L1949.8 730.6 L1950.7 730.7 L1951.6 730.7 L1952.5 730.6 L1953.4 731.0 L1954.3 731.3 L1955.2 731.0 L1956.1 730.8 L1957.0 731.1 L1957.9 731.4 L1958.8 731.2 L1959.7 730.9 L1960.6 731.0 L1961.5 731.1 L1962.4 730.9 L1963.3 730.9 L1964.2 730.9 L1965.1 730.7 L1966.0 730.2 L1966.9 729.9 L1967.8 729.6 L1968.7 729.9 L1969.6 729.6 L1970.5 729.5 L1971.4 729.2 L1972.3 729.1 L1973.2 729.1 L1974.1 729.3 L1975.0 729.8 L1976.0 729.8 L1976.9 729.6 L1977.8 729.5 L1978.7 729.8 L1979.6 730.1 L1980.5 730.5 L1981.4 730.5 L1982.3 730.5 L1983.2 730.4 L1984.1 730.4 L1985.0 730.2 L1985.9 730.0 L1986.8 729.9 L1987.7 730.1 L1988.6 730.2 L1989.5 730.1 L1990.4 730.2 L1991.3 729.9 L1992.2 729.7 L1993.1 729.7 L1994.0 729.7 L1994.9 729.5 L1995.8 729.3 L1996.7 729.3 L1997.6 728.9 L1998.5 728.6 L1999.4 728.5 L2000.3 728.7 L2001.2 728.7 L2002.1 728.8 L2003.0 728.8 L2003.9 728.7 L2004.8 728.3 L2005.7 728.3 L2006.6 728.6 L2007.5 729.1 L2008.4 729.4 L2009.3 729.2 L2010.2 729.4 L2011.1 729.3 L2012.0 729.5 L2012.9 729.6 L2013.8 729.6 L2014.7 730.1 L2015.6 729.8 L2016.6 729.9 L2017.5 729.6 L2018.4 729.7 L2019.3 729.2 L2020.2 729.3 L2021.1 729.2 L2022.0 728.9 L2022.9 729.0 L2023.8 729.0 L2024.7 729.5 L2025.6 729.7 L2026.5 730.2 L2027.4 730.5 L2028.3 730.0 L2029.2 729.8 L2030.1 729.4 L2031.0 729.1 L2031.9 729.0 L2032.8 728.8 L2033.7 728.9 L2034.6 728.7 L2035.5 728.7 L2036.4 728.8 L2037.3 728.7 L2038.2 729.0 L2039.1 728.7 L2040.0 729.0 L2040.9 729.2 L2041.8 729.3 L2042.7 729.5 L2043.6 729.7 L2044.5 729.7 L2045.4 729.8 L2046.3 729.7 L2047.2 729.3 L2048.1 729.2 L2049.0 729.2 L2049.9 728.9 L2050.8 728.8 L2051.7 728.8 L2052.6 728.9 L2053.5 729.1 L2054.4 729.1 L2055.3 729.0 L2056.3 729.1 L2057.2 729.2 L2058.1 729.1 L2059.0 729.1 L2059.9 729.0 L2060.8 729.0 L2061.7 728.9 L2062.6 729.3 L2063.5 729.4 L2064.4 729.5 L2065.3 729.4 L2066.2 729.3 L2067.1 729.3 L2068.0 729.5 L2068.9 729.2 L2069.8 729.1 L2070.7 729.2 L2071.6 729.2 L2072.5 729.3 L2073.4 729.6 L2074.3 729.5 L2075.2 729.4 L2076.1 728.9 L2077.0 728.9 L2077.9 729.3 L2078.8 729.6 L2079.7 729.7 L2080.6 729.9 L2081.5 729.8 L2082.4 729.7 L2083.3 729.3 L2084.2 728.9 L2085.1 728.7 L2086.0 728.9 L2086.9 728.7 L2087.8 728.6 L2088.7 728.4 L2089.6 728.8 L2090.5 728.9 L2091.4 728.8 L2092.3 729.0 L2093.2 728.9 L2094.1 728.7 L2095.0 728.9 L2095.9 729.3 L2096.9 729.2 L2097.8 728.8 L2098.7 728.6 L2099.6 728.6 L2100.5 728.3 L2101.4 728.1 L2102.3 728.3 L2103.2 728.2 L2104.1 728.2 L2105.0 728.3 L2105.9 728.4 L2106.8 728.1 L2107.7 728.0 L2108.6 728.0 L2109.5 728.1 L2110.4 728.2 L2111.3 727.9 L2112.2 728.0 L2113.1 728.0 L2114.0 728.0 L2114.9 728.0 L2115.8 727.7 L2116.7 727.8 L2117.6 727.5 L2118.5 727.4 L2119.4 727.7 L2120.3 727.9 L2121.2 727.9 L2122.1 727.9 L2123.0 728.3 L2123.9 728.3 L2124.8 728.7 L2125.7 728.4 L2126.6 728.2 L2127.5 728.1 L2128.4 728.0 L2129.3 728.1 L2130.2 727.8 L2131.1 727.7 L2132.0 727.7 L2132.9 727.7 L2133.8 727.5 L2134.7 727.5 L2135.6 727.2 L2136.5 727.1 L2137.5 727.0 L2138.4 727.1 L2139.3 727.2 L2140.2 727.0 L2141.1 727.0 L2142.0 727.2 L2142.9 727.3 L2143.8 727.6 L2144.7 727.9 L2145.6 728.3 L2146.5 728.6 L2147.4 728.6 L2148.3 728.7 L2149.2 728.8 L2150.1 728.7 L2151.0 728.1 L2151.9 728.3 L2152.8 728.5 L2153.7 728.2 L2154.6 727.8 L2155.5 727.5 L2156.4 727.2 L2157.3 727.3 L2158.2 727.7 L2159.1 727.8 L2160.0 727.7 L2160.9 727.2 L2161.8 727.5 L2162.7 727.5 L2163.6 727.1 L2164.5 727.0 L2165.4 727.0 L2166.3 726.9 L2167.2 727.1 L2168.1 727.0 L2169.0 726.9 L2169.9 727.0 L2170.8 727.0 L2171.7 727.0 L2172.6 727.2 L2173.5 727.5 L2174.4 727.8 L2175.3 727.7 L2176.2 727.6 L2177.1 727.7 L2178.1 727.7 L2179.0 727.8 L2179.9 727.7 L2180.8 727.7 L2181.7 727.6 L2182.6 727.4 L2183.5 727.0 L2184.4 727.0 L2185.3 726.8 L2186.2 726.9 L2187.1 726.8 L2188.0 726.8 L2188.9 726.7 L2189.8 727.0 L2190.7 727.0 L2191.6 726.7 L2192.5 726.7 L2193.4 726.5 L2194.3 726.7 L2195.2 727.0 L2196.1 726.6 L2197.0 726.2 L2197.9 726.0" fill="none" stroke="#5794f2" stroke-width="1.9" stroke-linejoin="round"/><path d="M1874.0 690.4 L1874.9 690.6 L1875.8 690.7 L1876.7 690.7 L1877.6 690.7 L1878.5 690.7 L1879.4 690.4 L1880.3 690.1 L1881.2 689.9 L1882.1 690.0 L1883.0 690.1 L1883.9 690.1 L1884.8 690.2 L1885.7 690.3 L1886.6 690.4 L1887.5 690.1 L1888.4 690.1 L1889.3 690.1 L1890.2 689.9 L1891.1 689.9 L1892.0 690.0 L1892.9 690.1 L1893.8 690.2 L1894.8 690.3 L1895.7 690.5 L1896.6 690.4 L1897.5 690.4 L1898.4 690.3 L1899.3 690.4 L1900.2 690.3 L1901.1 690.6 L1902.0 690.6 L1902.9 690.6 L1903.8 691.0 L1904.7 691.1 L1905.6 691.1 L1906.5 691.3 L1907.4 691.2 L1908.3 691.3 L1909.2 691.3 L1910.1 691.4 L1911.0 691.4 L1911.9 691.2 L1912.8 691.0 L1913.7 691.1 L1914.6 691.3 L1915.5 691.7 L1916.4 691.4 L1917.3 691.4 L1918.2 691.6 L1919.1 691.4 L1920.0 691.4 L1920.9 691.2 L1921.8 691.2 L1922.7 691.2 L1923.6 691.2 L1924.5 691.1 L1925.4 691.1 L1926.3 691.1 L1927.2 691.2 L1928.1 691.2 L1929.0 690.9 L1929.9 690.8 L1930.8 690.7 L1931.7 690.6 L1932.6 690.9 L1933.5 691.1 L1934.4 690.9 L1935.4 690.6 L1936.3 690.6 L1937.2 690.8 L1938.1 690.9 L1939.0 690.8 L1939.9 690.9 L1940.8 691.1 L1941.7 691.5 L1942.6 691.5 L1943.5 691.6 L1944.4 691.4 L1945.3 691.3 L1946.2 691.3 L1947.1 691.4 L1948.0 691.8 L1948.9 691.9 L1949.8 691.8 L1950.7 692.0 L1951.6 691.9 L1952.5 691.9 L1953.4 691.8 L1954.3 691.8 L1955.2 691.6 L1956.1 691.4 L1957.0 691.6 L1957.9 691.5 L1958.8 691.3 L1959.7 691.2 L1960.6 691.5 L1961.5 691.8 L1962.4 691.9 L1963.3 691.8 L1964.2 691.8 L1965.1 691.5 L1966.0 691.4 L1966.9 691.2 L1967.8 690.7 L1968.7 690.8 L1969.6 690.9 L1970.5 690.7 L1971.4 690.8 L1972.3 690.8 L1973.2 690.9 L1974.1 691.0 L1975.0 691.2 L1976.0 691.3 L1976.9 691.3 L1977.8 691.1 L1978.7 691.4 L1979.6 691.4 L1980.5 691.7 L1981.4 691.7 L1982.3 691.9 L1983.2 691.8 L1984.1 691.7 L1985.0 691.8 L1985.9 691.8 L1986.8 691.7 L1987.7 691.7 L1988.6 691.7 L1989.5 691.5 L1990.4 691.3 L1991.3 691.3 L1992.2 690.9 L1993.1 691.0 L1994.0 691.1 L1994.9 690.8 L1995.8 690.6 L1996.7 690.5 L1997.6 690.4 L1998.5 690.1 L1999.4 689.8 L2000.3 689.8 L2001.2 689.7 L2002.1 689.8 L2003.0 689.6 L2003.9 689.5 L2004.8 689.4 L2005.7 689.2 L2006.6 689.4 L2007.5 689.6 L2008.4 689.7 L2009.3 689.7 L2010.2 689.7 L2011.1 689.6 L2012.0 689.7 L2012.9 690.0 L2013.8 690.0 L2014.7 690.1 L2015.6 690.1 L2016.6 689.9 L2017.5 689.9 L2018.4 689.7 L2019.3 689.5 L2020.2 689.5 L2021.1 689.4 L2022.0 689.3 L2022.9 689.3 L2023.8 689.4 L2024.7 689.5 L2025.6 689.7 L2026.5 690.1 L2027.4 690.2 L2028.3 689.8 L2029.2 689.8 L2030.1 689.7 L2031.0 689.7 L2031.9 689.7 L2032.8 689.7 L2033.7 690.0 L2034.6 690.1 L2035.5 690.1 L2036.4 690.2 L2037.3 690.1 L2038.2 690.0 L2039.1 689.9 L2040.0 690.2 L2040.9 690.3 L2041.8 690.5 L2042.7 690.7 L2043.6 690.8 L2044.5 690.8 L2045.4 690.9 L2046.3 690.9 L2047.2 690.7 L2048.1 690.6 L2049.0 690.6 L2049.9 690.5 L2050.8 690.6 L2051.7 690.4 L2052.6 690.3 L2053.5 690.5 L2054.4 690.7 L2055.3 690.8 L2056.3 690.9 L2057.2 690.9 L2058.1 691.0 L2059.0 691.0 L2059.9 691.0 L2060.8 690.9 L2061.7 690.7 L2062.6 690.9 L2063.5 691.1 L2064.4 690.9 L2065.3 690.5 L2066.2 690.4 L2067.1 690.6 L2068.0 690.8 L2068.9 690.6 L2069.8 690.7 L2070.7 690.6 L2071.6 690.7 L2072.5 690.5 L2073.4 690.7 L2074.3 690.5 L2075.2 690.4 L2076.1 690.1 L2077.0 690.1 L2077.9 690.5 L2078.8 690.8 L2079.7 691.0 L2080.6 691.1 L2081.5 690.9 L2082.4 690.7 L2083.3 690.3 L2084.2 690.0 L2085.1 689.8 L2086.0 689.9 L2086.9 689.7 L2087.8 689.5 L2088.7 689.1 L2089.6 689.2 L2090.5 689.2 L2091.4 689.2 L2092.3 689.1 L2093.2 689.0 L2094.1 689.1 L2095.0 689.2 L2095.9 689.4 L2096.9 689.4 L2097.8 689.0 L2098.7 688.8 L2099.6 688.8 L2100.5 688.7 L2101.4 688.6 L2102.3 688.8 L2103.2 688.9 L2104.1 688.9 L2105.0 688.9 L2105.9 689.1 L2106.8 689.2 L2107.7 689.2 L2108.6 689.2 L2109.5 689.1 L2110.4 689.1 L2111.3 689.0 L2112.2 689.1 L2113.1 689.1 L2114.0 689.1 L2114.9 689.2 L2115.8 689.0 L2116.7 688.9 L2117.6 688.9 L2118.5 689.1 L2119.4 689.4 L2120.3 689.6 L2121.2 689.8 L2122.1 689.9 L2123.0 690.3 L2123.9 690.2 L2124.8 690.3 L2125.7 690.1 L2126.6 690.1 L2127.5 690.2 L2128.4 690.3 L2129.3 690.3 L2130.2 690.3 L2131.1 690.4 L2132.0 690.5 L2132.9 690.4 L2133.8 690.1 L2134.7 690.4 L2135.6 690.2 L2136.5 690.0 L2137.5 690.0 L2138.4 690.0 L2139.3 689.9 L2140.2 689.9 L2141.1 690.0 L2142.0 690.2 L2142.9 690.0 L2143.8 690.3 L2144.7 690.4 L2145.6 690.6 L2146.5 690.8 L2147.4 690.7 L2148.3 690.7 L2149.2 690.7 L2150.1 690.4 L2151.0 690.0 L2151.9 690.0 L2152.8 690.1 L2153.7 690.0 L2154.6 689.8 L2155.5 689.6 L2156.4 689.5 L2157.3 689.2 L2158.2 689.3 L2159.1 689.3 L2160.0 689.3 L2160.9 689.3 L2161.8 689.6 L2162.7 689.7 L2163.6 689.4 L2164.5 689.6 L2165.4 689.6 L2166.3 689.4 L2167.2 689.6 L2168.1 689.5 L2169.0 689.4 L2169.9 689.5 L2170.8 689.5 L2171.7 689.6 L2172.6 689.9 L2173.5 690.1 L2174.4 690.4 L2175.3 690.3 L2176.2 690.0 L2177.1 689.9 L2178.1 690.1 L2179.0 690.2 L2179.9 690.3 L2180.8 690.0 L2181.7 690.1 L2182.6 690.0 L2183.5 689.8 L2184.4 689.8 L2185.3 689.5 L2186.2 689.5 L2187.1 689.6 L2188.0 689.5 L2188.9 689.4 L2189.8 689.7 L2190.7 689.8 L2191.6 689.6 L2192.5 689.4 L2193.4 689.5 L2194.3 689.7 L2195.2 689.9 L2196.1 689.6 L2197.0 689.4 L2197.9 689.4" fill="none" stroke="#ff9830" stroke-width="1.9" stroke-linejoin="round"/><path d="M1874.0 651.0 L1874.9 651.0 L1875.8 651.0 L1876.7 651.0 L1877.6 651.0 L1878.5 651.0 L1879.4 651.0 L1880.3 651.0 L1881.2 651.0 L1882.1 651.0 L1883.0 651.0 L1883.9 651.0 L1884.8 651.0 L1885.7 651.0 L1886.6 651.0 L1887.5 651.0 L1888.4 651.0 L1889.3 651.0 L1890.2 651.0 L1891.1 651.0 L1892.0 651.0 L1892.9 651.0 L1893.8 651.0 L1894.8 651.0 L1895.7 651.0 L1896.6 651.0 L1897.5 651.0 L1898.4 651.0 L1899.3 651.0 L1900.2 651.0 L1901.1 651.0 L1902.0 651.0 L1902.9 651.0 L1903.8 651.0 L1904.7 651.0 L1905.6 651.0 L1906.5 651.0 L1907.4 651.0 L1908.3 651.0 L1909.2 651.0 L1910.1 651.0 L1911.0 651.0 L1911.9 651.0 L1912.8 651.0 L1913.7 651.0 L1914.6 651.0 L1915.5 651.0 L1916.4 651.0 L1917.3 651.0 L1918.2 651.0 L1919.1 651.0 L1920.0 651.0 L1920.9 651.0 L1921.8 651.0 L1922.7 651.0 L1923.6 651.0 L1924.5 651.0 L1925.4 651.0 L1926.3 651.0 L1927.2 651.0 L1928.1 651.0 L1929.0 651.0 L1929.9 651.0 L1930.8 651.0 L1931.7 651.0 L1932.6 651.0 L1933.5 651.0 L1934.4 651.0 L1935.4 651.0 L1936.3 651.0 L1937.2 651.0 L1938.1 651.0 L1939.0 651.0 L1939.9 651.0 L1940.8 651.0 L1941.7 651.0 L1942.6 651.0 L1943.5 651.0 L1944.4 651.0 L1945.3 651.0 L1946.2 651.0 L1947.1 651.0 L1948.0 651.0 L1948.9 651.0 L1949.8 651.0 L1950.7 651.0 L1951.6 651.0 L1952.5 651.0 L1953.4 651.0 L1954.3 651.0 L1955.2 651.0 L1956.1 651.0 L1957.0 651.0 L1957.9 651.0 L1958.8 651.0 L1959.7 651.0 L1960.6 651.0 L1961.5 651.0 L1962.4 651.0 L1963.3 651.0 L1964.2 651.0 L1965.1 651.0 L1966.0 651.0 L1966.9 651.0 L1967.8 651.0 L1968.7 651.0 L1969.6 651.0 L1970.5 651.0 L1971.4 651.0 L1972.3 651.0 L1973.2 651.0 L1974.1 651.0 L1975.0 651.0 L1976.0 651.0 L1976.9 651.0 L1977.8 651.0 L1978.7 651.0 L1979.6 651.0 L1980.5 651.0 L1981.4 651.0 L1982.3 651.0 L1983.2 651.0 L1984.1 651.0 L1985.0 651.0 L1985.9 651.0 L1986.8 651.0 L1987.7 651.0 L1988.6 651.0 L1989.5 651.0 L1990.4 651.0 L1991.3 651.0 L1992.2 651.0 L1993.1 651.0 L1994.0 651.0 L1994.9 651.0 L1995.8 651.0 L1996.7 651.0 L1997.6 651.0 L1998.5 651.0 L1999.4 651.0 L2000.3 651.0 L2001.2 651.0 L2002.1 651.0 L2003.0 651.0 L2003.9 651.0 L2004.8 651.0 L2005.7 651.0 L2006.6 651.0 L2007.5 651.0 L2008.4 651.0 L2009.3 651.0 L2010.2 651.0 L2011.1 651.0 L2012.0 651.0 L2012.9 651.0 L2013.8 651.0 L2014.7 651.0 L2015.6 651.0 L2016.6 651.0 L2017.5 651.0 L2018.4 651.0 L2019.3 651.0 L2020.2 651.0 L2021.1 651.0 L2022.0 651.0 L2022.9 651.0 L2023.8 651.0 L2024.7 651.0 L2025.6 651.0 L2026.5 651.0 L2027.4 651.0 L2028.3 651.0 L2029.2 651.0 L2030.1 651.0 L2031.0 651.0 L2031.9 651.0 L2032.8 651.0 L2033.7 651.0 L2034.6 651.0 L2035.5 651.0 L2036.4 651.0 L2037.3 651.0 L2038.2 651.0 L2039.1 651.0 L2040.0 651.0 L2040.9 651.0 L2041.8 651.0 L2042.7 651.0 L2043.6 651.0 L2044.5 651.0 L2045.4 651.0 L2046.3 651.0 L2047.2 651.0 L2048.1 651.0 L2049.0 651.0 L2049.9 651.0 L2050.8 651.0 L2051.7 651.0 L2052.6 651.0 L2053.5 651.0 L2054.4 651.0 L2055.3 651.0 L2056.3 651.0 L2057.2 651.0 L2058.1 651.0 L2059.0 651.0 L2059.9 651.0 L2060.8 651.0 L2061.7 651.0 L2062.6 651.0 L2063.5 651.0 L2064.4 651.0 L2065.3 651.0 L2066.2 651.0 L2067.1 651.0 L2068.0 651.0 L2068.9 651.0 L2069.8 651.0 L2070.7 651.0 L2071.6 651.0 L2072.5 651.0 L2073.4 651.0 L2074.3 651.0 L2075.2 651.0 L2076.1 651.0 L2077.0 651.0 L2077.9 651.0 L2078.8 651.0 L2079.7 651.0 L2080.6 651.0 L2081.5 651.0 L2082.4 651.0 L2083.3 651.0 L2084.2 651.0 L2085.1 651.0 L2086.0 651.0 L2086.9 651.0 L2087.8 651.0 L2088.7 651.0 L2089.6 651.0 L2090.5 651.0 L2091.4 651.0 L2092.3 651.0 L2093.2 651.0 L2094.1 651.0 L2095.0 651.0 L2095.9 651.0 L2096.9 651.0 L2097.8 651.0 L2098.7 651.0 L2099.6 651.0 L2100.5 651.0 L2101.4 651.0 L2102.3 651.0 L2103.2 651.0 L2104.1 651.0 L2105.0 651.0 L2105.9 651.0 L2106.8 651.0 L2107.7 651.0 L2108.6 651.0 L2109.5 651.0 L2110.4 651.0 L2111.3 651.0 L2112.2 651.0 L2113.1 651.0 L2114.0 651.0 L2114.9 651.0 L2115.8 651.0 L2116.7 651.0 L2117.6 651.0 L2118.5 651.0 L2119.4 651.0 L2120.3 651.0 L2121.2 651.0 L2122.1 651.0 L2123.0 651.0 L2123.9 651.0 L2124.8 651.0 L2125.7 651.0 L2126.6 651.0 L2127.5 651.0 L2128.4 651.0 L2129.3 651.0 L2130.2 651.0 L2131.1 651.0 L2132.0 651.0 L2132.9 651.0 L2133.8 651.0 L2134.7 651.0 L2135.6 651.0 L2136.5 651.0 L2137.5 651.0 L2138.4 651.0 L2139.3 651.0 L2140.2 651.0 L2141.1 651.0 L2142.0 651.0 L2142.9 651.0 L2143.8 651.0 L2144.7 651.0 L2145.6 651.0 L2146.5 651.0 L2147.4 651.0 L2148.3 651.0 L2149.2 651.0 L2150.1 651.0 L2151.0 651.0 L2151.9 651.0 L2152.8 651.0 L2153.7 651.0 L2154.6 651.0 L2155.5 651.0 L2156.4 651.0 L2157.3 651.0 L2158.2 651.0 L2159.1 651.0 L2160.0 651.0 L2160.9 651.0 L2161.8 651.0 L2162.7 651.0 L2163.6 651.0 L2164.5 651.0 L2165.4 651.0 L2166.3 651.0 L2167.2 651.0 L2168.1 651.0 L2169.0 651.0 L2169.9 651.0 L2170.8 651.0 L2171.7 651.0 L2172.6 651.0 L2173.5 651.0 L2174.4 651.0 L2175.3 651.0 L2176.2 651.0 L2177.1 651.0 L2178.1 651.0 L2179.0 651.0 L2179.9 651.0 L2180.8 651.0 L2181.7 651.0 L2182.6 651.0 L2183.5 651.0 L2184.4 651.0 L2185.3 651.0 L2186.2 651.0 L2187.1 651.0 L2188.0 651.0 L2188.9 651.0 L2189.8 651.0 L2190.7 651.0 L2191.6 651.0 L2192.5 651.0 L2193.4 651.0 L2194.3 651.0 L2195.2 651.0 L2196.1 651.0 L2197.0 651.0 L2197.9 651.0" fill="none" stroke="#f2495c" stroke-width="1.9" stroke-linejoin="round"/><rect x="1920.3" y="651" width="1" height="201" fill="rgba(204,204,220,0.09)"/><rect x="1974.5" y="651" width="1" height="201" fill="rgba(204,204,220,0.09)"/><rect x="2028.6" y="651" width="1" height="201" fill="rgba(204,204,220,0.09)"/><rect x="2082.8" y="651" width="1" height="201" fill="rgba(204,204,220,0.09)"/><rect x="2136.9" y="651" width="1" height="201" fill="rgba(204,204,220,0.09)"/><rect x="2191.1" y="651" width="1" height="201" fill="rgba(204,204,220,0.09)"/><text x="1866.7" y="851.3" font-size="13.3" fill="#ccccdc" text-anchor="end">0%</text><text x="1866.7" y="812.1" font-size="13.3" fill="#ccccdc" text-anchor="end">20%</text><text x="1866.7" y="772.9" font-size="13.3" fill="#ccccdc" text-anchor="end">40%</text><text x="1866.7" y="733.7" font-size="13.3" fill="#ccccdc" text-anchor="end">60%</text><text x="1866.7" y="694.4" font-size="13.3" fill="#ccccdc" text-anchor="end">80%</text><text x="1866.7" y="655.2" font-size="13.3" fill="#ccccdc" text-anchor="end">100%</text><text x="1920.8" y="866.7" font-size="13.3" fill="#ccccdc" text-anchor="middle">11:00</text><text x="1975.0" y="866.7" font-size="13.3" fill="#ccccdc" text-anchor="middle">12:00</text><text x="2029.1" y="866.7" font-size="13.3" fill="#ccccdc" text-anchor="middle">13:00</text><text x="2083.3" y="866.7" font-size="13.3" fill="#ccccdc" text-anchor="middle">14:00</text><text x="2137.4" y="866.7" font-size="13.3" fill="#ccccdc" text-anchor="middle">15:00</text><text x="2191.6" y="866.7" font-size="13.3" fill="#ccccdc" text-anchor="middle">16:00</text></svg>
<span class="t" style="left:1818.25px;top:928.05px;font-size:19.5px;line-height:25px;color:#c4c4d2;letter-spacing:0.182px;font-weight:700;">12.4</span>
<svg class="b" style="left:1818px;top:953px;" width="39" height="19"><path d="M0 8L12.5 1 25 9.5 39 2.5V19H0z" fill="#707178"/></svg>
<span class="t" style="left:1872.20px;top:933.13px;font-size:26.208px;line-height:34px;color:#ccccdc;letter-spacing:0.393px;-webkit-text-stroke:0.9px #ccccdc;">Stat</span>
<div class="b" style="left:1818px;top:993px;width:398px;height:249px;background:#202329;border:1px solid #33353b;border-radius:11px;box-sizing:border-box;overflow:hidden;"></div>
<svg class="b" style="left:1819px;top:994px;" width="396" height="247" viewBox="1819 994 396 247"><path d="M1830.0 1115.8 L1830.3 1115.6 L1830.7 1113.4 L1831.0 1115.0 L1831.4 1114.5 L1831.7 1113.2 L1832.0 1111.4 L1832.4 1111.4 L1832.7 1110.6 L1833.1 1111.2 L1833.4 1112.4 L1833.8 1112.8 L1834.1 1110.8 L1834.4 1111.9 L1834.8 1110.6 L1835.1 1112.8 L1835.5 1110.1 L1835.8 1111.9 L1836.1 1110.6 L1836.5 1109.9 L1836.8 1111.7 L1837.2 1112.2 L1837.5 1111.0 L1837.8 1111.9 L1838.2 1110.3 L1838.5 1110.6 L1838.9 1111.3 L1839.2 1109.6 L1839.5 1108.5 L1839.9 1107.7 L1840.2 1107.6 L1840.6 1105.3 L1840.9 1105.3 L1841.3 1106.7 L1841.6 1106.0 L1841.9 1106.6 L1842.3 1105.1 L1842.6 1106.1 L1843.0 1107.1 L1843.3 1108.4 L1843.6 1107.5 L1844.0 1107.3 L1844.3 1107.0 L1844.7 1105.5 L1845.0 1105.0 L1845.3 1107.4 L1845.7 1108.6 L1846.0 1107.0 L1846.4 1105.8 L1846.7 1105.9 L1847.0 1107.5 L1847.4 1108.6 L1847.7 1109.6 L1848.1 1108.0 L1848.4 1108.8 L1848.8 1108.5 L1849.1 1108.8 L1849.4 1109.1 L1849.8 1110.3 L1850.1 1108.1 L1850.5 1107.6 L1850.8 1107.1 L1851.1 1108.4 L1851.5 1106.9 L1851.8 1106.9 L1852.2 1107.7 L1852.5 1106.0 L1852.8 1104.3 L1853.2 1104.1 L1853.5 1104.2 L1853.9 1104.8 L1854.2 1106.6 L1854.5 1108.7 L1854.9 1109.0 L1855.2 1110.8 L1855.6 1112.6 L1855.9 1112.8 L1856.3 1111.8 L1856.6 1108.8 L1856.9 1110.2 L1857.3 1112.8 L1857.6 1112.4 L1858.0 1113.7 L1858.3 1115.4 L1858.6 1113.6 L1859.0 1113.7 L1859.3 1113.3 L1859.7 1113.0 L1860.0 1113.5 L1860.3 1115.8 L1860.7 1113.0 L1861.0 1111.9 L1861.4 1112.1 L1861.7 1112.8 L1862.0 1113.3 L1862.4 1112.3 L1862.7 1113.8 L1863.1 1113.5 L1863.4 1110.8 L1863.8 1108.9 L1864.1 1109.7 L1864.4 1107.8 L1864.8 1108.1 L1865.1 1107.0 L1865.5 1104.7 L1865.8 1107.1 L1866.1 1107.2 L1866.5 1106.4 L1866.8 1105.1 L1867.2 1103.3 L1867.5 1105.1 L1867.8 1106.1 L1868.2 1108.1 L1868.5 1110.4 L1868.9 1109.5 L1869.2 1108.1 L1869.5 1111.4 L1869.9 1111.0 L1870.2 1111.4 L1870.6 1112.5 L1870.9 1111.3 L1871.3 1109.4 L1871.6 1109.2 L1871.9 1110.3 L1872.3 1110.1 L1872.6 1109.9 L1873.0 1111.7 L1873.3 1111.3 L1873.6 1111.5 L1874.0 1111.3 L1874.3 1110.6 L1874.7 1111.8 L1875.0 1108.7 L1875.3 1110.6 L1875.7 1108.8 L1876.0 1110.1 L1876.4 1110.7 L1876.7 1110.1 L1877.1 1109.4 L1877.4 1111.5 L1877.7 1112.5 L1878.1 1114.7 L1878.4 1113.0 L1878.8 1112.2 L1879.1 1110.7 L1879.4 1107.5 L1879.8 1107.1 L1880.1 1106.7 L1880.5 1108.4 L1880.8 1107.6 L1881.1 1107.7 L1881.5 1108.4 L1881.8 1107.5 L1882.2 1107.5 L1882.5 1107.7 L1882.8 1107.2 L1883.2 1106.1 L1883.5 1105.3 L1883.9 1104.6 L1884.2 1102.7 L1884.6 1103.9 L1884.9 1103.0 L1885.2 1103.6 L1885.6 1102.9 L1885.9 1102.0 L1886.3 1103.6 L1886.6 1106.7 L1886.9 1108.6 L1887.3 1110.5 L1887.6 1111.8 L1888.0 1113.5 L1888.3 1114.6 L1888.6 1115.8 L1889.0 1115.8 L1889.3 1115.3 L1889.7 1114.4 L1890.0 1114.6 L1890.3 1115.6 L1890.7 1115.4 L1891.0 1115.4 L1891.4 1115.1 L1891.7 1114.8 L1892.1 1115.1 L1892.4 1114.2 L1892.7 1115.1 L1893.1 1115.2 L1893.4 1114.9 L1893.8 1115.2 L1894.1 1115.4 L1894.4 1114.6 L1894.8 1113.2 L1895.1 1111.1 L1895.5 1111.0 L1895.8 1109.0 L1896.1 1109.0 L1896.5 1107.5 L1896.8 1107.0 L1897.2 1107.3 L1897.5 1106.6 L1897.8 1108.0 L1898.2 1107.6 L1898.5 1107.4 L1898.9 1106.4 L1899.2 1107.5 L1899.6 1109.1 L1899.9 1110.8 L1900.2 1111.8 L1900.6 1111.0 L1900.9 1111.3 L1901.3 1113.6 L1901.6 1111.2 L1901.9 1110.9 L1902.3 1113.4 L1902.6 1115.8 L1903.0 1115.0 L1903.3 1114.1 L1903.6 1114.3 L1904.0 1113.0 L1904.3 1110.3 L1904.7 1109.4 L1905.0 1110.1 L1905.3 1111.0 L1905.7 1112.1 L1906.0 1111.5 L1906.4 1109.7 L1906.7 1110.3 L1907.1 1113.2 L1907.4 1113.8 L1907.7 1113.6 L1908.1 1115.6 L1908.4 1115.1 L1908.8 1114.7 L1909.1 1112.5 L1909.4 1110.8 L1909.8 1109.7 L1910.1 1109.8 L1910.5 1108.5 L1910.8 1110.3 L1911.1 1110.8 L1911.5 1113.3 L1911.8 1114.3 L1912.2 1115.3 L1912.5 1115.8 L1912.9 1115.3 L1913.2 1114.1 L1913.5 1115.2 L1913.9 1115.8 L1914.2 1113.9 L1914.6 1115.5 L1914.9 1115.8 L1915.2 1115.7 L1915.6 1112.9 L1915.9 1112.4 L1916.3 1112.7 L1916.6 1112.3 L1916.9 1110.9 L1917.3 1110.3 L1917.6 1107.6 L1918.0 1108.2 L1918.3 1107.8 L1918.6 1106.1 L1919.0 1107.1 L1919.3 1109.3 L1919.7 1108.2 L1920.0 1107.9 L1920.4 1106.2 L1920.7 1107.1 L1921.0 1106.2 L1921.4 1104.2 L1921.7 1106.3 L1922.1 1105.2 L1922.4 1107.1 L1922.7 1106.9 L1923.1 1107.6 L1923.4 1104.2 L1923.8 1105.9 L1924.1 1106.0 L1924.4 1106.5 L1924.8 1109.7 L1925.1 1107.9 L1925.5 1108.4 L1925.8 1105.8 L1926.1 1106.6 L1926.5 1104.9 L1926.8 1103.4 L1927.2 1103.6 L1927.5 1106.1 L1927.9 1107.6 L1928.2 1108.9 L1928.5 1107.1 L1928.9 1106.2 L1929.2 1107.3 L1929.6 1107.4 L1929.9 1107.3 L1930.2 1109.5 L1930.6 1107.9 L1930.9 1106.3 L1931.3 1108.9 L1931.6 1109.6 L1931.9 1109.4 L1932.3 1109.1 L1932.6 1109.6 L1933.0 1109.2 L1933.3 1109.9 L1933.6 1111.1 L1934.0 1112.7 L1934.3 1111.6 L1934.7 1111.3 L1935.0 1112.4 L1935.4 1114.3 L1935.7 1112.9 L1936.0 1112.7 L1936.4 1111.2 L1936.7 1111.7 L1937.1 1110.2 L1937.4 1109.2 L1937.7 1111.2 L1938.1 1114.3 L1938.4 1112.4 L1938.8 1113.9 L1939.1 1113.7 L1939.4 1113.2 L1939.8 1113.9 L1940.1 1114.1 L1940.5 1113.9 L1940.8 1115.0 L1941.1 1114.7 L1941.5 1113.9 L1941.8 1113.8 L1942.2 1115.6 L1942.5 1115.8 L1942.9 1115.8 L1943.2 1115.6 L1943.5 1115.4 L1943.9 1115.2 L1944.2 1112.8 L1944.6 1113.0 L1944.9 1114.4 L1945.2 1114.4 L1945.6 1113.0 L1945.9 1112.3 L1946.3 1113.7 L1946.6 1113.2 L1946.9 1112.2 L1947.3 1112.8 L1947.6 1111.6 L1948.0 1114.3 L1948.3 1112.5 L1948.6 1112.7 L1949.0 1110.3 L1949.3 1110.3 L1949.7 1110.4 L1950.0 1110.8 L1950.4 1111.4 L1950.7 1110.3 L1951.0 1109.9 L1951.4 1110.3 L1951.7 1109.9 L1952.1 1110.5 L1952.4 1111.7 L1952.4 1116.8 L1830.0 1116.8Z" fill="#73bf69" fill-opacity="0.22"/><path d="M1830.0 1115.8 L1830.3 1115.6 L1830.7 1113.4 L1831.0 1115.0 L1831.4 1114.5 L1831.7 1113.2 L1832.0 1111.4 L1832.4 1111.4 L1832.7 1110.6 L1833.1 1111.2 L1833.4 1112.4 L1833.8 1112.8 L1834.1 1110.8 L1834.4 1111.9 L1834.8 1110.6 L1835.1 1112.8 L1835.5 1110.1 L1835.8 1111.9 L1836.1 1110.6 L1836.5 1109.9 L1836.8 1111.7 L1837.2 1112.2 L1837.5 1111.0 L1837.8 1111.9 L1838.2 1110.3 L1838.5 1110.6 L1838.9 1111.3 L1839.2 1109.6 L1839.5 1108.5 L1839.9 1107.7 L1840.2 1107.6 L1840.6 1105.3 L1840.9 1105.3 L1841.3 1106.7 L1841.6 1106.0 L1841.9 1106.6 L1842.3 1105.1 L1842.6 1106.1 L1843.0 1107.1 L1843.3 1108.4 L1843.6 1107.5 L1844.0 1107.3 L1844.3 1107.0 L1844.7 1105.5 L1845.0 1105.0 L1845.3 1107.4 L1845.7 1108.6 L1846.0 1107.0 L1846.4 1105.8 L1846.7 1105.9 L1847.0 1107.5 L1847.4 1108.6 L1847.7 1109.6 L1848.1 1108.0 L1848.4 1108.8 L1848.8 1108.5 L1849.1 1108.8 L1849.4 1109.1 L1849.8 1110.3 L1850.1 1108.1 L1850.5 1107.6 L1850.8 1107.1 L1851.1 1108.4 L1851.5 1106.9 L1851.8 1106.9 L1852.2 1107.7 L1852.5 1106.0 L1852.8 1104.3 L1853.2 1104.1 L1853.5 1104.2 L1853.9 1104.8 L1854.2 1106.6 L1854.5 1108.7 L1854.9 1109.0 L1855.2 1110.8 L1855.6 1112.6 L1855.9 1112.8 L1856.3 1111.8 L1856.6 1108.8 L1856.9 1110.2 L1857.3 1112.8 L1857.6 1112.4 L1858.0 1113.7 L1858.3 1115.4 L1858.6 1113.6 L1859.0 1113.7 L1859.3 1113.3 L1859.7 1113.0 L1860.0 1113.5 L1860.3 1115.8 L1860.7 1113.0 L1861.0 1111.9 L1861.4 1112.1 L1861.7 1112.8 L1862.0 1113.3 L1862.4 1112.3 L1862.7 1113.8 L1863.1 1113.5 L1863.4 1110.8 L1863.8 1108.9 L1864.1 1109.7 L1864.4 1107.8 L1864.8 1108.1 L1865.1 1107.0 L1865.5 1104.7 L1865.8 1107.1 L1866.1 1107.2 L1866.5 1106.4 L1866.8 1105.1 L1867.2 1103.3 L1867.5 1105.1 L1867.8 1106.1 L1868.2 1108.1 L1868.5 1110.4 L1868.9 1109.5 L1869.2 1108.1 L1869.5 1111.4 L1869.9 1111.0 L1870.2 1111.4 L1870.6 1112.5 L1870.9 1111.3 L1871.3 1109.4 L1871.6 1109.2 L1871.9 1110.3 L1872.3 1110.1 L1872.6 1109.9 L1873.0 1111.7 L1873.3 1111.3 L1873.6 1111.5 L1874.0 1111.3 L1874.3 1110.6 L1874.7 1111.8 L1875.0 1108.7 L1875.3 1110.6 L1875.7 1108.8 L1876.0 1110.1 L1876.4 1110.7 L1876.7 1110.1 L1877.1 1109.4 L1877.4 1111.5 L1877.7 1112.5 L1878.1 1114.7 L1878.4 1113.0 L1878.8 1112.2 L1879.1 1110.7 L1879.4 1107.5 L1879.8 1107.1 L1880.1 1106.7 L1880.5 1108.4 L1880.8 1107.6 L1881.1 1107.7 L1881.5 1108.4 L1881.8 1107.5 L1882.2 1107.5 L1882.5 1107.7 L1882.8 1107.2 L1883.2 1106.1 L1883.5 1105.3 L1883.9 1104.6 L1884.2 1102.7 L1884.6 1103.9 L1884.9 1103.0 L1885.2 1103.6 L1885.6 1102.9 L1885.9 1102.0 L1886.3 1103.6 L1886.6 1106.7 L1886.9 1108.6 L1887.3 1110.5 L1887.6 1111.8 L1888.0 1113.5 L1888.3 1114.6 L1888.6 1115.8 L1889.0 1115.8 L1889.3 1115.3 L1889.7 1114.4 L1890.0 1114.6 L1890.3 1115.6 L1890.7 1115.4 L1891.0 1115.4 L1891.4 1115.1 L1891.7 1114.8 L1892.1 1115.1 L1892.4 1114.2 L1892.7 1115.1 L1893.1 1115.2 L1893.4 1114.9 L1893.8 1115.2 L1894.1 1115.4 L1894.4 1114.6 L1894.8 1113.2 L1895.1 1111.1 L1895.5 1111.0 L1895.8 1109.0 L1896.1 1109.0 L1896.5 1107.5 L1896.8 1107.0 L1897.2 1107.3 L1897.5 1106.6 L1897.8 1108.0 L1898.2 1107.6 L1898.5 1107.4 L1898.9 1106.4 L1899.2 1107.5 L1899.6 1109.1 L1899.9 1110.8 L1900.2 1111.8 L1900.6 1111.0 L1900.9 1111.3 L1901.3 1113.6 L1901.6 1111.2 L1901.9 1110.9 L1902.3 1113.4 L1902.6 1115.8 L1903.0 1115.0 L1903.3 1114.1 L1903.6 1114.3 L1904.0 1113.0 L1904.3 1110.3 L1904.7 1109.4 L1905.0 1110.1 L1905.3 1111.0 L1905.7 1112.1 L1906.0 1111.5 L1906.4 1109.7 L1906.7 1110.3 L1907.1 1113.2 L1907.4 1113.8 L1907.7 1113.6 L1908.1 1115.6 L1908.4 1115.1 L1908.8 1114.7 L1909.1 1112.5 L1909.4 1110.8 L1909.8 1109.7 L1910.1 1109.8 L1910.5 1108.5 L1910.8 1110.3 L1911.1 1110.8 L1911.5 1113.3 L1911.8 1114.3 L1912.2 1115.3 L1912.5 1115.8 L1912.9 1115.3 L1913.2 1114.1 L1913.5 1115.2 L1913.9 1115.8 L1914.2 1113.9 L1914.6 1115.5 L1914.9 1115.8 L1915.2 1115.7 L1915.6 1112.9 L1915.9 1112.4 L1916.3 1112.7 L1916.6 1112.3 L1916.9 1110.9 L1917.3 1110.3 L1917.6 1107.6 L1918.0 1108.2 L1918.3 1107.8 L1918.6 1106.1 L1919.0 1107.1 L1919.3 1109.3 L1919.7 1108.2 L1920.0 1107.9 L1920.4 1106.2 L1920.7 1107.1 L1921.0 1106.2 L1921.4 1104.2 L1921.7 1106.3 L1922.1 1105.2 L1922.4 1107.1 L1922.7 1106.9 L1923.1 1107.6 L1923.4 1104.2 L1923.8 1105.9 L1924.1 1106.0 L1924.4 1106.5 L1924.8 1109.7 L1925.1 1107.9 L1925.5 1108.4 L1925.8 1105.8 L1926.1 1106.6 L1926.5 1104.9 L1926.8 1103.4 L1927.2 1103.6 L1927.5 1106.1 L1927.9 1107.6 L1928.2 1108.9 L1928.5 1107.1 L1928.9 1106.2 L1929.2 1107.3 L1929.6 1107.4 L1929.9 1107.3 L1930.2 1109.5 L1930.6 1107.9 L1930.9 1106.3 L1931.3 1108.9 L1931.6 1109.6 L1931.9 1109.4 L1932.3 1109.1 L1932.6 1109.6 L1933.0 1109.2 L1933.3 1109.9 L1933.6 1111.1 L1934.0 1112.7 L1934.3 1111.6 L1934.7 1111.3 L1935.0 1112.4 L1935.4 1114.3 L1935.7 1112.9 L1936.0 1112.7 L1936.4 1111.2 L1936.7 1111.7 L1937.1 1110.2 L1937.4 1109.2 L1937.7 1111.2 L1938.1 1114.3 L1938.4 1112.4 L1938.8 1113.9 L1939.1 1113.7 L1939.4 1113.2 L1939.8 1113.9 L1940.1 1114.1 L1940.5 1113.9 L1940.8 1115.0 L1941.1 1114.7 L1941.5 1113.9 L1941.8 1113.8 L1942.2 1115.6 L1942.5 1115.8 L1942.9 1115.8 L1943.2 1115.6 L1943.5 1115.4 L1943.9 1115.2 L1944.2 1112.8 L1944.6 1113.0 L1944.9 1114.4 L1945.2 1114.4 L1945.6 1113.0 L1945.9 1112.3 L1946.3 1113.7 L1946.6 1113.2 L1946.9 1112.2 L1947.3 1112.8 L1947.6 1111.6 L1948.0 1114.3 L1948.3 1112.5 L1948.6 1112.7 L1949.0 1110.3 L1949.3 1110.3 L1949.7 1110.4 L1950.0 1110.8 L1950.4 1111.4 L1950.7 1110.3 L1951.0 1109.9 L1951.4 1110.3 L1951.7 1109.9 L1952.1 1110.5 L1952.4 1111.7" fill="none" stroke="#73bf69" stroke-width="1.5" stroke-linejoin="round"/><path d="M1956.3 1115.1 L1956.6 1114.7 L1957.0 1114.3 L1957.3 1113.7 L1957.7 1115.2 L1958.0 1114.9 L1958.4 1115.6 L1958.7 1114.6 L1959.0 1112.5 L1959.4 1112.9 L1959.7 1115.3 L1960.1 1112.0 L1960.4 1111.8 L1960.7 1110.5 L1961.1 1110.0 L1961.4 1108.5 L1961.8 1110.5 L1962.1 1109.2 L1962.5 1109.4 L1962.8 1109.4 L1963.1 1111.3 L1963.5 1111.8 L1963.8 1109.5 L1964.2 1112.0 L1964.5 1110.4 L1964.9 1108.9 L1965.2 1108.0 L1965.5 1106.4 L1965.9 1105.4 L1966.2 1105.4 L1966.6 1107.8 L1966.9 1106.3 L1967.2 1107.2 L1967.6 1108.5 L1967.9 1109.7 L1968.3 1110.4 L1968.6 1110.7 L1969.0 1111.3 L1969.3 1110.4 L1969.6 1110.9 L1970.0 1112.4 L1970.3 1110.8 L1970.7 1109.4 L1971.0 1110.6 L1971.4 1110.5 L1971.7 1109.5 L1972.0 1112.2 L1972.4 1111.4 L1972.7 1112.9 L1973.1 1112.1 L1973.4 1113.7 L1973.7 1113.6 L1974.1 1111.3 L1974.4 1110.6 L1974.8 1109.9 L1975.1 1110.4 L1975.5 1110.8 L1975.8 1110.2 L1976.1 1110.9 L1976.5 1110.7 L1976.8 1110.8 L1977.2 1110.3 L1977.5 1108.8 L1977.8 1109.6 L1978.2 1111.2 L1978.5 1110.4 L1978.9 1111.5 L1979.2 1112.1 L1979.6 1111.4 L1979.9 1110.8 L1980.2 1111.1 L1980.6 1111.4 L1980.9 1110.9 L1981.3 1109.7 L1981.6 1109.6 L1982.0 1111.2 L1982.3 1111.8 L1982.6 1114.1 L1983.0 1113.7 L1983.3 1113.8 L1983.7 1112.7 L1984.0 1113.8 L1984.3 1112.9 L1984.7 1113.3 L1985.0 1110.2 L1985.4 1108.7 L1985.7 1106.9 L1986.1 1106.6 L1986.4 1108.5 L1986.7 1108.8 L1987.1 1106.7 L1987.4 1107.4 L1987.8 1107.2 L1988.1 1107.8 L1988.5 1107.5 L1988.8 1108.0 L1989.1 1110.0 L1989.5 1112.0 L1989.8 1111.3 L1990.2 1112.3 L1990.5 1112.7 L1990.8 1113.8 L1991.2 1113.2 L1991.5 1112.1 L1991.9 1110.8 L1992.2 1109.2 L1992.6 1109.5 L1992.9 1107.6 L1993.2 1109.5 L1993.6 1107.4 L1993.9 1106.8 L1994.3 1104.9 L1994.6 1106.5 L1995.0 1105.3 L1995.3 1104.6 L1995.6 1105.7 L1996.0 1104.7 L1996.3 1105.3 L1996.7 1107.4 L1997.0 1106.2 L1997.3 1106.6 L1997.7 1107.2 L1998.0 1108.9 L1998.4 1108.8 L1998.7 1106.3 L1999.1 1105.3 L1999.4 1104.2 L1999.7 1103.2 L2000.1 1102.0 L2000.4 1102.9 L2000.8 1101.1 L2001.1 1101.0 L2001.5 1102.4 L2001.8 1104.9 L2002.1 1105.5 L2002.5 1104.8 L2002.8 1103.6 L2003.2 1102.4 L2003.5 1104.3 L2003.8 1104.1 L2004.2 1103.9 L2004.5 1102.9 L2004.9 1101.6 L2005.2 1102.3 L2005.6 1101.9 L2005.9 1101.3 L2006.2 1101.5 L2006.6 1102.3 L2006.9 1100.5 L2007.3 1098.9 L2007.6 1099.0 L2008.0 1100.9 L2008.3 1100.1 L2008.6 1100.3 L2009.0 1100.5 L2009.3 1100.3 L2009.7 1100.6 L2010.0 1100.4 L2010.3 1099.7 L2010.7 1100.5 L2011.0 1101.9 L2011.4 1100.6 L2011.7 1100.9 L2012.1 1102.2 L2012.4 1100.8 L2012.7 1099.4 L2013.1 1098.3 L2013.4 1100.0 L2013.8 1098.7 L2014.1 1101.1 L2014.5 1100.3 L2014.8 1098.7 L2015.1 1098.0 L2015.5 1096.1 L2015.8 1096.4 L2016.2 1095.5 L2016.5 1093.5 L2016.8 1094.6 L2017.2 1093.0 L2017.5 1093.6 L2017.9 1094.0 L2018.2 1093.8 L2018.6 1095.7 L2018.9 1094.1 L2019.2 1092.9 L2019.6 1093.4 L2019.9 1092.7 L2020.3 1093.1 L2020.6 1094.0 L2020.9 1092.0 L2021.3 1091.5 L2021.6 1090.9 L2022.0 1089.5 L2022.3 1090.1 L2022.7 1089.2 L2023.0 1090.1 L2023.3 1090.3 L2023.7 1091.5 L2024.0 1092.0 L2024.4 1091.1 L2024.7 1091.8 L2025.1 1092.7 L2025.4 1093.1 L2025.7 1093.6 L2026.1 1092.3 L2026.4 1092.3 L2026.8 1091.6 L2027.1 1089.9 L2027.4 1087.8 L2027.8 1087.8 L2028.1 1089.7 L2028.5 1090.0 L2028.8 1088.7 L2029.2 1086.1 L2029.5 1088.6 L2029.8 1088.8 L2030.2 1086.8 L2030.5 1083.9 L2030.9 1085.5 L2031.2 1081.9 L2031.6 1080.6 L2031.9 1082.5 L2032.2 1080.5 L2032.6 1082.4 L2032.9 1082.3 L2033.3 1083.2 L2033.6 1086.0 L2033.9 1083.1 L2034.3 1083.7 L2034.6 1083.1 L2035.0 1085.3 L2035.3 1084.1 L2035.7 1083.8 L2036.0 1081.5 L2036.3 1080.7 L2036.7 1081.7 L2037.0 1083.2 L2037.4 1082.6 L2037.7 1082.1 L2038.1 1081.1 L2038.4 1081.3 L2038.7 1078.5 L2039.1 1080.0 L2039.4 1078.9 L2039.8 1078.5 L2040.1 1077.7 L2040.4 1080.2 L2040.8 1081.6 L2041.1 1079.0 L2041.5 1078.9 L2041.8 1080.1 L2042.2 1081.8 L2042.5 1080.5 L2042.8 1081.0 L2043.2 1081.1 L2043.5 1082.4 L2043.9 1082.9 L2044.2 1083.5 L2044.6 1083.6 L2044.9 1082.2 L2045.2 1080.7 L2045.6 1081.3 L2045.9 1080.4 L2046.3 1082.5 L2046.6 1083.6 L2046.9 1083.0 L2047.3 1083.2 L2047.6 1082.2 L2048.0 1081.2 L2048.3 1080.6 L2048.7 1079.9 L2049.0 1079.4 L2049.3 1080.5 L2049.7 1081.0 L2050.0 1080.6 L2050.4 1078.5 L2050.7 1079.3 L2051.1 1080.4 L2051.4 1082.5 L2051.7 1081.9 L2052.1 1080.8 L2052.4 1080.5 L2052.8 1080.5 L2053.1 1079.8 L2053.4 1078.5 L2053.8 1081.5 L2054.1 1081.8 L2054.5 1080.4 L2054.8 1082.1 L2055.2 1083.6 L2055.5 1082.7 L2055.8 1083.4 L2056.2 1081.4 L2056.5 1083.1 L2056.9 1083.8 L2057.2 1083.5 L2057.6 1082.3 L2057.9 1079.1 L2058.2 1079.8 L2058.6 1079.4 L2058.9 1079.1 L2059.3 1080.3 L2059.6 1082.0 L2059.9 1082.2 L2060.3 1079.4 L2060.6 1078.4 L2061.0 1076.9 L2061.3 1076.1 L2061.7 1076.1 L2062.0 1077.2 L2062.3 1077.9 L2062.7 1076.3 L2063.0 1076.5 L2063.4 1077.7 L2063.7 1077.2 L2064.0 1075.3 L2064.4 1075.0 L2064.7 1074.7 L2065.1 1072.8 L2065.4 1075.6 L2065.8 1076.0 L2066.1 1073.6 L2066.4 1073.8 L2066.8 1072.5 L2067.1 1073.1 L2067.5 1075.1 L2067.8 1074.5 L2068.2 1074.9 L2068.5 1075.1 L2068.8 1073.5 L2069.2 1071.1 L2069.5 1068.7 L2069.9 1069.6 L2070.2 1071.6 L2070.5 1071.9 L2070.9 1072.8 L2071.2 1073.6 L2071.6 1074.3 L2071.9 1073.9 L2072.3 1073.0 L2072.6 1070.7 L2072.9 1071.7 L2073.3 1070.9 L2073.6 1069.1 L2074.0 1070.1 L2074.3 1069.6 L2074.7 1069.5 L2075.0 1068.5 L2075.3 1068.6 L2075.7 1068.9 L2076.0 1073.0 L2076.4 1071.7 L2076.7 1070.8 L2077.0 1070.4 L2077.4 1069.3 L2077.7 1069.5 L2078.1 1068.1 L2078.4 1067.5 L2078.8 1067.2 L2079.1 1065.5 L2079.1 1116.8 L1956.3 1116.8Z" fill="#f2495c" fill-opacity="0.22"/><path d="M1956.3 1115.1 L1956.6 1114.7 L1957.0 1114.3 L1957.3 1113.7 L1957.7 1115.2 L1958.0 1114.9 L1958.4 1115.6 L1958.7 1114.6 L1959.0 1112.5 L1959.4 1112.9 L1959.7 1115.3 L1960.1 1112.0 L1960.4 1111.8 L1960.7 1110.5 L1961.1 1110.0 L1961.4 1108.5 L1961.8 1110.5 L1962.1 1109.2 L1962.5 1109.4 L1962.8 1109.4 L1963.1 1111.3 L1963.5 1111.8 L1963.8 1109.5 L1964.2 1112.0 L1964.5 1110.4 L1964.9 1108.9 L1965.2 1108.0 L1965.5 1106.4 L1965.9 1105.4 L1966.2 1105.4 L1966.6 1107.8 L1966.9 1106.3 L1967.2 1107.2 L1967.6 1108.5 L1967.9 1109.7 L1968.3 1110.4 L1968.6 1110.7 L1969.0 1111.3 L1969.3 1110.4 L1969.6 1110.9 L1970.0 1112.4 L1970.3 1110.8 L1970.7 1109.4 L1971.0 1110.6 L1971.4 1110.5 L1971.7 1109.5 L1972.0 1112.2 L1972.4 1111.4 L1972.7 1112.9 L1973.1 1112.1 L1973.4 1113.7 L1973.7 1113.6 L1974.1 1111.3 L1974.4 1110.6 L1974.8 1109.9 L1975.1 1110.4 L1975.5 1110.8 L1975.8 1110.2 L1976.1 1110.9 L1976.5 1110.7 L1976.8 1110.8 L1977.2 1110.3 L1977.5 1108.8 L1977.8 1109.6 L1978.2 1111.2 L1978.5 1110.4 L1978.9 1111.5 L1979.2 1112.1 L1979.6 1111.4 L1979.9 1110.8 L1980.2 1111.1 L1980.6 1111.4 L1980.9 1110.9 L1981.3 1109.7 L1981.6 1109.6 L1982.0 1111.2 L1982.3 1111.8 L1982.6 1114.1 L1983.0 1113.7 L1983.3 1113.8 L1983.7 1112.7 L1984.0 1113.8 L1984.3 1112.9 L1984.7 1113.3 L1985.0 1110.2 L1985.4 1108.7 L1985.7 1106.9 L1986.1 1106.6 L1986.4 1108.5 L1986.7 1108.8 L1987.1 1106.7 L1987.4 1107.4 L1987.8 1107.2 L1988.1 1107.8 L1988.5 1107.5 L1988.8 1108.0 L1989.1 1110.0 L1989.5 1112.0 L1989.8 1111.3 L1990.2 1112.3 L1990.5 1112.7 L1990.8 1113.8 L1991.2 1113.2 L1991.5 1112.1 L1991.9 1110.8 L1992.2 1109.2 L1992.6 1109.5 L1992.9 1107.6 L1993.2 1109.5 L1993.6 1107.4 L1993.9 1106.8 L1994.3 1104.9 L1994.6 1106.5 L1995.0 1105.3 L1995.3 1104.6 L1995.6 1105.7 L1996.0 1104.7 L1996.3 1105.3 L1996.7 1107.4 L1997.0 1106.2 L1997.3 1106.6 L1997.7 1107.2 L1998.0 1108.9 L1998.4 1108.8 L1998.7 1106.3 L1999.1 1105.3 L1999.4 1104.2 L1999.7 1103.2 L2000.1 1102.0 L2000.4 1102.9 L2000.8 1101.1 L2001.1 1101.0 L2001.5 1102.4 L2001.8 1104.9 L2002.1 1105.5 L2002.5 1104.8 L2002.8 1103.6 L2003.2 1102.4 L2003.5 1104.3 L2003.8 1104.1 L2004.2 1103.9 L2004.5 1102.9 L2004.9 1101.6 L2005.2 1102.3 L2005.6 1101.9 L2005.9 1101.3 L2006.2 1101.5 L2006.6 1102.3 L2006.9 1100.5 L2007.3 1098.9 L2007.6 1099.0 L2008.0 1100.9 L2008.3 1100.1 L2008.6 1100.3 L2009.0 1100.5 L2009.3 1100.3 L2009.7 1100.6 L2010.0 1100.4 L2010.3 1099.7 L2010.7 1100.5 L2011.0 1101.9 L2011.4 1100.6 L2011.7 1100.9 L2012.1 1102.2 L2012.4 1100.8 L2012.7 1099.4 L2013.1 1098.3 L2013.4 1100.0 L2013.8 1098.7 L2014.1 1101.1 L2014.5 1100.3 L2014.8 1098.7 L2015.1 1098.0 L2015.5 1096.1 L2015.8 1096.4 L2016.2 1095.5 L2016.5 1093.5 L2016.8 1094.6 L2017.2 1093.0 L2017.5 1093.6 L2017.9 1094.0 L2018.2 1093.8 L2018.6 1095.7 L2018.9 1094.1 L2019.2 1092.9 L2019.6 1093.4 L2019.9 1092.7 L2020.3 1093.1 L2020.6 1094.0 L2020.9 1092.0 L2021.3 1091.5 L2021.6 1090.9 L2022.0 1089.5 L2022.3 1090.1 L2022.7 1089.2 L2023.0 1090.1 L2023.3 1090.3 L2023.7 1091.5 L2024.0 1092.0 L2024.4 1091.1 L2024.7 1091.8 L2025.1 1092.7 L2025.4 1093.1 L2025.7 1093.6 L2026.1 1092.3 L2026.4 1092.3 L2026.8 1091.6 L2027.1 1089.9 L2027.4 1087.8 L2027.8 1087.8 L2028.1 1089.7 L2028.5 1090.0 L2028.8 1088.7 L2029.2 1086.1 L2029.5 1088.6 L2029.8 1088.8 L2030.2 1086.8 L2030.5 1083.9 L2030.9 1085.5 L2031.2 1081.9 L2031.6 1080.6 L2031.9 1082.5 L2032.2 1080.5 L2032.6 1082.4 L2032.9 1082.3 L2033.3 1083.2 L2033.6 1086.0 L2033.9 1083.1 L2034.3 1083.7 L2034.6 1083.1 L2035.0 1085.3 L2035.3 1084.1 L2035.7 1083.8 L2036.0 1081.5 L2036.3 1080.7 L2036.7 1081.7 L2037.0 1083.2 L2037.4 1082.6 L2037.7 1082.1 L2038.1 1081.1 L2038.4 1081.3 L2038.7 1078.5 L2039.1 1080.0 L2039.4 1078.9 L2039.8 1078.5 L2040.1 1077.7 L2040.4 1080.2 L2040.8 1081.6 L2041.1 1079.0 L2041.5 1078.9 L2041.8 1080.1 L2042.2 1081.8 L2042.5 1080.5 L2042.8 1081.0 L2043.2 1081.1 L2043.5 1082.4 L2043.9 1082.9 L2044.2 1083.5 L2044.6 1083.6 L2044.9 1082.2 L2045.2 1080.7 L2045.6 1081.3 L2045.9 1080.4 L2046.3 1082.5 L2046.6 1083.6 L2046.9 1083.0 L2047.3 1083.2 L2047.6 1082.2 L2048.0 1081.2 L2048.3 1080.6 L2048.7 1079.9 L2049.0 1079.4 L2049.3 1080.5 L2049.7 1081.0 L2050.0 1080.6 L2050.4 1078.5 L2050.7 1079.3 L2051.1 1080.4 L2051.4 1082.5 L2051.7 1081.9 L2052.1 1080.8 L2052.4 1080.5 L2052.8 1080.5 L2053.1 1079.8 L2053.4 1078.5 L2053.8 1081.5 L2054.1 1081.8 L2054.5 1080.4 L2054.8 1082.1 L2055.2 1083.6 L2055.5 1082.7 L2055.8 1083.4 L2056.2 1081.4 L2056.5 1083.1 L2056.9 1083.8 L2057.2 1083.5 L2057.6 1082.3 L2057.9 1079.1 L2058.2 1079.8 L2058.6 1079.4 L2058.9 1079.1 L2059.3 1080.3 L2059.6 1082.0 L2059.9 1082.2 L2060.3 1079.4 L2060.6 1078.4 L2061.0 1076.9 L2061.3 1076.1 L2061.7 1076.1 L2062.0 1077.2 L2062.3 1077.9 L2062.7 1076.3 L2063.0 1076.5 L2063.4 1077.7 L2063.7 1077.2 L2064.0 1075.3 L2064.4 1075.0 L2064.7 1074.7 L2065.1 1072.8 L2065.4 1075.6 L2065.8 1076.0 L2066.1 1073.6 L2066.4 1073.8 L2066.8 1072.5 L2067.1 1073.1 L2067.5 1075.1 L2067.8 1074.5 L2068.2 1074.9 L2068.5 1075.1 L2068.8 1073.5 L2069.2 1071.1 L2069.5 1068.7 L2069.9 1069.6 L2070.2 1071.6 L2070.5 1071.9 L2070.9 1072.8 L2071.2 1073.6 L2071.6 1074.3 L2071.9 1073.9 L2072.3 1073.0 L2072.6 1070.7 L2072.9 1071.7 L2073.3 1070.9 L2073.6 1069.1 L2074.0 1070.1 L2074.3 1069.6 L2074.7 1069.5 L2075.0 1068.5 L2075.3 1068.6 L2075.7 1068.9 L2076.0 1073.0 L2076.4 1071.7 L2076.7 1070.8 L2077.0 1070.4 L2077.4 1069.3 L2077.7 1069.5 L2078.1 1068.1 L2078.4 1067.5 L2078.8 1067.2 L2079.1 1065.5" fill="none" stroke="#f2495c" stroke-width="1.5" stroke-linejoin="round"/><path d="M2083.3 1115.8 L2083.6 1115.6 L2084.0 1115.1 L2084.3 1115.8 L2084.7 1115.8 L2085.0 1115.4 L2085.4 1113.1 L2085.7 1113.1 L2086.0 1114.5 L2086.4 1115.1 L2086.7 1115.5 L2087.1 1112.7 L2087.4 1113.4 L2087.7 1114.8 L2088.1 1114.4 L2088.4 1111.7 L2088.8 1110.8 L2089.1 1111.1 L2089.5 1110.9 L2089.8 1112.6 L2090.1 1112.8 L2090.5 1111.8 L2090.8 1111.4 L2091.2 1111.5 L2091.5 1110.8 L2091.9 1111.9 L2092.2 1109.9 L2092.5 1108.8 L2092.9 1109.9 L2093.2 1110.4 L2093.6 1111.4 L2093.9 1110.1 L2094.2 1108.4 L2094.6 1109.7 L2094.9 1111.1 L2095.3 1110.9 L2095.6 1109.8 L2096.0 1110.2 L2096.3 1110.8 L2096.6 1108.5 L2097.0 1106.3 L2097.3 1107.9 L2097.7 1104.6 L2098.0 1104.3 L2098.4 1102.8 L2098.7 1103.2 L2099.0 1106.8 L2099.4 1106.7 L2099.7 1107.4 L2100.1 1106.2 L2100.4 1103.5 L2100.7 1103.3 L2101.1 1104.4 L2101.4 1105.2 L2101.8 1106.0 L2102.1 1107.3 L2102.5 1109.8 L2102.8 1110.0 L2103.1 1111.2 L2103.5 1112.8 L2103.8 1110.8 L2104.2 1111.3 L2104.5 1112.8 L2104.8 1112.4 L2105.2 1110.7 L2105.5 1110.4 L2105.9 1109.8 L2106.2 1108.3 L2106.6 1111.2 L2106.9 1110.0 L2107.2 1108.4 L2107.6 1108.4 L2107.9 1109.3 L2108.3 1107.2 L2108.6 1109.9 L2109.0 1111.3 L2109.3 1111.2 L2109.6 1112.5 L2110.0 1113.1 L2110.3 1113.0 L2110.7 1111.5 L2111.0 1109.5 L2111.3 1110.2 L2111.7 1111.8 L2112.0 1112.3 L2112.4 1113.8 L2112.7 1114.8 L2113.1 1113.5 L2113.4 1114.6 L2113.7 1112.9 L2114.1 1115.0 L2114.4 1115.1 L2114.8 1114.7 L2115.1 1115.8 L2115.5 1114.7 L2115.8 1115.0 L2116.1 1115.8 L2116.5 1115.7 L2116.8 1115.2 L2117.2 1115.3 L2117.5 1115.3 L2117.8 1115.6 L2118.2 1113.4 L2118.5 1115.2 L2118.9 1113.7 L2119.2 1115.8 L2119.6 1115.0 L2119.9 1114.0 L2120.2 1112.1 L2120.6 1111.9 L2120.9 1112.3 L2121.3 1112.5 L2121.6 1114.1 L2122.0 1114.5 L2122.3 1114.2 L2122.6 1112.5 L2123.0 1112.4 L2123.3 1113.2 L2123.7 1113.3 L2124.0 1112.3 L2124.3 1111.7 L2124.7 1113.0 L2125.0 1112.5 L2125.4 1111.6 L2125.7 1112.5 L2126.1 1112.6 L2126.4 1113.1 L2126.7 1115.1 L2127.1 1115.8 L2127.4 1115.8 L2127.8 1115.6 L2128.1 1115.3 L2128.5 1115.8 L2128.8 1114.7 L2129.1 1115.3 L2129.5 1115.5 L2129.8 1114.4 L2130.2 1112.5 L2130.5 1111.4 L2130.8 1110.3 L2131.2 1110.6 L2131.5 1111.3 L2131.9 1112.4 L2132.2 1113.9 L2132.6 1111.9 L2132.9 1110.3 L2133.2 1108.2 L2133.6 1108.9 L2133.9 1109.9 L2134.3 1112.1 L2134.6 1111.6 L2135.0 1110.5 L2135.3 1111.9 L2135.6 1112.5 L2136.0 1112.9 L2136.3 1114.6 L2136.7 1115.0 L2137.0 1115.8 L2137.3 1115.8 L2137.7 1114.9 L2138.0 1113.7 L2138.4 1112.4 L2138.7 1114.0 L2139.1 1113.9 L2139.4 1115.1 L2139.7 1115.8 L2140.1 1114.9 L2140.4 1115.0 L2140.8 1115.0 L2141.1 1115.8 L2141.5 1115.8 L2141.8 1113.8 L2142.1 1115.8 L2142.5 1114.6 L2142.8 1114.2 L2143.2 1112.3 L2143.5 1113.5 L2143.8 1114.7 L2144.2 1112.9 L2144.5 1112.7 L2144.9 1111.2 L2145.2 1113.6 L2145.6 1113.9 L2145.9 1113.0 L2146.2 1113.7 L2146.6 1112.7 L2146.9 1114.4 L2147.3 1114.4 L2147.6 1114.5 L2147.9 1113.7 L2148.3 1114.4 L2148.6 1112.2 L2149.0 1110.9 L2149.3 1112.0 L2149.7 1112.4 L2150.0 1114.7 L2150.3 1112.9 L2150.7 1111.9 L2151.0 1115.0 L2151.4 1114.6 L2151.7 1113.1 L2152.1 1112.2 L2152.4 1113.0 L2152.7 1112.2 L2153.1 1112.1 L2153.4 1109.0 L2153.8 1108.6 L2154.1 1109.5 L2154.4 1108.9 L2154.8 1110.9 L2155.1 1111.5 L2155.5 1107.7 L2155.8 1106.7 L2156.2 1105.3 L2156.5 1104.8 L2156.8 1106.3 L2157.2 1106.9 L2157.5 1108.4 L2157.9 1108.9 L2158.2 1107.6 L2158.6 1106.9 L2158.9 1107.9 L2159.2 1109.3 L2159.6 1109.3 L2159.9 1106.4 L2160.3 1107.1 L2160.6 1106.5 L2160.9 1107.6 L2161.3 1108.8 L2161.6 1112.2 L2162.0 1109.1 L2162.3 1110.0 L2162.7 1108.8 L2163.0 1106.4 L2163.3 1105.2 L2163.7 1104.7 L2164.0 1104.5 L2164.4 1104.9 L2164.7 1103.9 L2165.1 1103.8 L2165.4 1104.9 L2165.7 1105.5 L2166.1 1107.3 L2166.4 1107.1 L2166.8 1104.9 L2167.1 1104.2 L2167.4 1104.5 L2167.8 1106.1 L2168.1 1103.5 L2168.5 1103.2 L2168.8 1104.4 L2169.2 1104.9 L2169.5 1104.1 L2169.8 1105.1 L2170.2 1104.1 L2170.5 1103.4 L2170.9 1102.2 L2171.2 1102.8 L2171.6 1103.2 L2171.9 1102.6 L2172.2 1101.6 L2172.6 1101.0 L2172.9 1101.1 L2173.3 1100.0 L2173.6 1100.5 L2173.9 1098.9 L2174.3 1098.9 L2174.6 1099.2 L2175.0 1099.4 L2175.3 1097.6 L2175.7 1096.6 L2176.0 1094.3 L2176.3 1096.0 L2176.7 1094.4 L2177.0 1093.2 L2177.4 1093.5 L2177.7 1095.1 L2178.1 1095.1 L2178.4 1093.6 L2178.7 1094.8 L2179.1 1097.2 L2179.4 1097.0 L2179.8 1099.6 L2180.1 1099.6 L2180.4 1100.9 L2180.8 1100.5 L2181.1 1100.1 L2181.5 1099.3 L2181.8 1097.7 L2182.2 1096.3 L2182.5 1095.6 L2182.8 1096.9 L2183.2 1097.7 L2183.5 1094.8 L2183.9 1094.2 L2184.2 1097.2 L2184.6 1094.2 L2184.9 1094.8 L2185.2 1095.4 L2185.6 1096.9 L2185.9 1098.5 L2186.3 1097.4 L2186.6 1100.6 L2186.9 1100.6 L2187.3 1101.4 L2187.6 1100.6 L2188.0 1101.4 L2188.3 1099.3 L2188.7 1100.4 L2189.0 1101.1 L2189.3 1102.6 L2189.7 1100.0 L2190.0 1098.0 L2190.4 1098.7 L2190.7 1099.8 L2191.0 1101.8 L2191.4 1098.3 L2191.7 1097.2 L2192.1 1094.5 L2192.4 1095.1 L2192.8 1096.3 L2193.1 1095.2 L2193.4 1096.7 L2193.8 1095.8 L2194.1 1094.8 L2194.5 1094.7 L2194.8 1093.9 L2195.2 1091.4 L2195.5 1092.7 L2195.8 1093.2 L2196.2 1093.5 L2196.5 1094.4 L2196.9 1094.2 L2197.2 1093.7 L2197.5 1091.9 L2197.9 1090.2 L2198.2 1089.7 L2198.6 1088.4 L2198.9 1088.6 L2199.3 1091.0 L2199.6 1091.6 L2199.9 1091.8 L2200.3 1090.9 L2200.6 1089.6 L2201.0 1087.8 L2201.3 1086.7 L2201.7 1087.2 L2202.0 1085.5 L2202.3 1082.7 L2202.7 1082.6 L2203.0 1082.2 L2203.4 1082.4 L2203.7 1082.1 L2204.0 1080.6 L2204.4 1078.8 L2204.7 1079.7 L2205.1 1080.1 L2205.4 1080.8 L2205.8 1082.5 L2206.1 1083.0 L2206.1 1116.8 L2083.3 1116.8Z" fill="#f2495c" fill-opacity="0.22"/><path d="M2083.3 1115.8 L2083.6 1115.6 L2084.0 1115.1 L2084.3 1115.8 L2084.7 1115.8 L2085.0 1115.4 L2085.4 1113.1 L2085.7 1113.1 L2086.0 1114.5 L2086.4 1115.1 L2086.7 1115.5 L2087.1 1112.7 L2087.4 1113.4 L2087.7 1114.8 L2088.1 1114.4 L2088.4 1111.7 L2088.8 1110.8 L2089.1 1111.1 L2089.5 1110.9 L2089.8 1112.6 L2090.1 1112.8 L2090.5 1111.8 L2090.8 1111.4 L2091.2 1111.5 L2091.5 1110.8 L2091.9 1111.9 L2092.2 1109.9 L2092.5 1108.8 L2092.9 1109.9 L2093.2 1110.4 L2093.6 1111.4 L2093.9 1110.1 L2094.2 1108.4 L2094.6 1109.7 L2094.9 1111.1 L2095.3 1110.9 L2095.6 1109.8 L2096.0 1110.2 L2096.3 1110.8 L2096.6 1108.5 L2097.0 1106.3 L2097.3 1107.9 L2097.7 1104.6 L2098.0 1104.3 L2098.4 1102.8 L2098.7 1103.2 L2099.0 1106.8 L2099.4 1106.7 L2099.7 1107.4 L2100.1 1106.2 L2100.4 1103.5 L2100.7 1103.3 L2101.1 1104.4 L2101.4 1105.2 L2101.8 1106.0 L2102.1 1107.3 L2102.5 1109.8 L2102.8 1110.0 L2103.1 1111.2 L2103.5 1112.8 L2103.8 1110.8 L2104.2 1111.3 L2104.5 1112.8 L2104.8 1112.4 L2105.2 1110.7 L2105.5 1110.4 L2105.9 1109.8 L2106.2 1108.3 L2106.6 1111.2 L2106.9 1110.0 L2107.2 1108.4 L2107.6 1108.4 L2107.9 1109.3 L2108.3 1107.2 L2108.6 1109.9 L2109.0 1111.3 L2109.3 1111.2 L2109.6 1112.5 L2110.0 1113.1 L2110.3 1113.0 L2110.7 1111.5 L2111.0 1109.5 L2111.3 1110.2 L2111.7 1111.8 L2112.0 1112.3 L2112.4 1113.8 L2112.7 1114.8 L2113.1 1113.5 L2113.4 1114.6 L2113.7 1112.9 L2114.1 1115.0 L2114.4 1115.1 L2114.8 1114.7 L2115.1 1115.8 L2115.5 1114.7 L2115.8 1115.0 L2116.1 1115.8 L2116.5 1115.7 L2116.8 1115.2 L2117.2 1115.3 L2117.5 1115.3 L2117.8 1115.6 L2118.2 1113.4 L2118.5 1115.2 L2118.9 1113.7 L2119.2 1115.8 L2119.6 1115.0 L2119.9 1114.0 L2120.2 1112.1 L2120.6 1111.9 L2120.9 1112.3 L2121.3 1112.5 L2121.6 1114.1 L2122.0 1114.5 L2122.3 1114.2 L2122.6 1112.5 L2123.0 1112.4 L2123.3 1113.2 L2123.7 1113.3 L2124.0 1112.3 L2124.3 1111.7 L2124.7 1113.0 L2125.0 1112.5 L2125.4 1111.6 L2125.7 1112.5 L2126.1 1112.6 L2126.4 1113.1 L2126.7 1115.1 L2127.1 1115.8 L2127.4 1115.8 L2127.8 1115.6 L2128.1 1115.3 L2128.5 1115.8 L2128.8 1114.7 L2129.1 1115.3 L2129.5 1115.5 L2129.8 1114.4 L2130.2 1112.5 L2130.5 1111.4 L2130.8 1110.3 L2131.2 1110.6 L2131.5 1111.3 L2131.9 1112.4 L2132.2 1113.9 L2132.6 1111.9 L2132.9 1110.3 L2133.2 1108.2 L2133.6 1108.9 L2133.9 1109.9 L2134.3 1112.1 L2134.6 1111.6 L2135.0 1110.5 L2135.3 1111.9 L2135.6 1112.5 L2136.0 1112.9 L2136.3 1114.6 L2136.7 1115.0 L2137.0 1115.8 L2137.3 1115.8 L2137.7 1114.9 L2138.0 1113.7 L2138.4 1112.4 L2138.7 1114.0 L2139.1 1113.9 L2139.4 1115.1 L2139.7 1115.8 L2140.1 1114.9 L2140.4 1115.0 L2140.8 1115.0 L2141.1 1115.8 L2141.5 1115.8 L2141.8 1113.8 L2142.1 1115.8 L2142.5 1114.6 L2142.8 1114.2 L2143.2 1112.3 L2143.5 1113.5 L2143.8 1114.7 L2144.2 1112.9 L2144.5 1112.7 L2144.9 1111.2 L2145.2 1113.6 L2145.6 1113.9 L2145.9 1113.0 L2146.2 1113.7 L2146.6 1112.7 L2146.9 1114.4 L2147.3 1114.4 L2147.6 1114.5 L2147.9 1113.7 L2148.3 1114.4 L2148.6 1112.2 L2149.0 1110.9 L2149.3 1112.0 L2149.7 1112.4 L2150.0 1114.7 L2150.3 1112.9 L2150.7 1111.9 L2151.0 1115.0 L2151.4 1114.6 L2151.7 1113.1 L2152.1 1112.2 L2152.4 1113.0 L2152.7 1112.2 L2153.1 1112.1 L2153.4 1109.0 L2153.8 1108.6 L2154.1 1109.5 L2154.4 1108.9 L2154.8 1110.9 L2155.1 1111.5 L2155.5 1107.7 L2155.8 1106.7 L2156.2 1105.3 L2156.5 1104.8 L2156.8 1106.3 L2157.2 1106.9 L2157.5 1108.4 L2157.9 1108.9 L2158.2 1107.6 L2158.6 1106.9 L2158.9 1107.9 L2159.2 1109.3 L2159.6 1109.3 L2159.9 1106.4 L2160.3 1107.1 L2160.6 1106.5 L2160.9 1107.6 L2161.3 1108.8 L2161.6 1112.2 L2162.0 1109.1 L2162.3 1110.0 L2162.7 1108.8 L2163.0 1106.4 L2163.3 1105.2 L2163.7 1104.7 L2164.0 1104.5 L2164.4 1104.9 L2164.7 1103.9 L2165.1 1103.8 L2165.4 1104.9 L2165.7 1105.5 L2166.1 1107.3 L2166.4 1107.1 L2166.8 1104.9 L2167.1 1104.2 L2167.4 1104.5 L2167.8 1106.1 L2168.1 1103.5 L2168.5 1103.2 L2168.8 1104.4 L2169.2 1104.9 L2169.5 1104.1 L2169.8 1105.1 L2170.2 1104.1 L2170.5 1103.4 L2170.9 1102.2 L2171.2 1102.8 L2171.6 1103.2 L2171.9 1102.6 L2172.2 1101.6 L2172.6 1101.0 L2172.9 1101.1 L2173.3 1100.0 L2173.6 1100.5 L2173.9 1098.9 L2174.3 1098.9 L2174.6 1099.2 L2175.0 1099.4 L2175.3 1097.6 L2175.7 1096.6 L2176.0 1094.3 L2176.3 1096.0 L2176.7 1094.4 L2177.0 1093.2 L2177.4 1093.5 L2177.7 1095.1 L2178.1 1095.1 L2178.4 1093.6 L2178.7 1094.8 L2179.1 1097.2 L2179.4 1097.0 L2179.8 1099.6 L2180.1 1099.6 L2180.4 1100.9 L2180.8 1100.5 L2181.1 1100.1 L2181.5 1099.3 L2181.8 1097.7 L2182.2 1096.3 L2182.5 1095.6 L2182.8 1096.9 L2183.2 1097.7 L2183.5 1094.8 L2183.9 1094.2 L2184.2 1097.2 L2184.6 1094.2 L2184.9 1094.8 L2185.2 1095.4 L2185.6 1096.9 L2185.9 1098.5 L2186.3 1097.4 L2186.6 1100.6 L2186.9 1100.6 L2187.3 1101.4 L2187.6 1100.6 L2188.0 1101.4 L2188.3 1099.3 L2188.7 1100.4 L2189.0 1101.1 L2189.3 1102.6 L2189.7 1100.0 L2190.0 1098.0 L2190.4 1098.7 L2190.7 1099.8 L2191.0 1101.8 L2191.4 1098.3 L2191.7 1097.2 L2192.1 1094.5 L2192.4 1095.1 L2192.8 1096.3 L2193.1 1095.2 L2193.4 1096.7 L2193.8 1095.8 L2194.1 1094.8 L2194.5 1094.7 L2194.8 1093.9 L2195.2 1091.4 L2195.5 1092.7 L2195.8 1093.2 L2196.2 1093.5 L2196.5 1094.4 L2196.9 1094.2 L2197.2 1093.7 L2197.5 1091.9 L2197.9 1090.2 L2198.2 1089.7 L2198.6 1088.4 L2198.9 1088.6 L2199.3 1091.0 L2199.6 1091.6 L2199.9 1091.8 L2200.3 1090.9 L2200.6 1089.6 L2201.0 1087.8 L2201.3 1086.7 L2201.7 1087.2 L2202.0 1085.5 L2202.3 1082.7 L2202.7 1082.6 L2203.0 1082.2 L2203.4 1082.4 L2203.7 1082.1 L2204.0 1080.6 L2204.4 1078.8 L2204.7 1079.7 L2205.1 1080.1 L2205.4 1080.8 L2205.8 1082.5 L2206.1 1083.0" fill="none" stroke="#f2495c" stroke-width="1.5" stroke-linejoin="round"/><path d="M1830.0 1231.1 L1830.5 1232.0 L1831.0 1231.2 L1831.6 1232.0 L1832.1 1230.9 L1832.6 1229.6 L1833.1 1229.6 L1833.6 1229.5 L1834.1 1228.9 L1834.7 1229.8 L1835.2 1230.0 L1835.7 1231.1 L1836.2 1232.0 L1836.7 1231.5 L1837.2 1232.0 L1837.8 1230.2 L1838.3 1228.9 L1838.8 1230.7 L1839.3 1230.9 L1839.8 1232.0 L1840.4 1231.7 L1840.9 1231.9 L1841.4 1232.0 L1841.9 1232.0 L1842.4 1232.0 L1842.9 1230.1 L1843.5 1230.7 L1844.0 1230.6 L1844.5 1228.8 L1845.0 1229.3 L1845.5 1230.8 L1846.1 1229.8 L1846.6 1231.5 L1847.1 1232.0 L1847.6 1231.8 L1848.1 1232.0 L1848.6 1232.0 L1849.2 1231.8 L1849.7 1231.6 L1850.2 1229.9 L1850.7 1231.2 L1851.2 1229.8 L1851.7 1229.9 L1852.3 1228.8 L1852.8 1229.1 L1853.3 1229.7 L1853.8 1232.0 L1854.3 1230.2 L1854.9 1230.7 L1855.4 1232.0 L1855.9 1230.6 L1856.4 1231.0 L1856.9 1232.0 L1857.4 1231.8 L1858.0 1231.2 L1858.5 1232.0 L1859.0 1231.5 L1859.5 1232.0 L1860.0 1231.9 L1860.6 1230.7 L1861.1 1231.3 L1861.6 1230.5 L1862.1 1231.6 L1862.6 1231.3 L1863.1 1229.8 L1863.7 1230.3 L1864.2 1229.4 L1864.7 1229.5 L1865.2 1228.4 L1865.7 1228.0 L1866.2 1230.7 L1866.8 1231.3 L1867.3 1231.1 L1867.8 1232.0 L1868.3 1231.2 L1868.8 1231.4 L1869.4 1232.0 L1869.9 1229.5 L1870.4 1227.1 L1870.9 1226.2 L1871.4 1227.2 L1871.9 1226.7 L1872.5 1228.0 L1873.0 1229.7 L1873.5 1229.1 L1874.0 1230.1 L1874.5 1228.9 L1875.1 1228.9 L1875.6 1226.1 L1876.1 1223.5 L1876.6 1223.6 L1877.1 1224.3 L1877.6 1222.7 L1878.2 1221.2 L1878.7 1220.9 L1879.2 1221.9 L1879.7 1224.3 L1880.2 1227.1 L1880.7 1228.4 L1881.3 1227.1 L1881.8 1227.5 L1882.3 1227.2 L1882.8 1230.4 L1883.3 1230.9 L1883.9 1229.7 L1884.4 1227.5 L1884.9 1230.4 L1885.4 1229.7 L1885.9 1232.0 L1886.4 1232.0 L1887.0 1231.6 L1887.5 1231.2 L1888.0 1229.5 L1888.5 1230.7 L1889.0 1231.9 L1889.6 1230.6 L1890.1 1231.2 L1890.6 1228.2 L1891.1 1228.7 L1891.6 1228.7 L1892.1 1228.5 L1892.7 1227.7 L1893.2 1229.3 L1893.7 1231.9 L1894.2 1231.2 L1894.7 1231.5 L1895.2 1231.5 L1895.8 1230.2 L1896.3 1230.7 L1896.8 1228.8 L1897.3 1229.9 L1897.8 1229.9 L1898.4 1228.5 L1898.9 1229.8 L1899.4 1231.1 L1899.9 1231.2 L1900.4 1230.1 L1900.9 1231.1 L1901.5 1231.4 L1902.0 1229.9 L1902.5 1230.0 L1903.0 1228.5 L1903.5 1228.7 L1904.0 1227.6 L1904.6 1227.1 L1905.1 1227.6 L1905.6 1225.0 L1906.1 1223.3 L1906.6 1221.7 L1907.2 1221.0 L1907.7 1221.5 L1908.2 1221.0 L1908.7 1221.3 L1909.2 1219.9 L1909.7 1222.3 L1910.3 1221.5 L1910.8 1218.6 L1911.3 1220.5 L1911.8 1218.4 L1912.3 1219.4 L1912.9 1217.9 L1913.4 1219.3 L1913.9 1218.7 L1914.4 1220.0 L1914.9 1222.2 L1915.4 1221.5 L1916.0 1220.6 L1916.5 1219.1 L1917.0 1219.0 L1917.5 1219.0 L1918.0 1218.2 L1918.5 1218.6 L1919.1 1220.5 L1919.6 1222.8 L1920.1 1225.9 L1920.6 1224.8 L1921.1 1226.8 L1921.7 1228.2 L1922.2 1230.7 L1922.7 1228.6 L1923.2 1229.6 L1923.7 1229.5 L1924.2 1227.6 L1924.8 1228.6 L1925.3 1228.5 L1925.8 1225.4 L1926.3 1227.0 L1926.8 1227.2 L1927.4 1226.1 L1927.9 1225.7 L1928.4 1224.5 L1928.9 1225.2 L1929.4 1224.5 L1929.9 1224.9 L1930.5 1224.7 L1931.0 1226.6 L1931.5 1227.7 L1932.0 1227.9 L1932.5 1227.0 L1933.0 1225.9 L1933.6 1228.4 L1934.1 1228.4 L1934.6 1228.8 L1935.1 1227.4 L1935.6 1229.2 L1936.2 1229.0 L1936.7 1228.5 L1937.2 1229.9 L1937.7 1226.7 L1938.2 1226.5 L1938.7 1227.7 L1939.3 1223.8 L1939.8 1221.7 L1940.3 1221.1 L1940.8 1223.6 L1941.3 1223.6 L1941.9 1223.0 L1942.4 1225.9 L1942.9 1222.7 L1943.4 1222.7 L1943.9 1219.9 L1944.4 1219.5 L1945.0 1217.6 L1945.5 1219.2 L1946.0 1220.0 L1946.5 1221.2 L1947.0 1220.7 L1947.5 1220.7 L1948.1 1222.3 L1948.6 1221.5 L1949.1 1220.5 L1949.6 1221.3 L1950.1 1219.7 L1950.7 1219.8 L1951.2 1218.5 L1951.7 1217.2 L1952.2 1216.8 L1952.7 1217.1 L1953.2 1217.4 L1953.8 1214.9 L1954.3 1214.4 L1954.8 1215.0 L1955.3 1213.8 L1955.8 1213.1 L1956.3 1214.4 L1956.9 1212.4 L1957.4 1212.8 L1957.9 1214.4 L1958.4 1213.6 L1958.9 1214.6 L1959.5 1214.3 L1960.0 1217.1 L1960.5 1215.2 L1961.0 1215.8 L1961.5 1217.5 L1962.0 1218.4 L1962.6 1216.3 L1963.1 1217.4 L1963.6 1219.7 L1964.1 1219.2 L1964.6 1220.2 L1965.2 1218.0 L1965.7 1218.3 L1966.2 1218.0 L1966.7 1218.0 L1967.2 1219.5 L1967.7 1217.6 L1968.3 1218.1 L1968.8 1218.2 L1969.3 1217.1 L1969.8 1219.7 L1970.3 1219.9 L1970.8 1221.5 L1971.4 1221.5 L1971.9 1220.3 L1972.4 1221.8 L1972.9 1221.7 L1973.4 1220.7 L1974.0 1219.3 L1974.5 1220.6 L1975.0 1221.2 L1975.5 1222.8 L1976.0 1224.3 L1976.5 1225.6 L1977.1 1226.3 L1977.6 1229.3 L1978.1 1228.7 L1978.6 1228.9 L1979.1 1228.8 L1979.7 1230.7 L1980.2 1231.4 L1980.7 1231.7 L1981.2 1231.3 L1981.7 1231.2 L1982.2 1231.6 L1982.8 1231.1 L1983.3 1231.4 L1983.8 1231.4 L1984.3 1229.3 L1984.8 1228.8 L1985.3 1227.3 L1985.9 1224.9 L1986.4 1224.3 L1986.9 1223.9 L1987.4 1224.4 L1987.9 1222.7 L1988.5 1220.4 L1989.0 1222.8 L1989.5 1222.1 L1990.0 1223.1 L1990.5 1224.3 L1991.0 1225.3 L1991.6 1226.7 L1992.1 1227.1 L1992.6 1224.2 L1993.1 1221.1 L1993.6 1220.6 L1994.2 1222.1 L1994.7 1223.0 L1995.2 1225.1 L1995.7 1225.2 L1996.2 1225.7 L1996.7 1229.0 L1997.3 1228.1 L1997.8 1227.3 L1998.3 1228.4 L1998.8 1227.4 L1999.3 1228.0 L1999.8 1228.4 L2000.4 1228.2 L2000.9 1228.4 L2001.4 1227.9 L2001.9 1226.5 L2002.4 1226.4 L2003.0 1224.8 L2003.5 1223.8 L2004.0 1222.4 L2004.5 1222.7 L2005.0 1223.6 L2005.5 1224.6 L2006.1 1222.5 L2006.6 1224.1 L2007.1 1225.0 L2007.6 1226.4 L2008.1 1227.4 L2008.7 1224.7 L2009.2 1225.3 L2009.7 1224.0 L2010.2 1224.3 L2010.7 1223.6 L2011.2 1223.3 L2011.8 1224.8 L2012.3 1224.8 L2012.8 1224.4 L2013.3 1223.8 L2013.8 1224.1 L2014.3 1223.3 L2014.9 1224.4 L2015.4 1226.6 L2015.9 1228.9 L2015.9 1233 L1830.0 1233Z" fill="#73bf69" fill-opacity="0.22"/><path d="M1830.0 1231.1 L1830.5 1232.0 L1831.0 1231.2 L1831.6 1232.0 L1832.1 1230.9 L1832.6 1229.6 L1833.1 1229.6 L1833.6 1229.5 L1834.1 1228.9 L1834.7 1229.8 L1835.2 1230.0 L1835.7 1231.1 L1836.2 1232.0 L1836.7 1231.5 L1837.2 1232.0 L1837.8 1230.2 L1838.3 1228.9 L1838.8 1230.7 L1839.3 1230.9 L1839.8 1232.0 L1840.4 1231.7 L1840.9 1231.9 L1841.4 1232.0 L1841.9 1232.0 L1842.4 1232.0 L1842.9 1230.1 L1843.5 1230.7 L1844.0 1230.6 L1844.5 1228.8 L1845.0 1229.3 L1845.5 1230.8 L1846.1 1229.8 L1846.6 1231.5 L1847.1 1232.0 L1847.6 1231.8 L1848.1 1232.0 L1848.6 1232.0 L1849.2 1231.8 L1849.7 1231.6 L1850.2 1229.9 L1850.7 1231.2 L1851.2 1229.8 L1851.7 1229.9 L1852.3 1228.8 L1852.8 1229.1 L1853.3 1229.7 L1853.8 1232.0 L1854.3 1230.2 L1854.9 1230.7 L1855.4 1232.0 L1855.9 1230.6 L1856.4 1231.0 L1856.9 1232.0 L1857.4 1231.8 L1858.0 1231.2 L1858.5 1232.0 L1859.0 1231.5 L1859.5 1232.0 L1860.0 1231.9 L1860.6 1230.7 L1861.1 1231.3 L1861.6 1230.5 L1862.1 1231.6 L1862.6 1231.3 L1863.1 1229.8 L1863.7 1230.3 L1864.2 1229.4 L1864.7 1229.5 L1865.2 1228.4 L1865.7 1228.0 L1866.2 1230.7 L1866.8 1231.3 L1867.3 1231.1 L1867.8 1232.0 L1868.3 1231.2 L1868.8 1231.4 L1869.4 1232.0 L1869.9 1229.5 L1870.4 1227.1 L1870.9 1226.2 L1871.4 1227.2 L1871.9 1226.7 L1872.5 1228.0 L1873.0 1229.7 L1873.5 1229.1 L1874.0 1230.1 L1874.5 1228.9 L1875.1 1228.9 L1875.6 1226.1 L1876.1 1223.5 L1876.6 1223.6 L1877.1 1224.3 L1877.6 1222.7 L1878.2 1221.2 L1878.7 1220.9 L1879.2 1221.9 L1879.7 1224.3 L1880.2 1227.1 L1880.7 1228.4 L1881.3 1227.1 L1881.8 1227.5 L1882.3 1227.2 L1882.8 1230.4 L1883.3 1230.9 L1883.9 1229.7 L1884.4 1227.5 L1884.9 1230.4 L1885.4 1229.7 L1885.9 1232.0 L1886.4 1232.0 L1887.0 1231.6 L1887.5 1231.2 L1888.0 1229.5 L1888.5 1230.7 L1889.0 1231.9 L1889.6 1230.6 L1890.1 1231.2 L1890.6 1228.2 L1891.1 1228.7 L1891.6 1228.7 L1892.1 1228.5 L1892.7 1227.7 L1893.2 1229.3 L1893.7 1231.9 L1894.2 1231.2 L1894.7 1231.5 L1895.2 1231.5 L1895.8 1230.2 L1896.3 1230.7 L1896.8 1228.8 L1897.3 1229.9 L1897.8 1229.9 L1898.4 1228.5 L1898.9 1229.8 L1899.4 1231.1 L1899.9 1231.2 L1900.4 1230.1 L1900.9 1231.1 L1901.5 1231.4 L1902.0 1229.9 L1902.5 1230.0 L1903.0 1228.5 L1903.5 1228.7 L1904.0 1227.6 L1904.6 1227.1 L1905.1 1227.6 L1905.6 1225.0 L1906.1 1223.3 L1906.6 1221.7 L1907.2 1221.0 L1907.7 1221.5 L1908.2 1221.0 L1908.7 1221.3 L1909.2 1219.9 L1909.7 1222.3 L1910.3 1221.5 L1910.8 1218.6 L1911.3 1220.5 L1911.8 1218.4 L1912.3 1219.4 L1912.9 1217.9 L1913.4 1219.3 L1913.9 1218.7 L1914.4 1220.0 L1914.9 1222.2 L1915.4 1221.5 L1916.0 1220.6 L1916.5 1219.1 L1917.0 1219.0 L1917.5 1219.0 L1918.0 1218.2 L1918.5 1218.6 L1919.1 1220.5 L1919.6 1222.8 L1920.1 1225.9 L1920.6 1224.8 L1921.1 1226.8 L1921.7 1228.2 L1922.2 1230.7 L1922.7 1228.6 L1923.2 1229.6 L1923.7 1229.5 L1924.2 1227.6 L1924.8 1228.6 L1925.3 1228.5 L1925.8 1225.4 L1926.3 1227.0 L1926.8 1227.2 L1927.4 1226.1 L1927.9 1225.7 L1928.4 1224.5 L1928.9 1225.2 L1929.4 1224.5 L1929.9 1224.9 L1930.5 1224.7 L1931.0 1226.6 L1931.5 1227.7 L1932.0 1227.9 L1932.5 1227.0 L1933.0 1225.9 L1933.6 1228.4 L1934.1 1228.4 L1934.6 1228.8 L1935.1 1227.4 L1935.6 1229.2 L1936.2 1229.0 L1936.7 1228.5 L1937.2 1229.9 L1937.7 1226.7 L1938.2 1226.5 L1938.7 1227.7 L1939.3 1223.8 L1939.8 1221.7 L1940.3 1221.1 L1940.8 1223.6 L1941.3 1223.6 L1941.9 1223.0 L1942.4 1225.9 L1942.9 1222.7 L1943.4 1222.7 L1943.9 1219.9 L1944.4 1219.5 L1945.0 1217.6 L1945.5 1219.2 L1946.0 1220.0 L1946.5 1221.2 L1947.0 1220.7 L1947.5 1220.7 L1948.1 1222.3 L1948.6 1221.5 L1949.1 1220.5 L1949.6 1221.3 L1950.1 1219.7 L1950.7 1219.8 L1951.2 1218.5 L1951.7 1217.2 L1952.2 1216.8 L1952.7 1217.1 L1953.2 1217.4 L1953.8 1214.9 L1954.3 1214.4 L1954.8 1215.0 L1955.3 1213.8 L1955.8 1213.1 L1956.3 1214.4 L1956.9 1212.4 L1957.4 1212.8 L1957.9 1214.4 L1958.4 1213.6 L1958.9 1214.6 L1959.5 1214.3 L1960.0 1217.1 L1960.5 1215.2 L1961.0 1215.8 L1961.5 1217.5 L1962.0 1218.4 L1962.6 1216.3 L1963.1 1217.4 L1963.6 1219.7 L1964.1 1219.2 L1964.6 1220.2 L1965.2 1218.0 L1965.7 1218.3 L1966.2 1218.0 L1966.7 1218.0 L1967.2 1219.5 L1967.7 1217.6 L1968.3 1218.1 L1968.8 1218.2 L1969.3 1217.1 L1969.8 1219.7 L1970.3 1219.9 L1970.8 1221.5 L1971.4 1221.5 L1971.9 1220.3 L1972.4 1221.8 L1972.9 1221.7 L1973.4 1220.7 L1974.0 1219.3 L1974.5 1220.6 L1975.0 1221.2 L1975.5 1222.8 L1976.0 1224.3 L1976.5 1225.6 L1977.1 1226.3 L1977.6 1229.3 L1978.1 1228.7 L1978.6 1228.9 L1979.1 1228.8 L1979.7 1230.7 L1980.2 1231.4 L1980.7 1231.7 L1981.2 1231.3 L1981.7 1231.2 L1982.2 1231.6 L1982.8 1231.1 L1983.3 1231.4 L1983.8 1231.4 L1984.3 1229.3 L1984.8 1228.8 L1985.3 1227.3 L1985.9 1224.9 L1986.4 1224.3 L1986.9 1223.9 L1987.4 1224.4 L1987.9 1222.7 L1988.5 1220.4 L1989.0 1222.8 L1989.5 1222.1 L1990.0 1223.1 L1990.5 1224.3 L1991.0 1225.3 L1991.6 1226.7 L1992.1 1227.1 L1992.6 1224.2 L1993.1 1221.1 L1993.6 1220.6 L1994.2 1222.1 L1994.7 1223.0 L1995.2 1225.1 L1995.7 1225.2 L1996.2 1225.7 L1996.7 1229.0 L1997.3 1228.1 L1997.8 1227.3 L1998.3 1228.4 L1998.8 1227.4 L1999.3 1228.0 L1999.8 1228.4 L2000.4 1228.2 L2000.9 1228.4 L2001.4 1227.9 L2001.9 1226.5 L2002.4 1226.4 L2003.0 1224.8 L2003.5 1223.8 L2004.0 1222.4 L2004.5 1222.7 L2005.0 1223.6 L2005.5 1224.6 L2006.1 1222.5 L2006.6 1224.1 L2007.1 1225.0 L2007.6 1226.4 L2008.1 1227.4 L2008.7 1224.7 L2009.2 1225.3 L2009.7 1224.0 L2010.2 1224.3 L2010.7 1223.6 L2011.2 1223.3 L2011.8 1224.8 L2012.3 1224.8 L2012.8 1224.4 L2013.3 1223.8 L2013.8 1224.1 L2014.3 1223.3 L2014.9 1224.4 L2015.4 1226.6 L2015.9 1228.9" fill="none" stroke="#73bf69" stroke-width="1.5" stroke-linejoin="round"/><path d="M2019.8 1231.4 L2020.3 1230.7 L2020.8 1228.8 L2021.4 1228.4 L2021.9 1227.0 L2022.4 1227.8 L2022.9 1229.1 L2023.4 1232.0 L2024.0 1232.0 L2024.5 1231.2 L2025.0 1231.8 L2025.5 1230.8 L2026.0 1231.4 L2026.5 1230.2 L2027.1 1229.2 L2027.6 1228.6 L2028.1 1229.4 L2028.6 1228.9 L2029.1 1231.2 L2029.7 1231.2 L2030.2 1231.5 L2030.7 1230.8 L2031.2 1227.8 L2031.7 1228.7 L2032.3 1226.3 L2032.8 1227.9 L2033.3 1225.5 L2033.8 1224.9 L2034.3 1224.8 L2034.8 1225.1 L2035.4 1224.8 L2035.9 1224.2 L2036.4 1222.9 L2036.9 1220.3 L2037.4 1219.0 L2038.0 1219.3 L2038.5 1217.1 L2039.0 1218.9 L2039.5 1218.9 L2040.0 1219.0 L2040.6 1216.9 L2041.1 1216.8 L2041.6 1217.2 L2042.1 1217.9 L2042.6 1218.1 L2043.2 1217.0 L2043.7 1215.4 L2044.2 1217.6 L2044.7 1216.4 L2045.2 1215.2 L2045.7 1217.4 L2046.3 1217.6 L2046.8 1219.2 L2047.3 1218.7 L2047.8 1219.1 L2048.3 1218.9 L2048.9 1221.5 L2049.4 1222.1 L2049.9 1221.6 L2050.4 1220.8 L2050.9 1219.7 L2051.5 1222.4 L2052.0 1222.2 L2052.5 1224.2 L2053.0 1225.1 L2053.5 1222.1 L2054.1 1220.3 L2054.6 1221.4 L2055.1 1222.4 L2055.6 1223.5 L2056.1 1221.7 L2056.6 1221.0 L2057.2 1222.7 L2057.7 1222.2 L2058.2 1220.0 L2058.7 1219.2 L2059.2 1219.8 L2059.8 1218.6 L2060.3 1219.5 L2060.8 1220.3 L2061.3 1220.9 L2061.8 1218.3 L2062.4 1216.2 L2062.9 1217.3 L2063.4 1216.6 L2063.9 1214.5 L2064.4 1215.5 L2064.9 1215.2 L2065.5 1215.5 L2066.0 1214.8 L2066.5 1215.6 L2067.0 1216.8 L2067.5 1215.8 L2068.1 1217.1 L2068.6 1218.8 L2069.1 1220.0 L2069.6 1217.2 L2070.1 1216.0 L2070.7 1216.1 L2071.2 1215.4 L2071.7 1217.1 L2072.2 1218.3 L2072.7 1219.3 L2073.3 1221.6 L2073.8 1223.0 L2074.3 1222.6 L2074.8 1222.3 L2075.3 1223.7 L2075.8 1221.9 L2076.4 1221.8 L2076.9 1220.7 L2077.4 1220.9 L2077.9 1218.4 L2078.4 1219.8 L2079.0 1219.1 L2079.5 1220.1 L2080.0 1218.2 L2080.5 1218.7 L2081.0 1215.8 L2081.6 1214.6 L2082.1 1214.3 L2082.6 1214.6 L2083.1 1214.7 L2083.6 1215.2 L2084.1 1214.9 L2084.7 1214.6 L2085.2 1215.6 L2085.7 1216.4 L2086.2 1218.3 L2086.7 1218.1 L2087.3 1217.6 L2087.8 1220.5 L2088.3 1220.7 L2088.8 1220.7 L2089.3 1223.1 L2089.9 1225.4 L2090.4 1224.4 L2090.9 1225.9 L2091.4 1227.4 L2091.9 1231.0 L2092.5 1229.5 L2093.0 1230.8 L2093.5 1230.5 L2094.0 1232.0 L2094.5 1231.3 L2095.0 1231.8 L2095.6 1231.4 L2096.1 1229.9 L2096.6 1228.2 L2097.1 1225.6 L2097.6 1227.4 L2098.2 1226.6 L2098.7 1227.6 L2099.2 1227.9 L2099.7 1225.7 L2100.2 1226.4 L2100.8 1224.0 L2101.3 1224.0 L2101.8 1225.4 L2102.3 1224.5 L2102.8 1226.2 L2103.3 1227.4 L2103.9 1228.7 L2104.4 1228.5 L2104.9 1230.1 L2105.4 1231.2 L2105.9 1231.1 L2106.5 1229.3 L2107.0 1227.1 L2107.5 1225.5 L2108.0 1226.0 L2108.5 1227.1 L2109.1 1228.2 L2109.6 1230.8 L2110.1 1229.9 L2110.6 1228.2 L2111.1 1230.3 L2111.7 1229.1 L2112.2 1226.9 L2112.7 1225.6 L2113.2 1224.6 L2113.7 1227.2 L2114.2 1226.3 L2114.8 1227.6 L2115.3 1225.2 L2115.8 1224.2 L2116.3 1221.6 L2116.8 1221.4 L2117.4 1219.8 L2117.9 1219.4 L2118.4 1217.8 L2118.9 1216.6 L2119.4 1217.6 L2120.0 1219.3 L2120.5 1218.7 L2121.0 1220.6 L2121.5 1219.7 L2122.0 1221.1 L2122.6 1222.2 L2123.1 1220.5 L2123.6 1218.6 L2124.1 1217.6 L2124.6 1216.7 L2125.1 1217.4 L2125.7 1216.6 L2126.2 1216.6 L2126.7 1215.5 L2127.2 1216.3 L2127.7 1217.4 L2128.3 1216.5 L2128.8 1215.5 L2129.3 1214.6 L2129.8 1217.4 L2130.3 1218.9 L2130.9 1217.6 L2131.4 1216.1 L2131.9 1216.6 L2132.4 1215.3 L2132.9 1216.6 L2133.4 1213.4 L2134.0 1214.8 L2134.5 1212.9 L2135.0 1215.6 L2135.5 1216.7 L2136.0 1219.1 L2136.6 1218.5 L2137.1 1216.4 L2137.6 1215.1 L2138.1 1212.9 L2138.6 1212.7 L2139.2 1214.6 L2139.7 1216.0 L2140.2 1218.1 L2140.7 1218.8 L2141.2 1219.1 L2141.8 1219.6 L2142.3 1220.7 L2142.8 1223.6 L2143.3 1224.4 L2143.8 1224.8 L2144.3 1225.0 L2144.9 1224.5 L2145.4 1225.2 L2145.9 1226.8 L2146.4 1225.4 L2146.9 1224.6 L2147.5 1221.6 L2148.0 1222.9 L2148.5 1226.0 L2149.0 1227.7 L2149.5 1228.7 L2150.1 1229.3 L2150.6 1229.3 L2151.1 1227.5 L2151.6 1226.9 L2152.1 1226.8 L2152.6 1226.8 L2153.2 1225.6 L2153.7 1225.2 L2154.2 1223.4 L2154.7 1224.1 L2155.2 1224.4 L2155.8 1224.7 L2156.3 1223.9 L2156.8 1223.7 L2157.3 1224.5 L2157.8 1223.0 L2158.4 1221.5 L2158.9 1224.2 L2159.4 1225.0 L2159.9 1224.1 L2160.4 1222.4 L2161.0 1221.1 L2161.5 1217.5 L2162.0 1216.2 L2162.5 1214.4 L2163.0 1212.2 L2163.5 1213.1 L2164.1 1213.6 L2164.6 1214.9 L2165.1 1215.0 L2165.6 1215.4 L2166.1 1214.6 L2166.7 1213.4 L2167.2 1214.3 L2167.7 1214.0 L2168.2 1213.6 L2168.7 1215.7 L2169.3 1218.9 L2169.8 1215.4 L2170.3 1216.6 L2170.8 1219.3 L2171.3 1219.5 L2171.8 1217.8 L2172.4 1218.5 L2172.9 1220.7 L2173.4 1217.4 L2173.9 1215.8 L2174.4 1217.6 L2175.0 1215.8 L2175.5 1214.9 L2176.0 1211.8 L2176.5 1211.2 L2177.0 1212.9 L2177.6 1213.1 L2178.1 1212.7 L2178.6 1214.1 L2179.1 1216.6 L2179.6 1217.5 L2180.2 1216.2 L2180.7 1219.5 L2181.2 1218.5 L2181.7 1221.1 L2182.2 1221.6 L2182.7 1225.0 L2183.3 1222.6 L2183.8 1222.6 L2184.3 1222.5 L2184.8 1220.6 L2185.3 1219.0 L2185.9 1220.6 L2186.4 1220.8 L2186.9 1220.7 L2187.4 1219.4 L2187.9 1222.7 L2188.5 1221.3 L2189.0 1221.4 L2189.5 1220.4 L2190.0 1220.4 L2190.5 1220.7 L2191.1 1219.4 L2191.6 1216.8 L2192.1 1214.4 L2192.6 1213.2 L2193.1 1213.1 L2193.6 1213.5 L2194.2 1214.7 L2194.7 1212.1 L2195.2 1213.5 L2195.7 1212.3 L2196.2 1213.9 L2196.8 1214.0 L2197.3 1214.5 L2197.8 1215.9 L2198.3 1215.3 L2198.8 1217.3 L2199.4 1217.2 L2199.9 1216.1 L2200.4 1215.0 L2200.9 1215.7 L2201.4 1213.0 L2201.9 1213.9 L2202.5 1214.3 L2203.0 1215.5 L2203.5 1214.6 L2204.0 1211.8 L2204.5 1211.5 L2205.1 1212.7 L2205.6 1216.3 L2206.1 1216.7 L2206.1 1233 L2019.8 1233Z" fill="#73bf69" fill-opacity="0.22"/><path d="M2019.8 1231.4 L2020.3 1230.7 L2020.8 1228.8 L2021.4 1228.4 L2021.9 1227.0 L2022.4 1227.8 L2022.9 1229.1 L2023.4 1232.0 L2024.0 1232.0 L2024.5 1231.2 L2025.0 1231.8 L2025.5 1230.8 L2026.0 1231.4 L2026.5 1230.2 L2027.1 1229.2 L2027.6 1228.6 L2028.1 1229.4 L2028.6 1228.9 L2029.1 1231.2 L2029.7 1231.2 L2030.2 1231.5 L2030.7 1230.8 L2031.2 1227.8 L2031.7 1228.7 L2032.3 1226.3 L2032.8 1227.9 L2033.3 1225.5 L2033.8 1224.9 L2034.3 1224.8 L2034.8 1225.1 L2035.4 1224.8 L2035.9 1224.2 L2036.4 1222.9 L2036.9 1220.3 L2037.4 1219.0 L2038.0 1219.3 L2038.5 1217.1 L2039.0 1218.9 L2039.5 1218.9 L2040.0 1219.0 L2040.6 1216.9 L2041.1 1216.8 L2041.6 1217.2 L2042.1 1217.9 L2042.6 1218.1 L2043.2 1217.0 L2043.7 1215.4 L2044.2 1217.6 L2044.7 1216.4 L2045.2 1215.2 L2045.7 1217.4 L2046.3 1217.6 L2046.8 1219.2 L2047.3 1218.7 L2047.8 1219.1 L2048.3 1218.9 L2048.9 1221.5 L2049.4 1222.1 L2049.9 1221.6 L2050.4 1220.8 L2050.9 1219.7 L2051.5 1222.4 L2052.0 1222.2 L2052.5 1224.2 L2053.0 1225.1 L2053.5 1222.1 L2054.1 1220.3 L2054.6 1221.4 L2055.1 1222.4 L2055.6 1223.5 L2056.1 1221.7 L2056.6 1221.0 L2057.2 1222.7 L2057.7 1222.2 L2058.2 1220.0 L2058.7 1219.2 L2059.2 1219.8 L2059.8 1218.6 L2060.3 1219.5 L2060.8 1220.3 L2061.3 1220.9 L2061.8 1218.3 L2062.4 1216.2 L2062.9 1217.3 L2063.4 1216.6 L2063.9 1214.5 L2064.4 1215.5 L2064.9 1215.2 L2065.5 1215.5 L2066.0 1214.8 L2066.5 1215.6 L2067.0 1216.8 L2067.5 1215.8 L2068.1 1217.1 L2068.6 1218.8 L2069.1 1220.0 L2069.6 1217.2 L2070.1 1216.0 L2070.7 1216.1 L2071.2 1215.4 L2071.7 1217.1 L2072.2 1218.3 L2072.7 1219.3 L2073.3 1221.6 L2073.8 1223.0 L2074.3 1222.6 L2074.8 1222.3 L2075.3 1223.7 L2075.8 1221.9 L2076.4 1221.8 L2076.9 1220.7 L2077.4 1220.9 L2077.9 1218.4 L2078.4 1219.8 L2079.0 1219.1 L2079.5 1220.1 L2080.0 1218.2 L2080.5 1218.7 L2081.0 1215.8 L2081.6 1214.6 L2082.1 1214.3 L2082.6 1214.6 L2083.1 1214.7 L2083.6 1215.2 L2084.1 1214.9 L2084.7 1214.6 L2085.2 1215.6 L2085.7 1216.4 L2086.2 1218.3 L2086.7 1218.1 L2087.3 1217.6 L2087.8 1220.5 L2088.3 1220.7 L2088.8 1220.7 L2089.3 1223.1 L2089.9 1225.4 L2090.4 1224.4 L2090.9 1225.9 L2091.4 1227.4 L2091.9 1231.0 L2092.5 1229.5 L2093.0 1230.8 L2093.5 1230.5 L2094.0 1232.0 L2094.5 1231.3 L2095.0 1231.8 L2095.6 1231.4 L2096.1 1229.9 L2096.6 1228.2 L2097.1 1225.6 L2097.6 1227.4 L2098.2 1226.6 L2098.7 1227.6 L2099.2 1227.9 L2099.7 1225.7 L2100.2 1226.4 L2100.8 1224.0 L2101.3 1224.0 L2101.8 1225.4 L2102.3 1224.5 L2102.8 1226.2 L2103.3 1227.4 L2103.9 1228.7 L2104.4 1228.5 L2104.9 1230.1 L2105.4 1231.2 L2105.9 1231.1 L2106.5 1229.3 L2107.0 1227.1 L2107.5 1225.5 L2108.0 1226.0 L2108.5 1227.1 L2109.1 1228.2 L2109.6 1230.8 L2110.1 1229.9 L2110.6 1228.2 L2111.1 1230.3 L2111.7 1229.1 L2112.2 1226.9 L2112.7 1225.6 L2113.2 1224.6 L2113.7 1227.2 L2114.2 1226.3 L2114.8 1227.6 L2115.3 1225.2 L2115.8 1224.2 L2116.3 1221.6 L2116.8 1221.4 L2117.4 1219.8 L2117.9 1219.4 L2118.4 1217.8 L2118.9 1216.6 L2119.4 1217.6 L2120.0 1219.3 L2120.5 1218.7 L2121.0 1220.6 L2121.5 1219.7 L2122.0 1221.1 L2122.6 1222.2 L2123.1 1220.5 L2123.6 1218.6 L2124.1 1217.6 L2124.6 1216.7 L2125.1 1217.4 L2125.7 1216.6 L2126.2 1216.6 L2126.7 1215.5 L2127.2 1216.3 L2127.7 1217.4 L2128.3 1216.5 L2128.8 1215.5 L2129.3 1214.6 L2129.8 1217.4 L2130.3 1218.9 L2130.9 1217.6 L2131.4 1216.1 L2131.9 1216.6 L2132.4 1215.3 L2132.9 1216.6 L2133.4 1213.4 L2134.0 1214.8 L2134.5 1212.9 L2135.0 1215.6 L2135.5 1216.7 L2136.0 1219.1 L2136.6 1218.5 L2137.1 1216.4 L2137.6 1215.1 L2138.1 1212.9 L2138.6 1212.7 L2139.2 1214.6 L2139.7 1216.0 L2140.2 1218.1 L2140.7 1218.8 L2141.2 1219.1 L2141.8 1219.6 L2142.3 1220.7 L2142.8 1223.6 L2143.3 1224.4 L2143.8 1224.8 L2144.3 1225.0 L2144.9 1224.5 L2145.4 1225.2 L2145.9 1226.8 L2146.4 1225.4 L2146.9 1224.6 L2147.5 1221.6 L2148.0 1222.9 L2148.5 1226.0 L2149.0 1227.7 L2149.5 1228.7 L2150.1 1229.3 L2150.6 1229.3 L2151.1 1227.5 L2151.6 1226.9 L2152.1 1226.8 L2152.6 1226.8 L2153.2 1225.6 L2153.7 1225.2 L2154.2 1223.4 L2154.7 1224.1 L2155.2 1224.4 L2155.8 1224.7 L2156.3 1223.9 L2156.8 1223.7 L2157.3 1224.5 L2157.8 1223.0 L2158.4 1221.5 L2158.9 1224.2 L2159.4 1225.0 L2159.9 1224.1 L2160.4 1222.4 L2161.0 1221.1 L2161.5 1217.5 L2162.0 1216.2 L2162.5 1214.4 L2163.0 1212.2 L2163.5 1213.1 L2164.1 1213.6 L2164.6 1214.9 L2165.1 1215.0 L2165.6 1215.4 L2166.1 1214.6 L2166.7 1213.4 L2167.2 1214.3 L2167.7 1214.0 L2168.2 1213.6 L2168.7 1215.7 L2169.3 1218.9 L2169.8 1215.4 L2170.3 1216.6 L2170.8 1219.3 L2171.3 1219.5 L2171.8 1217.8 L2172.4 1218.5 L2172.9 1220.7 L2173.4 1217.4 L2173.9 1215.8 L2174.4 1217.6 L2175.0 1215.8 L2175.5 1214.9 L2176.0 1211.8 L2176.5 1211.2 L2177.0 1212.9 L2177.6 1213.1 L2178.1 1212.7 L2178.6 1214.1 L2179.1 1216.6 L2179.6 1217.5 L2180.2 1216.2 L2180.7 1219.5 L2181.2 1218.5 L2181.7 1221.1 L2182.2 1221.6 L2182.7 1225.0 L2183.3 1222.6 L2183.8 1222.6 L2184.3 1222.5 L2184.8 1220.6 L2185.3 1219.0 L2185.9 1220.6 L2186.4 1220.8 L2186.9 1220.7 L2187.4 1219.4 L2187.9 1222.7 L2188.5 1221.3 L2189.0 1221.4 L2189.5 1220.4 L2190.0 1220.4 L2190.5 1220.7 L2191.1 1219.4 L2191.6 1216.8 L2192.1 1214.4 L2192.6 1213.2 L2193.1 1213.1 L2193.6 1213.5 L2194.2 1214.7 L2194.7 1212.1 L2195.2 1213.5 L2195.7 1212.3 L2196.2 1213.9 L2196.8 1214.0 L2197.3 1214.5 L2197.8 1215.9 L2198.3 1215.3 L2198.8 1217.3 L2199.4 1217.2 L2199.9 1216.1 L2200.4 1215.0 L2200.9 1215.7 L2201.4 1213.0 L2201.9 1213.9 L2202.5 1214.3 L2203.0 1215.5 L2203.5 1214.6 L2204.0 1211.8 L2204.5 1211.5 L2205.1 1212.7 L2205.6 1216.3 L2206.1 1216.7" fill="none" stroke="#73bf69" stroke-width="1.5" stroke-linejoin="round"/></svg>
<span class="t" style="left:1860.90px;top:1016.96px;font-size:15.704px;line-height:20px;color:#ccccdc;letter-spacing:0.200px;-webkit-text-stroke:0.3px #ccccdc;">A-series</span>
<span class="t" style="left:1853.40px;top:1031.21px;font-size:37.648px;line-height:49px;color:#73bf69;letter-spacing:0.242px;-webkit-text-stroke:1.1px #73bf69;">76.2</span>
<span class="t" style="left:1984.15px;top:1016.96px;font-size:15.704px;line-height:20px;color:#ccccdc;letter-spacing:0.021px;-webkit-text-stroke:0.3px #ccccdc;">A-series1</span>
<span class="t" style="left:1982.40px;top:1031.21px;font-size:37.648px;line-height:49px;color:#f2495c;letter-spacing:0.414px;-webkit-text-stroke:1.1px #f2495c;">9<span style="margin:0 -0.05em 0 -0.07em">1</span>.0</span>
<span class="t" style="left:2109.80px;top:1016.96px;font-size:15.704px;line-height:20px;color:#ccccdc;letter-spacing:0.209px;-webkit-text-stroke:0.3px #ccccdc;">A-series2</span>
<span class="t" style="left:2110.30px;top:1031.21px;font-size:37.648px;line-height:49px;color:#f2495c;letter-spacing:-0.586px;-webkit-text-stroke:1.1px #f2495c;">85.<span style="margin:0 -0.05em 0 -0.07em">1</span></span>
<span class="t" style="left:1888.35px;top:1131.86px;font-size:15.704px;line-height:20px;color:#ccccdc;letter-spacing:0.146px;-webkit-text-stroke:0.3px #ccccdc;">A-series3</span>
<span class="t" style="left:1885.35px;top:1145.51px;font-size:37.648px;line-height:49px;color:#73bf69;letter-spacing:0.075px;-webkit-text-stroke:1.1px #73bf69;">75.8</span>
<span class="t" style="left:2078.10px;top:1131.86px;font-size:15.704px;line-height:20px;color:#ccccdc;letter-spacing:0.209px;-webkit-text-stroke:0.3px #ccccdc;">A-series4</span>
<span class="t" style="left:2075.35px;top:1145.51px;font-size:37.648px;line-height:49px;color:#73bf69;letter-spacing:0.075px;-webkit-text-stroke:1.1px #73bf69;">79.7</span>
<div class="b" style="left:2231px;top:993px;width:398px;height:249px;background:#181b1f;border:1px solid #33353b;border-radius:11px;box-sizing:border-box;overflow:hidden;"></div>
<div class="b" style="left:2241.7px;top:1004.9px;width:123.7px;height:111.8px;background:linear-gradient(120deg,#45a043,#73bf69);"></div>
<span class="t" style="left:2274.05px;top:1025.06px;font-size:15.704px;line-height:20px;color:#ffffff;letter-spacing:0.200px;-webkit-text-stroke:0.3px #ffffff;">A-series</span>
<span class="t" style="left:2259.05px;top:1038.69px;font-size:45.552px;line-height:59px;color:#ffffff;letter-spacing:0.114px;-webkit-text-stroke:1.4px #ffffff;">76.2</span>
<div class="b" style="left:2368.7px;top:1004.9px;width:123.6px;height:111.8px;background:linear-gradient(120deg,#e0151c,#f23562);"></div>
<span class="t" style="left:2397.25px;top:1025.06px;font-size:15.704px;line-height:20px;color:#ffffff;letter-spacing:0.021px;-webkit-text-stroke:0.3px #ffffff;">A-series1</span>
<span class="t" style="left:2388.25px;top:1038.69px;font-size:45.552px;line-height:59px;color:#ffffff;letter-spacing:0.436px;-webkit-text-stroke:1.4px #ffffff;">9<span style="margin:0 -0.05em 0 -0.07em">1</span>.0</span>
<div class="b" style="left:2495.6px;top:1004.9px;width:123.6px;height:111.8px;background:linear-gradient(120deg,#e0151c,#f23562);"></div>
<span class="t" style="left:2523.40px;top:1025.06px;font-size:15.704px;line-height:20px;color:#ffffff;letter-spacing:0.209px;-webkit-text-stroke:0.3px #ffffff;">A-series2</span>
<span class="t" style="left:2517.15px;top:1038.69px;font-size:45.552px;line-height:59px;color:#ffffff;letter-spacing:-0.898px;-webkit-text-stroke:1.4px #ffffff;">85.<span style="margin:0 -0.05em 0 -0.07em">1</span></span>
<div class="b" style="left:2241.7px;top:1120.3px;width:187.1px;height:112.5px;background:linear-gradient(120deg,#45a043,#73bf69);"></div>
<span class="t" style="left:2301.50px;top:1131.16px;font-size:15.704px;line-height:20px;color:#ffffff;letter-spacing:0.146px;-webkit-text-stroke:0.3px #ffffff;">A-series3</span>
<span class="t" style="left:2274.50px;top:1141.54px;font-size:62.92px;line-height:82px;color:#ffffff;letter-spacing:-0.321px;-webkit-text-stroke:2.0px #ffffff;">75.8</span>
<div class="b" style="left:2432.2px;top:1120.3px;width:187.0px;height:112.5px;background:linear-gradient(120deg,#45a043,#73bf69);"></div>
<span class="t" style="left:2491.70px;top:1131.16px;font-size:15.704px;line-height:20px;color:#ffffff;letter-spacing:0.209px;-webkit-text-stroke:0.3px #ffffff;">A-series4</span>
<span class="t" style="left:2465.70px;top:1141.54px;font-size:62.92px;line-height:82px;color:#ffffff;letter-spacing:-0.821px;-webkit-text-stroke:2.0px #ffffff;">79.7</span>
<div class="b" style="left:1784.1px;top:497px;width:7.4px;height:360px;background:#434449;border-radius:3.7px;"></div>
<div class="b" style="left:0px;top:0px;width:1px;height:1258px;background:#2d2f35;"></div>
<svg class="b" style="left:0px;top:1254px;" width="24" height="20"><path d="M0 0V20H19A18.500 18.500 0 0 1 0.500 1.500z" fill="#08090b"/><path d="M0.500 0V1.500A18.500 18.500 0 0 0 19 20" fill="none" stroke="#2d2f35" stroke-width="1.2"/></svg>
</div></body></html>
